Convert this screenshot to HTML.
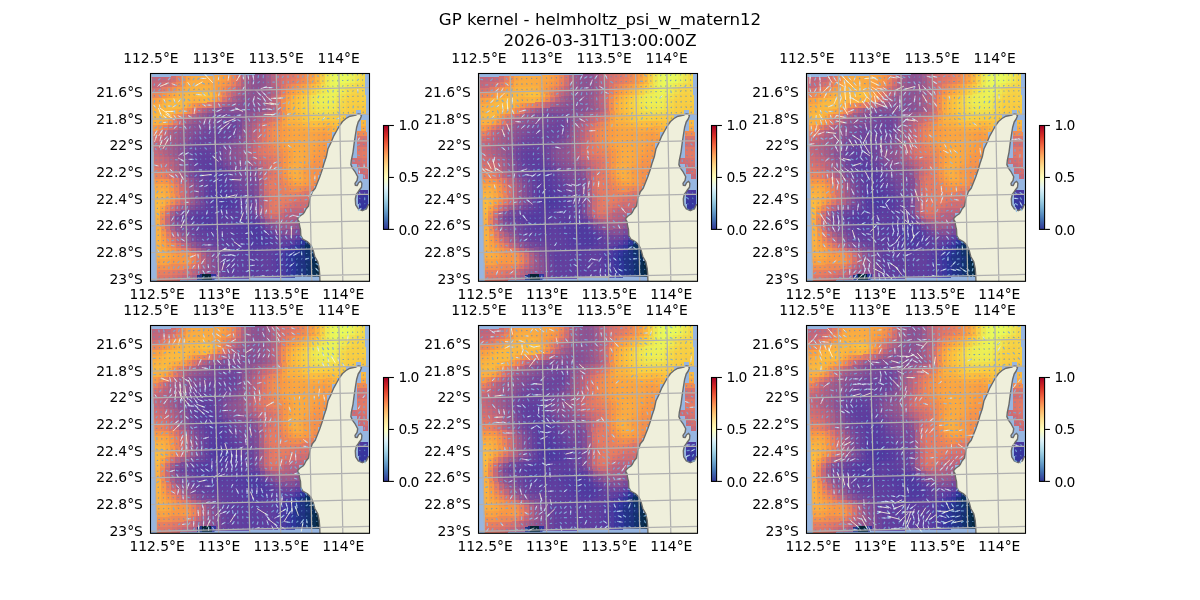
<!DOCTYPE html><html><head><meta charset="utf-8"><title>GP kernel</title>
<style>html,body{margin:0;padding:0;background:#fff}svg{display:block}text{font-family:"DejaVu Sans","Liberation Sans",sans-serif;fill:#000}</style></head><body>
<svg width="1200" height="600" viewBox="0 0 1200 600">
<rect width="1200" height="600" fill="#fff"/>
<defs>
<clipPath id="cp"><rect x="150.5" y="73.5" width="219" height="207.8"/></clipPath>
<linearGradient id="cb" x1="0" y1="1" x2="0" y2="0">
<stop offset="0" stop-color="#313695"/>
<stop offset="0.1" stop-color="#4575b4"/>
<stop offset="0.2" stop-color="#74add1"/>
<stop offset="0.3" stop-color="#abd9e9"/>
<stop offset="0.4" stop-color="#e0f3f8"/>
<stop offset="0.5" stop-color="#ffffbf"/>
<stop offset="0.6" stop-color="#fee090"/>
<stop offset="0.7" stop-color="#fdae61"/>
<stop offset="0.8" stop-color="#f46d43"/>
<stop offset="0.9" stop-color="#d73027"/>
<stop offset="1" stop-color="#a50026"/>
</linearGradient>
<g id="heat" transform="matrix(4.9629 -0.1189 0.1444 5.3660 151.495 76.990)" shape-rendering="crispEdges">
<rect x="0" y="0" width="1.03" height="1.03" fill="#be667d"/>
<rect x="1" y="0" width="1.03" height="1.03" fill="#bf667d"/>
<rect x="2" y="0" width="1.03" height="1.03" fill="#c3677b"/>
<rect x="3" y="0" width="1.03" height="1.03" fill="#c86a78"/>
<rect x="4" y="0" width="1.03" height="1.03" fill="#d17071"/>
<rect x="5" y="0" width="1.03" height="1.03" fill="#e57c64"/>
<rect x="6" y="0" width="1.03" height="1.03" fill="#f4924d"/>
<rect x="7" y="0" width="1.03" height="1.03" fill="#f9a343"/>
<rect x="8" y="0" width="1.03" height="1.03" fill="#faaa42"/>
<rect x="9" y="0" width="2.03" height="1.03" fill="#faab42"/>
<rect x="11" y="0" width="1.03" height="1.03" fill="#faaa42"/>
<rect x="12" y="0" width="1.03" height="1.03" fill="#faa842"/>
<rect x="13" y="0" width="1.03" height="1.03" fill="#faa542"/>
<rect x="14" y="0" width="1.03" height="1.03" fill="#f99f43"/>
<rect x="15" y="0" width="1.03" height="1.03" fill="#f69549"/>
<rect x="16" y="0" width="1.03" height="1.03" fill="#ec8758"/>
<rect x="17" y="0" width="1.03" height="1.03" fill="#d7746d"/>
<rect x="18" y="0" width="1.03" height="1.03" fill="#b76480"/>
<rect x="19" y="0" width="1.03" height="1.03" fill="#9d5a8b"/>
<rect x="20" y="0" width="1.03" height="1.03" fill="#915490"/>
<rect x="21" y="0" width="1.03" height="1.03" fill="#8d5391"/>
<rect x="22" y="0" width="1.03" height="1.03" fill="#925590"/>
<rect x="23" y="0" width="1.03" height="1.03" fill="#a15c8a"/>
<rect x="24" y="0" width="1.03" height="1.03" fill="#b9647f"/>
<rect x="25" y="0" width="1.03" height="1.03" fill="#cb6c76"/>
<rect x="26" y="0" width="1.03" height="1.03" fill="#d5726f"/>
<rect x="27" y="0" width="1.03" height="1.03" fill="#db766b"/>
<rect x="28" y="0" width="1.03" height="1.03" fill="#e17967"/>
<rect x="29" y="0" width="1.03" height="1.03" fill="#e77f61"/>
<rect x="30" y="0" width="1.03" height="1.03" fill="#ed8857"/>
<rect x="31" y="0" width="1.03" height="1.03" fill="#f4924d"/>
<rect x="32" y="0" width="1.03" height="1.03" fill="#f99e43"/>
<rect x="33" y="0" width="1.03" height="1.03" fill="#fab340"/>
<rect x="34" y="0" width="1.03" height="1.03" fill="#f8cd43"/>
<rect x="35" y="0" width="1.03" height="1.03" fill="#efe751"/>
<rect x="36" y="0" width="1.03" height="1.03" fill="#eaf558"/>
<rect x="37" y="0" width="2.03" height="1.03" fill="#e8fa5b"/>
<rect x="39" y="0" width="1.03" height="1.03" fill="#e9f85a"/>
<rect x="40" y="0" width="1.03" height="1.03" fill="#ebf156"/>
<rect x="41" y="0" width="1.03" height="1.03" fill="#efe650"/>
<rect x="42" y="0" width="1.00" height="1.03" fill="#f3da4a"/>
<rect x="0" y="1" width="1.03" height="1.03" fill="#c4687a"/>
<rect x="1" y="1" width="1.03" height="1.03" fill="#c76979"/>
<rect x="2" y="1" width="1.03" height="1.03" fill="#ce6e74"/>
<rect x="3" y="1" width="1.03" height="1.03" fill="#d7736e"/>
<rect x="4" y="1" width="1.03" height="1.03" fill="#e37b66"/>
<rect x="5" y="1" width="1.03" height="1.03" fill="#ee8a55"/>
<rect x="6" y="1" width="1.03" height="1.03" fill="#f99b44"/>
<rect x="7" y="1" width="1.03" height="1.03" fill="#faaa42"/>
<rect x="8" y="1" width="2.03" height="1.03" fill="#faad41"/>
<rect x="10" y="1" width="1.03" height="1.03" fill="#faac41"/>
<rect x="11" y="1" width="1.03" height="1.03" fill="#faaa42"/>
<rect x="12" y="1" width="1.03" height="1.03" fill="#faa642"/>
<rect x="13" y="1" width="1.03" height="1.03" fill="#f9a043"/>
<rect x="14" y="1" width="1.03" height="1.03" fill="#f89945"/>
<rect x="15" y="1" width="1.03" height="1.03" fill="#f2904f"/>
<rect x="16" y="1" width="1.03" height="1.03" fill="#e8805f"/>
<rect x="17" y="1" width="1.03" height="1.03" fill="#d27071"/>
<rect x="18" y="1" width="1.03" height="1.03" fill="#b46281"/>
<rect x="19" y="1" width="1.03" height="1.03" fill="#9c5a8c"/>
<rect x="20" y="1" width="1.03" height="1.03" fill="#905490"/>
<rect x="21" y="1" width="1.03" height="1.03" fill="#8d5391"/>
<rect x="22" y="1" width="1.03" height="1.03" fill="#925590"/>
<rect x="23" y="1" width="1.03" height="1.03" fill="#a05c8a"/>
<rect x="24" y="1" width="1.03" height="1.03" fill="#b66380"/>
<rect x="25" y="1" width="1.03" height="1.03" fill="#ca6b77"/>
<rect x="26" y="1" width="1.03" height="1.03" fill="#d6736e"/>
<rect x="27" y="1" width="1.03" height="1.03" fill="#de7869"/>
<rect x="28" y="1" width="1.03" height="1.03" fill="#e57d63"/>
<rect x="29" y="1" width="1.03" height="1.03" fill="#ea845c"/>
<rect x="30" y="1" width="1.03" height="1.03" fill="#f08d52"/>
<rect x="31" y="1" width="1.03" height="1.03" fill="#f69648"/>
<rect x="32" y="1" width="1.03" height="1.03" fill="#f9a443"/>
<rect x="33" y="1" width="1.03" height="1.03" fill="#fab740"/>
<rect x="34" y="1" width="1.03" height="1.03" fill="#f7d045"/>
<rect x="35" y="1" width="1.03" height="1.03" fill="#eee851"/>
<rect x="36" y="1" width="1.03" height="1.03" fill="#eaf559"/>
<rect x="37" y="1" width="2.03" height="1.03" fill="#e8fa5b"/>
<rect x="39" y="1" width="1.03" height="1.03" fill="#e9f759"/>
<rect x="40" y="1" width="1.03" height="1.03" fill="#ecef55"/>
<rect x="41" y="1" width="1.03" height="1.03" fill="#efe550"/>
<rect x="42" y="1" width="1.00" height="1.03" fill="#f3da4a"/>
<rect x="0" y="2" width="1.03" height="1.03" fill="#d5726f"/>
<rect x="1" y="2" width="1.03" height="1.03" fill="#d9746c"/>
<rect x="2" y="2" width="1.03" height="1.03" fill="#e37b65"/>
<rect x="3" y="2" width="1.03" height="1.03" fill="#eb855a"/>
<rect x="4" y="2" width="1.03" height="1.03" fill="#f3914e"/>
<rect x="5" y="2" width="1.03" height="1.03" fill="#f99d44"/>
<rect x="6" y="2" width="1.03" height="1.03" fill="#faab42"/>
<rect x="7" y="2" width="1.03" height="1.03" fill="#fab241"/>
<rect x="8" y="2" width="3.03" height="1.03" fill="#fab340"/>
<rect x="11" y="2" width="1.03" height="1.03" fill="#faaf41"/>
<rect x="12" y="2" width="1.03" height="1.03" fill="#faa742"/>
<rect x="13" y="2" width="1.03" height="1.03" fill="#f99b44"/>
<rect x="14" y="2" width="1.03" height="1.03" fill="#f2904f"/>
<rect x="15" y="2" width="1.03" height="1.03" fill="#e9825d"/>
<rect x="16" y="2" width="1.03" height="1.03" fill="#d9756c"/>
<rect x="17" y="2" width="1.03" height="1.03" fill="#c4687a"/>
<rect x="18" y="2" width="1.03" height="1.03" fill="#ac6085"/>
<rect x="19" y="2" width="1.03" height="1.03" fill="#99598d"/>
<rect x="20" y="2" width="1.03" height="1.03" fill="#905490"/>
<rect x="21" y="2" width="1.03" height="1.03" fill="#8e5391"/>
<rect x="22" y="2" width="1.03" height="1.03" fill="#93558f"/>
<rect x="23" y="2" width="1.03" height="1.03" fill="#9f5b8b"/>
<rect x="24" y="2" width="1.03" height="1.03" fill="#b16282"/>
<rect x="25" y="2" width="1.03" height="1.03" fill="#c86a78"/>
<rect x="26" y="2" width="1.03" height="1.03" fill="#dc766a"/>
<rect x="27" y="2" width="1.03" height="1.03" fill="#e9825d"/>
<rect x="28" y="2" width="1.03" height="1.03" fill="#f08c53"/>
<rect x="29" y="2" width="1.03" height="1.03" fill="#f69549"/>
<rect x="30" y="2" width="1.03" height="1.03" fill="#f99f43"/>
<rect x="31" y="2" width="1.03" height="1.03" fill="#faab42"/>
<rect x="32" y="2" width="1.03" height="1.03" fill="#fab940"/>
<rect x="33" y="2" width="1.03" height="1.03" fill="#fac840"/>
<rect x="34" y="2" width="1.03" height="1.03" fill="#f3dc4b"/>
<rect x="35" y="2" width="1.03" height="1.03" fill="#edec53"/>
<rect x="36" y="2" width="1.03" height="1.03" fill="#eaf558"/>
<rect x="37" y="2" width="1.03" height="1.03" fill="#e9f759"/>
<rect x="38" y="2" width="1.03" height="1.03" fill="#ebf257"/>
<rect x="39" y="2" width="1.03" height="1.03" fill="#eeea53"/>
<rect x="40" y="2" width="1.03" height="1.03" fill="#f1e24e"/>
<rect x="41" y="2" width="1.03" height="1.03" fill="#f3db4a"/>
<rect x="42" y="2" width="1.00" height="1.03" fill="#f5d648"/>
<rect x="0" y="3" width="1.03" height="1.03" fill="#ec8758"/>
<rect x="1" y="3" width="1.03" height="1.03" fill="#ef8b53"/>
<rect x="2" y="3" width="1.03" height="1.03" fill="#f69549"/>
<rect x="3" y="3" width="1.03" height="1.03" fill="#f99f43"/>
<rect x="4" y="3" width="1.03" height="1.03" fill="#faa842"/>
<rect x="5" y="3" width="1.03" height="1.03" fill="#fab041"/>
<rect x="6" y="3" width="1.03" height="1.03" fill="#fab540"/>
<rect x="7" y="3" width="2.03" height="1.03" fill="#fab740"/>
<rect x="9" y="3" width="1.03" height="1.03" fill="#fbbb3f"/>
<rect x="10" y="3" width="1.03" height="1.03" fill="#fbc03f"/>
<rect x="11" y="3" width="1.03" height="1.03" fill="#fbbd3f"/>
<rect x="12" y="3" width="1.03" height="1.03" fill="#faaf41"/>
<rect x="13" y="3" width="1.03" height="1.03" fill="#f89945"/>
<rect x="14" y="3" width="1.03" height="1.03" fill="#eb855a"/>
<rect x="15" y="3" width="1.03" height="1.03" fill="#d8746d"/>
<rect x="16" y="3" width="1.03" height="1.03" fill="#c3677b"/>
<rect x="17" y="3" width="1.03" height="1.03" fill="#af6184"/>
<rect x="18" y="3" width="1.03" height="1.03" fill="#9f5c8a"/>
<rect x="19" y="3" width="1.03" height="1.03" fill="#94568f"/>
<rect x="20" y="3" width="1.03" height="1.03" fill="#8f5491"/>
<rect x="21" y="3" width="1.03" height="1.03" fill="#905490"/>
<rect x="22" y="3" width="1.03" height="1.03" fill="#97578e"/>
<rect x="23" y="3" width="1.03" height="1.03" fill="#a35d89"/>
<rect x="24" y="3" width="1.03" height="1.03" fill="#b66381"/>
<rect x="25" y="3" width="1.03" height="1.03" fill="#cf6e73"/>
<rect x="26" y="3" width="1.03" height="1.03" fill="#e77f60"/>
<rect x="27" y="3" width="1.03" height="1.03" fill="#f4924c"/>
<rect x="28" y="3" width="1.03" height="1.03" fill="#f99f43"/>
<rect x="29" y="3" width="1.03" height="1.03" fill="#faab42"/>
<rect x="30" y="3" width="1.03" height="1.03" fill="#fab740"/>
<rect x="31" y="3" width="1.03" height="1.03" fill="#fbc33e"/>
<rect x="32" y="3" width="1.03" height="1.03" fill="#f7d145"/>
<rect x="33" y="3" width="1.03" height="1.03" fill="#f2dd4b"/>
<rect x="34" y="3" width="1.03" height="1.03" fill="#efe751"/>
<rect x="35" y="3" width="1.03" height="1.03" fill="#ecef55"/>
<rect x="36" y="3" width="1.03" height="1.03" fill="#eaf357"/>
<rect x="37" y="3" width="1.03" height="1.03" fill="#ebf156"/>
<rect x="38" y="3" width="1.03" height="1.03" fill="#eee851"/>
<rect x="39" y="3" width="1.03" height="1.03" fill="#f2dd4b"/>
<rect x="40" y="3" width="1.03" height="1.03" fill="#f5d547"/>
<rect x="41" y="3" width="1.03" height="1.03" fill="#f6d245"/>
<rect x="42" y="3" width="1.00" height="1.03" fill="#f6d346"/>
<rect x="0" y="4" width="1.03" height="1.03" fill="#f99f43"/>
<rect x="1" y="4" width="1.03" height="1.03" fill="#f9a443"/>
<rect x="2" y="4" width="1.03" height="1.03" fill="#faaf41"/>
<rect x="3" y="4" width="1.03" height="1.03" fill="#fab640"/>
<rect x="4" y="4" width="1.03" height="1.03" fill="#fab840"/>
<rect x="5" y="4" width="1.03" height="1.03" fill="#fab940"/>
<rect x="6" y="4" width="1.03" height="1.03" fill="#fab840"/>
<rect x="7" y="4" width="1.03" height="1.03" fill="#fab440"/>
<rect x="8" y="4" width="1.03" height="1.03" fill="#faaf41"/>
<rect x="9" y="4" width="1.03" height="1.03" fill="#fab141"/>
<rect x="10" y="4" width="1.03" height="1.03" fill="#fab540"/>
<rect x="11" y="4" width="1.03" height="1.03" fill="#fab041"/>
<rect x="12" y="4" width="1.03" height="1.03" fill="#f99e43"/>
<rect x="13" y="4" width="1.03" height="1.03" fill="#ee8956"/>
<rect x="14" y="4" width="1.03" height="1.03" fill="#d9746c"/>
<rect x="15" y="4" width="1.03" height="1.03" fill="#c0667c"/>
<rect x="16" y="4" width="1.03" height="1.03" fill="#aa5f86"/>
<rect x="17" y="4" width="1.03" height="1.03" fill="#9b5a8c"/>
<rect x="18" y="4" width="1.03" height="1.03" fill="#92558f"/>
<rect x="19" y="4" width="1.03" height="1.03" fill="#8e5391"/>
<rect x="20" y="4" width="1.03" height="1.03" fill="#8d5391"/>
<rect x="21" y="4" width="1.03" height="1.03" fill="#915590"/>
<rect x="22" y="4" width="1.03" height="1.03" fill="#9a598c"/>
<rect x="23" y="4" width="1.03" height="1.03" fill="#a95f86"/>
<rect x="24" y="4" width="1.03" height="1.03" fill="#be667d"/>
<rect x="25" y="4" width="1.03" height="1.03" fill="#d9756c"/>
<rect x="26" y="4" width="1.03" height="1.03" fill="#f08c53"/>
<rect x="27" y="4" width="1.03" height="1.03" fill="#f9a243"/>
<rect x="28" y="4" width="1.03" height="1.03" fill="#fab241"/>
<rect x="29" y="4" width="1.03" height="1.03" fill="#fbbd3f"/>
<rect x="30" y="4" width="1.03" height="1.03" fill="#f9c840"/>
<rect x="31" y="4" width="1.03" height="1.03" fill="#f5d648"/>
<rect x="32" y="4" width="1.03" height="1.03" fill="#f0e24e"/>
<rect x="33" y="4" width="1.03" height="1.03" fill="#eeea52"/>
<rect x="34" y="4" width="1.03" height="1.03" fill="#ecee54"/>
<rect x="35" y="4" width="1.03" height="1.03" fill="#ecf056"/>
<rect x="36" y="4" width="1.03" height="1.03" fill="#ecf055"/>
<rect x="37" y="4" width="1.03" height="1.03" fill="#eee952"/>
<rect x="38" y="4" width="1.03" height="1.03" fill="#f2de4c"/>
<rect x="39" y="4" width="1.03" height="1.03" fill="#f5d547"/>
<rect x="40" y="4" width="1.03" height="1.03" fill="#f7d044"/>
<rect x="41" y="4" width="1.03" height="1.03" fill="#f7cf44"/>
<rect x="42" y="4" width="1.00" height="1.03" fill="#f7d145"/>
<rect x="0" y="5" width="1.03" height="1.03" fill="#faab42"/>
<rect x="1" y="5" width="1.03" height="1.03" fill="#faaf41"/>
<rect x="2" y="5" width="1.03" height="1.03" fill="#fab640"/>
<rect x="3" y="5" width="3.03" height="1.03" fill="#fab940"/>
<rect x="6" y="5" width="1.03" height="1.03" fill="#fab440"/>
<rect x="7" y="5" width="1.03" height="1.03" fill="#faa542"/>
<rect x="8" y="5" width="1.03" height="1.03" fill="#f5944b"/>
<rect x="9" y="5" width="1.03" height="1.03" fill="#ed8956"/>
<rect x="10" y="5" width="1.03" height="1.03" fill="#e8815f"/>
<rect x="11" y="5" width="1.03" height="1.03" fill="#e07968"/>
<rect x="12" y="5" width="1.03" height="1.03" fill="#d27071"/>
<rect x="13" y="5" width="1.03" height="1.03" fill="#c2677b"/>
<rect x="14" y="5" width="1.03" height="1.03" fill="#b06183"/>
<rect x="15" y="5" width="1.03" height="1.03" fill="#a15c89"/>
<rect x="16" y="5" width="1.03" height="1.03" fill="#97578e"/>
<rect x="17" y="5" width="1.03" height="1.03" fill="#8f5391"/>
<rect x="18" y="5" width="1.03" height="1.03" fill="#8a5193"/>
<rect x="19" y="5" width="1.03" height="1.03" fill="#885093"/>
<rect x="20" y="5" width="1.03" height="1.03" fill="#8a5193"/>
<rect x="21" y="5" width="1.03" height="1.03" fill="#8f5391"/>
<rect x="22" y="5" width="1.03" height="1.03" fill="#98588d"/>
<rect x="23" y="5" width="1.03" height="1.03" fill="#a65e88"/>
<rect x="24" y="5" width="1.03" height="1.03" fill="#bb657e"/>
<rect x="25" y="5" width="1.03" height="1.03" fill="#d9756c"/>
<rect x="26" y="5" width="1.03" height="1.03" fill="#f28f50"/>
<rect x="27" y="5" width="1.03" height="1.03" fill="#faa942"/>
<rect x="28" y="5" width="1.03" height="1.03" fill="#fab940"/>
<rect x="29" y="5" width="1.03" height="1.03" fill="#fbc33e"/>
<rect x="30" y="5" width="1.03" height="1.03" fill="#f7cf44"/>
<rect x="31" y="5" width="1.03" height="1.03" fill="#f3db4a"/>
<rect x="32" y="5" width="1.03" height="1.03" fill="#efe650"/>
<rect x="33" y="5" width="1.03" height="1.03" fill="#edec53"/>
<rect x="34" y="5" width="2.03" height="1.03" fill="#ecee55"/>
<rect x="36" y="5" width="1.03" height="1.03" fill="#edec53"/>
<rect x="37" y="5" width="1.03" height="1.03" fill="#f0e44f"/>
<rect x="38" y="5" width="1.03" height="1.03" fill="#f4d849"/>
<rect x="39" y="5" width="1.03" height="1.03" fill="#f7d045"/>
<rect x="40" y="5" width="1.03" height="1.03" fill="#f7cf44"/>
<rect x="41" y="5" width="1.03" height="1.03" fill="#f7ce44"/>
<rect x="42" y="5" width="1.00" height="1.03" fill="#f8ce43"/>
<rect x="0" y="6" width="1.03" height="1.03" fill="#fab141"/>
<rect x="1" y="6" width="1.03" height="1.03" fill="#fab440"/>
<rect x="2" y="6" width="1.03" height="1.03" fill="#fab840"/>
<rect x="3" y="6" width="1.03" height="1.03" fill="#fab540"/>
<rect x="4" y="6" width="1.03" height="1.03" fill="#faae41"/>
<rect x="5" y="6" width="1.03" height="1.03" fill="#faa642"/>
<rect x="6" y="6" width="1.03" height="1.03" fill="#f99a44"/>
<rect x="7" y="6" width="1.03" height="1.03" fill="#ee8956"/>
<rect x="8" y="6" width="1.03" height="1.03" fill="#dc766a"/>
<rect x="9" y="6" width="1.03" height="1.03" fill="#c76979"/>
<rect x="10" y="6" width="1.03" height="1.03" fill="#b36282"/>
<rect x="11" y="6" width="1.03" height="1.03" fill="#a05c8a"/>
<rect x="12" y="6" width="1.03" height="1.03" fill="#925590"/>
<rect x="13" y="6" width="1.03" height="1.03" fill="#8a5193"/>
<rect x="14" y="6" width="3.03" height="1.03" fill="#885093"/>
<rect x="17" y="6" width="1.03" height="1.03" fill="#875094"/>
<rect x="18" y="6" width="1.03" height="1.03" fill="#874f94"/>
<rect x="19" y="6" width="1.03" height="1.03" fill="#875094"/>
<rect x="20" y="6" width="1.03" height="1.03" fill="#8b5192"/>
<rect x="21" y="6" width="1.03" height="1.03" fill="#915490"/>
<rect x="22" y="6" width="1.03" height="1.03" fill="#99598d"/>
<rect x="23" y="6" width="1.03" height="1.03" fill="#a55e88"/>
<rect x="24" y="6" width="1.03" height="1.03" fill="#b76480"/>
<rect x="25" y="6" width="1.03" height="1.03" fill="#d5726f"/>
<rect x="26" y="6" width="1.03" height="1.03" fill="#f18d51"/>
<rect x="27" y="6" width="1.03" height="1.03" fill="#faa942"/>
<rect x="28" y="6" width="1.03" height="1.03" fill="#fab840"/>
<rect x="29" y="6" width="1.03" height="1.03" fill="#fbc23e"/>
<rect x="30" y="6" width="1.03" height="1.03" fill="#f8cc42"/>
<rect x="31" y="6" width="1.03" height="1.03" fill="#f5d648"/>
<rect x="32" y="6" width="1.03" height="1.03" fill="#f1df4d"/>
<rect x="33" y="6" width="1.03" height="1.03" fill="#efe650"/>
<rect x="34" y="6" width="1.03" height="1.03" fill="#eee852"/>
<rect x="35" y="6" width="1.03" height="1.03" fill="#eee952"/>
<rect x="36" y="6" width="1.03" height="1.03" fill="#efe751"/>
<rect x="37" y="6" width="1.03" height="1.03" fill="#f1df4d"/>
<rect x="38" y="6" width="1.03" height="1.03" fill="#f5d547"/>
<rect x="39" y="6" width="1.03" height="1.03" fill="#f7ce43"/>
<rect x="40" y="6" width="1.03" height="1.03" fill="#f8cd43"/>
<rect x="41" y="6" width="1.03" height="1.03" fill="#f8cb42"/>
<rect x="42" y="6" width="1.00" height="1.03" fill="#f9c941"/>
<rect x="0" y="7" width="1.03" height="1.03" fill="#fab640"/>
<rect x="1" y="7" width="1.03" height="1.03" fill="#fab940"/>
<rect x="2" y="7" width="1.03" height="1.03" fill="#fbba3f"/>
<rect x="3" y="7" width="1.03" height="1.03" fill="#faac41"/>
<rect x="4" y="7" width="1.03" height="1.03" fill="#f69648"/>
<rect x="5" y="7" width="1.03" height="1.03" fill="#eb855b"/>
<rect x="6" y="7" width="1.03" height="1.03" fill="#dd776a"/>
<rect x="7" y="7" width="1.03" height="1.03" fill="#ca6b76"/>
<rect x="8" y="7" width="1.03" height="1.03" fill="#b66380"/>
<rect x="9" y="7" width="1.03" height="1.03" fill="#a45d88"/>
<rect x="10" y="7" width="1.03" height="1.03" fill="#96578e"/>
<rect x="11" y="7" width="1.03" height="1.03" fill="#885093"/>
<rect x="12" y="7" width="1.03" height="1.03" fill="#7d4b98"/>
<rect x="13" y="7" width="1.03" height="1.03" fill="#784899"/>
<rect x="14" y="7" width="1.03" height="1.03" fill="#784999"/>
<rect x="15" y="7" width="1.03" height="1.03" fill="#7a4999"/>
<rect x="16" y="7" width="1.03" height="1.03" fill="#7c4a98"/>
<rect x="17" y="7" width="1.03" height="1.03" fill="#814c96"/>
<rect x="18" y="7" width="1.03" height="1.03" fill="#885093"/>
<rect x="19" y="7" width="1.03" height="1.03" fill="#8f5491"/>
<rect x="20" y="7" width="1.03" height="1.03" fill="#97578e"/>
<rect x="21" y="7" width="1.03" height="1.03" fill="#a15c8a"/>
<rect x="22" y="7" width="1.03" height="1.03" fill="#ad6084"/>
<rect x="23" y="7" width="1.03" height="1.03" fill="#b9647f"/>
<rect x="24" y="7" width="1.03" height="1.03" fill="#c86a78"/>
<rect x="25" y="7" width="1.03" height="1.03" fill="#e17967"/>
<rect x="26" y="7" width="1.03" height="1.03" fill="#f5944a"/>
<rect x="27" y="7" width="1.03" height="1.03" fill="#faac41"/>
<rect x="28" y="7" width="1.03" height="1.03" fill="#fab640"/>
<rect x="29" y="7" width="1.03" height="1.03" fill="#fbbe3f"/>
<rect x="30" y="7" width="1.03" height="1.03" fill="#fac840"/>
<rect x="31" y="7" width="1.03" height="1.03" fill="#f6d246"/>
<rect x="32" y="7" width="1.03" height="1.03" fill="#f4d849"/>
<rect x="33" y="7" width="1.03" height="1.03" fill="#f2dc4b"/>
<rect x="34" y="7" width="2.03" height="1.03" fill="#f2de4c"/>
<rect x="36" y="7" width="1.03" height="1.03" fill="#f3db4b"/>
<rect x="37" y="7" width="1.03" height="1.03" fill="#f4d748"/>
<rect x="38" y="7" width="1.03" height="1.03" fill="#f7d045"/>
<rect x="39" y="7" width="1.03" height="1.03" fill="#f9cb42"/>
<rect x="40" y="7" width="1.03" height="1.03" fill="#f9c840"/>
<rect x="42" y="7" width="1.00" height="1.03" fill="#fbc43e"/>
<rect x="0" y="8" width="1.03" height="1.03" fill="#faaf41"/>
<rect x="1" y="8" width="1.03" height="1.03" fill="#faad41"/>
<rect x="2" y="8" width="1.03" height="1.03" fill="#f9a343"/>
<rect x="3" y="8" width="1.03" height="1.03" fill="#f2904e"/>
<rect x="4" y="8" width="1.03" height="1.03" fill="#e27a66"/>
<rect x="5" y="8" width="1.03" height="1.03" fill="#ca6b77"/>
<rect x="6" y="8" width="1.03" height="1.03" fill="#b46282"/>
<rect x="7" y="8" width="1.03" height="1.03" fill="#a35d89"/>
<rect x="8" y="8" width="1.03" height="1.03" fill="#98588d"/>
<rect x="9" y="8" width="1.03" height="1.03" fill="#915490"/>
<rect x="10" y="8" width="1.03" height="1.03" fill="#8b5292"/>
<rect x="11" y="8" width="1.03" height="1.03" fill="#844e95"/>
<rect x="12" y="8" width="1.03" height="1.03" fill="#7e4b97"/>
<rect x="13" y="8" width="1.03" height="1.03" fill="#794999"/>
<rect x="14" y="8" width="1.03" height="1.03" fill="#764799"/>
<rect x="15" y="8" width="2.03" height="1.03" fill="#73469a"/>
<rect x="17" y="8" width="1.03" height="1.03" fill="#7d4a98"/>
<rect x="18" y="8" width="1.03" height="1.03" fill="#8c5292"/>
<rect x="19" y="8" width="1.03" height="1.03" fill="#9a598c"/>
<rect x="20" y="8" width="1.03" height="1.03" fill="#a85e87"/>
<rect x="21" y="8" width="1.03" height="1.03" fill="#b86480"/>
<rect x="22" y="8" width="1.03" height="1.03" fill="#c96b77"/>
<rect x="23" y="8" width="1.03" height="1.03" fill="#d5726f"/>
<rect x="24" y="8" width="1.03" height="1.03" fill="#e17a67"/>
<rect x="25" y="8" width="1.03" height="1.03" fill="#ef8a55"/>
<rect x="26" y="8" width="1.03" height="1.03" fill="#f9a143"/>
<rect x="27" y="8" width="1.03" height="1.03" fill="#fab141"/>
<rect x="28" y="8" width="1.03" height="1.03" fill="#fab440"/>
<rect x="29" y="8" width="1.03" height="1.03" fill="#fab940"/>
<rect x="30" y="8" width="1.03" height="1.03" fill="#fbc33e"/>
<rect x="31" y="8" width="1.03" height="1.03" fill="#f8cd43"/>
<rect x="32" y="8" width="1.03" height="1.03" fill="#f7d044"/>
<rect x="33" y="8" width="1.03" height="1.03" fill="#f7cf44"/>
<rect x="34" y="8" width="1.03" height="1.03" fill="#f8ce43"/>
<rect x="35" y="8" width="1.03" height="1.03" fill="#f8cc42"/>
<rect x="36" y="8" width="1.03" height="1.03" fill="#f9cb42"/>
<rect x="37" y="8" width="1.03" height="1.03" fill="#f9ca41"/>
<rect x="38" y="8" width="1.03" height="1.03" fill="#f9c941"/>
<rect x="0" y="9" width="1.03" height="1.03" fill="#f89846"/>
<rect x="1" y="9" width="1.03" height="1.03" fill="#f18e50"/>
<rect x="2" y="9" width="1.03" height="1.03" fill="#e57d63"/>
<rect x="3" y="9" width="1.03" height="1.03" fill="#d27071"/>
<rect x="4" y="9" width="1.03" height="1.03" fill="#be667d"/>
<rect x="5" y="9" width="1.03" height="1.03" fill="#aa5f85"/>
<rect x="6" y="9" width="1.03" height="1.03" fill="#9b598c"/>
<rect x="7" y="9" width="1.03" height="1.03" fill="#915490"/>
<rect x="8" y="9" width="1.03" height="1.03" fill="#8a5193"/>
<rect x="9" y="9" width="1.03" height="1.03" fill="#844e95"/>
<rect x="10" y="9" width="1.03" height="1.03" fill="#7f4b97"/>
<rect x="11" y="9" width="1.03" height="1.03" fill="#7a4998"/>
<rect x="12" y="9" width="1.03" height="1.03" fill="#764799"/>
<rect x="13" y="9" width="1.03" height="1.03" fill="#73469a"/>
<rect x="14" y="9" width="1.03" height="1.03" fill="#71459a"/>
<rect x="15" y="9" width="1.03" height="1.03" fill="#6f449b"/>
<rect x="16" y="9" width="1.03" height="1.03" fill="#70459b"/>
<rect x="17" y="9" width="1.03" height="1.03" fill="#7c4a98"/>
<rect x="18" y="9" width="1.03" height="1.03" fill="#905490"/>
<rect x="19" y="9" width="1.03" height="1.03" fill="#a25d89"/>
<rect x="20" y="9" width="1.03" height="1.03" fill="#b36282"/>
<rect x="21" y="9" width="1.03" height="1.03" fill="#c76979"/>
<rect x="22" y="9" width="1.03" height="1.03" fill="#d9756c"/>
<rect x="23" y="9" width="1.03" height="1.03" fill="#e67e62"/>
<rect x="24" y="9" width="1.03" height="1.03" fill="#ed8857"/>
<rect x="25" y="9" width="1.03" height="1.03" fill="#f5944a"/>
<rect x="26" y="9" width="1.03" height="1.03" fill="#f9a343"/>
<rect x="27" y="9" width="1.03" height="1.03" fill="#faac41"/>
<rect x="28" y="9" width="1.03" height="1.03" fill="#faae41"/>
<rect x="29" y="9" width="1.03" height="1.03" fill="#fab141"/>
<rect x="30" y="9" width="1.03" height="1.03" fill="#fab740"/>
<rect x="31" y="9" width="1.03" height="1.03" fill="#fbbc3f"/>
<rect x="32" y="9" width="1.03" height="1.03" fill="#fbbe3f"/>
<rect x="33" y="9" width="1.03" height="1.03" fill="#fbbc3f"/>
<rect x="34" y="9" width="1.03" height="1.03" fill="#fab940"/>
<rect x="35" y="9" width="1.03" height="1.03" fill="#fbba3f"/>
<rect x="36" y="9" width="1.03" height="1.03" fill="#fbbe3f"/>
<rect x="37" y="9" width="1.03" height="1.03" fill="#fbc13e"/>
<rect x="42" y="9" width="1.00" height="1.03" fill="#fab840"/>
<rect x="0" y="10" width="1.03" height="1.03" fill="#e9825e"/>
<rect x="1" y="10" width="1.03" height="1.03" fill="#dd776a"/>
<rect x="2" y="10" width="1.03" height="1.03" fill="#c66979"/>
<rect x="3" y="10" width="1.03" height="1.03" fill="#b26282"/>
<rect x="4" y="10" width="1.03" height="1.03" fill="#a55e88"/>
<rect x="5" y="10" width="1.03" height="1.03" fill="#9a598c"/>
<rect x="6" y="10" width="1.03" height="1.03" fill="#925590"/>
<rect x="7" y="10" width="1.03" height="1.03" fill="#8a5192"/>
<rect x="8" y="10" width="1.03" height="1.03" fill="#834e95"/>
<rect x="9" y="10" width="1.03" height="1.03" fill="#7c4a98"/>
<rect x="10" y="10" width="1.03" height="1.03" fill="#75479a"/>
<rect x="11" y="10" width="1.03" height="1.03" fill="#70459b"/>
<rect x="12" y="10" width="3.03" height="1.03" fill="#6d449b"/>
<rect x="15" y="10" width="1.03" height="1.03" fill="#6e449b"/>
<rect x="16" y="10" width="1.03" height="1.03" fill="#72469a"/>
<rect x="17" y="10" width="1.03" height="1.03" fill="#804c96"/>
<rect x="18" y="10" width="1.03" height="1.03" fill="#93568f"/>
<rect x="19" y="10" width="1.03" height="1.03" fill="#a65e88"/>
<rect x="20" y="10" width="1.03" height="1.03" fill="#b86480"/>
<rect x="21" y="10" width="1.03" height="1.03" fill="#cc6c75"/>
<rect x="22" y="10" width="1.03" height="1.03" fill="#df7868"/>
<rect x="23" y="10" width="1.03" height="1.03" fill="#eb855b"/>
<rect x="24" y="10" width="1.03" height="1.03" fill="#f18e51"/>
<rect x="25" y="10" width="1.03" height="1.03" fill="#f69549"/>
<rect x="26" y="10" width="1.03" height="1.03" fill="#f99c44"/>
<rect x="27" y="10" width="1.03" height="1.03" fill="#f9a343"/>
<rect x="28" y="10" width="1.03" height="1.03" fill="#faa742"/>
<rect x="29" y="10" width="1.03" height="1.03" fill="#faa842"/>
<rect x="30" y="10" width="1.03" height="1.03" fill="#faa942"/>
<rect x="31" y="10" width="2.03" height="1.03" fill="#faab42"/>
<rect x="33" y="10" width="1.03" height="1.03" fill="#faa942"/>
<rect x="34" y="10" width="1.03" height="1.03" fill="#faa642"/>
<rect x="35" y="10" width="1.03" height="1.03" fill="#faab42"/>
<rect x="36" y="10" width="1.03" height="1.03" fill="#fab440"/>
<rect x="42" y="10" width="1.00" height="1.03" fill="#faa842"/>
<rect x="0" y="11" width="1.03" height="1.03" fill="#d5726f"/>
<rect x="1" y="11" width="1.03" height="1.03" fill="#cb6b76"/>
<rect x="2" y="11" width="1.03" height="1.03" fill="#ba647f"/>
<rect x="3" y="11" width="1.03" height="1.03" fill="#ac6085"/>
<rect x="4" y="11" width="1.03" height="1.03" fill="#a15c8a"/>
<rect x="5" y="11" width="1.03" height="1.03" fill="#98588d"/>
<rect x="6" y="11" width="1.03" height="1.03" fill="#8f5391"/>
<rect x="7" y="11" width="1.03" height="1.03" fill="#854f94"/>
<rect x="8" y="11" width="1.03" height="1.03" fill="#7c4a98"/>
<rect x="9" y="11" width="1.03" height="1.03" fill="#75479a"/>
<rect x="10" y="11" width="1.03" height="1.03" fill="#70459b"/>
<rect x="11" y="11" width="1.03" height="1.03" fill="#6d449b"/>
<rect x="12" y="11" width="1.03" height="1.03" fill="#6c439b"/>
<rect x="13" y="11" width="1.03" height="1.03" fill="#6d449b"/>
<rect x="14" y="11" width="1.03" height="1.03" fill="#6f459b"/>
<rect x="15" y="11" width="1.03" height="1.03" fill="#72469a"/>
<rect x="16" y="11" width="1.03" height="1.03" fill="#794999"/>
<rect x="17" y="11" width="1.03" height="1.03" fill="#864f94"/>
<rect x="18" y="11" width="1.03" height="1.03" fill="#97588d"/>
<rect x="19" y="11" width="1.03" height="1.03" fill="#a95f86"/>
<rect x="20" y="11" width="1.03" height="1.03" fill="#ba657f"/>
<rect x="21" y="11" width="1.03" height="1.03" fill="#ce6e74"/>
<rect x="22" y="11" width="1.03" height="1.03" fill="#e07967"/>
<rect x="23" y="11" width="1.03" height="1.03" fill="#eb865a"/>
<rect x="24" y="11" width="1.03" height="1.03" fill="#f2904f"/>
<rect x="25" y="11" width="1.03" height="1.03" fill="#f79747"/>
<rect x="26" y="11" width="1.03" height="1.03" fill="#f99d44"/>
<rect x="27" y="11" width="1.03" height="1.03" fill="#f9a243"/>
<rect x="28" y="11" width="2.03" height="1.03" fill="#faa542"/>
<rect x="30" y="11" width="2.03" height="1.03" fill="#f9a443"/>
<rect x="32" y="11" width="1.03" height="1.03" fill="#f9a343"/>
<rect x="33" y="11" width="1.03" height="1.03" fill="#f9a043"/>
<rect x="34" y="11" width="1.03" height="1.03" fill="#f99c44"/>
<rect x="35" y="11" width="1.03" height="1.03" fill="#f9a143"/>
<rect x="41" y="11" width="1.03" height="1.03" fill="#ef8b54"/>
<rect x="42" y="11" width="1.00" height="1.03" fill="#f08c53"/>
<rect x="0" y="12" width="1.03" height="1.03" fill="#c76979"/>
<rect x="1" y="12" width="1.03" height="1.03" fill="#c0667c"/>
<rect x="2" y="12" width="1.03" height="1.03" fill="#b56381"/>
<rect x="3" y="12" width="1.03" height="1.03" fill="#aa5f86"/>
<rect x="4" y="12" width="1.03" height="1.03" fill="#a05c8a"/>
<rect x="5" y="12" width="1.03" height="1.03" fill="#95568e"/>
<rect x="6" y="12" width="1.03" height="1.03" fill="#895193"/>
<rect x="7" y="12" width="1.03" height="1.03" fill="#7d4b98"/>
<rect x="8" y="12" width="1.03" height="1.03" fill="#73469a"/>
<rect x="9" y="12" width="1.03" height="1.03" fill="#6e449b"/>
<rect x="10" y="12" width="1.03" height="1.03" fill="#6d449b"/>
<rect x="11" y="12" width="1.03" height="1.03" fill="#6c439b"/>
<rect x="12" y="12" width="1.03" height="1.03" fill="#6d449b"/>
<rect x="13" y="12" width="1.03" height="1.03" fill="#70459b"/>
<rect x="14" y="12" width="1.03" height="1.03" fill="#75479a"/>
<rect x="15" y="12" width="1.03" height="1.03" fill="#7b4998"/>
<rect x="16" y="12" width="1.03" height="1.03" fill="#824d96"/>
<rect x="17" y="12" width="1.03" height="1.03" fill="#8e5391"/>
<rect x="18" y="12" width="1.03" height="1.03" fill="#9d5a8b"/>
<rect x="19" y="12" width="1.03" height="1.03" fill="#ae6184"/>
<rect x="20" y="12" width="1.03" height="1.03" fill="#c0677c"/>
<rect x="21" y="12" width="1.03" height="1.03" fill="#d17071"/>
<rect x="22" y="12" width="1.03" height="1.03" fill="#e17a67"/>
<rect x="23" y="12" width="1.03" height="1.03" fill="#eb855b"/>
<rect x="24" y="12" width="1.03" height="1.03" fill="#f18e50"/>
<rect x="25" y="12" width="1.03" height="1.03" fill="#f79747"/>
<rect x="26" y="12" width="1.03" height="1.03" fill="#f9a043"/>
<rect x="27" y="12" width="1.03" height="1.03" fill="#faa542"/>
<rect x="28" y="12" width="4.03" height="1.03" fill="#faa642"/>
<rect x="32" y="12" width="1.03" height="1.03" fill="#f9a443"/>
<rect x="33" y="12" width="1.03" height="1.03" fill="#f99f43"/>
<rect x="34" y="12" width="1.03" height="1.03" fill="#f99b44"/>
<rect x="35" y="12" width="1.03" height="1.03" fill="#f99c44"/>
<rect x="41" y="12" width="1.03" height="1.03" fill="#d7736d"/>
<rect x="42" y="12" width="1.00" height="1.03" fill="#d8746d"/>
<rect x="0" y="13" width="1.03" height="1.03" fill="#c4687b"/>
<rect x="1" y="13" width="1.03" height="1.03" fill="#bb657e"/>
<rect x="2" y="13" width="1.03" height="1.03" fill="#af6184"/>
<rect x="3" y="13" width="1.03" height="1.03" fill="#a55d88"/>
<rect x="4" y="13" width="1.03" height="1.03" fill="#9a598c"/>
<rect x="5" y="13" width="1.03" height="1.03" fill="#8e5391"/>
<rect x="6" y="13" width="1.03" height="1.03" fill="#804c96"/>
<rect x="7" y="13" width="1.03" height="1.03" fill="#74479a"/>
<rect x="8" y="13" width="1.03" height="1.03" fill="#6b439c"/>
<rect x="9" y="13" width="2.03" height="1.03" fill="#67419d"/>
<rect x="11" y="13" width="1.03" height="1.03" fill="#68429d"/>
<rect x="12" y="13" width="1.03" height="1.03" fill="#6b439c"/>
<rect x="13" y="13" width="1.03" height="1.03" fill="#73469a"/>
<rect x="14" y="13" width="1.03" height="1.03" fill="#7d4b98"/>
<rect x="15" y="13" width="1.03" height="1.03" fill="#854e95"/>
<rect x="16" y="13" width="1.03" height="1.03" fill="#8c5292"/>
<rect x="17" y="13" width="1.03" height="1.03" fill="#95568e"/>
<rect x="18" y="13" width="1.03" height="1.03" fill="#a25d89"/>
<rect x="19" y="13" width="1.03" height="1.03" fill="#b66381"/>
<rect x="20" y="13" width="1.03" height="1.03" fill="#ca6b76"/>
<rect x="21" y="13" width="1.03" height="1.03" fill="#d9756c"/>
<rect x="22" y="13" width="1.03" height="1.03" fill="#e47b65"/>
<rect x="23" y="13" width="1.03" height="1.03" fill="#ea845c"/>
<rect x="24" y="13" width="1.03" height="1.03" fill="#ef8c53"/>
<rect x="25" y="13" width="1.03" height="1.03" fill="#f5944a"/>
<rect x="26" y="13" width="1.03" height="1.03" fill="#f99d44"/>
<rect x="27" y="13" width="1.03" height="1.03" fill="#faa542"/>
<rect x="28" y="13" width="1.03" height="1.03" fill="#faa842"/>
<rect x="29" y="13" width="1.03" height="1.03" fill="#faa942"/>
<rect x="30" y="13" width="1.03" height="1.03" fill="#faa842"/>
<rect x="31" y="13" width="1.03" height="1.03" fill="#faa642"/>
<rect x="32" y="13" width="1.03" height="1.03" fill="#f9a443"/>
<rect x="33" y="13" width="1.03" height="1.03" fill="#f99e43"/>
<rect x="34" y="13" width="1.03" height="1.03" fill="#f99a44"/>
<rect x="41" y="13" width="1.03" height="1.03" fill="#d17072"/>
<rect x="42" y="13" width="1.00" height="1.03" fill="#d27071"/>
<rect x="0" y="14" width="1.03" height="1.03" fill="#c76a78"/>
<rect x="1" y="14" width="1.03" height="1.03" fill="#bf667d"/>
<rect x="2" y="14" width="1.03" height="1.03" fill="#b26282"/>
<rect x="3" y="14" width="1.03" height="1.03" fill="#a75e87"/>
<rect x="4" y="14" width="1.03" height="1.03" fill="#9b5a8c"/>
<rect x="5" y="14" width="1.03" height="1.03" fill="#8d5292"/>
<rect x="6" y="14" width="1.03" height="1.03" fill="#7d4a98"/>
<rect x="7" y="14" width="1.03" height="1.03" fill="#6f459b"/>
<rect x="8" y="14" width="1.03" height="1.03" fill="#66419d"/>
<rect x="9" y="14" width="2.03" height="1.03" fill="#623f9e"/>
<rect x="11" y="14" width="1.03" height="1.03" fill="#63409e"/>
<rect x="12" y="14" width="1.03" height="1.03" fill="#68429c"/>
<rect x="13" y="14" width="1.03" height="1.03" fill="#74479a"/>
<rect x="14" y="14" width="1.03" height="1.03" fill="#824d96"/>
<rect x="15" y="14" width="1.03" height="1.03" fill="#8b5292"/>
<rect x="16" y="14" width="1.03" height="1.03" fill="#915490"/>
<rect x="17" y="14" width="1.03" height="1.03" fill="#98588d"/>
<rect x="18" y="14" width="1.03" height="1.03" fill="#a45d88"/>
<rect x="19" y="14" width="1.03" height="1.03" fill="#b9647f"/>
<rect x="20" y="14" width="1.03" height="1.03" fill="#ce6e74"/>
<rect x="21" y="14" width="1.03" height="1.03" fill="#dc766a"/>
<rect x="22" y="14" width="1.03" height="1.03" fill="#e37b65"/>
<rect x="23" y="14" width="1.03" height="1.03" fill="#e88060"/>
<rect x="24" y="14" width="1.03" height="1.03" fill="#ec8659"/>
<rect x="25" y="14" width="1.03" height="1.03" fill="#f18e50"/>
<rect x="26" y="14" width="1.03" height="1.03" fill="#f89846"/>
<rect x="27" y="14" width="1.03" height="1.03" fill="#f9a243"/>
<rect x="28" y="14" width="1.03" height="1.03" fill="#faaa42"/>
<rect x="29" y="14" width="1.03" height="1.03" fill="#faab42"/>
<rect x="30" y="14" width="1.03" height="1.03" fill="#faa842"/>
<rect x="31" y="14" width="1.03" height="1.03" fill="#f9a443"/>
<rect x="32" y="14" width="1.03" height="1.03" fill="#f9a143"/>
<rect x="33" y="14" width="1.03" height="1.03" fill="#f99b44"/>
<rect x="34" y="14" width="1.03" height="1.03" fill="#f89846"/>
<rect x="41" y="14" width="1.03" height="1.03" fill="#de7769"/>
<rect x="42" y="14" width="1.00" height="1.03" fill="#e07967"/>
<rect x="0" y="15" width="1.03" height="1.03" fill="#ce6e74"/>
<rect x="1" y="15" width="1.03" height="1.03" fill="#c96a77"/>
<rect x="2" y="15" width="1.03" height="1.03" fill="#bf667d"/>
<rect x="3" y="15" width="1.03" height="1.03" fill="#b26282"/>
<rect x="4" y="15" width="1.03" height="1.03" fill="#a45d88"/>
<rect x="5" y="15" width="1.03" height="1.03" fill="#93558f"/>
<rect x="6" y="15" width="1.03" height="1.03" fill="#814d96"/>
<rect x="7" y="15" width="1.03" height="1.03" fill="#71469a"/>
<rect x="8" y="15" width="1.03" height="1.03" fill="#66419d"/>
<rect x="9" y="15" width="1.03" height="1.03" fill="#613f9e"/>
<rect x="10" y="15" width="2.03" height="1.03" fill="#603e9e"/>
<rect x="12" y="15" width="1.03" height="1.03" fill="#65409d"/>
<rect x="13" y="15" width="1.03" height="1.03" fill="#72469a"/>
<rect x="14" y="15" width="1.03" height="1.03" fill="#804c96"/>
<rect x="15" y="15" width="1.03" height="1.03" fill="#895193"/>
<rect x="16" y="15" width="1.03" height="1.03" fill="#8f5391"/>
<rect x="17" y="15" width="1.03" height="1.03" fill="#95568e"/>
<rect x="18" y="15" width="1.03" height="1.03" fill="#9f5c8a"/>
<rect x="19" y="15" width="1.03" height="1.03" fill="#b16183"/>
<rect x="20" y="15" width="1.03" height="1.03" fill="#c5687a"/>
<rect x="21" y="15" width="1.03" height="1.03" fill="#d27071"/>
<rect x="22" y="15" width="1.03" height="1.03" fill="#da756b"/>
<rect x="23" y="15" width="1.03" height="1.03" fill="#e17967"/>
<rect x="24" y="15" width="1.03" height="1.03" fill="#e77f61"/>
<rect x="25" y="15" width="1.03" height="1.03" fill="#ee8a55"/>
<rect x="26" y="15" width="1.03" height="1.03" fill="#f79648"/>
<rect x="27" y="15" width="1.03" height="1.03" fill="#f9a243"/>
<rect x="28" y="15" width="1.03" height="1.03" fill="#faaa42"/>
<rect x="29" y="15" width="1.03" height="1.03" fill="#faab42"/>
<rect x="30" y="15" width="1.03" height="1.03" fill="#faa742"/>
<rect x="31" y="15" width="1.03" height="1.03" fill="#f9a143"/>
<rect x="32" y="15" width="1.03" height="1.03" fill="#f99a44"/>
<rect x="33" y="15" width="1.03" height="1.03" fill="#f79847"/>
<rect x="34" y="15" width="1.03" height="1.03" fill="#f69648"/>
<rect x="41" y="15" width="1.03" height="1.03" fill="#de7869"/>
<rect x="42" y="15" width="1.00" height="1.03" fill="#e37b65"/>
<rect x="0" y="16" width="1.03" height="1.03" fill="#d6736e"/>
<rect x="1" y="16" width="1.03" height="1.03" fill="#d27071"/>
<rect x="2" y="16" width="1.03" height="1.03" fill="#c96a77"/>
<rect x="3" y="16" width="1.03" height="1.03" fill="#ba647f"/>
<rect x="4" y="16" width="1.03" height="1.03" fill="#a85f86"/>
<rect x="5" y="16" width="1.03" height="1.03" fill="#96578e"/>
<rect x="6" y="16" width="1.03" height="1.03" fill="#844e95"/>
<rect x="7" y="16" width="1.03" height="1.03" fill="#73469a"/>
<rect x="8" y="16" width="1.03" height="1.03" fill="#67419d"/>
<rect x="9" y="16" width="1.03" height="1.03" fill="#613f9e"/>
<rect x="10" y="16" width="1.03" height="1.03" fill="#5f3e9e"/>
<rect x="11" y="16" width="1.03" height="1.03" fill="#5e3d9f"/>
<rect x="12" y="16" width="1.03" height="1.03" fill="#603f9e"/>
<rect x="13" y="16" width="1.03" height="1.03" fill="#6b439c"/>
<rect x="14" y="16" width="1.03" height="1.03" fill="#784899"/>
<rect x="15" y="16" width="1.03" height="1.03" fill="#824d96"/>
<rect x="16" y="16" width="1.03" height="1.03" fill="#885093"/>
<rect x="17" y="16" width="1.03" height="1.03" fill="#8e5391"/>
<rect x="18" y="16" width="1.03" height="1.03" fill="#95578e"/>
<rect x="19" y="16" width="1.03" height="1.03" fill="#a15c8a"/>
<rect x="20" y="16" width="1.03" height="1.03" fill="#b06183"/>
<rect x="21" y="16" width="1.03" height="1.03" fill="#c1677c"/>
<rect x="22" y="16" width="1.03" height="1.03" fill="#cf6e73"/>
<rect x="23" y="16" width="1.03" height="1.03" fill="#d8746d"/>
<rect x="24" y="16" width="1.03" height="1.03" fill="#e27a66"/>
<rect x="25" y="16" width="1.03" height="1.03" fill="#ed8858"/>
<rect x="26" y="16" width="1.03" height="1.03" fill="#f79747"/>
<rect x="27" y="16" width="1.03" height="1.03" fill="#f9a443"/>
<rect x="28" y="16" width="2.03" height="1.03" fill="#faaa42"/>
<rect x="30" y="16" width="1.03" height="1.03" fill="#faa542"/>
<rect x="31" y="16" width="1.03" height="1.03" fill="#f99c44"/>
<rect x="32" y="16" width="1.03" height="1.03" fill="#f69549"/>
<rect x="33" y="16" width="1.03" height="1.03" fill="#f5944b"/>
<rect x="40" y="16" width="1.03" height="1.03" fill="#ce6d74"/>
<rect x="41" y="16" width="1.03" height="1.03" fill="#d27071"/>
<rect x="42" y="16" width="1.00" height="1.03" fill="#d9746c"/>
<rect x="0" y="17" width="1.03" height="1.03" fill="#e07967"/>
<rect x="1" y="17" width="1.03" height="1.03" fill="#db766b"/>
<rect x="2" y="17" width="1.03" height="1.03" fill="#d17072"/>
<rect x="3" y="17" width="1.03" height="1.03" fill="#c0677c"/>
<rect x="4" y="17" width="1.03" height="1.03" fill="#ab6085"/>
<rect x="5" y="17" width="1.03" height="1.03" fill="#97588d"/>
<rect x="6" y="17" width="1.03" height="1.03" fill="#854f94"/>
<rect x="7" y="17" width="1.03" height="1.03" fill="#764799"/>
<rect x="8" y="17" width="1.03" height="1.03" fill="#6a429c"/>
<rect x="9" y="17" width="1.03" height="1.03" fill="#63409e"/>
<rect x="10" y="17" width="1.03" height="1.03" fill="#5e3e9f"/>
<rect x="11" y="17" width="1.03" height="1.03" fill="#5b3c9f"/>
<rect x="12" y="17" width="1.03" height="1.03" fill="#5a3c9f"/>
<rect x="13" y="17" width="1.03" height="1.03" fill="#613f9e"/>
<rect x="14" y="17" width="1.03" height="1.03" fill="#6c439b"/>
<rect x="15" y="17" width="1.03" height="1.03" fill="#784899"/>
<rect x="16" y="17" width="1.03" height="1.03" fill="#814c96"/>
<rect x="17" y="17" width="1.03" height="1.03" fill="#864f94"/>
<rect x="18" y="17" width="1.03" height="1.03" fill="#8a5193"/>
<rect x="19" y="17" width="1.03" height="1.03" fill="#905490"/>
<rect x="20" y="17" width="1.03" height="1.03" fill="#9c5a8c"/>
<rect x="21" y="17" width="1.03" height="1.03" fill="#b16282"/>
<rect x="22" y="17" width="1.03" height="1.03" fill="#c86a78"/>
<rect x="23" y="17" width="1.03" height="1.03" fill="#d6736e"/>
<rect x="24" y="17" width="1.03" height="1.03" fill="#e27a66"/>
<rect x="25" y="17" width="1.03" height="1.03" fill="#ed8857"/>
<rect x="26" y="17" width="1.03" height="1.03" fill="#f89846"/>
<rect x="27" y="17" width="1.03" height="1.03" fill="#faa842"/>
<rect x="28" y="17" width="1.03" height="1.03" fill="#faad41"/>
<rect x="29" y="17" width="1.03" height="1.03" fill="#faa942"/>
<rect x="30" y="17" width="1.03" height="1.03" fill="#f99f43"/>
<rect x="31" y="17" width="1.03" height="1.03" fill="#f79747"/>
<rect x="32" y="17" width="1.03" height="1.03" fill="#f4924c"/>
<rect x="33" y="17" width="1.03" height="1.03" fill="#f3914e"/>
<rect x="41" y="17" width="1.03" height="1.03" fill="#cb6c76"/>
<rect x="42" y="17" width="1.00" height="1.03" fill="#d37170"/>
<rect x="0" y="18" width="1.03" height="1.03" fill="#eb855a"/>
<rect x="1" y="18" width="1.03" height="1.03" fill="#ea835d"/>
<rect x="2" y="18" width="1.03" height="1.03" fill="#e47b65"/>
<rect x="3" y="18" width="1.03" height="1.03" fill="#d47170"/>
<rect x="4" y="18" width="1.03" height="1.03" fill="#be667d"/>
<rect x="5" y="18" width="1.03" height="1.03" fill="#a75e87"/>
<rect x="6" y="18" width="1.03" height="1.03" fill="#92558f"/>
<rect x="7" y="18" width="1.03" height="1.03" fill="#804c96"/>
<rect x="8" y="18" width="1.03" height="1.03" fill="#72469a"/>
<rect x="9" y="18" width="1.03" height="1.03" fill="#68429c"/>
<rect x="10" y="18" width="1.03" height="1.03" fill="#613f9e"/>
<rect x="11" y="18" width="1.03" height="1.03" fill="#5a3ca0"/>
<rect x="12" y="18" width="1.03" height="1.03" fill="#573ba0"/>
<rect x="13" y="18" width="1.03" height="1.03" fill="#5b3c9f"/>
<rect x="14" y="18" width="1.03" height="1.03" fill="#64409d"/>
<rect x="15" y="18" width="1.03" height="1.03" fill="#6f459b"/>
<rect x="16" y="18" width="1.03" height="1.03" fill="#794999"/>
<rect x="17" y="18" width="1.03" height="1.03" fill="#7f4c97"/>
<rect x="18" y="18" width="1.03" height="1.03" fill="#824d96"/>
<rect x="19" y="18" width="1.03" height="1.03" fill="#834d95"/>
<rect x="20" y="18" width="1.03" height="1.03" fill="#8d5391"/>
<rect x="21" y="18" width="1.03" height="1.03" fill="#aa5f86"/>
<rect x="22" y="18" width="1.03" height="1.03" fill="#c96b77"/>
<rect x="23" y="18" width="1.03" height="1.03" fill="#da756c"/>
<rect x="24" y="18" width="1.03" height="1.03" fill="#e37b65"/>
<rect x="25" y="18" width="1.03" height="1.03" fill="#ed8858"/>
<rect x="26" y="18" width="1.03" height="1.03" fill="#f79747"/>
<rect x="27" y="18" width="1.03" height="1.03" fill="#faa842"/>
<rect x="28" y="18" width="1.03" height="1.03" fill="#faaf41"/>
<rect x="29" y="18" width="1.03" height="1.03" fill="#faa942"/>
<rect x="30" y="18" width="1.03" height="1.03" fill="#f99d44"/>
<rect x="31" y="18" width="1.03" height="1.03" fill="#f69549"/>
<rect x="32" y="18" width="1.03" height="1.03" fill="#f3914d"/>
<rect x="33" y="18" width="1.03" height="1.03" fill="#f2904f"/>
<rect x="41" y="18" width="1.03" height="1.03" fill="#ca6b77"/>
<rect x="42" y="18" width="1.00" height="1.03" fill="#d17071"/>
<rect x="0" y="19" width="1.03" height="1.03" fill="#f69648"/>
<rect x="1" y="19" width="1.03" height="1.03" fill="#f79747"/>
<rect x="2" y="19" width="1.03" height="1.03" fill="#f4934c"/>
<rect x="3" y="19" width="1.03" height="1.03" fill="#eb855a"/>
<rect x="4" y="19" width="1.03" height="1.03" fill="#da756c"/>
<rect x="5" y="19" width="1.03" height="1.03" fill="#c2677b"/>
<rect x="6" y="19" width="1.03" height="1.03" fill="#a85f87"/>
<rect x="7" y="19" width="1.03" height="1.03" fill="#915490"/>
<rect x="8" y="19" width="1.03" height="1.03" fill="#7d4b97"/>
<rect x="9" y="19" width="1.03" height="1.03" fill="#6f459b"/>
<rect x="10" y="19" width="1.03" height="1.03" fill="#64409d"/>
<rect x="11" y="19" width="1.03" height="1.03" fill="#5c3d9f"/>
<rect x="12" y="19" width="1.03" height="1.03" fill="#583ba0"/>
<rect x="13" y="19" width="1.03" height="1.03" fill="#5a3ca0"/>
<rect x="14" y="19" width="1.03" height="1.03" fill="#603e9e"/>
<rect x="15" y="19" width="1.03" height="1.03" fill="#69429c"/>
<rect x="16" y="19" width="1.03" height="1.03" fill="#72469a"/>
<rect x="17" y="19" width="1.03" height="1.03" fill="#7a4998"/>
<rect x="18" y="19" width="1.03" height="1.03" fill="#7e4b97"/>
<rect x="19" y="19" width="1.03" height="1.03" fill="#7d4a98"/>
<rect x="20" y="19" width="1.03" height="1.03" fill="#874f94"/>
<rect x="21" y="19" width="1.03" height="1.03" fill="#ab5f85"/>
<rect x="22" y="19" width="1.03" height="1.03" fill="#d17072"/>
<rect x="23" y="19" width="1.03" height="1.03" fill="#e07967"/>
<rect x="24" y="19" width="1.03" height="1.03" fill="#e57c64"/>
<rect x="25" y="19" width="1.03" height="1.03" fill="#eb845b"/>
<rect x="26" y="19" width="1.03" height="1.03" fill="#f4924c"/>
<rect x="27" y="19" width="1.03" height="1.03" fill="#f9a143"/>
<rect x="28" y="19" width="1.03" height="1.03" fill="#faac41"/>
<rect x="29" y="19" width="1.03" height="1.03" fill="#faaa42"/>
<rect x="30" y="19" width="1.03" height="1.03" fill="#f9a043"/>
<rect x="31" y="19" width="1.03" height="1.03" fill="#f79747"/>
<rect x="32" y="19" width="1.03" height="1.03" fill="#f4934c"/>
<rect x="42" y="19" width="1.00" height="1.03" fill="#c66979"/>
<rect x="0" y="20" width="1.03" height="1.03" fill="#faa642"/>
<rect x="1" y="20" width="1.03" height="1.03" fill="#faa842"/>
<rect x="2" y="20" width="1.03" height="1.03" fill="#f9a343"/>
<rect x="3" y="20" width="1.03" height="1.03" fill="#f5944a"/>
<rect x="4" y="20" width="1.03" height="1.03" fill="#e8815f"/>
<rect x="5" y="20" width="1.03" height="1.03" fill="#d27071"/>
<rect x="6" y="20" width="1.03" height="1.03" fill="#b66380"/>
<rect x="7" y="20" width="1.03" height="1.03" fill="#9b5a8c"/>
<rect x="8" y="20" width="1.03" height="1.03" fill="#854e95"/>
<rect x="9" y="20" width="1.03" height="1.03" fill="#74479a"/>
<rect x="10" y="20" width="1.03" height="1.03" fill="#66419d"/>
<rect x="11" y="20" width="1.03" height="1.03" fill="#5c3d9f"/>
<rect x="12" y="20" width="1.03" height="1.03" fill="#573ba0"/>
<rect x="13" y="20" width="1.03" height="1.03" fill="#593ba0"/>
<rect x="14" y="20" width="1.03" height="1.03" fill="#5e3e9f"/>
<rect x="15" y="20" width="1.03" height="1.03" fill="#64409d"/>
<rect x="16" y="20" width="1.03" height="1.03" fill="#6b439c"/>
<rect x="17" y="20" width="1.03" height="1.03" fill="#75479a"/>
<rect x="18" y="20" width="1.03" height="1.03" fill="#7b4998"/>
<rect x="19" y="20" width="1.03" height="1.03" fill="#7a4999"/>
<rect x="20" y="20" width="1.03" height="1.03" fill="#854e95"/>
<rect x="21" y="20" width="1.03" height="1.03" fill="#ad6084"/>
<rect x="22" y="20" width="1.03" height="1.03" fill="#d7736e"/>
<rect x="23" y="20" width="2.03" height="1.03" fill="#e57c64"/>
<rect x="25" y="20" width="1.03" height="1.03" fill="#e8815f"/>
<rect x="26" y="20" width="1.03" height="1.03" fill="#ef8b54"/>
<rect x="27" y="20" width="1.03" height="1.03" fill="#f79748"/>
<rect x="28" y="20" width="1.03" height="1.03" fill="#f9a043"/>
<rect x="29" y="20" width="1.03" height="1.03" fill="#f9a143"/>
<rect x="30" y="20" width="1.03" height="1.03" fill="#f99b44"/>
<rect x="31" y="20" width="1.03" height="1.03" fill="#f5944b"/>
<rect x="32" y="20" width="1.03" height="1.03" fill="#f18e51"/>
<rect x="0" y="21" width="1.03" height="1.03" fill="#fab141"/>
<rect x="1" y="21" width="1.03" height="1.03" fill="#fab041"/>
<rect x="2" y="21" width="1.03" height="1.03" fill="#faa842"/>
<rect x="3" y="21" width="1.03" height="1.03" fill="#f79747"/>
<rect x="4" y="21" width="1.03" height="1.03" fill="#ea845b"/>
<rect x="5" y="21" width="1.03" height="1.03" fill="#d5726f"/>
<rect x="6" y="21" width="1.03" height="1.03" fill="#b9647f"/>
<rect x="7" y="21" width="1.03" height="1.03" fill="#9e5b8b"/>
<rect x="8" y="21" width="1.03" height="1.03" fill="#875094"/>
<rect x="9" y="21" width="1.03" height="1.03" fill="#75479a"/>
<rect x="10" y="21" width="1.03" height="1.03" fill="#65409d"/>
<rect x="11" y="21" width="1.03" height="1.03" fill="#593ba0"/>
<rect x="12" y="21" width="1.03" height="1.03" fill="#523a9f"/>
<rect x="13" y="21" width="1.03" height="1.03" fill="#553aa0"/>
<rect x="14" y="21" width="1.03" height="1.03" fill="#5b3c9f"/>
<rect x="15" y="21" width="1.03" height="1.03" fill="#603e9e"/>
<rect x="16" y="21" width="1.03" height="1.03" fill="#66419d"/>
<rect x="17" y="21" width="1.03" height="1.03" fill="#6f459b"/>
<rect x="18" y="21" width="1.03" height="1.03" fill="#754799"/>
<rect x="19" y="21" width="1.03" height="1.03" fill="#774899"/>
<rect x="20" y="21" width="1.03" height="1.03" fill="#844e95"/>
<rect x="21" y="21" width="1.03" height="1.03" fill="#ac6085"/>
<rect x="22" y="21" width="1.03" height="1.03" fill="#d4726f"/>
<rect x="23" y="21" width="1.03" height="1.03" fill="#e37b65"/>
<rect x="24" y="21" width="1.03" height="1.03" fill="#e57c64"/>
<rect x="25" y="21" width="1.03" height="1.03" fill="#e77f61"/>
<rect x="26" y="21" width="1.03" height="1.03" fill="#eb855a"/>
<rect x="27" y="21" width="1.03" height="1.03" fill="#f08c53"/>
<rect x="28" y="21" width="1.03" height="1.03" fill="#f2904f"/>
<rect x="29" y="21" width="1.03" height="1.03" fill="#f08d52"/>
<rect x="30" y="21" width="1.03" height="1.03" fill="#ed8858"/>
<rect x="31" y="21" width="1.03" height="1.03" fill="#e9835d"/>
<rect x="0" y="22" width="1.03" height="1.03" fill="#fab840"/>
<rect x="1" y="22" width="1.03" height="1.03" fill="#fab440"/>
<rect x="2" y="22" width="1.03" height="1.03" fill="#faa942"/>
<rect x="3" y="22" width="1.03" height="1.03" fill="#f79747"/>
<rect x="4" y="22" width="1.03" height="1.03" fill="#ea835c"/>
<rect x="5" y="22" width="1.03" height="1.03" fill="#d47170"/>
<rect x="6" y="22" width="1.03" height="1.03" fill="#b9647f"/>
<rect x="7" y="22" width="1.03" height="1.03" fill="#9e5b8b"/>
<rect x="8" y="22" width="1.03" height="1.03" fill="#885093"/>
<rect x="9" y="22" width="1.03" height="1.03" fill="#754799"/>
<rect x="10" y="22" width="1.03" height="1.03" fill="#65409d"/>
<rect x="11" y="22" width="1.03" height="1.03" fill="#573ba0"/>
<rect x="12" y="22" width="1.03" height="1.03" fill="#4e399f"/>
<rect x="13" y="22" width="1.03" height="1.03" fill="#503a9f"/>
<rect x="14" y="22" width="1.03" height="1.03" fill="#553ba0"/>
<rect x="15" y="22" width="1.03" height="1.03" fill="#5a3ca0"/>
<rect x="16" y="22" width="1.03" height="1.03" fill="#603e9e"/>
<rect x="17" y="22" width="1.03" height="1.03" fill="#68429c"/>
<rect x="18" y="22" width="1.03" height="1.03" fill="#6e449b"/>
<rect x="19" y="22" width="1.03" height="1.03" fill="#72469a"/>
<rect x="20" y="22" width="1.03" height="1.03" fill="#824d96"/>
<rect x="21" y="22" width="1.03" height="1.03" fill="#a85f87"/>
<rect x="22" y="22" width="1.03" height="1.03" fill="#cf6e73"/>
<rect x="23" y="22" width="1.03" height="1.03" fill="#e07967"/>
<rect x="24" y="22" width="1.03" height="1.03" fill="#e57c64"/>
<rect x="25" y="22" width="1.03" height="1.03" fill="#e77f61"/>
<rect x="26" y="22" width="1.03" height="1.03" fill="#e8815f"/>
<rect x="27" y="22" width="1.03" height="1.03" fill="#e9825e"/>
<rect x="28" y="22" width="1.03" height="1.03" fill="#e88060"/>
<rect x="29" y="22" width="1.03" height="1.03" fill="#e47b65"/>
<rect x="30" y="22" width="1.03" height="1.03" fill="#dd7769"/>
<rect x="31" y="22" width="1.03" height="1.03" fill="#da756b"/>
<rect x="41" y="22" width="1.03" height="1.03" fill="#513a9f"/>
<rect x="42" y="22" width="1.00" height="1.03" fill="#49389f"/>
<rect x="0" y="23" width="1.03" height="1.03" fill="#fbba3f"/>
<rect x="1" y="23" width="1.03" height="1.03" fill="#fab241"/>
<rect x="2" y="23" width="1.03" height="1.03" fill="#f9a143"/>
<rect x="3" y="23" width="1.03" height="1.03" fill="#f08d52"/>
<rect x="4" y="23" width="1.03" height="1.03" fill="#e07967"/>
<rect x="5" y="23" width="1.03" height="1.03" fill="#ca6b77"/>
<rect x="6" y="23" width="1.03" height="1.03" fill="#b16183"/>
<rect x="7" y="23" width="1.03" height="1.03" fill="#98588d"/>
<rect x="8" y="23" width="1.03" height="1.03" fill="#844e95"/>
<rect x="9" y="23" width="1.03" height="1.03" fill="#74479a"/>
<rect x="10" y="23" width="1.03" height="1.03" fill="#65419d"/>
<rect x="11" y="23" width="1.03" height="1.03" fill="#583ba0"/>
<rect x="12" y="23" width="1.03" height="1.03" fill="#4e399f"/>
<rect x="13" y="23" width="1.03" height="1.03" fill="#4d399f"/>
<rect x="14" y="23" width="1.03" height="1.03" fill="#503a9f"/>
<rect x="15" y="23" width="1.03" height="1.03" fill="#543aa0"/>
<rect x="16" y="23" width="1.03" height="1.03" fill="#5a3ca0"/>
<rect x="17" y="23" width="1.03" height="1.03" fill="#623f9e"/>
<rect x="18" y="23" width="1.03" height="1.03" fill="#68429c"/>
<rect x="19" y="23" width="1.03" height="1.03" fill="#6d449b"/>
<rect x="20" y="23" width="1.03" height="1.03" fill="#7d4b97"/>
<rect x="21" y="23" width="1.03" height="1.03" fill="#a45d88"/>
<rect x="22" y="23" width="1.03" height="1.03" fill="#cc6c75"/>
<rect x="23" y="23" width="1.03" height="1.03" fill="#df7868"/>
<rect x="24" y="23" width="1.03" height="1.03" fill="#e57c64"/>
<rect x="25" y="23" width="1.03" height="1.03" fill="#e67e62"/>
<rect x="26" y="23" width="1.03" height="1.03" fill="#e57d63"/>
<rect x="27" y="23" width="1.03" height="1.03" fill="#e17967"/>
<rect x="28" y="23" width="1.03" height="1.03" fill="#dc766a"/>
<rect x="29" y="23" width="1.03" height="1.03" fill="#d8746d"/>
<rect x="30" y="23" width="1.03" height="1.03" fill="#d6736e"/>
<rect x="41" y="23" width="1.03" height="1.03" fill="#3b369d"/>
<rect x="42" y="23" width="1.00" height="1.03" fill="#37359d"/>
<rect x="0" y="24" width="1.03" height="1.03" fill="#fab940"/>
<rect x="1" y="24" width="1.03" height="1.03" fill="#f9a343"/>
<rect x="2" y="24" width="1.03" height="1.03" fill="#ed8956"/>
<rect x="3" y="24" width="1.03" height="1.03" fill="#d5726f"/>
<rect x="4" y="24" width="1.03" height="1.03" fill="#ba647f"/>
<rect x="5" y="24" width="1.03" height="1.03" fill="#a45d88"/>
<rect x="6" y="24" width="1.03" height="1.03" fill="#93558f"/>
<rect x="7" y="24" width="1.03" height="1.03" fill="#824d95"/>
<rect x="8" y="24" width="1.03" height="1.03" fill="#75479a"/>
<rect x="9" y="24" width="1.03" height="1.03" fill="#6a439c"/>
<rect x="10" y="24" width="1.03" height="1.03" fill="#613f9e"/>
<rect x="11" y="24" width="1.03" height="1.03" fill="#583ba0"/>
<rect x="12" y="24" width="1.03" height="1.03" fill="#523a9f"/>
<rect x="13" y="24" width="1.03" height="1.03" fill="#513a9f"/>
<rect x="14" y="24" width="1.03" height="1.03" fill="#533aa0"/>
<rect x="15" y="24" width="1.03" height="1.03" fill="#563ba0"/>
<rect x="16" y="24" width="1.03" height="1.03" fill="#5a3ca0"/>
<rect x="17" y="24" width="1.03" height="1.03" fill="#603e9e"/>
<rect x="18" y="24" width="1.03" height="1.03" fill="#67419d"/>
<rect x="19" y="24" width="1.03" height="1.03" fill="#6c439c"/>
<rect x="20" y="24" width="1.03" height="1.03" fill="#7e4b97"/>
<rect x="21" y="24" width="1.03" height="1.03" fill="#a55e88"/>
<rect x="22" y="24" width="1.03" height="1.03" fill="#cd6d75"/>
<rect x="23" y="24" width="1.03" height="1.03" fill="#e07968"/>
<rect x="24" y="24" width="1.03" height="1.03" fill="#e57c64"/>
<rect x="25" y="24" width="1.03" height="1.03" fill="#e27a66"/>
<rect x="26" y="24" width="1.03" height="1.03" fill="#db766b"/>
<rect x="27" y="24" width="1.03" height="1.03" fill="#d47170"/>
<rect x="28" y="24" width="2.03" height="1.03" fill="#cf6e73"/>
<rect x="30" y="24" width="1.03" height="1.03" fill="#d06f72"/>
<rect x="41" y="24" width="1.03" height="1.03" fill="#36359d"/>
<rect x="42" y="24" width="1.00" height="1.03" fill="#37359d"/>
<rect x="0" y="25" width="1.03" height="1.03" fill="#fab440"/>
<rect x="1" y="25" width="1.03" height="1.03" fill="#f3924d"/>
<rect x="2" y="25" width="1.03" height="1.03" fill="#d5726f"/>
<rect x="3" y="25" width="1.03" height="1.03" fill="#aa5f86"/>
<rect x="4" y="25" width="1.03" height="1.03" fill="#895193"/>
<rect x="5" y="25" width="1.03" height="1.03" fill="#7a4999"/>
<rect x="6" y="25" width="1.03" height="1.03" fill="#71459a"/>
<rect x="7" y="25" width="1.03" height="1.03" fill="#69429c"/>
<rect x="8" y="25" width="1.03" height="1.03" fill="#623f9e"/>
<rect x="9" y="25" width="1.03" height="1.03" fill="#5d3d9f"/>
<rect x="10" y="25" width="1.03" height="1.03" fill="#593ca0"/>
<rect x="11" y="25" width="2.03" height="1.03" fill="#573ba0"/>
<rect x="13" y="25" width="1.03" height="1.03" fill="#5a3ca0"/>
<rect x="14" y="25" width="2.03" height="1.03" fill="#5d3d9f"/>
<rect x="16" y="25" width="1.03" height="1.03" fill="#5e3e9f"/>
<rect x="17" y="25" width="1.03" height="1.03" fill="#633f9e"/>
<rect x="18" y="25" width="1.03" height="1.03" fill="#68429d"/>
<rect x="19" y="25" width="1.03" height="1.03" fill="#6e449b"/>
<rect x="20" y="25" width="1.03" height="1.03" fill="#814d96"/>
<rect x="21" y="25" width="1.03" height="1.03" fill="#a75e87"/>
<rect x="22" y="25" width="1.03" height="1.03" fill="#cd6d75"/>
<rect x="23" y="25" width="1.03" height="1.03" fill="#de7869"/>
<rect x="24" y="25" width="1.03" height="1.03" fill="#e07967"/>
<rect x="25" y="25" width="1.03" height="1.03" fill="#d6726f"/>
<rect x="26" y="25" width="1.03" height="1.03" fill="#c96b77"/>
<rect x="27" y="25" width="1.03" height="1.03" fill="#c2677b"/>
<rect x="28" y="25" width="2.03" height="1.03" fill="#c1677c"/>
<rect x="41" y="25" width="1.03" height="1.03" fill="#33359c"/>
<rect x="42" y="25" width="1.00" height="1.03" fill="#36359d"/>
<rect x="0" y="26" width="1.03" height="1.03" fill="#faaf41"/>
<rect x="1" y="26" width="1.03" height="1.03" fill="#ed8857"/>
<rect x="2" y="26" width="1.03" height="1.03" fill="#c76979"/>
<rect x="3" y="26" width="1.03" height="1.03" fill="#98588d"/>
<rect x="4" y="26" width="1.03" height="1.03" fill="#7a4998"/>
<rect x="5" y="26" width="1.03" height="1.03" fill="#6d449b"/>
<rect x="6" y="26" width="1.03" height="1.03" fill="#67419d"/>
<rect x="7" y="26" width="1.03" height="1.03" fill="#603f9e"/>
<rect x="8" y="26" width="1.03" height="1.03" fill="#5b3c9f"/>
<rect x="9" y="26" width="1.03" height="1.03" fill="#573ba0"/>
<rect x="10" y="26" width="1.03" height="1.03" fill="#553ba0"/>
<rect x="11" y="26" width="1.03" height="1.03" fill="#563ba0"/>
<rect x="12" y="26" width="1.03" height="1.03" fill="#593ca0"/>
<rect x="13" y="26" width="1.03" height="1.03" fill="#5e3e9f"/>
<rect x="14" y="26" width="1.03" height="1.03" fill="#613f9e"/>
<rect x="15" y="26" width="1.03" height="1.03" fill="#5f3e9e"/>
<rect x="16" y="26" width="1.03" height="1.03" fill="#5e3e9f"/>
<rect x="17" y="26" width="1.03" height="1.03" fill="#613f9e"/>
<rect x="18" y="26" width="1.03" height="1.03" fill="#64409d"/>
<rect x="19" y="26" width="1.03" height="1.03" fill="#68429d"/>
<rect x="20" y="26" width="1.03" height="1.03" fill="#774899"/>
<rect x="21" y="26" width="1.03" height="1.03" fill="#99588d"/>
<rect x="22" y="26" width="1.03" height="1.03" fill="#bc657e"/>
<rect x="23" y="26" width="1.03" height="1.03" fill="#ce6e74"/>
<rect x="24" y="26" width="1.03" height="1.03" fill="#d06f72"/>
<rect x="25" y="26" width="1.03" height="1.03" fill="#c66979"/>
<rect x="26" y="26" width="1.03" height="1.03" fill="#b9647f"/>
<rect x="27" y="26" width="1.03" height="1.03" fill="#b46282"/>
<rect x="28" y="26" width="1.03" height="1.03" fill="#b26282"/>
<rect x="0" y="27" width="1.03" height="1.03" fill="#faad41"/>
<rect x="1" y="27" width="1.03" height="1.03" fill="#ed8858"/>
<rect x="2" y="27" width="1.03" height="1.03" fill="#c96a77"/>
<rect x="3" y="27" width="1.03" height="1.03" fill="#a05c8a"/>
<rect x="4" y="27" width="1.03" height="1.03" fill="#854e95"/>
<rect x="5" y="27" width="1.03" height="1.03" fill="#784899"/>
<rect x="6" y="27" width="1.03" height="1.03" fill="#70459b"/>
<rect x="7" y="27" width="1.03" height="1.03" fill="#67419d"/>
<rect x="8" y="27" width="1.03" height="1.03" fill="#5f3e9e"/>
<rect x="9" y="27" width="1.03" height="1.03" fill="#5a3ca0"/>
<rect x="10" y="27" width="2.03" height="1.03" fill="#563ba0"/>
<rect x="12" y="27" width="1.03" height="1.03" fill="#593ba0"/>
<rect x="13" y="27" width="1.03" height="1.03" fill="#5e3d9f"/>
<rect x="14" y="27" width="1.03" height="1.03" fill="#603e9e"/>
<rect x="15" y="27" width="1.03" height="1.03" fill="#5c3d9f"/>
<rect x="16" y="27" width="1.03" height="1.03" fill="#593ba0"/>
<rect x="17" y="27" width="1.03" height="1.03" fill="#5a3c9f"/>
<rect x="18" y="27" width="1.03" height="1.03" fill="#5b3c9f"/>
<rect x="19" y="27" width="1.03" height="1.03" fill="#5a3ca0"/>
<rect x="20" y="27" width="1.03" height="1.03" fill="#623f9e"/>
<rect x="21" y="27" width="1.03" height="1.03" fill="#7c4a98"/>
<rect x="22" y="27" width="1.03" height="1.03" fill="#98588d"/>
<rect x="23" y="27" width="1.03" height="1.03" fill="#ab6085"/>
<rect x="24" y="27" width="2.03" height="1.03" fill="#b36282"/>
<rect x="26" y="27" width="1.03" height="1.03" fill="#af6184"/>
<rect x="27" y="27" width="1.03" height="1.03" fill="#aa5f86"/>
<rect x="28" y="27" width="1.03" height="1.03" fill="#a35d89"/>
<rect x="0" y="28" width="1.03" height="1.03" fill="#faae41"/>
<rect x="1" y="28" width="1.03" height="1.03" fill="#f18e50"/>
<rect x="2" y="28" width="1.03" height="1.03" fill="#d5726f"/>
<rect x="3" y="28" width="1.03" height="1.03" fill="#b06183"/>
<rect x="4" y="28" width="1.03" height="1.03" fill="#94568f"/>
<rect x="5" y="28" width="1.03" height="1.03" fill="#854f94"/>
<rect x="6" y="28" width="1.03" height="1.03" fill="#7b4998"/>
<rect x="7" y="28" width="1.03" height="1.03" fill="#6f459b"/>
<rect x="8" y="28" width="1.03" height="1.03" fill="#65419d"/>
<rect x="9" y="28" width="1.03" height="1.03" fill="#5f3e9e"/>
<rect x="10" y="28" width="1.03" height="1.03" fill="#5b3c9f"/>
<rect x="11" y="28" width="1.03" height="1.03" fill="#593ca0"/>
<rect x="12" y="28" width="1.03" height="1.03" fill="#5a3c9f"/>
<rect x="13" y="28" width="1.03" height="1.03" fill="#5d3d9f"/>
<rect x="14" y="28" width="1.03" height="1.03" fill="#5e3e9f"/>
<rect x="15" y="28" width="1.03" height="1.03" fill="#5b3c9f"/>
<rect x="16" y="28" width="1.03" height="1.03" fill="#573ba0"/>
<rect x="17" y="28" width="1.03" height="1.03" fill="#563ba0"/>
<rect x="18" y="28" width="1.03" height="1.03" fill="#543aa0"/>
<rect x="19" y="28" width="1.03" height="1.03" fill="#503a9f"/>
<rect x="20" y="28" width="1.03" height="1.03" fill="#533aa0"/>
<rect x="21" y="28" width="1.03" height="1.03" fill="#623f9e"/>
<rect x="22" y="28" width="1.03" height="1.03" fill="#764799"/>
<rect x="23" y="28" width="1.03" height="1.03" fill="#864f94"/>
<rect x="24" y="28" width="1.03" height="1.03" fill="#92558f"/>
<rect x="25" y="28" width="1.03" height="1.03" fill="#9c5a8c"/>
<rect x="26" y="28" width="1.03" height="1.03" fill="#a05c8a"/>
<rect x="27" y="28" width="1.03" height="1.03" fill="#9c5a8c"/>
<rect x="28" y="28" width="1.03" height="1.03" fill="#915590"/>
<rect x="0" y="29" width="1.03" height="1.03" fill="#fab041"/>
<rect x="1" y="29" width="1.03" height="1.03" fill="#f79747"/>
<rect x="2" y="29" width="1.03" height="1.03" fill="#e47c64"/>
<rect x="3" y="29" width="1.03" height="1.03" fill="#c4687a"/>
<rect x="4" y="29" width="1.03" height="1.03" fill="#a75e87"/>
<rect x="5" y="29" width="1.03" height="1.03" fill="#93568f"/>
<rect x="6" y="29" width="1.03" height="1.03" fill="#834e95"/>
<rect x="7" y="29" width="1.03" height="1.03" fill="#75479a"/>
<rect x="8" y="29" width="1.03" height="1.03" fill="#6a429c"/>
<rect x="9" y="29" width="1.03" height="1.03" fill="#64409d"/>
<rect x="10" y="29" width="1.03" height="1.03" fill="#613f9e"/>
<rect x="11" y="29" width="1.03" height="1.03" fill="#5f3e9f"/>
<rect x="12" y="29" width="1.03" height="1.03" fill="#5e3e9f"/>
<rect x="13" y="29" width="2.03" height="1.03" fill="#5f3e9f"/>
<rect x="15" y="29" width="1.03" height="1.03" fill="#5d3d9f"/>
<rect x="16" y="29" width="1.03" height="1.03" fill="#5a3ca0"/>
<rect x="17" y="29" width="1.03" height="1.03" fill="#573ba0"/>
<rect x="18" y="29" width="1.03" height="1.03" fill="#533aa0"/>
<rect x="19" y="29" width="2.03" height="1.03" fill="#503a9f"/>
<rect x="21" y="29" width="1.03" height="1.03" fill="#553ba0"/>
<rect x="22" y="29" width="1.03" height="1.03" fill="#5f3e9e"/>
<rect x="23" y="29" width="1.03" height="1.03" fill="#6b439c"/>
<rect x="24" y="29" width="1.03" height="1.03" fill="#784899"/>
<rect x="25" y="29" width="1.03" height="1.03" fill="#834e95"/>
<rect x="26" y="29" width="1.03" height="1.03" fill="#895093"/>
<rect x="27" y="29" width="1.03" height="1.03" fill="#854f94"/>
<rect x="28" y="29" width="1.03" height="1.03" fill="#7a4998"/>
<rect x="0" y="30" width="1.03" height="1.03" fill="#fab041"/>
<rect x="1" y="30" width="1.03" height="1.03" fill="#f99d44"/>
<rect x="2" y="30" width="1.03" height="1.03" fill="#ed8857"/>
<rect x="3" y="30" width="1.03" height="1.03" fill="#da756c"/>
<rect x="4" y="30" width="1.03" height="1.03" fill="#c1677c"/>
<rect x="5" y="30" width="1.03" height="1.03" fill="#a65e87"/>
<rect x="6" y="30" width="1.03" height="1.03" fill="#8f5490"/>
<rect x="7" y="30" width="1.03" height="1.03" fill="#7c4a98"/>
<rect x="8" y="30" width="1.03" height="1.03" fill="#6f459b"/>
<rect x="9" y="30" width="1.03" height="1.03" fill="#69429c"/>
<rect x="10" y="30" width="1.03" height="1.03" fill="#67419d"/>
<rect x="11" y="30" width="1.03" height="1.03" fill="#64409d"/>
<rect x="12" y="30" width="1.03" height="1.03" fill="#623f9e"/>
<rect x="13" y="30" width="1.03" height="1.03" fill="#613f9e"/>
<rect x="14" y="30" width="1.03" height="1.03" fill="#603f9e"/>
<rect x="15" y="30" width="1.03" height="1.03" fill="#5f3e9e"/>
<rect x="16" y="30" width="1.03" height="1.03" fill="#5c3d9f"/>
<rect x="17" y="30" width="1.03" height="1.03" fill="#583ba0"/>
<rect x="18" y="30" width="1.03" height="1.03" fill="#543aa0"/>
<rect x="19" y="30" width="1.03" height="1.03" fill="#523a9f"/>
<rect x="20" y="30" width="1.03" height="1.03" fill="#503a9f"/>
<rect x="21" y="30" width="1.03" height="1.03" fill="#513a9f"/>
<rect x="22" y="30" width="1.03" height="1.03" fill="#563ba0"/>
<rect x="23" y="30" width="1.03" height="1.03" fill="#5f3e9e"/>
<rect x="24" y="30" width="1.03" height="1.03" fill="#69429c"/>
<rect x="25" y="30" width="1.03" height="1.03" fill="#70459b"/>
<rect x="26" y="30" width="1.03" height="1.03" fill="#72469a"/>
<rect x="27" y="30" width="1.03" height="1.03" fill="#6e449b"/>
<rect x="28" y="30" width="1.03" height="1.03" fill="#623f9e"/>
<rect x="29" y="30" width="1.03" height="1.03" fill="#4c399f"/>
<rect x="0" y="31" width="1.03" height="1.03" fill="#faaf41"/>
<rect x="1" y="31" width="1.03" height="1.03" fill="#f9a343"/>
<rect x="2" y="31" width="1.03" height="1.03" fill="#f5944a"/>
<rect x="3" y="31" width="1.03" height="1.03" fill="#eb865a"/>
<rect x="4" y="31" width="1.03" height="1.03" fill="#db766b"/>
<rect x="5" y="31" width="1.03" height="1.03" fill="#c4687a"/>
<rect x="6" y="31" width="1.03" height="1.03" fill="#a95f86"/>
<rect x="7" y="31" width="1.03" height="1.03" fill="#92558f"/>
<rect x="8" y="31" width="1.03" height="1.03" fill="#824d96"/>
<rect x="9" y="31" width="1.03" height="1.03" fill="#774899"/>
<rect x="10" y="31" width="1.03" height="1.03" fill="#70459b"/>
<rect x="11" y="31" width="1.03" height="1.03" fill="#6b439c"/>
<rect x="12" y="31" width="1.03" height="1.03" fill="#67419d"/>
<rect x="13" y="31" width="1.03" height="1.03" fill="#64409d"/>
<rect x="14" y="31" width="1.03" height="1.03" fill="#623f9e"/>
<rect x="15" y="31" width="1.03" height="1.03" fill="#603f9e"/>
<rect x="16" y="31" width="1.03" height="1.03" fill="#5e3d9f"/>
<rect x="17" y="31" width="1.03" height="1.03" fill="#5a3ca0"/>
<rect x="18" y="31" width="1.03" height="1.03" fill="#563ba0"/>
<rect x="19" y="31" width="1.03" height="1.03" fill="#543aa0"/>
<rect x="20" y="31" width="1.03" height="1.03" fill="#523a9f"/>
<rect x="21" y="31" width="1.03" height="1.03" fill="#533a9f"/>
<rect x="22" y="31" width="1.03" height="1.03" fill="#573ba0"/>
<rect x="23" y="31" width="1.03" height="1.03" fill="#5f3e9e"/>
<rect x="24" y="31" width="1.03" height="1.03" fill="#64409d"/>
<rect x="25" y="31" width="1.03" height="1.03" fill="#63409e"/>
<rect x="26" y="31" width="1.03" height="1.03" fill="#5f3e9f"/>
<rect x="27" y="31" width="1.03" height="1.03" fill="#593ba0"/>
<rect x="28" y="31" width="1.03" height="1.03" fill="#49389e"/>
<rect x="29" y="31" width="1.03" height="1.03" fill="#2d3498"/>
<rect x="30" y="31" width="1.03" height="1.03" fill="#12316e"/>
<rect x="0" y="32" width="1.03" height="1.03" fill="#faaf41"/>
<rect x="1" y="32" width="1.03" height="1.03" fill="#faaa42"/>
<rect x="2" y="32" width="1.03" height="1.03" fill="#f9a143"/>
<rect x="3" y="32" width="1.03" height="1.03" fill="#f69649"/>
<rect x="4" y="32" width="1.03" height="1.03" fill="#ef8a55"/>
<rect x="5" y="32" width="1.03" height="1.03" fill="#e67e62"/>
<rect x="6" y="32" width="1.03" height="1.03" fill="#d7736e"/>
<rect x="7" y="32" width="1.03" height="1.03" fill="#c4687a"/>
<rect x="8" y="32" width="1.03" height="1.03" fill="#ac6085"/>
<rect x="9" y="32" width="1.03" height="1.03" fill="#95568e"/>
<rect x="10" y="32" width="1.03" height="1.03" fill="#834e95"/>
<rect x="11" y="32" width="1.03" height="1.03" fill="#784899"/>
<rect x="12" y="32" width="1.03" height="1.03" fill="#6f449b"/>
<rect x="13" y="32" width="1.03" height="1.03" fill="#66419d"/>
<rect x="14" y="32" width="1.03" height="1.03" fill="#623f9e"/>
<rect x="15" y="32" width="1.03" height="1.03" fill="#613f9e"/>
<rect x="16" y="32" width="1.03" height="1.03" fill="#603e9e"/>
<rect x="17" y="32" width="1.03" height="1.03" fill="#5d3d9f"/>
<rect x="18" y="32" width="1.03" height="1.03" fill="#5a3ca0"/>
<rect x="19" y="32" width="2.03" height="1.03" fill="#583ba0"/>
<rect x="21" y="32" width="1.03" height="1.03" fill="#5a3ca0"/>
<rect x="22" y="32" width="1.03" height="1.03" fill="#5d3d9f"/>
<rect x="23" y="32" width="1.03" height="1.03" fill="#603e9e"/>
<rect x="24" y="32" width="1.03" height="1.03" fill="#5f3e9e"/>
<rect x="25" y="32" width="1.03" height="1.03" fill="#583ba0"/>
<rect x="26" y="32" width="1.03" height="1.03" fill="#4e399f"/>
<rect x="27" y="32" width="1.03" height="1.03" fill="#43379e"/>
<rect x="28" y="32" width="1.03" height="1.03" fill="#34359c"/>
<rect x="29" y="32" width="1.03" height="1.03" fill="#1e3280"/>
<rect x="30" y="32" width="1.03" height="1.03" fill="#0a2f5e"/>
<rect x="31" y="32" width="1.03" height="1.03" fill="#072949"/>
<rect x="0" y="33" width="1.03" height="1.03" fill="#faab42"/>
<rect x="1" y="33" width="1.03" height="1.03" fill="#faac41"/>
<rect x="2" y="33" width="1.03" height="1.03" fill="#faa742"/>
<rect x="3" y="33" width="1.03" height="1.03" fill="#f99e43"/>
<rect x="4" y="33" width="1.03" height="1.03" fill="#f89945"/>
<rect x="5" y="33" width="1.03" height="1.03" fill="#f79747"/>
<rect x="6" y="33" width="1.03" height="1.03" fill="#f3904e"/>
<rect x="7" y="33" width="1.03" height="1.03" fill="#e9825e"/>
<rect x="8" y="33" width="1.03" height="1.03" fill="#d27071"/>
<rect x="9" y="33" width="1.03" height="1.03" fill="#b16183"/>
<rect x="10" y="33" width="1.03" height="1.03" fill="#95578e"/>
<rect x="11" y="33" width="1.03" height="1.03" fill="#844e95"/>
<rect x="12" y="33" width="1.03" height="1.03" fill="#764799"/>
<rect x="13" y="33" width="1.03" height="1.03" fill="#68429c"/>
<rect x="14" y="33" width="1.03" height="1.03" fill="#613f9e"/>
<rect x="15" y="33" width="1.03" height="1.03" fill="#623f9e"/>
<rect x="16" y="33" width="1.03" height="1.03" fill="#633f9e"/>
<rect x="17" y="33" width="1.03" height="1.03" fill="#603f9e"/>
<rect x="18" y="33" width="1.03" height="1.03" fill="#5e3e9f"/>
<rect x="19" y="33" width="1.03" height="1.03" fill="#5d3d9f"/>
<rect x="20" y="33" width="1.03" height="1.03" fill="#5f3e9f"/>
<rect x="21" y="33" width="2.03" height="1.03" fill="#613f9e"/>
<rect x="23" y="33" width="1.03" height="1.03" fill="#5e3e9f"/>
<rect x="24" y="33" width="1.03" height="1.03" fill="#583ba0"/>
<rect x="25" y="33" width="1.03" height="1.03" fill="#4e399f"/>
<rect x="26" y="33" width="1.03" height="1.03" fill="#40379e"/>
<rect x="27" y="33" width="1.03" height="1.03" fill="#32349c"/>
<rect x="28" y="33" width="1.03" height="1.03" fill="#27338e"/>
<rect x="29" y="33" width="1.03" height="1.03" fill="#1f3282"/>
<rect x="30" y="33" width="1.03" height="1.03" fill="#12316e"/>
<rect x="31" y="33" width="1.03" height="1.03" fill="#082c52"/>
<rect x="0" y="34" width="1.03" height="1.03" fill="#f9a143"/>
<rect x="1" y="34" width="1.03" height="1.03" fill="#f9a343"/>
<rect x="2" y="34" width="1.03" height="1.03" fill="#f99f43"/>
<rect x="3" y="34" width="1.03" height="1.03" fill="#f89846"/>
<rect x="4" y="34" width="1.03" height="1.03" fill="#f79747"/>
<rect x="5" y="34" width="1.03" height="1.03" fill="#f89945"/>
<rect x="6" y="34" width="1.03" height="1.03" fill="#f5954a"/>
<rect x="7" y="34" width="1.03" height="1.03" fill="#ec8659"/>
<rect x="8" y="34" width="1.03" height="1.03" fill="#d6736e"/>
<rect x="9" y="34" width="1.03" height="1.03" fill="#b76380"/>
<rect x="10" y="34" width="1.03" height="1.03" fill="#9b5a8c"/>
<rect x="11" y="34" width="1.03" height="1.03" fill="#8a5193"/>
<rect x="12" y="34" width="1.03" height="1.03" fill="#7a4998"/>
<rect x="13" y="34" width="1.03" height="1.03" fill="#6b439c"/>
<rect x="14" y="34" width="2.03" height="1.03" fill="#623f9e"/>
<rect x="16" y="34" width="1.03" height="1.03" fill="#63409e"/>
<rect x="17" y="34" width="1.03" height="1.03" fill="#613f9e"/>
<rect x="18" y="34" width="2.03" height="1.03" fill="#5f3e9e"/>
<rect x="20" y="34" width="1.03" height="1.03" fill="#613f9e"/>
<rect x="21" y="34" width="1.03" height="1.03" fill="#64409d"/>
<rect x="22" y="34" width="1.03" height="1.03" fill="#63409d"/>
<rect x="23" y="34" width="1.03" height="1.03" fill="#5d3d9f"/>
<rect x="24" y="34" width="1.03" height="1.03" fill="#543aa0"/>
<rect x="25" y="34" width="1.03" height="1.03" fill="#49389f"/>
<rect x="26" y="34" width="1.03" height="1.03" fill="#3b369d"/>
<rect x="27" y="34" width="1.03" height="1.03" fill="#2b3395"/>
<rect x="28" y="34" width="1.03" height="1.03" fill="#223387"/>
<rect x="29" y="34" width="1.03" height="1.03" fill="#213285"/>
<rect x="30" y="34" width="1.03" height="1.03" fill="#193279"/>
<rect x="31" y="34" width="1.03" height="1.03" fill="#092d59"/>
<rect x="0" y="35" width="1.03" height="1.03" fill="#f3914d"/>
<rect x="1" y="35" width="1.03" height="1.03" fill="#f4924d"/>
<rect x="2" y="35" width="1.03" height="1.03" fill="#f28f50"/>
<rect x="3" y="35" width="1.03" height="1.03" fill="#ee8a55"/>
<rect x="4" y="35" width="2.03" height="1.03" fill="#ed8857"/>
<rect x="6" y="35" width="1.03" height="1.03" fill="#e9815e"/>
<rect x="7" y="35" width="1.03" height="1.03" fill="#db766b"/>
<rect x="8" y="35" width="1.03" height="1.03" fill="#c6687a"/>
<rect x="9" y="35" width="1.03" height="1.03" fill="#ac6085"/>
<rect x="10" y="35" width="1.03" height="1.03" fill="#98588d"/>
<rect x="11" y="35" width="1.03" height="1.03" fill="#8b5192"/>
<rect x="12" y="35" width="1.03" height="1.03" fill="#7c4a98"/>
<rect x="13" y="35" width="1.03" height="1.03" fill="#6d449b"/>
<rect x="14" y="35" width="1.03" height="1.03" fill="#64409d"/>
<rect x="15" y="35" width="2.03" height="1.03" fill="#633f9e"/>
<rect x="17" y="35" width="1.03" height="1.03" fill="#613f9e"/>
<rect x="18" y="35" width="1.03" height="1.03" fill="#5f3e9e"/>
<rect x="19" y="35" width="1.03" height="1.03" fill="#5e3e9f"/>
<rect x="20" y="35" width="1.03" height="1.03" fill="#603e9e"/>
<rect x="21" y="35" width="1.03" height="1.03" fill="#63409e"/>
<rect x="22" y="35" width="1.03" height="1.03" fill="#633f9e"/>
<rect x="23" y="35" width="1.03" height="1.03" fill="#5e3d9f"/>
<rect x="24" y="35" width="1.03" height="1.03" fill="#553ba0"/>
<rect x="25" y="35" width="1.03" height="1.03" fill="#4a399f"/>
<rect x="26" y="35" width="1.03" height="1.03" fill="#3c369d"/>
<rect x="27" y="35" width="1.03" height="1.03" fill="#2d3497"/>
<rect x="28" y="35" width="1.03" height="1.03" fill="#233388"/>
<rect x="29" y="35" width="1.03" height="1.03" fill="#1f3281"/>
<rect x="30" y="35" width="1.03" height="1.03" fill="#153172"/>
<rect x="31" y="35" width="1.03" height="1.03" fill="#082c55"/>
<rect x="32" y="35" width="1.03" height="1.03" fill="#062740"/>
<rect x="0" y="36" width="1.03" height="1.03" fill="#e88060"/>
<rect x="1" y="36" width="1.03" height="1.03" fill="#e8805f"/>
<rect x="2" y="36" width="1.03" height="1.03" fill="#e67d63"/>
<rect x="3" y="36" width="1.03" height="1.03" fill="#e17967"/>
<rect x="4" y="36" width="1.03" height="1.03" fill="#db766b"/>
<rect x="5" y="36" width="1.03" height="1.03" fill="#d6726f"/>
<rect x="6" y="36" width="1.03" height="1.03" fill="#cc6c75"/>
<rect x="7" y="36" width="1.03" height="1.03" fill="#bc657e"/>
<rect x="8" y="36" width="1.03" height="1.03" fill="#ab6085"/>
<rect x="9" y="36" width="1.03" height="1.03" fill="#9d5b8b"/>
<rect x="10" y="36" width="1.03" height="1.03" fill="#93558f"/>
<rect x="11" y="36" width="1.03" height="1.03" fill="#8a5193"/>
<rect x="12" y="36" width="1.03" height="1.03" fill="#7d4a98"/>
<rect x="13" y="36" width="1.03" height="1.03" fill="#6d449b"/>
<rect x="14" y="36" width="1.03" height="1.03" fill="#64409d"/>
<rect x="15" y="36" width="1.03" height="1.03" fill="#633f9e"/>
<rect x="16" y="36" width="1.03" height="1.03" fill="#623f9e"/>
<rect x="17" y="36" width="1.03" height="1.03" fill="#603e9e"/>
<rect x="18" y="36" width="1.03" height="1.03" fill="#5f3e9f"/>
<rect x="19" y="36" width="1.03" height="1.03" fill="#5e3e9f"/>
<rect x="20" y="36" width="1.03" height="1.03" fill="#5f3e9e"/>
<rect x="21" y="36" width="2.03" height="1.03" fill="#613f9e"/>
<rect x="23" y="36" width="1.03" height="1.03" fill="#5d3d9f"/>
<rect x="24" y="36" width="1.03" height="1.03" fill="#563ba0"/>
<rect x="25" y="36" width="1.03" height="1.03" fill="#4b399f"/>
<rect x="26" y="36" width="1.03" height="1.03" fill="#3d369d"/>
<rect x="27" y="36" width="1.03" height="1.03" fill="#2e3499"/>
<rect x="28" y="36" width="1.03" height="1.03" fill="#233389"/>
<rect x="29" y="36" width="1.03" height="1.03" fill="#1d327f"/>
<rect x="30" y="36" width="1.03" height="1.03" fill="#11316d"/>
<rect x="31" y="36" width="1.03" height="1.03" fill="#082c52"/>
<rect x="32" y="36" width="1.03" height="1.03" fill="#06263f"/>
<rect x="0" y="37" width="2.03" height="1.03" fill="#df7868"/>
<rect x="2" y="37" width="1.03" height="1.03" fill="#dc766a"/>
<rect x="3" y="37" width="1.03" height="1.03" fill="#d5726f"/>
<rect x="4" y="37" width="1.03" height="1.03" fill="#cd6d75"/>
<rect x="5" y="37" width="1.03" height="1.03" fill="#c3677b"/>
<rect x="6" y="37" width="1.03" height="1.03" fill="#b56381"/>
<rect x="7" y="37" width="1.03" height="1.03" fill="#a65e88"/>
<rect x="8" y="37" width="1.03" height="1.03" fill="#213285"/>
<rect x="9" y="37" width="2.03" height="1.03" fill="#042333"/>
<rect x="11" y="37" width="1.03" height="1.03" fill="#30349c"/>
<rect x="12" y="37" width="1.03" height="1.03" fill="#7c4a98"/>
<rect x="13" y="37" width="1.03" height="1.03" fill="#6d449b"/>
<rect x="14" y="37" width="1.03" height="1.03" fill="#64409d"/>
<rect x="15" y="37" width="1.03" height="1.03" fill="#633f9e"/>
<rect x="16" y="37" width="1.03" height="1.03" fill="#623f9e"/>
<rect x="17" y="37" width="1.03" height="1.03" fill="#603e9e"/>
<rect x="18" y="37" width="3.03" height="1.03" fill="#5f3e9e"/>
<rect x="21" y="37" width="1.03" height="1.03" fill="#603e9e"/>
<rect x="22" y="37" width="1.03" height="1.03" fill="#5f3e9e"/>
<rect x="23" y="37" width="1.03" height="1.03" fill="#5c3d9f"/>
<rect x="24" y="37" width="1.03" height="1.03" fill="#553ba0"/>
<rect x="25" y="37" width="1.03" height="1.03" fill="#4a399f"/>
<rect x="26" y="37" width="1.03" height="1.03" fill="#3c369d"/>
<rect x="27" y="37" width="1.03" height="1.03" fill="#2d3498"/>
<rect x="28" y="37" width="1.03" height="1.03" fill="#233388"/>
<rect x="29" y="37" width="1.03" height="1.03" fill="#1d327f"/>
<rect x="30" y="37" width="1.03" height="1.03" fill="#12316e"/>
<rect x="31" y="37" width="1.03" height="1.03" fill="#082c52"/>
<rect x="32" y="37" width="1.03" height="1.03" fill="#06263f"/>
</g>
<path id="land" d="M356.0 115.0 L350.0 116.2 L346.0 118.5 L342.5 121.5 L340.0 125.0 L337.1 130.0 L333.8 135.8 L330.9 142.8 L328.0 148.7 L326.3 156.8 L323.9 163.8 L322.2 169.7 L319.8 176.7 L317.5 182.5 L315.2 188.3 L312.3 191.8 L311.1 195.3 L310.2 197.5 L309.5 201.0 L308.5 206.0 L306.0 209.0 L304.5 212.0 L303.0 214.0 L300.0 216.0 L298.0 218.0 L297.8 220.0 L299.0 221.5 L299.6 226.0 L300.5 229.5 L300.8 235.5 L302.8 239.2 L307.2 241.5 L311.0 245.2 L313.2 250.5 L314.8 256.5 L317.8 261.8 L319.2 268.5 L319.7 274.5 L320.0 284.0 L374.0 284.0 L374.0 203.0 L368.2 204.8 L366.4 208.9 L362.3 210.7 L358.3 208.9 L355.7 204.8 L355.3 199.0 L356.3 194.3 L358.8 190.8 L361.5 187.3 L361.9 183.3 L360.6 181.3 L358.6 182.7 L357.1 185.6 L355.3 185.2 L355.0 183.3 L357.1 180.3 L357.7 176.8 L355.3 172.2 L352.4 168.1 L350.9 164.6 L351.3 160.5 L353.0 152.3 L354.2 143.0 L355.4 135.0 L356.6 127.5 L358.2 122.0 L360.2 119.0 L361.5 115.8 L360.3 114.3 L358.2 113.8Z" fill="#efefdb" stroke="#6a6a6a" stroke-width="1.4" stroke-linejoin="round"/>
<path id="grid" d="M150.46 52.47L157.28 305.78M181.78 51.71L188.26 305.12M213.09 50.95L219.25 304.45M244.42 50.19L250.24 303.78M275.74 49.43L281.23 303.12M307.06 48.67L312.22 302.45M338.39 47.92L343.21 301.78M369.72 47.16L374.21 301.12M126.53 93.06L389.19 86.81M127.27 119.71L389.65 113.54M128.02 146.37L390.10 140.28M128.76 173.03L390.55 167.02M129.51 199.68L391.00 193.76M130.25 226.34L391.45 220.50M131.00 253.00L391.90 247.24M131.75 279.66L392.36 273.98" fill="none" stroke="#b0b0b0" stroke-width="1.25"/>
</defs>
<text x="600" y="24.9" font-size="16.67" text-anchor="middle">GP kernel - helmholtz_psi_w_matern12</text>
<text x="600" y="46.2" font-size="16.67" text-anchor="middle">2026-03-31T13:00:00Z</text>
<g transform="translate(0 0)">
<g clip-path="url(#cp)">
<rect x="150" y="73" width="220" height="209" fill="#97b6e1"/>
<use href="#heat"/>
<path d="M181 279.8H214.5V278.75H249V277.7H295V276.8H325V283H181z" fill="#97b6e1"/>
<use href="#land"/>
<path d="M153.9 80.0l0.2 -0.8M163.7 79.4l0.5 -0.1M173.8 79.0l0.2 0.3M188.7 78.5l0.2 0.5M268.0 76.9l0.4 -0.1M273.0 76.6l0.4 0.4M293.1 75.8l-0.1 0.9M322.9 75.4l-0.1 0.4M327.6 75.3l0.3 0.3M332.9 75.0l-0.3 0.6M337.6 75.0l0.2 0.4M342.9 75.4l-0.5 -0.6M347.9 75.2l-0.6 -0.4M352.9 75.0l-0.7 -0.2M357.6 74.9l-0.2 -0.4M362.3 75.0l0.5 -0.8M168.9 84.9l0.3 -0.5M179.2 84.1l-0.3 0.5M208.9 84.0l-0.2 -0.7M213.8 83.9l-0.1 -0.6M223.2 83.3l0.9 0.0M228.2 83.4l0.8 -0.4M233.4 83.3l0.3 -0.5M238.3 83.1l0.4 -0.3M243.4 83.1l0.3 -0.6M263.5 82.8l-0.2 -0.8M268.0 82.1l0.5 0.3M278.2 81.7l0.1 0.5M293.4 81.4l-0.5 0.5M303.1 81.2l-0.0 0.5M307.9 81.2l0.3 0.3M317.7 81.1l0.4 -0.0M322.9 81.2l0.0 -0.4M328.0 80.6l-0.3 0.4M332.9 80.9l-0.1 -0.4M337.8 80.3l0.0 0.6M343.0 80.5l-0.5 -0.1M348.1 80.1l-0.8 0.4M352.8 80.3l-0.3 -0.2M362.5 80.2l0.1 -0.4M164.5 90.3l-0.5 -0.4M179.0 89.6l0.3 0.3M184.0 89.4l0.2 0.4M194.3 89.1l-0.5 0.6M198.8 89.2l0.3 0.3M204.3 89.2l-0.8 -0.2M209.1 89.1l-0.4 -0.1M214.0 89.1l-0.3 -0.3M223.6 89.1l0.3 -0.9M238.5 88.6l0.4 -0.4M248.7 88.0l-0.3 0.3M253.4 88.0l0.4 -0.1M258.5 87.7l-0.0 0.4M273.2 87.5l0.4 0.1M277.9 87.2l0.8 0.3M283.4 87.5l-0.1 -0.4M288.3 86.8l0.0 0.8M303.4 86.8l-0.4 0.0M308.3 86.8l-0.3 -0.3M313.0 86.7l0.2 -0.3M318.2 86.9l-0.2 -0.9M322.7 86.6l0.6 -0.6M328.1 86.3l-0.3 -0.2M332.9 86.3l-0.0 -0.4M337.8 85.8l0.2 0.3M343.0 85.7l-0.3 0.4M348.0 85.6l-0.4 0.2M352.9 85.8l-0.2 -0.3M357.5 85.2l0.5 0.6M362.8 85.2l-0.3 0.4M154.3 95.4l0.3 0.7M169.3 95.2l0.1 0.4M174.0 95.4l0.7 -0.3M179.4 95.5l-0.2 -0.7M184.3 95.2l-0.2 -0.4M189.4 95.0l-0.4 -0.3M194.3 95.0l-0.4 -0.4M223.8 94.3l0.2 -0.5M228.4 94.0l0.9 -0.2M233.6 93.8l0.5 0.0M248.8 93.0l-0.1 0.9M253.5 93.5l0.3 -0.2M273.1 92.8l0.9 0.2M278.3 92.9l0.4 -0.2M288.5 92.4l-0.3 0.3M293.5 92.4l-0.4 0.1M298.4 92.5l-0.3 -0.3M308.5 92.3l-0.5 -0.5M313.1 92.1l0.3 -0.3M318.2 92.0l-0.1 -0.4M323.1 92.0l-0.0 -0.6M338.1 91.5l-0.3 -0.3M343.3 91.4l-0.8 -0.2M348.2 91.2l-0.7 -0.3M353.1 90.9l-0.3 0.2M362.4 90.8l0.7 -0.1M159.7 100.7l-0.2 0.5M194.2 100.3l0.1 -0.4M199.5 100.3l-0.4 -0.5M204.6 100.2l-0.7 -0.5M224.0 99.7l0.2 -0.5M233.7 99.1l0.5 0.2M239.3 98.9l-0.8 0.3M244.1 98.5l-0.4 0.8M288.1 98.1l0.8 -0.4M298.4 97.9l-0.0 -0.5M303.3 97.9l0.2 -0.8M308.5 97.6l-0.3 -0.3M313.2 97.5l0.3 -0.4M323.1 97.5l0.3 -0.8M328.2 97.2l0.0 -0.5M333.3 97.0l-0.4 -0.4M338.3 96.8l-0.3 -0.2M343.2 96.5l-0.3 0.2M348.4 96.7l-0.8 -0.4M353.2 96.3l-0.4 0.2M357.9 96.0l0.1 0.4M362.7 96.1l0.4 0.0M179.2 106.0l0.6 -0.3M184.3 106.1l0.4 -0.8M194.4 105.7l0.0 -0.4M199.4 105.2l-0.1 0.4M214.5 105.1l-0.5 -0.0M239.4 104.2l-0.8 0.5M293.3 103.3l0.6 -0.3M298.3 103.3l0.6 -0.4M303.3 103.1l0.5 -0.4M308.6 103.0l-0.3 -0.5M313.3 103.1l0.2 -0.9M323.4 102.7l-0.1 -0.6M338.4 102.3l-0.4 -0.5M343.3 102.2l-0.3 -0.4M348.2 102.0l-0.2 -0.3M353.2 101.6l-0.3 0.2M357.9 101.8l0.3 -0.4M362.8 101.5l0.4 -0.0M189.4 111.1l0.4 -0.1M204.7 110.7l-0.5 -0.1M209.6 110.4l-0.4 0.3M224.7 110.1l-0.9 0.2M229.7 110.1l-0.8 -0.1M288.4 108.8l0.6 -0.3M298.5 108.5l0.3 -0.2M308.7 108.3l-0.3 -0.3M313.7 108.1l-0.4 0.0M318.3 107.9l0.4 0.0M323.3 107.7l0.4 0.2M333.4 107.9l-0.2 -0.6M338.4 107.7l-0.3 -0.5M343.3 107.6l-0.1 -0.4M348.3 107.5l-0.1 -0.4M357.9 106.9l0.4 0.1M363.3 106.7l-0.4 0.4M154.7 117.0l0.8 0.3M184.5 116.4l0.5 0.1M194.4 116.5l0.6 -0.4M199.4 115.8l0.5 0.6M204.6 115.8l0.1 0.4M209.9 115.8l-0.7 0.2M234.6 115.3l-0.5 0.1M244.2 115.3l0.1 -0.5M249.4 114.9l-0.4 0.0M259.1 114.5l0.0 0.5M298.6 113.8l0.4 -0.1M303.4 113.4l0.7 0.5M308.5 113.2l0.4 0.6M313.6 113.2l0.1 0.4M318.7 113.2l-0.2 0.3M328.5 113.3l0.0 -0.4M333.4 113.2l0.1 -0.5M343.4 113.0l-0.0 -0.5M348.5 113.0l-0.3 -0.8M353.2 112.7l0.1 -0.5M363.2 112.5l-0.0 -0.4M154.9 122.5l0.5 0.1M190.0 121.9l-0.2 -0.4M194.5 121.5l0.7 0.2M244.5 120.4l-0.4 0.2M259.5 120.5l-0.6 -0.7M269.1 120.1l0.2 -0.4M274.1 120.0l-0.0 -0.4M279.3 119.6l-0.6 0.0M283.7 119.8l0.6 -0.6M288.9 119.6l0.0 -0.4M293.7 119.2l0.4 0.2M298.7 119.3l0.3 -0.2M303.6 119.0l0.4 0.2M308.6 118.9l0.4 0.1M313.9 118.6l-0.4 0.4M318.8 118.6l-0.3 0.3M333.9 118.3l-0.6 0.1M343.6 118.5l-0.3 -0.8M194.6 126.7l0.6 0.6M204.8 126.3l0.1 0.8M239.5 125.5l-0.0 0.8M244.7 125.7l-0.4 0.2M249.2 125.8l0.4 -0.2M254.2 125.5l0.4 0.2M268.9 125.4l0.7 -0.2M274.1 125.5l0.2 -0.8M279.1 124.8l0.1 0.4M284.1 125.1l-0.1 -0.4M293.8 124.6l0.4 0.2M299.1 124.4l-0.1 0.4M303.7 124.4l0.4 0.0M308.7 124.7l0.3 -0.8M313.7 124.1l0.3 0.3M319.1 123.8l-0.6 0.5M324.0 123.7l-0.5 0.5M333.7 123.4l-0.1 0.7M339.0 123.7l-0.8 -0.1M363.6 122.9l-0.4 0.2M170.0 133.1l0.6 -0.3M180.2 132.9l0.1 -0.4M185.4 132.5l-0.4 0.2M190.1 132.7l0.1 -0.4M205.0 131.8l-0.0 0.7M230.1 131.4l-0.7 0.3M239.8 131.2l-0.4 0.1M249.9 131.0l-0.6 0.2M269.5 130.8l-0.2 -0.3M274.2 130.6l0.4 -0.2M279.1 130.3l0.3 0.2M284.0 130.2l0.4 0.1M289.0 129.9l0.4 0.4M294.1 129.8l0.0 0.4M298.9 130.0l0.4 -0.1M303.9 130.0l0.3 -0.3M308.9 129.9l0.2 -0.4M313.7 129.5l0.4 0.2M318.9 129.3l0.0 0.4M324.1 129.1l-0.5 0.5M334.0 128.9l-0.5 0.5M363.3 128.5l0.4 -0.1M175.3 138.5l0.3 -0.6M180.4 138.3l-0.1 -0.4M185.6 137.7l-0.5 0.5M195.3 137.5l-0.0 0.4M210.3 137.4l-0.4 -0.0M215.3 137.2l-0.5 0.1M219.5 137.1l0.9 0.1M235.0 136.5l-0.4 0.6M244.6 136.2l0.3 0.8M249.5 136.1l0.4 0.7M254.5 136.5l0.3 -0.3M269.4 136.4l0.2 -0.8M274.4 136.1l0.0 -0.4M279.4 135.6l0.1 0.4M284.4 135.4l-0.1 0.4M289.3 135.3l-0.0 0.4M294.1 135.5l0.3 -0.3M299.1 135.1l0.2 0.3M304.0 135.2l0.4 -0.1M309.1 135.3l0.0 -0.4M313.8 135.0l0.5 -0.1M319.1 134.7l-0.2 0.4M324.1 134.4l-0.3 0.6M329.0 134.5l-0.3 0.3M358.9 133.7l-0.6 0.4M363.5 133.6l0.1 0.4M175.6 143.8l-0.0 -0.5M180.3 143.4l0.4 -0.0M185.1 143.1l0.7 0.3M190.2 143.2l0.5 -0.0M195.3 142.7l0.2 0.7M200.2 142.8l0.3 0.3M205.2 142.5l0.2 0.8M219.9 142.4l0.4 0.1M225.3 142.5l-0.5 -0.3M230.3 142.2l-0.5 0.2M235.2 142.2l-0.5 -0.0M250.3 141.9l-0.9 -0.2M259.6 141.4l0.2 0.4M264.7 141.7l-0.0 -0.5M269.7 141.6l-0.1 -0.4M274.8 141.1l-0.5 0.4M279.7 141.0l-0.3 0.2M284.3 140.9l0.3 0.3M289.0 140.9l0.9 0.0M294.1 140.7l0.4 0.3M304.1 140.6l0.4 -0.0M309.0 140.1l0.4 0.8M314.3 140.2l-0.3 0.2M319.4 140.2l-0.6 -0.0M324.4 140.0l-0.6 0.3M364.0 139.0l-0.7 0.4M171.0 149.0l-0.4 0.1M175.9 148.9l-0.4 0.1M180.4 149.0l0.5 -0.4M185.3 148.7l0.6 -0.1M200.2 148.5l0.4 -0.2M210.5 148.0l-0.4 0.2M215.4 148.1l-0.3 -0.3M220.1 148.3l0.2 -0.8M235.3 147.6l-0.4 -0.1M240.2 147.3l-0.2 0.3M245.1 147.1l-0.2 0.3M255.3 147.1l-0.8 0.0M265.0 146.9l-0.4 -0.2M269.7 146.9l0.1 -0.4M274.7 146.8l-0.0 -0.4M279.5 146.7l0.3 -0.3M284.5 146.1l0.2 0.6M294.4 145.9l0.1 0.4M299.2 146.0l0.4 0.1M304.2 145.7l0.3 0.4M309.2 145.6l0.2 0.4M314.1 145.6l0.4 0.2M319.2 145.4l0.1 0.4M324.0 145.5l0.4 -0.1M364.0 144.6l-0.5 -0.2M156.2 154.8l-0.4 -0.2M161.4 154.8l-0.8 -0.4M165.8 154.6l0.4 -0.2M170.5 154.5l0.8 -0.2M175.9 154.5l-0.0 -0.4M205.7 153.9l-0.2 -0.6M210.7 153.7l-0.4 -0.4M225.4 153.5l-0.1 -0.7M235.1 153.1l0.3 -0.4M240.2 153.2l-0.2 -0.9M260.2 152.3l-0.6 0.0M265.2 152.5l-0.6 -0.6M269.9 151.9l-0.1 0.4M274.7 152.3l0.2 -0.5M279.6 151.7l0.3 0.4M284.5 151.7l0.4 0.1M289.4 151.6l0.4 0.2M294.1 151.4l0.9 0.2M299.4 151.3l0.3 0.3M304.2 151.0l0.6 0.6M309.6 151.2l-0.4 0.0M313.9 151.0l0.9 0.1M319.2 150.8l0.3 0.3M324.2 150.6l0.2 0.6M359.3 149.9l-0.8 0.4M364.2 149.9l-0.7 0.1M156.4 159.9l-0.4 0.3M161.3 159.8l-0.3 0.3M166.2 160.0l-0.2 -0.3M170.8 159.8l0.6 -0.2M185.4 159.3l0.9 0.2M200.7 158.9l-0.0 0.4M205.5 158.9l0.4 0.1M210.7 159.3l-0.1 -0.9M225.2 158.8l0.4 -0.7M240.4 158.4l-0.3 -0.5M245.2 158.3l0.0 -0.5M250.5 157.7l-0.7 0.5M260.3 158.0l-0.4 -0.6M269.9 157.9l0.2 -0.8M274.8 157.5l0.3 -0.3M279.8 157.1l0.1 0.4M284.6 157.4l0.4 -0.5M289.6 157.2l0.3 -0.3M294.6 157.1l0.3 -0.4M299.5 156.8l0.4 0.1M304.3 156.4l0.6 0.7M309.5 156.1l0.0 0.9M314.5 156.0l-0.1 0.9M319.3 156.2l0.3 0.4M324.2 156.1l0.3 0.2M364.2 155.4l-0.4 -0.2M170.9 165.1l0.7 0.1M175.8 165.0l0.7 0.1M190.9 164.3l0.0 0.7M200.9 164.6l-0.2 -0.3M206.0 164.2l-0.4 0.3M215.9 164.1l-0.4 -0.0M220.6 164.2l-0.0 -0.4M225.3 164.0l0.5 -0.2M265.3 163.2l-0.3 -0.5M270.0 163.1l0.1 -0.4M279.6 162.9l0.8 -0.5M284.6 162.6l0.6 -0.1M289.5 162.6l0.7 -0.4M294.7 162.1l0.2 0.4M314.8 161.5l-0.4 0.6M319.7 161.5l-0.3 0.5M359.4 160.7l-0.6 0.1M364.1 160.9l-0.1 -0.4M161.3 170.5l0.3 0.5M175.9 170.4l0.7 0.1M185.9 170.1l0.5 0.1M190.7 170.1l0.7 -0.1M196.2 169.8l-0.3 0.3M206.3 169.7l-0.7 0.0M210.9 169.3l0.0 0.7M216.1 169.5l-0.5 0.0M225.9 169.6l-0.4 -0.7M230.7 169.3l-0.1 -0.4M265.2 168.6l0.1 -0.4M284.8 167.9l0.5 0.0M289.7 168.0l0.6 -0.4M295.0 167.9l-0.1 -0.4M300.1 167.6l-0.4 -0.1M304.7 167.3l0.2 0.4M310.0 167.0l-0.4 0.6M319.8 166.7l-0.3 0.8M156.8 176.1l-0.3 0.2M161.5 175.8l0.1 0.6M166.4 175.7l0.2 0.5M191.4 175.6l-0.3 -0.4M269.9 173.7l0.8 -0.2M274.9 173.7l0.7 -0.4M284.8 173.5l0.7 -0.4M289.8 173.2l0.6 -0.2M294.9 172.9l0.2 0.3M300.0 173.1l-0.0 -0.4M305.0 172.6l-0.2 0.4M364.1 171.7l0.2 -0.5M156.5 181.7l0.6 -0.2M161.4 181.3l0.7 0.2M166.3 181.3l0.8 0.1M176.4 181.0l0.4 0.2M191.6 180.5l-0.5 0.6M196.4 180.8l-0.2 -0.4M206.4 180.4l-0.4 0.1M270.2 179.1l0.5 -0.2M275.0 178.7l0.8 0.4M280.3 179.0l0.1 -0.4M289.9 178.7l0.6 -0.4M295.0 178.4l0.4 0.1M300.4 177.9l-0.5 0.8M304.9 178.0l0.2 0.3M309.8 177.9l0.3 0.3M156.7 187.0l0.4 -0.1M161.7 186.9l0.4 -0.2M166.7 187.0l0.2 -0.6M176.4 186.2l0.6 0.6M181.5 186.5l0.3 -0.3M186.8 186.2l-0.5 0.1M196.7 185.7l-0.6 0.7M211.6 185.4l-0.7 0.5M216.4 185.2l-0.4 0.8M236.0 185.4l-0.0 -0.5M241.2 185.4l-0.6 -0.7M270.4 184.5l0.3 -0.3M280.6 184.2l-0.4 -0.1M285.6 184.1l-0.4 -0.1M290.4 184.1l-0.3 -0.3M294.9 184.0l0.8 -0.4M300.1 183.8l0.2 -0.3M305.1 183.4l0.2 0.4M309.9 183.3l0.3 0.3M314.7 183.3l0.7 0.1M161.6 192.3l0.8 -0.2M166.6 192.1l0.6 -0.0M171.7 192.1l0.3 -0.3M177.0 191.7l-0.3 0.3M201.8 191.3l-0.6 -0.0M206.8 191.4l-0.6 -0.4M211.2 191.1l0.5 -0.0M236.5 190.6l-0.7 -0.1M241.4 190.5l-0.8 -0.1M246.2 190.3l-0.4 -0.1M251.1 190.5l-0.3 -0.6M255.6 190.0l0.5 0.1M265.9 190.2l-0.3 -0.7M271.0 189.5l-0.7 0.5M275.5 189.8l0.2 -0.3M290.4 189.1l0.0 0.4M300.5 189.2l-0.3 -0.3M305.0 189.0l0.5 -0.2M309.8 189.0l0.8 -0.3M157.1 198.1l0.3 -0.8M162.0 197.6l0.4 -0.1M171.9 197.5l0.3 -0.3M176.6 197.1l0.8 0.2M181.7 197.2l0.3 -0.3M187.1 196.7l-0.4 0.6M192.0 196.9l-0.4 -0.0M202.0 196.5l-0.6 0.4M256.1 195.2l-0.3 0.4M265.7 195.2l0.4 0.1M271.0 195.0l-0.4 0.1M275.9 195.0l-0.4 -0.0M286.1 194.7l-0.9 0.1M290.8 194.5l-0.6 0.3M295.7 194.5l-0.4 0.1M300.6 194.4l-0.4 -0.0M305.0 194.3l0.7 0.0M364.6 193.2l0.1 -0.5M157.2 203.2l0.2 -0.3M162.5 202.9l-0.4 0.2M166.9 202.9l0.6 -0.1M172.0 202.9l0.4 -0.4M177.1 202.8l0.1 -0.5M182.2 202.9l-0.3 -0.8M192.1 202.0l-0.3 0.5M197.0 201.9l-0.2 0.5M201.6 201.9l0.4 0.3M216.3 201.9l0.5 -0.5M226.3 201.4l0.4 0.1M260.8 200.4l0.5 0.6M276.0 200.3l-0.4 0.0M280.9 200.1l-0.3 0.3M285.9 200.2l-0.4 -0.1M300.5 199.6l0.1 0.4M359.5 198.2l0.6 0.4M157.4 208.2l0.1 0.4M162.3 208.5l0.2 -0.3M167.5 208.3l-0.2 -0.3M192.0 207.8l0.0 -0.4M196.8 207.6l0.3 -0.3M201.7 207.6l0.4 -0.4M206.6 207.5l0.4 -0.3M231.6 206.3l-0.2 0.8M266.1 205.7l-0.1 0.5M270.8 205.8l0.4 0.2M276.0 205.5l-0.1 0.4M281.2 205.6l-0.5 0.1M286.0 205.6l-0.3 -0.3M290.8 205.7l-0.1 -0.5M295.9 205.4l-0.4 -0.3M300.8 204.9l-0.3 0.6M305.2 205.3l0.7 -0.4M364.6 203.8l0.4 -0.1M162.8 213.8l-0.4 -0.2M172.4 213.6l0.1 -0.4M192.4 213.1l-0.4 -0.2M202.0 213.0l0.2 -0.4M211.6 212.7l0.6 -0.3M231.4 212.1l0.5 0.0M275.8 211.1l0.5 0.1M281.3 210.9l-0.5 0.1M295.7 210.8l0.2 -0.4M300.9 210.3l-0.2 0.6M365.1 208.7l-0.2 0.9M157.8 218.9l0.1 0.4M162.7 218.8l-0.0 0.6M167.5 219.0l0.3 -0.2M187.2 218.9l0.3 -0.8M197.1 218.7l0.3 -0.9M212.5 218.0l-0.8 -0.1M217.0 218.3l0.0 -0.9M266.3 216.5l0.0 0.4M276.0 216.6l0.4 -0.1M281.2 216.6l-0.2 -0.5M157.7 224.4l0.5 0.2M162.7 224.6l0.4 -0.4M167.6 224.6l0.3 -0.6M187.2 224.1l0.7 -0.6M197.0 223.7l0.7 -0.2M207.4 223.3l-0.4 0.1M212.2 223.5l0.0 -0.4M217.3 223.0l-0.4 0.4M222.5 223.1l-0.9 -0.0M246.7 222.1l0.0 0.8M257.0 222.2l-0.8 0.1M261.8 222.2l-0.5 0.1M266.6 222.4l-0.3 -0.6M271.6 221.9l-0.4 0.2M158.0 230.1l0.1 -0.6M163.3 229.9l-0.5 -0.3M167.9 229.9l-0.0 -0.5M173.1 229.8l-0.5 -0.6M177.7 229.7l0.2 -0.6M187.6 229.5l0.2 -0.6M202.1 229.0l0.6 -0.3M207.5 229.0l-0.2 -0.4M212.2 228.5l0.2 0.4M222.5 228.3l-0.6 0.3M227.4 228.3l-0.7 -0.0M231.8 228.2l0.6 0.1M236.9 227.9l0.1 0.4M242.1 228.0l-0.4 0.0M246.7 228.1l0.2 -0.5M251.9 228.0l-0.2 -0.3M266.8 227.5l-0.4 -0.1M296.3 227.1l-0.2 -0.6M158.1 235.4l0.3 -0.3M163.4 235.3l-0.4 -0.4M168.2 235.2l-0.2 -0.4M197.9 234.4l-0.4 -0.1M202.4 234.5l0.4 -0.6M227.2 233.4l0.1 0.5M236.7 233.5l0.8 -0.1M241.9 233.2l0.3 0.3M256.7 233.4l0.2 -0.7M158.6 240.7l-0.4 -0.1M163.5 240.6l-0.3 -0.2M188.2 240.3l-0.6 -0.7M197.7 239.6l0.3 0.3M212.2 239.5l0.7 -0.2M227.5 238.8l-0.3 0.5M236.8 238.7l0.8 0.4M241.9 238.7l0.4 0.1M252.1 238.9l-0.2 -0.8M281.8 238.2l-0.4 -0.7M168.8 245.9l-0.9 -0.3M178.7 245.6l-0.9 -0.1M188.5 245.2l-0.8 0.3M193.2 245.1l-0.5 0.2M197.9 245.3l0.1 -0.5M212.8 244.5l-0.2 0.5M256.9 243.7l0.4 0.1M286.8 243.4l-0.4 -0.6M296.7 242.9l-0.4 -0.1M306.6 243.0l-0.6 -0.6M168.9 251.0l-0.9 0.3M178.6 250.9l-0.6 0.1M193.1 251.0l0.1 -0.8M197.9 250.5l0.4 -0.1M203.1 250.2l-0.1 0.4M212.6 250.2l0.5 -0.1M217.4 249.9l0.8 0.2M242.0 249.4l0.9 0.1M246.9 249.3l0.8 0.2M252.1 249.6l0.3 -0.7M257.2 249.6l0.1 -0.9M262.2 248.9l-0.2 0.4M267.2 248.7l-0.3 0.5M272.2 248.8l-0.4 -0.0M277.2 248.4l-0.6 0.7M291.8 248.2l-0.2 0.4M301.8 248.0l-0.5 0.4M306.6 248.0l-0.3 0.2M168.8 256.3l-0.3 0.5M173.8 256.3l-0.4 0.2M178.7 256.1l-0.5 0.3M188.8 255.9l-0.9 0.2M203.5 255.6l-0.6 0.2M207.9 256.0l0.4 -0.7M242.4 255.2l0.3 -0.7M252.3 255.0l0.3 -0.7M257.7 254.3l-0.7 0.5M262.4 254.2l-0.3 0.4M267.4 254.0l-0.4 0.7M272.2 253.9l-0.2 0.5M306.3 253.5l0.6 -0.1M159.1 262.0l-0.3 0.2M164.0 261.6l-0.3 0.8M173.8 261.3l-0.1 0.9M183.8 261.2l-0.6 0.7M207.9 260.9l0.6 0.1M237.6 260.7l0.3 -0.8M247.8 260.2l-0.3 -0.2M267.6 259.5l-0.7 0.4M272.3 259.4l-0.1 0.4M297.2 258.7l-0.6 0.6M302.0 258.7l-0.5 0.4M159.2 267.3l-0.2 0.4M164.1 266.9l-0.1 0.8M218.1 266.3l0.1 -0.4M247.8 265.7l-0.1 -0.4M257.9 265.2l-0.6 0.2M267.3 264.9l0.2 0.4M272.4 264.5l-0.2 0.9M277.3 264.6l0.0 0.4M301.7 264.2l0.3 0.3M306.7 263.9l0.2 0.5M311.5 264.2l0.4 -0.2M159.4 272.7l-0.3 0.3M164.3 272.5l-0.2 0.4M169.1 272.3l-0.1 0.6M173.9 272.2l0.1 0.6M178.8 272.0l0.3 0.7M184.0 272.2l-0.3 0.2M194.1 271.9l-0.8 0.2M213.2 271.5l0.3 0.3M238.1 271.3l-0.2 -0.5M243.0 271.1l-0.3 -0.3M262.9 270.5l-0.5 0.0M272.6 270.3l-0.4 0.1M282.6 270.1l-0.7 -0.0M292.5 269.6l-0.7 0.5M297.1 269.5l-0.1 0.6M306.8 269.1l0.3 0.9M311.7 269.3l0.3 0.2M159.3 277.8l0.1 0.7M164.2 277.9l0.3 0.3M169.2 277.6l0.1 0.7M173.9 277.5l0.4 0.7M178.7 277.8l0.7 -0.1M184.2 277.7l-0.4 -0.2M194.2 277.1l-0.7 0.6M198.9 277.2l-0.3 0.2M208.4 277.2l0.3 -0.2M222.9 276.7l0.9 0.1M228.3 277.0l-0.1 -0.6M238.3 276.4l-0.4 0.1M248.0 276.0l-0.1 0.4M258.0 275.7l-0.4 0.6M267.8 275.9l-0.4 -0.1M277.7 275.5l-0.3 0.3M282.8 275.5l-0.9 -0.1M287.7 275.6l-0.7 -0.3" fill="none" stroke="#5f8fc6" stroke-width="1.05" stroke-linecap="round" stroke-opacity=".85"/>
<path d="M158.6 79.8l1.4 -1.1M178.5 78.5l1.2 1.7M183.7 78.3l0.6 2.0M194.0 78.3l-0.8 1.4M199.0 78.2l-1.2 1.2M223.6 78.4l-0.1 -1.6M233.6 78.2l-0.4 -1.8M258.1 77.7l0.4 -2.0M263.2 77.6l0.2 -2.1M278.2 76.2l-0.2 1.5M283.3 76.2l-0.9 1.2M288.0 75.9l0.0 1.7M298.0 75.6l-0.0 2.0M303.1 75.7l-0.5 1.3M313.1 75.5l-0.7 1.2M317.7 75.3l0.5 1.2M154.1 85.3l0.5 -1.3M184.1 83.9l-0.5 1.3M204.4 84.0l-2.0 -0.8M218.7 83.8l0.1 -1.4M248.4 83.1l0.1 -1.4M258.0 82.9l1.3 -1.3M272.8 82.1l1.6 -0.0M283.2 81.3l-0.1 2.1M288.2 81.4l-0.0 1.4M298.5 81.1l-1.3 1.5M313.2 80.8l-0.8 1.3M357.4 80.4l1.0 -1.0M154.6 89.8l-1.0 1.9M158.9 90.7l1.4 -1.6M169.3 90.6l-0.3 -2.0M173.8 90.3l1.4 -1.4M189.3 89.0l-1.0 1.7M218.7 89.2l0.3 -1.5M228.2 88.9l1.9 -1.1M233.2 88.8l1.7 -1.1M293.5 86.8l-1.0 0.9M298.6 87.0l-1.3 -0.4M159.1 95.1l1.3 1.7M164.8 95.5l-1.4 -0.1M209.2 95.0l-0.7 -2.1M214.2 94.7l-0.6 -1.5M238.4 93.9l1.4 -0.6M244.1 93.4l-1.3 0.7M267.9 93.0l2.1 -0.1M283.1 92.9l1.2 -0.7M303.6 92.5l-1.1 -1.1M328.3 92.0l-0.7 -1.5M333.0 91.9l0.2 -1.4M154.7 100.7l-0.3 1.5M169.0 100.6l1.6 0.4M184.3 100.9l0.3 -1.8M189.7 100.6l-1.4 -1.1M209.5 100.2l-1.3 -1.6M214.7 99.7l-1.9 -0.2M228.9 99.7l0.5 -1.3M249.1 98.5l-0.8 1.1M283.0 98.4l1.9 -1.2M293.4 98.2l0.3 -1.6M318.1 97.7l0.6 -1.6M164.3 105.8l1.3 1.3M189.2 106.0l0.8 -1.2M224.7 104.8l-2.0 -0.1M229.6 104.6l-1.6 0.3M243.8 104.9l0.8 -2.0M278.4 103.9l1.1 -1.2M318.7 102.9l-1.1 -1.2M328.2 102.9l0.2 -1.9M333.3 102.6l-0.2 -1.4M154.6 111.5l1.1 1.2M179.2 111.4l1.8 -0.5M199.9 110.9l-1.3 -0.4M249.6 109.6l-1.8 -0.1M273.8 109.4l0.2 -1.4M283.5 109.2l1.1 -1.6M293.4 109.1l1.0 -2.0M303.2 108.4l1.5 -0.2M328.4 108.1l0.0 -1.3M353.1 107.6l0.2 -1.6M159.6 116.7l1.3 1.2M229.9 115.4l-2.0 -0.1M254.2 115.2l-0.2 -1.4M263.6 114.8l1.7 -0.5M278.6 114.8l1.2 -1.8M283.9 114.6l-0.1 -1.4M293.3 114.3l1.7 -1.2M323.8 112.9l-1.0 1.1M338.6 113.2l-0.8 -1.2M159.6 122.7l1.9 -0.9M169.7 122.3l1.4 -0.4M174.6 122.1l1.5 -0.2M184.6 121.5l1.0 1.2M199.5 121.2l1.0 0.9M225.0 120.7l-1.6 0.9M253.9 120.4l1.3 -0.7M263.9 120.4l1.1 -1.5M329.0 118.3l-1.5 0.4M154.9 128.2l1.5 -1.2M159.9 128.2l1.4 -1.5M164.6 127.7l2.2 -0.2M169.6 127.6l2.1 -0.2M179.6 127.3l1.6 0.2M190.1 126.7l-0.4 1.4M215.2 126.2l-1.6 1.3M235.0 125.7l-1.5 1.3M259.2 125.9l0.4 -1.5M288.7 124.7l1.5 0.1M329.1 123.6l-1.3 0.8M174.8 133.0l1.6 -0.7M195.0 132.0l0.5 1.4M200.0 131.8l0.3 1.6M215.1 131.5l-0.7 1.3M225.1 131.1l-1.0 1.9M264.2 131.2l0.8 -1.8M329.0 128.9l-0.8 1.1M190.4 137.4l-0.6 1.4M199.9 137.1l0.9 1.8M204.8 137.2l1.0 1.0M225.3 136.8l-1.2 0.9M264.3 136.7l0.9 -1.9M155.4 144.2l1.4 -0.6M170.5 144.2l0.5 -1.8M210.7 142.8l-1.6 -0.2M239.6 141.6l1.0 1.5M245.2 141.7l-1.2 0.8M255.0 142.1l-0.7 -1.5M298.9 140.5l1.4 0.8M329.0 139.6l0.2 1.5M156.1 149.7l-0.7 -1.2M160.8 149.6l0.2 -1.3M165.7 149.5l0.5 -1.3M190.1 148.7l1.5 -0.5M195.4 148.0l0.4 1.5M204.9 147.8l1.6 1.4M250.3 147.2l-1.4 -0.1M260.3 147.1l-1.6 -0.4M359.4 144.5l-1.9 0.7M195.3 153.5l1.1 1.3M200.2 153.5l1.4 0.7M214.9 153.6l1.9 -1.0M255.6 152.4l-2.0 0.1M175.5 159.6l1.7 0.2M195.4 159.0l1.3 0.6M235.5 158.8l-0.5 -1.9M265.5 157.9l-1.8 -0.9M359.5 155.5l-1.7 -0.3M211.1 164.4l-1.3 -0.8M230.5 164.3l0.0 -2.0M235.8 164.2l-1.0 -1.9M255.6 163.5l-1.2 -1.1M260.1 163.7l0.2 -2.1M299.3 162.0l1.8 0.5M304.8 161.7l-0.2 1.4M310.0 161.5l-1.3 1.5M354.6 161.0l-1.6 -0.2M156.9 170.7l-1.4 0.6M166.2 170.0l0.6 2.2M180.9 170.0l1.0 0.9M221.3 169.2l-1.8 0.7M240.4 169.3l0.6 -1.5M250.5 169.3l-0.1 -2.1M255.1 168.8l1.1 -0.9M279.6 168.2l1.8 -0.7M314.8 166.8l-0.2 1.4M359.4 166.6l-0.7 -1.3M185.8 175.3l1.6 0.9M196.6 175.0l-1.6 1.2M201.6 175.1l-1.5 0.2M211.4 175.0l-1.5 -0.1M235.9 174.8l-0.5 -1.3M279.7 173.7l1.7 -1.0M309.9 172.2l-0.1 1.6M315.1 172.2l-0.9 1.4M319.7 172.1l0.3 1.4M171.3 180.8l0.9 1.5M186.7 180.6l-1.1 1.0M211.6 180.1l-1.6 0.8M231.5 180.1l-2.0 -0.7M240.7 180.1l0.4 -1.7M245.5 180.1l0.8 -1.9M284.9 178.5l1.4 0.5M171.4 186.4l1.3 0.7M221.5 185.1l-1.3 1.5M226.5 185.0l-1.6 1.4M231.3 184.9l-1.0 1.2M245.6 185.3l1.0 -1.3M250.4 185.0l1.5 -0.7M255.3 184.7l1.4 0.1M260.4 184.8l1.0 -0.9M265.2 184.5l1.3 0.0M275.7 184.6l-0.8 -1.3M156.8 192.8l1.1 -1.6M182.2 191.7l-1.4 0.3M186.8 191.2l-0.2 1.6M192.1 191.2l-1.5 1.0M226.6 190.3l-1.5 1.4M231.2 190.2l-0.0 1.5M260.4 189.9l1.5 0.1M281.0 189.1l-1.6 1.3M285.7 189.8l-0.6 -1.5M295.7 188.9l-1.3 0.9M166.7 197.6l1.4 -0.4M197.2 196.6l-1.7 0.7M206.2 196.7l1.3 -0.5M241.3 195.3l-0.6 1.6M251.4 195.4l-1.2 0.6M261.2 194.8l-1.1 1.8M281.1 194.5l-1.4 1.3M359.6 192.7l0.4 1.5M206.6 201.5l0.5 1.4M231.1 200.9l1.0 1.6M251.2 200.5l-0.0 1.6M271.3 200.2l-1.3 0.8M291.2 200.1l-1.9 -0.2M296.1 199.7l-1.7 0.6M305.0 199.8l1.8 -0.5M364.7 197.8l-0.0 1.9M172.0 208.4l0.9 -1.0M177.2 208.4l0.2 -1.6M182.0 208.4l0.7 -1.9M186.9 208.2l0.6 -1.5M211.4 207.3l1.5 -0.4M216.4 207.4l1.0 -1.1M221.5 207.4l0.6 -1.5M226.3 207.2l0.9 -1.1M236.6 206.3l-0.5 1.3M260.9 205.7l0.9 1.4M359.8 203.4l0.4 1.6M157.3 213.5l1.1 1.0M167.0 213.7l1.9 -0.5M177.8 213.7l-1.3 -1.3M197.1 213.3l0.0 -1.5M236.1 211.9l1.8 0.2M271.1 210.7l0.1 1.7M286.2 211.4l-0.7 -1.7M291.0 211.4l-0.3 -2.2M177.3 219.0l0.8 -1.2M201.9 218.5l1.1 -1.4M206.6 218.2l1.7 -0.6M221.7 218.0l0.8 -1.2M237.2 217.3l-1.6 0.1M251.6 216.4l-0.4 2.2M261.2 216.3l0.8 1.8M271.3 216.0l-0.2 2.1M285.6 216.6l1.7 -1.4M172.3 224.6l1.5 -1.6M177.6 224.5l0.2 -1.6M201.9 223.9l1.4 -1.2M227.1 222.5l-0.5 1.5M231.9 223.3l-0.1 -1.5M236.3 222.4l1.9 1.1M252.1 222.2l-1.6 0.6M276.0 222.1l1.0 -1.0M285.9 222.0l0.9 -1.3M290.6 221.9l1.6 -1.4M295.7 221.7l1.1 -0.9M182.4 229.6l1.0 -1.1M192.3 229.4l0.9 -1.0M217.5 228.1l-0.9 1.4M257.1 227.4l-1.5 0.8M261.9 227.9l-0.9 -1.2M271.3 227.7l0.7 -1.4M276.5 227.8l-0.2 -1.9M281.2 227.5l0.7 -1.3M286.3 227.6l-0.1 -1.9M290.9 227.1l1.1 -0.8M182.7 235.1l0.4 -1.4M192.3 234.4l1.6 0.3M207.4 233.5l0.3 2.2M217.3 233.3l0.4 2.1M261.9 233.4l-0.4 -1.5M271.9 233.3l-1.1 -1.9M281.5 233.0l0.0 -1.7M296.0 232.8l0.9 -2.1M168.5 240.8l-0.9 -1.3M173.6 240.1l-1.5 0.5M178.4 240.4l-1.1 -0.9M192.9 240.2l0.0 -1.4M202.4 239.3l1.2 0.9M207.3 239.8l1.2 -1.1M217.3 238.9l0.9 1.4M222.0 238.8l1.5 1.5M246.7 238.5l1.3 0.4M257.1 238.8l-0.6 -1.5M267.3 238.4l-1.6 -0.6M272.2 238.3l-1.8 -0.7M291.6 238.3l-0.5 -2.2M296.2 237.9l0.5 -1.4M301.7 237.8l-1.5 -1.3M159.0 246.3l-1.7 -1.0M163.8 246.2l-1.4 -1.2M183.7 245.4l-1.9 0.0M202.3 245.2l1.9 -0.9M217.3 244.3l1.1 1.2M222.1 244.4l1.6 0.7M246.7 244.0l1.9 0.1M262.2 244.2l-0.6 -1.9M267.5 243.5l-2.0 0.3M277.1 243.7l-1.2 -1.3M282.3 242.9l-1.9 1.2M291.9 243.4l-1.2 -1.4M301.4 243.3l0.1 -1.6M164.0 251.4l-1.4 -0.5M173.9 250.8l-1.8 0.6M183.8 250.9l-1.9 -0.3M188.5 250.5l-1.1 0.8M207.4 250.5l1.7 -0.9M231.9 249.8l2.2 -0.3M282.4 248.5l-1.9 0.5M297.0 248.7l-1.4 -1.5M159.2 256.9l-1.3 -0.7M164.2 256.6l-1.7 0.2M183.8 255.8l-1.4 1.1M222.2 255.5l2.0 -0.9M237.3 255.2l1.1 -1.0M248.0 254.8l-2.1 -0.3M277.6 254.0l-2.0 0.3M282.3 253.5l-1.3 1.7M286.8 253.5l0.1 1.5M311.1 253.7l1.3 -1.4M169.2 261.5l-1.5 1.2M179.0 261.3l-1.2 1.3M193.7 260.9l-1.1 1.5M198.8 260.9l-1.7 0.9M212.8 261.4l0.9 -1.9M243.1 260.3l-1.7 -0.1M262.8 259.6l-1.5 0.8M277.4 259.1l-0.8 1.2M282.2 258.9l-0.4 1.6M287.1 258.9l-0.6 1.2M291.9 258.6l0.1 2.0M169.0 266.8l-0.2 1.5M174.0 266.7l-0.4 1.3M179.1 266.5l-1.1 1.7M183.8 266.5l-0.4 1.3M188.7 266.3l-0.3 1.7M238.1 266.2l-0.7 -1.6M242.8 266.2l-0.1 -2.0M262.9 264.8l-1.5 1.3M282.7 264.7l-1.9 0.1M287.5 264.3l-1.5 1.3M297.1 264.0l-0.6 1.5M316.1 263.6l1.9 1.2M188.7 271.7l0.2 1.5M198.7 271.6l-0.2 1.4M253.4 270.9l-2.1 -0.6M258.1 270.5l-1.5 0.6M268.1 270.2l-1.9 0.7M287.4 269.5l-0.6 1.9M302.0 269.2l-0.1 1.7M188.6 277.8l1.0 -1.0M204.0 276.8l-1.4 1.4M232.9 276.8l1.1 -1.0M243.2 276.0l-0.4 1.3M253.1 275.8l-0.9 1.0M272.8 275.4l-0.8 1.2M292.9 275.3l-2.1 -0.1M307.4 274.6l-1.4 1.4M311.9 274.4l0.1 1.4M316.8 274.2l0.1 1.7" fill="none" stroke="#74a8d8" stroke-width="1.25" stroke-linecap="round" stroke-opacity=".88"/>
<path d="M168.5 79.7l1.5 -1.7M213.6 78.9l-0.2 -2.6M218.5 78.6l0.3 -2.6M243.4 78.2l-0.2 -2.6M248.4 77.7l-0.3 -2.6M308.1 75.3l-0.8 2.1M159.0 85.0l1.8 -1.8M173.9 84.5l2.5 0.9M188.8 84.0l1.4 2.2M194.2 83.4l-1.2 2.1M253.3 83.3l0.4 -2.4M243.9 87.6l-1.1 2.3M204.4 94.9l-1.7 -1.9M218.9 94.7l0.4 -2.6M357.8 90.1l0.1 2.6M164.3 100.3l1.0 2.4M174.3 100.2l0.8 2.5M179.2 100.8l1.5 -2.1M219.2 100.2l-0.6 -2.4M258.1 98.3l2.3 1.2M154.4 105.9l1.5 2.1M159.6 105.8l0.5 2.6M168.9 106.1l2.5 0.1M174.4 106.1l2.2 -1.4M204.9 105.6l-2.2 -1.4M209.6 105.2l-2.6 -0.2M218.9 104.3l1.0 2.3M234.6 104.4l-2.4 0.9M249.2 103.6l-0.9 2.2M253.9 104.0l0.9 2.4M258.4 103.4l1.6 2.0M263.4 103.4l1.6 1.8M283.0 103.5l2.4 -0.5M288.4 103.9l0.8 -2.2M174.7 110.7l0.1 2.3M184.2 111.1l2.6 0.3M215.0 110.6l-2.3 -0.5M244.8 109.8l-2.6 -0.2M253.7 108.9l1.1 2.1M258.8 108.6l0.6 2.5M263.2 109.3l2.6 -0.1M278.6 109.0l2.1 -1.6M174.7 116.5l1.5 2.1M179.6 116.5l2.3 1.1M189.1 116.1l2.3 1.1M215.0 115.4l-2.1 1.6M220.0 115.4l-2.4 1.0M239.8 115.1l-2.6 0.4M273.8 114.4l2.4 -1.0M288.1 114.2l2.5 -0.7M164.6 122.3l2.6 -0.2M180.1 121.3l-0.5 2.3M209.7 121.1l-0.6 2.5M215.0 120.5l-1.2 2.3M235.0 120.5l-2.4 0.9M240.0 120.9l-2.2 -1.1M249.6 120.9l-1.0 -2.1M324.1 118.0l-1.6 2.0M339.0 118.1l-2.5 0.9M174.6 127.9l2.0 -1.7M184.7 126.6l1.4 2.2M199.8 126.6l0.9 2.4M219.9 126.3l-2.0 1.7M263.9 125.4l2.5 -0.5M165.3 133.4l0.8 -2.5M210.3 131.4l-1.1 2.1M220.1 131.4l-1.6 2.0M244.3 130.6l1.3 2.2M254.1 131.4l1.9 -1.8M259.5 131.5l-0.0 -2.4M165.4 138.6l1.8 -1.9M230.5 136.5l-2.0 1.5M239.8 136.0l0.0 2.4M259.4 136.4l1.8 -1.9M215.2 142.7l-0.0 -2.6M359.0 138.6l-1.0 2.3M225.4 148.1l-1.5 -2.2M230.4 148.2l-1.2 -2.3M289.0 145.9l2.0 1.6M190.1 153.7l2.1 1.0M220.6 153.9l-0.7 -2.5M230.2 153.4l0.5 -2.5M245.3 153.0l-1.2 -2.3M250.5 152.8l-2.4 -1.0M190.6 159.3l2.6 -0.0M220.8 159.3l-1.0 -2.4M230.4 159.1l-0.2 -2.3M255.6 158.0l-2.4 -0.9M156.7 165.6l-2.5 -0.6M161.1 164.7l0.5 2.3M166.6 164.7l-1.3 1.9M180.3 164.8l2.6 0.4M185.4 164.9l2.3 -0.3M195.5 164.9l2.1 -1.5M245.3 164.1l0.3 -2.4M274.4 163.0l2.4 -1.0M171.0 170.1l1.8 1.9M201.6 169.9l-2.3 -0.1M245.4 169.5l0.4 -2.5M260.0 168.5l2.5 -0.5M274.6 168.4l2.3 -1.2M364.2 166.8l-0.1 -2.6M176.0 175.2l1.5 2.0M216.3 174.5l-1.9 1.8M221.5 174.6l-2.5 0.8M226.4 174.3l-2.0 1.2M231.0 174.6l-2.5 -0.5M241.0 174.9l-1.3 -2.3M245.7 174.9l-0.3 -2.4M250.5 174.7l0.2 -2.6M255.4 174.3l0.7 -2.5M260.1 174.4l1.1 -2.0M265.0 174.3l1.5 -2.1M359.4 172.3l-0.2 -2.5M181.5 180.7l-0.3 2.6M201.9 180.2l-2.2 1.2M221.7 179.9l-2.3 0.6M226.0 179.9l-0.8 2.5M250.6 180.1l0.2 -2.4M255.7 180.1l-0.2 -2.6M259.9 179.6l2.1 -1.4M264.9 179.5l2.0 -1.5M314.9 177.7l-0.1 2.6M364.5 177.5l-0.5 -2.3M191.8 186.0l-2.3 1.2M202.1 185.7l-2.4 0.9M207.0 185.5l-2.3 1.0M196.9 191.5l-2.5 -0.5M216.2 190.5l0.7 2.5M221.5 190.2l-0.9 2.2M211.1 195.9l1.6 1.8M216.1 195.9l1.7 2.0M221.1 195.8l1.5 2.1M226.5 195.6l-0.6 2.5M236.3 195.8l-1.2 2.3M246.3 195.6l-2.5 0.5M187.7 202.3l-2.5 0.1M211.2 202.2l2.0 -1.7M221.2 201.6l2.6 -0.1M236.8 200.7l-1.5 1.8M246.3 200.7l-0.4 2.6M256.0 200.1l0.3 2.6M266.6 200.7l-2.6 -0.4M206.8 213.3l0.6 -2.5M216.4 212.6l2.4 -1.0M226.8 212.9l-0.4 -2.6M241.7 211.3l-0.5 2.5M246.5 211.5l0.2 2.6M251.6 211.0l-0.8 2.2M266.4 210.6l-0.6 2.5M360.6 208.9l-2.1 1.2M172.5 219.0l1.3 -2.3M192.0 219.0l1.3 -2.3M227.3 218.1l-1.7 -1.9M231.4 216.9l1.5 2.0M246.7 216.5l-0.3 2.2M256.8 216.4l-1.4 2.2M290.6 216.3l2.4 -1.1M192.3 223.9l1.7 -1.9M241.2 222.3l2.3 1.1M281.0 222.3l1.2 -2.3M197.1 229.6l1.4 -2.2M173.2 235.3l-1.1 -2.3M178.1 235.5l-0.5 -2.5M187.5 235.0l1.3 -2.2M212.3 233.8l1.3 2.2M231.6 233.3l2.3 1.2M246.3 233.4l2.5 -0.5M252.2 233.8l-1.0 -2.4M286.2 233.1l0.8 -2.5M183.4 240.3l-2.2 -1.3M231.8 238.5l1.8 1.6M262.0 239.0l-0.3 -2.5M277.1 238.6l-1.4 -2.1M286.9 238.3l-1.4 -1.8M174.0 245.8l-2.4 -0.4M227.0 244.0l1.9 1.8M232.1 243.8l1.0 2.0M241.5 244.0l2.6 0.2M251.8 244.5l1.2 -2.3M272.5 243.8l-2.1 -1.1M158.9 251.8l-1.4 -2.2M236.9 249.9l2.3 -1.2M287.4 248.5l-2.3 -0.1M311.3 248.4l0.4 -2.6M198.1 255.2l0.3 2.6M212.5 256.1l1.6 -1.9M301.7 254.3l-0.2 -2.5M188.9 260.9l-1.6 1.7M217.8 261.4l0.8 -2.2M227.3 260.8l2.4 -1.0M232.6 260.7l1.7 -1.9M252.9 260.1l-2.5 -0.6M258.0 260.2l-2.1 -1.1M306.0 259.0l2.4 -0.6M311.3 259.3l1.2 -2.0M193.9 266.1l-1.5 2.1M198.5 266.3l0.1 2.6M203.1 265.9l1.1 2.1M208.4 267.1l-0.3 -2.4M212.7 266.0l2.0 1.0M252.9 265.3l-2.6 0.4M203.2 271.2l1.2 2.3M207.8 271.9l2.5 -0.6M217.7 271.4l2.3 0.5M222.5 271.3l2.4 0.2M228.4 271.9l-1.0 -2.4M232.9 271.4l1.1 -2.4M248.5 270.6l-2.3 1.0M277.8 269.6l-1.4 2.0M316.4 269.0l1.7 1.9M218.3 276.7l1.2 2.3M263.3 275.9l-2.6 0.1M297.9 275.1l-2.4 0.3M302.0 274.5l0.4 2.6" fill="none" stroke="#8dbde5" stroke-width="1.25" stroke-linecap="round" stroke-opacity=".88"/>
<path d="M203.6 78.4l-2.6 0.0M206.2 75.7l-1.8 -1.9M228.5 77.7l0.4 -2.6M239.0 76.6l1.3 -2.3M253.3 77.1l-0.4 -2.6M165.8 84.0l2.4 -1.0M197.4 84.7l-2.3 1.3M263.9 87.6l2.5 -0.8M269.4 87.6l2.6 0.0M199.0 94.6l-2.6 -0.3M258.8 93.4l1.9 1.8M263.9 93.4l1.9 1.8M253.8 98.8l-0.7 2.5M264.0 98.9l1.4 2.2M269.3 98.9l2.0 1.6M273.8 98.3l2.6 -0.1M279.8 98.1l2.6 -0.2M271.2 104.1l2.6 0.4M275.5 104.0l2.5 0.5M160.3 112.9l1.0 2.4M167.8 113.7l2.1 1.5M171.6 111.4l2.6 -0.0M194.6 110.5l0.4 -2.6M219.4 110.3l-2.4 1.1M233.5 110.1l-2.5 0.5M237.8 109.2l-2.4 -1.0M269.1 109.1l2.6 0.5M165.0 116.9l2.1 1.6M172.1 118.2l2.2 1.4M224.2 115.7l-2.3 1.2M271.1 114.5l2.6 0.0M204.6 121.7l-0.7 2.5M219.6 121.1l-2.2 1.3M226.1 122.1l-2.4 1.0M209.8 126.8l-0.1 2.6M222.0 128.3l-2.1 1.6M229.5 126.4l-1.6 2.1M155.6 133.0l1.3 -2.2M160.9 132.4l1.4 -2.2M234.5 132.0l-0.9 2.4M155.9 137.7l0.8 -2.5M160.6 138.2l0.6 -2.5M170.5 138.3l0.1 -2.6M161.1 142.8l0.9 -2.4M167.1 141.0l1.2 -2.3M180.8 154.2l2.2 -1.4M186.0 153.9l2.3 -1.2M181.6 159.9l2.3 1.3M214.7 157.9l-1.8 -1.8M240.4 163.5l-0.2 -2.6M249.8 162.9l-2.0 -1.7M235.6 169.0l0.5 -2.6M270.2 168.2l1.4 -2.2M171.6 175.9l2.2 1.4M182.0 176.9l1.3 2.3M203.1 175.4l-2.6 0.3M215.9 180.3l-2.2 1.4M233.3 179.6l-2.6 -0.1M229.5 196.5l-2.5 0.6M310.6 193.8l1.5 -2.1M241.3 201.7l0.3 2.6M241.4 206.6l0.4 2.6M246.4 206.3l-0.3 2.6M251.1 206.9l-0.6 2.5M256.1 207.1l-0.4 2.6M182.3 213.2l1.8 -1.9M187.5 212.7l1.2 -2.3M221.8 212.4l-0.6 -2.5M256.3 211.8l0.1 2.6M261.2 211.9l-0.5 2.5M182.6 218.1l0.7 -2.5M240.8 219.6l-0.9 2.4M296.9 216.3l2.5 0.6M183.3 222.3l1.0 -2.4M222.3 233.8l0.1 2.6M266.2 232.4l-2.0 -1.7M276.6 232.6l-0.9 -2.4M291.4 229.1l0.0 -2.6M208.5 244.9l2.6 -0.1M238.8 245.3l2.1 1.5M224.0 249.2l2.3 -1.2M228.9 249.9l2.6 0.3M192.8 256.2l-2.4 1.0M218.0 255.3l1.5 -2.1M228.5 255.1l2.6 -0.3M232.7 255.1l2.5 0.7M291.3 254.1l-2.2 1.4M296.0 254.0l-2.3 1.2M203.1 261.3l-1.4 2.2M223.3 260.4l2.2 -1.4M223.6 264.2l0.7 -2.5M227.9 266.0l1.8 -1.9M232.9 265.9l1.7 -2.0M291.9 264.6l-2.0 1.6M213.6 277.0l2.6 -0.0" fill="none" stroke="#b4d8f1" stroke-width="1.25" stroke-linecap="round" stroke-opacity=".88"/>
<path d="M206.4 78.4l-4.1 0.1M213.7 80.1l-0.2 -2.5M218.3 80.1l0.3 -2.8M228.0 80.5l0.7 -4.1M243.5 79.4l-0.2 -2.5M248.6 79.6l-0.3 -3.2M253.7 79.9l-0.6 -4.1M157.5 86.6l2.5 -2.5M171.7 83.7l3.4 1.2M187.6 82.1l2.0 3.0M253.1 84.4l0.4 -2.3M244.4 86.6l-1.1 2.1M260.6 88.7l4.6 -1.4M264.9 87.6l5.8 0.1M201.8 95.0l-4.0 -0.5M205.5 96.1l-1.9 -2.2M218.6 96.2l0.5 -2.8M256.6 91.2l3.2 3.1M261.4 91.0l3.4 3.3M357.8 89.0l0.1 2.4M163.8 99.0l1.0 2.5M173.8 98.5l0.9 3.0M178.1 102.3l1.9 -2.6M254.5 96.2l-1.0 3.8M257.1 97.7l2.2 1.2M262.0 95.9l2.7 4.0M266.0 96.2l4.3 3.5M270.9 98.4l4.2 -0.2M153.6 104.9l1.5 2.0M159.3 104.4l0.5 2.7M167.8 106.0l2.3 0.1M172.6 107.2l2.9 -1.8M205.9 106.3l-2.1 -1.4M211.6 105.3l-3.3 -0.3M218.5 103.3l0.9 2.2M236.0 103.8l-2.7 1.0M253.1 101.8l1.2 3.4M257.7 102.6l1.5 1.9M182.5 110.9l3.1 0.3M194.1 113.9l0.7 -4.7M221.7 109.3l-3.5 1.5M237.4 109.3l-5.2 1.0M246.0 109.9l-2.5 -0.2M258.5 107.6l0.6 2.3M262.1 109.3l2.5 -0.1M266.2 108.6l4.1 0.8M276.9 110.3l2.7 -2.1M162.9 115.4l3.1 2.3M173.6 114.8l1.9 2.7M177.7 115.5l3.1 1.5M188.0 115.5l2.3 1.1M216.1 114.6l-2.1 1.6M221.3 114.9l-2.5 1.0M227.0 114.3l-3.9 2.0M241.3 114.9l-2.7 0.4M271.7 115.3l3.3 -1.3M287.1 114.5l2.3 -0.6M163.1 122.5l2.8 -0.2M205.6 118.5l-1.3 4.4M210.2 118.9l-0.8 3.4M215.5 119.5l-1.1 2.1M221.9 119.7l-3.4 2.1M236.4 120.0l-2.6 0.9M324.8 117.2l-1.5 1.8M340.5 117.5l-2.7 1.0M173.7 128.7l1.9 -1.6M184.1 125.6l1.3 2.2M199.1 124.7l1.1 3.1M209.9 123.9l-0.2 4.3M221.6 124.8l-2.7 2.3M231.4 123.9l-2.7 3.5M262.2 125.8l3.0 -0.6M154.0 135.8l2.2 -3.9M158.6 136.1l2.9 -4.8M164.7 135.2l1.0 -3.1M221.2 130.1l-1.9 2.3M235.8 128.4l-1.8 4.9M243.6 129.5l1.3 2.2M253.1 132.3l1.9 -1.8M154.5 142.0l1.8 -5.5M159.9 141.3l1.0 -4.4M163.9 140.1l2.3 -2.5M170.4 140.9l0.2 -4.0M231.3 135.8l-1.9 1.4M258.0 137.9l2.3 -2.4M215.2 145.1l-0.1 -3.7M359.5 137.6l-0.9 2.1M226.4 149.6l-1.7 -2.6M231.1 149.4l-1.3 -2.4M288.0 145.1l2.1 1.6M178.6 155.6l3.3 -2.2M183.2 155.3l4.0 -2.0M220.9 155.1l-0.7 -2.4M229.8 155.2l0.6 -3.0M246.2 154.7l-1.5 -2.8M252.0 153.4l-2.6 -1.1M178.0 157.9l4.8 2.6M188.5 159.3l3.4 -0.0M221.2 160.4l-1.0 -2.3M257.1 158.6l-2.7 -1.1M158.5 166.0l-3.0 -0.7M179.2 164.6l2.4 0.4M194.2 165.8l2.3 -1.7M240.6 166.2l-0.4 -4.0M252.8 165.4l-3.9 -3.3M273.3 163.5l2.2 -1.0M169.9 169.0l2.0 2.1M235.1 171.6l0.7 -3.9M245.2 170.6l0.4 -2.3M258.1 168.9l3.2 -0.7M268.8 170.5l2.1 -3.4M273.5 169.0l2.2 -1.2M364.2 168.0l-0.1 -2.5M169.1 174.4l3.5 2.2M175.3 174.3l1.4 1.8M217.5 173.4l-2.1 2.0M222.8 174.1l-2.6 0.8M233.1 175.0l-3.3 -0.7M241.6 175.9l-1.3 -2.2M250.4 176.0l0.2 -2.6M254.9 176.1l0.8 -3.1M264.3 175.3l1.4 -2.0M359.5 173.3l-0.2 -2.3M181.8 178.8l-0.4 3.2M202.9 179.7l-2.1 1.1M218.5 178.7l-3.7 2.3M226.7 177.6l-1.1 3.5M250.6 181.2l0.2 -2.3M255.7 181.2l-0.2 -2.4M259.0 180.2l2.0 -1.3M315.0 175.6l-0.2 3.4M193.5 185.1l-2.8 1.4M203.1 185.3l-2.2 0.8M207.9 185.1l-2.1 0.9M198.8 191.8l-3.1 -0.6M215.8 188.9l0.8 2.8M215.2 194.8l1.8 2.1M220.2 194.6l1.7 2.3M226.8 194.0l-0.7 2.9M237.3 193.7l-1.6 3.3M248.5 195.2l-3.5 0.7M308.5 196.7l2.8 -3.9M188.7 202.3l-2.3 0.1M210.2 203.1l2.0 -1.7M219.2 201.7l3.3 -0.1M240.9 198.0l0.6 4.9M246.5 198.8l-0.4 3.2M255.9 198.9l0.3 2.5M267.9 200.9l-2.6 -0.4M241.0 203.8l0.6 4.1M246.6 203.9l-0.4 3.7M252.0 203.1l-1.2 5.1M256.7 202.7l-0.8 5.7M180.5 215.1l2.7 -2.8M185.9 215.8l2.2 -4.3M206.5 214.6l0.6 -2.5M214.9 213.2l2.8 -1.1M222.4 214.8l-0.9 -3.7M227.0 214.1l-0.4 -2.5M241.9 210.0l-0.6 2.6M246.3 209.5l0.2 3.3M256.3 208.7l0.1 4.3M261.9 208.4l-1.0 4.8M266.6 209.5l-0.6 2.4M361.5 208.3l-2.0 1.2M171.4 220.8l1.7 -2.9M181.6 221.6l1.3 -4.8M191.4 220.0l1.2 -2.2M228.1 218.9l-1.6 -1.8M230.7 216.1l1.4 1.9M257.6 215.3l-1.5 2.3M289.0 217.1l2.8 -1.3M292.5 215.2l5.6 1.4M190.9 225.5l2.2 -2.5M240.1 221.8l2.3 1.1M280.3 223.5l1.3 -2.3M196.6 230.6l1.3 -2.0M174.0 236.9l-1.4 -2.8M178.3 236.5l-0.4 -2.3M186.7 236.4l1.5 -2.5M211.2 232.0l1.8 2.9M222.2 231.3l0.2 3.8M230.5 232.7l2.3 1.2M245.2 233.6l2.3 -0.5M252.6 234.9l-0.9 -2.3M269.2 234.9l-4.0 -3.4M277.4 235.0l-1.3 -3.6M285.8 234.2l0.8 -2.3M184.9 241.2l-2.7 -1.6M262.1 240.1l-0.2 -2.3M277.6 239.5l-1.3 -2.0M204.4 245.0l5.4 -0.1M226.1 243.2l1.8 1.7M240.4 243.9l2.4 0.2M251.2 245.6l1.3 -2.3M159.7 253.1l-1.5 -2.4M235.7 250.5l2.3 -1.2M311.1 250.1l0.4 -3.0M196.2 254.8l-4.6 1.9M197.9 253.9l0.3 2.7M211.9 256.9l1.4 -1.8M216.3 257.7l2.4 -3.5M224.4 255.5l5.3 -0.6M230.2 254.4l3.7 1.0M294.5 252.0l-4.2 2.8M299.8 252.1l-5.0 2.6M301.8 255.4l-0.2 -2.4M204.8 258.7l-2.4 3.6M220.4 262.3l4.1 -2.6M226.0 261.3l2.5 -1.0M231.3 262.2l2.2 -2.5M254.6 260.5l-2.9 -0.7M305.0 259.2l2.2 -0.5M194.6 265.1l-1.4 2.1M198.4 264.3l0.1 3.3M208.6 268.1l-0.3 -2.3M226.3 267.8l2.5 -2.7M231.3 267.8l2.4 -2.9M254.9 265.1l-3.3 0.5M294.2 262.8l-3.2 2.6M202.7 270.2l1.1 2.1M206.5 272.2l2.6 -0.6M228.9 273.1l-1.0 -2.4M232.1 273.3l1.4 -3.0M249.5 270.1l-2.2 1.0M315.3 267.8l1.9 2.2M210.8 277.0l4.2 -0.0M217.3 274.7l1.6 3.1M264.8 275.8l-2.8 0.1M301.8 273.0l0.4 2.8" fill="none" stroke="#f2f8fb" stroke-width=".75" stroke-opacity=".85"/>
<path d="M212.8 82.8l-7.5 -8.0M236.5 80.9l3.1 -5.4M160.0 86.4l7.1 -2.9M202.5 81.8l-6.2 3.5M274.8 98.4l6.3 -0.4M263.8 103.0l8.6 1.3M269.5 102.8l7.3 1.5M158.4 108.1l2.4 6.0M159.8 107.9l9.0 6.5M165.4 111.5l7.5 -0.1M243.0 111.4l-6.4 -2.7M165.6 114.1l7.6 4.8M264.4 114.4l8.0 0.1M235.3 118.5l-10.4 4.1M229.4 122.6l-8.3 6.5M159.4 147.5l2.2 -5.9M163.0 148.8l4.8 -9.0M218.3 161.5l-4.5 -4.5M179.4 172.2l3.2 5.8M211.6 174.5l-9.9 1.1M241.0 180.0l-9.0 -0.5M235.6 194.9l-7.4 1.9M243.4 212.4l-3.1 8.4M180.9 228.0l2.9 -6.8M291.3 238.0l0.1 -10.2M233.8 241.7l6.1 4.3M219.1 251.8l6.1 -3.2M223.8 249.4l6.4 0.6M221.9 270.4l2.0 -7.5" fill="none" stroke="#fffce0" stroke-width=".85" stroke-opacity=".95"/>
<use href="#grid"/>
</g>
<rect x="150.5" y="73.5" width="219" height="207.8" fill="none" stroke="#000" stroke-width="1.1"/>
<text x="150.9" y="62.6" font-size="13.89" text-anchor="middle">112.5°E</text>
<text x="157.1" y="298.7" font-size="13.89" text-anchor="middle">112.5°E</text>
<text x="213.5" y="62.6" font-size="13.89" text-anchor="middle">113°E</text>
<text x="219.2" y="298.7" font-size="13.89" text-anchor="middle">113°E</text>
<text x="276.1" y="62.6" font-size="13.89" text-anchor="middle">113.5°E</text>
<text x="281.2" y="298.7" font-size="13.89" text-anchor="middle">113.5°E</text>
<text x="338.7" y="62.6" font-size="13.89" text-anchor="middle">114°E</text>
<text x="343.3" y="298.7" font-size="13.89" text-anchor="middle">114°E</text>
<text x="142.9" y="97.1" font-size="13.89" text-anchor="end">21.6°S</text>
<text x="142.9" y="123.8" font-size="13.89" text-anchor="end">21.8°S</text>
<text x="142.9" y="150.4" font-size="13.89" text-anchor="end">22°S</text>
<text x="142.9" y="177.1" font-size="13.89" text-anchor="end">22.2°S</text>
<text x="142.9" y="203.7" font-size="13.89" text-anchor="end">22.4°S</text>
<text x="142.9" y="230.4" font-size="13.89" text-anchor="end">22.6°S</text>
<text x="142.9" y="257.1" font-size="13.89" text-anchor="end">22.8°S</text>
<text x="142.9" y="283.7" font-size="13.89" text-anchor="end">23°S</text>
<rect x="383.5" y="125.5" width="5.1" height="103.9" fill="url(#cb)" stroke="#000" stroke-width="1.1"/>
<path d="M389.1 125.50h4.8" stroke="#000" stroke-width="1.1"/>
<text x="398.4" y="130.0" font-size="13.89" letter-spacing="-.55">1.0</text>
<path d="M389.1 177.45h4.8" stroke="#000" stroke-width="1.1"/>
<text x="398.4" y="182.4" font-size="13.89" letter-spacing="-.55">0.5</text>
<path d="M389.1 229.40h4.8" stroke="#000" stroke-width="1.1"/>
<text x="398.4" y="234.9" font-size="13.89" letter-spacing="-.55">0.0</text>
</g>
<g transform="translate(328 0)">
<g clip-path="url(#cp)">
<rect x="150" y="73" width="220" height="209" fill="#97b6e1"/>
<use href="#heat"/>
<path d="M181 279.8H214.5V278.75H249V277.7H295V276.8H325V283H181z" fill="#97b6e1"/>
<use href="#land"/>
<path d="M158.9 79.1l0.2 0.8M169.2 79.6l-0.5 -0.7M174.0 79.0l-0.2 0.4M184.1 78.5l-0.6 0.8M188.9 79.0l-0.2 -0.4M193.9 78.7l-0.4 -0.0M198.5 78.4l0.3 0.2M203.8 78.3l-0.3 0.2M208.5 78.5l0.3 -0.3M213.7 78.0l-0.3 0.3M218.7 78.3l-0.2 -0.4M223.4 78.1l0.3 -0.3M228.6 78.0l-0.3 -0.4M233.6 77.8l-0.4 -0.1M238.6 77.6l-0.4 0.1M243.2 77.5l0.4 0.0M248.4 77.1l-0.1 0.6M273.4 76.6l-0.4 0.3M283.2 76.7l-0.2 -0.3M288.1 76.0l-0.1 0.7M292.6 76.5l0.7 -0.4M302.8 76.2l0.3 -0.3M307.8 76.3l0.1 -0.7M313.0 75.9l-0.3 -0.2M322.9 75.7l-0.3 -0.3M328.0 75.6l-0.4 -0.3M332.9 75.0l-0.3 0.7M337.5 75.3l0.4 -0.2M342.9 74.8l-0.4 0.7M347.8 74.8l-0.3 0.3M352.8 74.8l-0.4 0.2M357.4 74.7l0.4 0.2M362.8 75.0l-0.5 -0.7M154.4 85.1l-0.3 -0.2M164.2 84.5l-0.2 0.4M174.2 84.6l-0.4 -0.2M184.3 84.0l-0.7 0.5M189.0 84.0l-0.2 0.4M194.3 84.1l-0.9 -0.1M199.0 84.3l-0.2 -0.7M203.6 83.7l0.3 0.2M208.6 83.7l0.4 -0.0M213.7 83.7l0.1 -0.4M218.6 83.7l0.1 -0.6M223.6 83.5l0.1 -0.4M228.7 83.4l-0.2 -0.4M233.6 83.4l0.0 -0.6M238.7 83.1l-0.4 -0.2M248.4 82.3l0.1 0.8M258.7 82.3l-0.5 0.5M268.7 82.5l-0.8 -0.5M278.0 82.0l0.5 0.1M288.0 81.7l0.4 0.1M293.0 81.8l0.3 -0.3M297.9 81.8l0.5 -0.5M303.0 81.6l0.0 -0.4M307.8 81.7l0.4 -0.7M318.1 80.9l-0.3 0.3M323.0 81.1l-0.3 -0.3M328.0 80.7l-0.2 0.4M333.0 80.7l-0.4 0.0M337.8 80.4l-0.1 0.4M342.4 80.7l0.6 -0.5M348.0 80.1l-0.5 0.5M352.6 80.0l0.1 0.5M357.6 79.8l0.0 0.6M362.5 79.8l0.2 0.4M154.4 90.2l-0.2 0.4M159.3 90.0l-0.1 0.4M189.1 89.3l-0.2 0.4M193.9 89.3l0.3 0.3M198.8 89.3l0.4 0.0M203.8 89.3l0.2 -0.4M208.7 89.2l0.3 -0.2M214.0 89.2l-0.4 -0.6M218.8 89.0l-0.0 -0.4M223.7 89.0l0.2 -0.7M228.6 88.7l0.2 -0.3M234.0 88.8l-0.5 -0.6M238.8 88.4l-0.3 -0.2M263.5 87.5l-0.2 0.4M277.9 87.4l0.8 0.0M283.0 87.2l0.6 0.1M287.9 87.2l0.8 -0.0M292.9 87.0l0.7 0.1M298.0 87.0l0.3 -0.2M303.0 86.9l0.3 -0.2M308.0 86.9l0.2 -0.4M313.3 86.6l-0.4 -0.0M317.8 86.6l0.5 -0.4M323.0 86.1l0.0 0.4M328.2 86.2l-0.4 0.0M333.1 86.2l-0.4 -0.2M338.0 85.8l-0.3 0.4M342.9 85.7l-0.2 0.4M347.9 85.6l-0.2 0.3M352.8 85.4l-0.1 0.4M362.4 85.0l0.5 0.7M154.6 96.1l-0.2 -0.8M159.6 95.3l-0.4 0.6M179.3 94.8l-0.0 0.6M194.3 95.0l-0.3 -0.4M199.0 94.4l0.2 0.4M204.0 94.3l0.1 0.4M208.8 94.4l0.4 -0.0M214.1 94.6l-0.2 -0.6M218.9 94.4l0.1 -0.5M223.8 94.2l0.2 -0.3M233.9 93.6l-0.1 0.5M238.8 93.5l0.0 0.4M268.3 92.7l0.5 0.7M288.2 92.6l0.4 -0.1M293.4 92.2l-0.0 0.4M298.3 92.5l0.1 -0.4M303.1 92.1l0.3 0.2M308.0 92.1l0.4 -0.1M313.3 92.3l-0.2 -0.7M318.2 92.1l-0.0 -0.6M323.0 91.9l0.1 -0.4M328.3 91.6l-0.5 -0.0M333.2 91.5l-0.4 -0.0M338.0 91.2l0.0 0.4M348.0 90.9l-0.1 0.4M353.0 90.6l-0.3 0.8M357.7 90.8l0.3 0.2M362.6 90.7l0.4 0.2M154.8 101.0l-0.4 0.2M194.1 99.8l0.4 0.6M199.2 99.8l0.2 0.4M204.0 99.9l0.4 -0.1M209.0 100.0l0.4 -0.5M213.9 100.0l0.4 -0.6M218.8 99.6l0.5 -0.1M223.9 99.9l0.2 -0.9M229.0 99.6l-0.1 -0.6M234.0 99.4l-0.1 -0.4M239.0 98.8l-0.2 0.6M243.8 98.5l0.1 0.9M248.7 98.5l0.3 0.7M258.9 98.8l-0.2 -0.3M263.5 98.6l0.3 -0.2M273.2 98.2l0.9 0.0M288.2 98.2l0.6 -0.5M293.3 97.7l0.4 0.2M298.2 97.8l0.4 -0.2M303.1 97.5l0.6 0.0M308.3 97.6l0.1 -0.4M313.4 97.6l-0.1 -0.5M318.4 97.4l-0.3 -0.3M323.3 97.3l-0.3 -0.4M328.4 97.1l-0.4 -0.3M338.2 96.6l-0.3 0.3M343.2 96.6l-0.4 0.1M348.0 96.3l0.1 0.4M352.9 96.1l0.1 0.6M358.0 96.1l-0.0 0.4M362.8 95.8l0.2 0.7M155.1 106.5l-0.6 -0.1M194.3 105.8l0.3 -0.7M209.1 105.5l0.4 -0.8M219.1 105.1l0.2 -0.4M223.8 105.1l0.7 -0.6M234.3 104.3l-0.4 0.5M244.2 104.6l-0.4 -0.5M263.6 103.9l0.4 0.0M268.6 103.6l0.3 0.3M273.9 103.3l-0.3 0.6M278.7 103.7l-0.0 -0.4M283.3 103.3l0.8 0.3M293.3 103.2l0.5 -0.2M298.3 103.3l0.5 -0.6M303.3 103.1l0.4 -0.3M308.4 103.0l0.2 -0.4M313.3 102.8l0.3 -0.3M318.2 102.4l0.3 0.3M323.4 102.7l-0.1 -0.4M328.6 102.6l-0.5 -0.5M333.4 102.3l-0.3 -0.2M338.2 102.3l0.1 -0.4M343.2 101.8l0.0 0.4M348.1 101.6l0.1 0.6M353.0 101.4l0.1 0.8M358.2 101.5l-0.3 0.3M362.9 101.3l0.1 0.4M155.1 111.9l-0.4 -0.2M165.0 111.4l-0.3 0.3M199.1 111.0l0.8 -0.5M204.2 111.0l0.5 -0.7M209.3 110.8l0.3 -0.6M224.1 110.6l0.3 -0.8M228.8 110.2l0.9 -0.2M234.1 109.8l0.3 0.3M239.2 110.0l-0.1 -0.4M243.8 109.9l0.7 -0.4M248.8 109.4l0.5 0.4M274.0 109.2l-0.3 -0.4M278.6 109.1l0.4 -0.4M283.7 108.9l0.2 -0.3M288.6 108.8l0.2 -0.4M293.5 108.7l0.4 -0.2M298.4 108.7l0.5 -0.5M303.2 108.5l0.8 -0.3M308.5 108.4l0.1 -0.4M313.6 108.5l-0.3 -0.9M323.5 108.0l-0.2 -0.4M328.5 107.8l-0.3 -0.3M333.5 107.7l-0.4 -0.2M338.4 107.7l-0.1 -0.4M343.4 107.2l-0.3 0.4M348.2 107.1l0.1 0.4M353.0 107.1l0.4 -0.0M358.0 106.7l0.4 0.7M363.2 106.6l-0.3 0.6M155.2 117.3l-0.3 -0.3M169.9 116.4l0.1 0.9M179.8 116.4l0.1 0.5M189.3 116.4l0.9 -0.0M209.3 116.1l0.6 -0.4M224.2 115.9l0.4 -0.6M229.2 115.3l0.4 0.2M244.1 115.3l0.3 -0.4M259.2 114.9l-0.2 -0.4M274.2 114.2l-0.4 0.5M279.0 113.9l-0.1 0.8M283.7 114.0l0.3 0.3M288.7 114.0l0.4 0.1M293.7 114.1l0.3 -0.3M298.7 114.0l0.2 -0.5M308.6 113.8l0.1 -0.4M313.8 113.7l-0.4 -0.5M318.9 113.5l-0.6 -0.4M328.7 113.3l-0.4 -0.3M333.6 113.2l-0.4 -0.4M338.4 112.7l-0.0 0.4M343.3 112.4l0.1 0.8M348.2 112.5l0.2 0.3M353.1 112.6l0.3 -0.3M363.2 112.0l-0.0 0.7M155.4 122.5l-0.4 0.0M160.3 122.4l-0.4 0.1M169.9 121.8l0.3 0.7M180.2 121.6l-0.4 0.8M184.7 121.6l0.4 0.4M194.4 121.6l0.8 0.0M204.5 121.4l0.4 -0.0M214.5 121.5l0.4 -0.7M224.4 121.3l0.3 -0.7M229.3 121.2l0.4 -0.8M234.3 120.8l0.4 -0.2M244.3 120.7l0.2 -0.4M249.7 120.1l-0.7 0.4M264.6 120.1l-0.7 -0.2M274.2 119.5l-0.2 0.5M279.2 119.2l-0.3 0.8M283.9 119.4l0.2 0.3M288.7 119.3l0.5 0.1M293.8 119.6l0.3 -0.6M299.0 119.3l-0.2 -0.3M318.9 118.7l-0.4 -0.0M323.8 118.8l-0.2 -0.3M328.7 118.8l-0.3 -0.6M333.7 118.3l-0.4 0.1M338.4 118.1l0.2 0.4M343.3 118.2l0.4 -0.2M155.4 127.7l-0.2 0.4M160.3 127.4l0.0 0.8M165.5 127.4l-0.5 0.5M170.4 127.2l-0.5 0.7M185.2 127.1l-0.4 0.2M214.7 126.7l0.2 -0.5M224.9 126.3l-0.4 -0.1M229.5 126.4l0.2 -0.5M239.4 126.3l0.2 -0.7M244.7 126.2l-0.4 -0.7M269.3 124.9l-0.1 0.7M274.3 125.0l-0.2 0.3M279.3 124.8l-0.2 0.5M288.9 124.4l0.4 0.8M294.1 124.5l-0.2 0.3M298.9 124.7l0.1 -0.4M304.0 124.7l-0.1 -0.6M308.8 124.5l0.2 -0.3M313.8 124.5l0.1 -0.6M318.9 124.2l-0.3 -0.3M323.9 124.1l-0.3 -0.3M328.8 123.7l-0.2 0.4M333.8 123.9l-0.3 -0.2M338.6 123.4l0.0 0.4M363.4 123.2l-0.0 -0.4M155.8 133.5l-0.7 -0.4M185.3 132.4l-0.1 0.4M190.0 132.6l0.2 -0.3M195.1 132.5l-0.0 -0.4M204.8 132.3l0.5 -0.4M214.9 132.1l-0.0 -0.4M220.1 132.1l-0.4 -0.6M239.5 131.4l0.4 -0.2M244.8 131.3l-0.4 -0.2M249.8 131.3l-0.5 -0.5M259.8 131.0l-0.7 -0.4M269.4 130.4l0.0 0.4M274.5 130.2l-0.4 0.5M279.2 130.2l0.2 0.4M284.2 130.0l0.1 0.6M289.1 129.8l0.1 0.7M294.1 129.8l0.0 0.4M299.0 130.1l0.2 -0.4M304.2 130.0l-0.2 -0.3M309.0 129.9l-0.0 -0.4M314.1 129.7l-0.3 -0.2M323.9 129.2l-0.2 0.4M328.8 129.4l0.1 -0.4M334.0 129.2l-0.4 -0.1M363.7 128.6l-0.4 -0.3M155.8 138.5l-0.3 0.2M170.5 138.0l0.0 0.7M175.6 138.3l-0.4 -0.2M185.2 137.8l0.4 0.3M190.4 138.0l-0.2 -0.4M195.2 137.9l-0.0 -0.4M200.1 137.8l0.2 -0.3M205.0 137.6l0.3 -0.3M210.4 137.6l-0.6 -0.4M225.1 137.0l-0.4 0.1M234.8 137.1l0.1 -0.6M244.9 136.9l-0.3 -0.6M249.7 136.6l0.0 -0.4M254.8 136.5l-0.4 -0.3M259.8 136.3l-0.4 -0.2M264.7 135.9l-0.3 0.3M269.5 135.6l0.1 0.7M274.5 135.4l-0.1 0.9M279.3 135.5l0.3 0.4M284.4 135.5l-0.2 0.4M289.4 135.2l-0.2 0.6M294.2 135.2l0.0 0.4M299.4 135.4l-0.3 -0.2M304.6 135.2l-0.9 -0.0M309.2 135.5l-0.2 -0.8M313.9 135.1l0.2 -0.4M318.8 134.7l0.3 0.2M324.0 134.5l-0.1 0.4M329.1 134.5l-0.3 0.2M358.6 133.7l0.0 0.4M363.7 134.0l-0.2 -0.4M165.7 143.6l0.0 0.4M170.9 143.3l-0.6 0.7M175.9 143.3l-0.7 0.5M180.5 143.2l0.1 0.4M185.6 143.1l-0.3 0.5M190.4 143.6l0.1 -0.7M199.9 142.8l0.8 0.3M205.4 142.8l-0.4 0.2M210.0 142.7l0.4 0.2M215.5 142.6l-0.7 0.0M220.4 142.2l-0.6 0.6M229.8 142.3l0.4 -0.0M235.1 142.3l-0.3 -0.4M240.0 142.2l-0.2 -0.3M244.7 142.4l0.2 -0.9M249.8 142.0l-0.0 -0.4M254.7 141.5l0.2 0.3M264.8 141.0l-0.3 0.9M269.6 141.2l-0.0 0.4M279.5 140.9l0.1 0.4M289.4 140.7l-0.0 0.4M294.3 140.6l0.2 0.4M299.5 140.8l-0.4 -0.2M304.4 140.8l-0.2 -0.5M309.5 140.3l-0.5 0.3M314.0 140.2l0.4 0.2M323.9 140.4l0.3 -0.6M329.0 139.6l-0.0 0.7M358.6 139.1l0.3 0.3M364.1 139.1l-0.8 0.1M156.1 149.7l-0.4 -0.7M160.7 149.3l0.4 -0.0M166.0 149.2l-0.4 -0.1M170.8 149.4l-0.1 -0.7M185.4 148.4l0.4 0.6M190.6 148.2l-0.0 0.7M195.3 148.4l0.4 0.1M200.1 148.5l0.7 -0.3M205.4 147.9l-0.0 0.6M215.5 148.1l-0.4 -0.2M220.6 148.0l-0.8 -0.2M225.4 147.7l-0.4 0.1M235.2 147.8l-0.3 -0.5M240.1 147.2l-0.2 0.3M245.0 147.5l0.0 -0.4M249.8 146.9l0.4 0.6M255.1 147.2l-0.5 -0.2M279.6 146.0l-0.0 0.9M284.6 146.2l-0.0 0.4M289.4 146.1l0.2 0.3M294.5 146.4l-0.1 -0.4M299.3 146.2l0.2 -0.4M309.5 145.8l-0.4 0.1M314.5 145.5l-0.4 0.5M319.1 145.7l0.2 -0.3M324.1 145.7l0.1 -0.4M359.1 144.9l-0.6 -0.4M161.2 154.7l-0.3 -0.2M166.4 154.5l-0.9 -0.0M171.0 154.7l-0.3 -0.6M175.7 154.2l0.4 0.1M180.9 154.5l-0.1 -0.6M185.9 154.1l-0.4 -0.0M190.8 154.3l-0.3 -0.8M195.8 153.7l-0.3 0.3M200.4 153.7l0.4 0.1M210.9 153.5l-0.9 0.1M220.7 153.4l-0.8 -0.2M225.4 153.4l-0.1 -0.5M230.3 153.3l0.0 -0.5M235.5 152.9l-0.5 -0.0M244.9 152.7l0.4 -0.1M250.3 152.6l-0.4 -0.1M255.2 152.3l-0.4 0.3M270.1 151.7l-0.5 0.8M275.0 151.8l-0.4 0.3M279.7 151.6l0.1 0.6M284.8 151.6l-0.3 0.3M289.7 151.4l-0.2 0.6M294.9 151.4l-0.6 0.3M299.5 151.2l0.2 0.4M304.8 151.0l-0.6 0.5M309.3 151.4l0.2 -0.4M314.5 151.2l-0.3 -0.3M319.3 151.2l0.1 -0.4M323.9 150.6l0.7 0.5M359.1 150.3l-0.4 -0.4M364.2 150.2l-0.7 -0.5M181.3 159.7l-0.8 -0.3M185.8 159.6l0.2 -0.3M191.1 159.0l-0.6 0.7M195.7 159.0l0.1 0.5M200.6 159.2l0.3 -0.2M205.7 158.6l-0.2 0.7M215.9 158.6l-0.8 0.2M225.5 158.9l-0.0 -0.9M230.2 158.4l0.4 -0.1M235.7 158.4l-0.8 -0.2M240.4 158.4l-0.3 -0.4M245.4 157.8l-0.3 0.5M255.5 157.7l-0.7 0.3M265.1 157.4l-0.1 0.4M270.0 157.2l-0.2 0.6M274.7 157.4l0.4 -0.0M279.9 157.0l-0.1 0.6M284.7 157.0l0.2 0.4M290.0 156.8l-0.4 0.4M294.9 156.8l-0.4 0.2M300.1 157.0l-0.8 -0.3M304.8 156.7l-0.4 -0.0M309.3 156.6l0.4 -0.0M314.6 156.3l-0.3 0.3M319.4 156.7l0.2 -0.6M324.3 156.4l0.1 -0.4M359.2 155.6l-0.3 -0.3M364.2 155.3l-0.4 0.1M156.7 165.7l-0.6 -0.5M191.1 164.6l-0.4 0.3M201.2 164.4l-0.7 0.1M210.9 163.9l-0.3 0.6M215.9 164.2l-0.4 -0.1M220.8 163.8l-0.4 0.4M230.3 163.4l0.4 0.8M235.4 163.8l0.1 -0.4M240.4 163.8l0.0 -0.5M245.0 163.3l0.8 0.2M250.2 163.1l0.2 0.3M255.5 163.3l-0.5 -0.2M260.1 162.7l0.2 0.7M264.9 162.9l0.4 0.2M269.9 162.8l0.4 0.0M274.9 162.9l0.3 -0.3M285.1 162.3l-0.3 0.5M290.0 162.3l-0.4 0.2M294.8 162.1l-0.0 0.4M300.1 162.3l-0.6 -0.2M304.7 162.3l-0.0 -0.4M309.8 161.9l-0.4 0.1M314.5 162.1l0.3 -0.5M319.4 161.6l0.4 0.1M359.2 161.0l-0.3 -0.3M364.4 160.6l-0.7 0.2M176.1 170.5l0.3 -0.3M186.4 170.2l-0.5 -0.1M191.3 169.8l-0.4 0.5M201.1 169.6l-0.2 0.5M220.9 169.2l-0.2 0.4M225.7 169.1l-0.0 0.4M235.9 168.8l-0.5 0.4M245.3 168.4l0.4 0.8M250.2 168.4l0.5 0.6M255.0 168.3l0.7 0.5M265.1 168.0l0.4 0.6M269.9 167.9l0.6 0.6M275.4 168.2l-0.5 -0.3M280.0 168.2l0.3 -0.3M285.2 167.9l-0.4 -0.0M290.2 167.6l-0.4 0.4M295.1 167.4l-0.4 0.5M300.1 167.6l-0.4 -0.0M305.0 167.5l-0.4 -0.1M309.8 167.1l-0.1 0.4M314.9 167.3l-0.4 -0.2M319.8 167.2l-0.3 -0.3M364.4 166.1l-0.4 -0.1M157.0 176.5l-0.7 -0.6M176.3 175.6l0.2 0.3M216.3 175.1l-0.7 -0.5M230.8 174.3l0.0 0.4M235.4 174.5l0.6 -0.1M240.5 174.4l0.3 -0.2M245.3 174.2l0.6 -0.1M250.1 173.9l0.9 0.3M255.2 174.1l0.5 -0.2M260.4 174.2l0.0 -0.7M265.6 174.1l-0.4 -0.7M275.0 173.7l0.6 -0.5M280.0 173.5l0.4 -0.2M285.4 173.3l-0.4 -0.0M290.5 173.2l-0.9 -0.0M294.9 172.9l0.2 0.3M300.3 172.7l-0.6 0.4M304.9 172.6l0.0 0.4M310.1 172.8l-0.5 -0.2M314.7 172.8l0.2 -0.4M319.6 172.5l0.4 -0.0M359.6 171.4l-0.5 0.2M364.5 171.4l-0.6 0.2M162.1 181.7l-0.7 -0.4M172.0 181.5l-0.7 -0.6M181.6 180.8l-0.1 0.4M186.4 180.5l0.0 0.7M191.4 180.5l0.0 0.6M196.1 180.6l0.4 0.1M211.3 180.2l-0.3 0.2M216.4 180.3l-0.6 -0.1M221.2 179.9l-0.3 0.5M225.8 179.8l0.3 0.5M230.5 179.7l0.9 0.3M236.1 179.4l-0.6 0.7M240.8 179.5l0.1 0.4M245.4 179.4l0.7 0.3M260.6 179.4l-0.1 -0.4M270.2 178.9l0.5 0.1M275.6 178.5l-0.5 0.7M280.6 178.6l-0.5 0.3M285.4 178.4l-0.2 0.4M290.4 178.4l-0.5 0.3M295.3 178.4l-0.4 0.0M300.1 178.0l-0.1 0.5M304.9 178.1l0.4 0.2M309.8 177.9l0.3 0.3M314.8 177.8l0.2 0.4M364.4 176.6l-0.0 0.4M157.1 186.9l-0.4 0.0M172.0 186.5l-0.4 0.2M176.6 186.1l0.2 0.8M186.5 186.1l0.1 0.4M191.5 185.7l0.0 0.9M201.6 185.8l-0.4 0.2M206.7 185.8l-0.7 -0.0M216.5 185.3l-0.6 0.6M221.0 185.3l0.4 0.4M226.0 185.2l0.2 0.3M280.1 184.0l0.6 0.2M285.2 183.9l0.3 0.2M290.4 184.1l-0.1 -0.4M295.3 184.0l-0.1 -0.4M300.6 183.7l-0.9 -0.1M305.3 183.3l-0.3 0.6M310.3 183.4l-0.4 0.0M314.9 183.2l0.3 0.3M157.3 192.3l-0.4 -0.0M161.9 192.0l0.1 0.4M166.8 192.0l0.4 0.1M171.6 191.7l0.6 0.5M186.5 191.5l0.3 0.3M196.7 191.5l-0.3 -0.3M201.7 191.4l-0.3 -0.3M221.4 190.7l-0.3 0.2M236.0 190.2l0.3 0.6M245.6 190.5l0.7 -0.4M250.6 190.5l0.7 -0.6M265.7 190.1l-0.0 -0.6M270.6 189.9l0.2 -0.4M275.9 189.3l-0.5 0.6M280.8 189.3l-0.5 0.4M285.6 189.2l-0.1 0.4M290.4 189.1l0.1 0.4M300.4 188.9l-0.2 0.4M305.4 188.8l-0.3 0.3M310.0 188.7l0.3 0.2M162.2 197.2l-0.0 0.8M166.9 197.3l0.3 0.3M171.6 197.3l0.8 0.2M176.7 197.1l0.4 0.2M181.5 197.1l0.7 0.1M186.6 196.9l0.4 0.1M196.9 196.7l-0.4 0.1M201.9 196.7l-0.4 -0.0M206.9 196.5l-0.6 0.1M216.8 196.2l-0.7 0.2M221.4 195.8l0.0 0.9M226.2 196.0l0.4 0.2M231.0 195.8l0.5 0.4M271.1 195.4l-0.6 -0.6M276.0 195.0l-0.5 0.0M280.9 194.9l-0.4 -0.1M290.7 194.6l-0.4 0.0M295.3 194.4l0.3 0.2M300.7 194.7l-0.5 -0.5M305.4 194.5l-0.1 -0.4M310.6 194.2l-0.6 -0.0M360.0 193.2l-0.7 -0.3M364.8 193.1l-0.4 -0.2M157.1 202.9l0.6 0.3M221.5 201.3l0.2 0.5M226.2 201.2l0.5 0.6M265.9 200.8l0.1 -0.4M270.8 200.8l0.3 -0.6M276.1 200.5l-0.5 -0.2M285.8 199.7l-0.2 0.8M290.6 200.2l0.1 -0.4M295.8 199.9l-0.4 0.1M300.8 199.5l-0.6 0.6M305.8 199.9l-0.7 -0.4M365.0 198.8l-0.5 -0.8M157.3 208.3l0.3 0.3M162.2 208.2l0.4 0.1M181.8 208.0l0.8 -0.4M187.0 208.0l0.3 -0.5M197.1 207.3l-0.1 0.4M202.3 207.4l-0.7 0.1M207.1 207.2l-0.6 0.2M212.0 207.3l-0.5 -0.2M216.7 206.9l0.1 0.4M221.9 206.6l-0.6 0.7M226.5 206.6l0.3 0.5M231.2 206.9l0.6 -0.2M265.9 205.9l0.4 0.1M271.0 205.6l0.0 0.4M276.1 205.9l-0.3 -0.3M280.9 205.3l-0.0 0.7M285.9 205.3l-0.1 0.4M295.8 205.5l-0.2 -0.4M305.9 204.8l-0.6 0.4M360.0 204.1l-0.1 -0.6M365.0 203.9l-0.4 -0.3M157.6 214.0l0.1 -0.4M162.3 213.7l0.5 -0.0M182.1 213.4l0.4 -0.5M187.2 213.5l0.1 -0.8M197.3 213.0l-0.4 -0.2M202.1 213.0l-0.0 -0.5M206.8 212.6l0.3 0.2M212.1 212.4l-0.4 0.3M216.8 212.3l0.2 0.4M221.6 212.4l0.4 -0.2M241.4 212.2l0.3 -0.7M261.2 211.7l0.2 -0.5M271.2 211.0l-0.1 0.4M276.3 211.1l-0.5 -0.1M280.8 211.1l0.4 -0.1M290.8 211.0l0.1 -0.6M300.9 210.7l-0.2 -0.4M360.2 209.4l-0.5 -0.4M365.3 209.3l-0.7 -0.4M157.6 219.2l0.4 -0.2M162.3 219.1l0.9 -0.1M177.2 218.9l0.6 -0.4M182.3 218.7l0.3 -0.3M187.3 218.3l0.1 0.4M192.3 218.0l0.1 0.8M202.5 218.2l-0.5 -0.2M207.4 218.2l-0.6 -0.2M212.2 217.8l-0.4 0.3M217.2 217.9l-0.4 -0.1M231.4 217.5l0.7 -0.1M236.8 217.7l-0.2 -0.7M256.8 216.7l-0.7 0.4M261.5 216.6l-0.2 0.3M271.5 216.4l-0.4 0.4M276.0 216.6l0.4 -0.3M281.0 216.2l0.3 0.4M286.4 216.4l-0.6 -0.2M291.0 216.6l-0.1 -0.9M157.7 224.6l0.5 -0.3M162.5 224.4l0.7 0.1M192.5 224.0l-0.1 -0.5M197.4 223.3l0.1 0.6M212.4 223.2l-0.3 0.2M222.3 223.2l-0.5 -0.2M226.7 222.9l0.5 0.2M236.4 222.8l0.8 -0.1M246.7 222.7l0.0 -0.4M256.5 222.5l0.2 -0.3M266.3 221.8l0.3 0.5M271.2 221.9l0.4 0.1M276.5 221.9l-0.4 -0.2M281.5 221.6l-0.5 0.3M291.4 221.8l-0.6 -0.6M296.3 221.4l-0.6 -0.1M157.9 229.9l0.4 -0.1M162.8 229.6l0.5 0.3M177.3 229.4l0.9 -0.0M182.7 229.5l0.1 -0.4M192.5 229.3l0.2 -0.3M197.9 228.7l-0.8 0.5M202.3 228.8l0.3 0.2M207.4 229.0l-0.1 -0.4M212.5 228.4l-0.4 0.6M217.4 228.4l-0.3 0.3M222.3 228.3l-0.2 0.3M226.7 228.4l0.9 -0.1M231.9 228.4l0.2 -0.3M242.0 228.2l-0.3 -0.3M246.9 228.1l-0.1 -0.4M251.7 228.0l0.1 -0.5M256.7 227.9l-0.0 -0.4M266.7 227.1l-0.3 0.7M271.5 226.9l-0.0 0.8M281.6 227.0l-0.4 0.2M296.3 227.1l-0.4 -0.6M158.1 234.9l0.2 0.6M167.8 235.0l0.6 0.0M172.6 235.1l0.8 -0.3M178.0 234.6l-0.2 0.4M182.8 234.5l0.2 0.3M187.6 235.0l0.4 -0.8M222.6 233.6l-0.7 0.5M227.4 233.8l-0.3 -0.3M231.9 233.9l0.5 -0.5M242.2 233.4l-0.4 -0.1M247.0 233.5l-0.1 -0.4M252.1 233.3l-0.3 -0.2M257.0 232.9l-0.3 0.3M262.1 232.8l-0.8 0.2M271.8 232.6l-0.5 0.2M276.5 232.8l0.1 -0.4M281.7 232.7l-0.4 -0.3M286.2 232.5l0.3 -0.2M291.2 232.7l0.4 -0.8M296.4 232.6l-0.2 -0.8M158.1 240.7l0.6 -0.1M163.1 240.6l0.4 -0.2M167.9 240.3l0.6 0.2M177.9 240.1l0.3 0.2M188.1 239.6l-0.3 0.7M202.8 239.4l-0.2 0.3M207.8 239.4l-0.4 0.2M217.7 239.2l-0.3 0.2M222.3 239.3l0.2 -0.3M227.5 238.9l-0.3 0.3M232.3 239.2l-0.1 -0.4M237.2 239.3l0.1 -0.9M242.4 238.8l-0.4 -0.1M252.1 238.3l-0.1 0.4M257.1 238.3l-0.3 0.2M262.2 238.0l-0.6 0.6M266.8 237.9l0.1 0.7M276.9 237.9l-0.4 0.1M281.7 237.7l-0.2 0.4M286.4 238.1l0.3 -0.6M291.6 237.8l-0.3 -0.3M296.5 237.8l-0.2 -0.5M301.5 237.6l-0.3 -0.3M158.3 246.0l0.4 -0.1M163.2 245.9l0.4 -0.1M173.2 245.5l0.2 0.4M183.2 245.6l-0.0 -0.4M188.0 245.1l0.1 0.4M198.1 244.7l-0.3 0.9M203.0 245.1l-0.3 -0.2M207.9 244.5l-0.3 0.7M212.7 244.6l-0.0 0.4M217.8 244.6l-0.3 0.2M222.4 244.6l0.4 -0.2M232.2 244.2l0.5 0.3M237.4 244.5l-0.1 -0.6M242.4 244.0l-0.3 0.3M247.4 243.9l-0.4 0.1M257.4 243.6l-0.7 0.3M262.3 243.6l-0.6 0.1M267.1 243.3l-0.3 0.5M271.8 243.3l0.2 0.4M277.0 243.1l-0.5 0.4M286.7 243.5l-0.1 -0.7M291.9 243.3l-0.6 -0.6M296.4 243.1l0.2 -0.4M301.5 242.6l-0.2 0.3M158.6 251.5l0.2 -0.4M163.7 251.1l-0.2 0.3M168.4 251.0l0.3 0.3M173.4 250.8l0.0 0.4M188.4 250.7l-0.4 -0.0M193.3 250.4l-0.3 0.3M203.1 250.5l-0.3 -0.3M208.1 250.3l-0.4 -0.0M213.0 250.0l-0.3 0.3M217.8 250.3l-0.1 -0.6M223.0 249.9l-0.7 -0.0M227.5 250.3l0.2 -0.9M232.7 249.4l-0.4 0.7M242.7 249.3l-0.5 0.3M247.4 249.2l-0.2 0.4M252.5 249.3l-0.6 -0.1M257.4 249.0l-0.4 0.4M267.2 249.1l-0.3 -0.3M271.7 248.8l0.6 0.1M276.9 248.4l0.1 0.6M281.6 248.5l0.5 0.2M291.8 248.2l-0.2 0.3M296.4 248.4l0.4 -0.2M311.3 247.8l0.3 0.3M158.7 256.5l0.2 0.4M163.6 256.4l0.3 0.5M168.6 256.3l0.0 0.4M173.5 256.2l0.2 0.4M178.5 256.1l-0.0 0.4M183.4 256.0l0.1 0.4M188.6 255.8l-0.4 0.5M193.5 255.6l-0.5 0.7M198.1 255.7l0.2 0.3M203.0 255.6l0.3 0.2M208.4 255.7l-0.7 -0.2M213.1 255.4l-0.3 0.2M218.0 255.2l-0.2 0.4M222.8 255.5l0.0 -0.4M227.6 255.2l0.4 0.0M232.5 255.0l0.4 0.1M237.4 255.0l0.4 -0.1M242.3 254.8l0.4 0.0M247.3 254.6l0.3 0.3M257.5 254.8l-0.3 -0.5M262.5 254.4l-0.4 0.0M267.3 254.4l-0.3 -0.2M272.2 254.4l-0.3 -0.4M287.0 253.6l-0.2 0.5M291.7 253.6l0.1 0.4M296.5 253.7l0.4 -0.1M301.5 253.7l0.3 -0.3M311.3 253.3l0.4 0.2M159.0 261.9l-0.2 0.3M163.7 262.0l0.4 0.0M173.7 261.5l-0.1 0.5M178.8 261.7l-0.4 -0.1M183.6 261.3l-0.1 0.4M188.6 261.3l-0.2 0.3M193.5 261.1l-0.2 0.3M198.5 260.8l-0.3 0.9M203.3 261.3l-0.0 -0.4M213.2 261.1l-0.2 -0.5M217.7 261.0l0.7 -0.5M223.1 260.9l-0.2 -0.5M228.0 260.7l-0.2 -0.3M232.6 260.6l0.3 -0.4M237.6 260.2l0.3 0.3M257.8 260.0l-0.7 -0.2M277.0 259.6l0.4 -0.2M296.5 259.1l0.6 -0.2M159.2 267.3l-0.2 0.4M164.0 267.5l-0.1 -0.4M168.9 266.9l0.0 0.6M178.8 266.8l-0.1 0.4M188.8 266.6l-0.4 0.4M193.7 266.6l-0.4 0.1M198.9 266.7l-0.9 -0.3M203.8 266.6l-0.9 -0.2M208.2 266.6l0.2 -0.5M213.1 266.5l0.3 -0.5M218.1 266.4l0.1 -0.6M227.8 266.1l0.4 -0.4M233.2 266.1l-0.5 -0.5M237.8 265.9l0.1 -0.4M252.4 265.2l0.6 0.4M257.6 265.5l-0.2 -0.4M267.8 264.9l-0.8 0.4M272.4 264.7l-0.2 0.6M286.9 264.5l0.4 0.3M296.6 264.5l0.6 -0.1M301.6 264.6l0.5 -0.5M306.6 264.5l0.4 -0.6M316.5 264.1l0.3 -0.2M159.1 272.6l0.3 0.5M164.0 272.5l0.3 0.3M179.2 272.0l-0.5 0.8M188.9 271.9l-0.4 0.5M193.9 272.0l-0.4 0.1M199.0 271.8l-0.8 0.3M203.7 272.1l-0.4 -0.4M213.4 271.8l-0.1 -0.4M227.9 271.6l0.5 -0.7M233.0 271.4l0.1 -0.4M237.9 271.5l0.2 -0.8M248.0 270.8l-0.4 0.1M253.0 270.9l-0.6 -0.2M262.8 270.5l-0.5 0.2M301.7 269.7l0.5 -0.0M306.6 269.9l0.5 -0.7M311.7 269.3l0.2 0.3M316.7 269.6l0.1 -0.4M164.2 277.9l0.2 0.4M169.2 277.6l0.0 0.6M174.3 278.0l-0.3 -0.2M178.8 277.4l0.5 0.6M188.9 277.3l-0.1 0.4M194.0 277.3l-0.3 0.3M203.8 277.0l-0.3 0.4M208.4 277.3l0.4 -0.5M218.2 276.9l0.4 -0.0M227.8 276.8l0.9 -0.2M243.4 276.3l-0.6 0.0M253.1 276.1l-0.5 0.0M258.1 276.0l-0.5 0.1M267.3 275.7l0.6 0.2M296.9 275.2l0.6 0.0M302.0 275.2l0.2 -0.4M306.8 274.9l0.4 0.0M316.8 275.0l0.2 -0.5" fill="none" stroke="#5f8fc6" stroke-width="1.05" stroke-linecap="round" stroke-opacity=".85"/>
<path d="M154.5 79.7l-1.6 -0.3M164.4 78.9l-1.6 1.6M179.1 79.3l-0.9 -1.1M263.7 76.8l-1.7 0.5M298.0 76.6l0.0 -1.7M318.4 76.0l-1.8 -1.0M159.7 84.8l-2.0 0.2M253.7 82.2l-0.9 1.4M273.1 81.6l0.5 1.7M282.7 81.6l1.9 1.2M312.4 81.2l2.1 0.1M164.7 89.9l-1.5 0.7M179.4 89.3l-1.0 1.7M184.3 89.1l-0.8 1.7M244.0 88.0l-1.3 0.9M254.0 87.5l-1.4 1.5M268.2 87.1l1.0 1.7M358.0 85.2l-0.9 1.2M164.7 95.2l-1.2 1.0M184.2 94.5l0.3 1.6M189.1 94.5l0.4 1.4M228.5 94.1l1.3 -0.7M243.5 93.2l0.8 1.5M253.8 92.7l-0.5 2.2M258.6 92.8l0.3 1.7M263.7 92.8l-0.5 1.3M273.2 93.3l0.9 -1.4M282.9 92.4l1.7 0.9M342.8 90.8l0.4 1.7M160.0 100.8l-1.4 0.5M170.0 100.6l-1.7 0.5M174.1 100.2l1.1 1.4M189.1 99.9l0.9 1.1M268.6 97.8l0.3 2.0M278.3 98.4l1.2 -0.8M283.2 98.2l1.2 -0.7M160.0 105.9l-1.1 1.4M184.5 105.2l0.1 2.0M189.0 105.3l1.5 1.1M199.2 105.8l0.5 -1.4M204.2 105.6l0.6 -1.2M214.0 105.4l0.8 -1.2M228.7 104.7l1.4 0.0M238.7 104.3l1.2 0.7M254.5 104.2l-1.9 -0.5M259.3 103.9l-1.4 0.5M288.2 103.1l1.3 0.6M169.6 110.9l0.6 2.1M180.0 110.7l-1.2 1.8M189.5 110.6l0.2 1.5M214.3 111.0l0.4 -2.0M219.2 110.8l0.4 -1.7M254.3 109.1l-0.9 1.2M264.3 109.3l-1.3 -0.3M268.5 109.2l1.3 -0.4M318.8 108.4l-1.0 -1.4M160.2 116.7l-0.8 1.2M174.9 116.2l-0.2 1.8M184.5 116.0l0.9 1.5M199.5 116.5l0.4 -1.3M214.2 116.2l1.2 -1.5M234.0 115.6l1.0 -0.9M254.7 114.9l-1.8 -0.1M269.1 114.1l-0.4 1.3M303.6 114.0l0.5 -1.3M323.8 113.5l-1.0 -1.1M165.4 121.9l-0.9 1.3M175.2 121.5l-0.7 2.1M199.6 122.0l0.7 -1.7M219.6 121.6l0.1 -1.9M259.6 120.4l-1.3 -1.1M269.3 120.4l-0.5 -1.9M303.7 119.5l0.5 -1.5M308.9 119.4l-0.5 -1.7M313.5 119.2l0.8 -1.3M175.1 126.9l0.3 2.0M189.8 127.5l0.8 -1.3M209.6 127.2l0.7 -2.1M219.7 126.9l0.1 -1.8M254.6 126.2l-0.7 -2.0M259.8 125.8l-1.6 -1.3M264.7 125.8l-1.5 -1.4M160.8 132.7l-1.1 1.8M165.4 132.6l-0.0 1.7M170.7 132.7l-1.2 0.9M180.2 132.3l0.3 1.5M199.6 132.1l1.6 0.3M225.3 132.1l-1.6 -1.6M229.5 131.8l1.1 -0.9M254.8 131.2l-1.1 -0.8M318.7 129.9l0.7 -1.5M161.0 138.6l-1.6 -0.1M165.5 137.9l0.1 2.0M180.3 137.7l0.2 1.4M215.4 137.0l-1.4 1.0M220.4 137.4l-1.3 -1.1M229.8 137.4l0.4 -1.8M239.7 137.2l0.4 -1.6M156.2 144.1l-1.4 -0.3M160.8 143.4l-0.1 1.9M195.1 142.6l0.9 1.7M225.6 142.7l-1.7 -1.0M274.6 140.7l-0.2 2.0M284.7 140.6l-0.8 1.5M318.9 139.8l0.9 1.3M180.7 149.3l-0.3 -1.6M210.7 147.8l-1.2 1.2M264.9 146.3l-0.5 2.1M269.5 146.3l0.8 1.5M274.6 146.1l0.2 1.7M304.7 146.2l-1.2 -0.9M364.2 144.9l-1.4 -1.1M205.6 153.2l-0.3 1.4M215.6 153.0l-0.6 1.3M239.8 153.1l1.3 -1.2M264.8 151.8l0.4 1.6M160.8 160.5l1.1 -1.7M171.4 159.9l-1.4 -0.3M176.5 159.8l-1.7 -0.5M211.0 158.7l-1.5 0.6M220.9 158.5l-1.4 0.3M176.2 165.6l-0.2 -2.0M181.5 165.4l-1.3 -1.7M196.2 164.2l-1.2 1.2M206.2 164.3l-1.4 0.2M225.8 163.5l-0.7 1.2M280.4 162.7l-1.5 -0.3M354.2 161.4l0.0 -1.5M166.2 171.1l0.5 -1.6M181.6 170.4l-1.5 -0.4M206.0 169.3l-0.1 1.4M211.3 169.4l-1.6 0.5M216.2 169.2l-1.3 0.9M259.8 168.6l1.9 -0.5M359.4 166.8l-0.6 -2.0M171.5 176.4l-0.1 -1.7M182.0 175.6l-2.2 0.3M191.0 175.0l0.7 1.4M196.7 175.1l-1.9 0.8M225.8 174.2l0.0 1.4M157.1 182.0l-1.2 -1.6M167.2 181.5l-2.0 -0.4M176.7 180.6l-0.4 1.9M201.5 180.1l-0.8 1.7M206.7 180.4l-1.7 0.1M250.3 179.7l1.2 -0.8M255.1 179.6l1.6 -0.9M265.5 179.7l-0.0 -2.0M162.3 187.0l-1.4 -0.5M196.7 185.5l-0.7 1.8M230.8 184.9l0.9 1.1M235.6 185.4l1.5 -1.0M275.6 184.7l-0.4 -1.5M176.4 191.7l1.3 0.4M181.6 191.3l0.4 1.6M206.5 190.7l-0.2 1.7M211.4 190.6l-0.0 1.6M226.0 190.3l0.8 1.4M260.3 190.3l1.7 -1.3M295.9 189.1l-1.7 0.2M157.5 197.4l-1.0 1.0M191.4 196.6l1.4 0.9M211.5 196.0l-0.1 1.5M235.6 195.8l2.0 0.1M240.7 195.9l1.5 -0.4M250.7 195.7l1.3 -0.7M255.7 195.9l1.0 -1.6M266.2 195.6l-1.0 -1.4M285.9 194.3l-1.0 1.7M162.0 202.6l1.0 1.2M166.9 202.7l1.3 0.5M171.8 202.6l1.3 0.5M176.8 202.8l1.2 -0.6M181.7 203.0l1.2 -1.7M191.7 202.6l0.8 -1.3M197.2 202.4l-1.1 -1.1M207.3 201.8l-2.1 0.3M216.7 201.2l-0.3 1.6M231.0 201.2l1.3 0.5M235.8 201.4l1.8 -0.6M281.1 200.0l-1.0 1.0M360.3 198.8l-1.7 -1.3M166.8 208.0l1.9 0.6M171.8 208.3l1.7 -0.7M176.8 207.9l1.7 0.1M192.0 208.1l0.3 -1.7M236.1 206.5l1.3 0.5M240.8 206.6l2.0 -0.3M246.3 206.9l0.3 -1.6M251.0 206.7l1.1 -1.3M256.2 206.7l-0.1 -2.0M261.2 206.5l-0.2 -1.4M290.4 205.2l1.3 0.9M166.9 213.5l2.2 0.0M177.0 213.8l1.3 -1.8M226.3 212.3l1.7 -0.3M246.1 212.0l1.4 -0.8M256.3 212.0l0.2 -1.5M266.7 211.7l-1.6 -1.5M285.8 210.5l0.6 1.2M167.1 218.8l2.0 0.4M172.2 219.0l1.4 -0.5M226.4 217.2l1.4 1.2M246.7 217.6l-0.3 -1.5M266.3 217.1l0.2 -1.4M296.2 216.4l-0.9 -1.1M167.4 224.1l1.4 0.7M172.1 224.1l2.1 0.1M177.5 224.6l0.5 -1.9M182.5 224.4l0.5 -1.5M187.8 224.3l-0.8 -1.5M207.7 223.1l-1.6 0.9M217.5 223.2l-1.5 0.0M231.6 223.2l1.0 -1.3M241.6 223.0l0.7 -1.3M261.9 222.3l-1.3 -0.4M286.6 222.0l-1.3 -1.4M167.6 229.9l1.1 -0.9M187.7 229.7l-0.1 -1.6M237.0 228.5l-0.1 -1.5M262.0 227.3l-1.3 0.8M286.7 227.2l-1.4 -0.6M193.2 234.6l-1.7 -0.4M207.7 233.5l-0.5 2.1M213.0 233.7l-2.0 1.0M217.1 233.5l1.0 1.3M236.5 233.4l2.2 0.3M267.1 232.6l-1.5 0.8M172.8 240.6l1.1 -1.0M183.2 239.7l-0.7 1.4M193.2 239.3l-1.1 1.8M212.6 238.9l0.0 1.7M168.5 245.3l-0.6 1.8M177.9 245.4l1.3 0.4M193.2 244.8l-0.5 1.3M252.6 243.9l-1.6 0.1M282.1 243.2l-1.4 0.3M306.1 243.0l0.9 -1.0M178.3 250.5l0.1 1.5M198.3 250.0l-0.8 1.5M237.8 249.2l-1.0 1.4M262.3 248.6l-0.6 1.5M252.9 254.6l-1.8 0.2M276.6 253.6l1.3 1.8M282.2 254.3l-1.0 -1.2M306.1 253.4l1.6 0.2M168.5 261.3l1.1 1.9M208.4 261.3l-0.8 -1.1M242.1 260.5l2.0 -0.8M248.0 260.5l-1.4 -1.5M253.1 260.2l-2.0 -0.8M281.9 259.0l0.6 1.3M291.8 258.7l0.5 1.5M301.4 258.8l1.2 0.6M311.3 258.3l1.0 1.4M174.0 266.8l-0.6 1.2M183.4 266.6l1.1 0.9M222.9 266.6l0.7 -1.8M242.9 266.1l-0.6 -1.7M291.7 264.8l1.3 -1.0M174.1 272.1l-0.3 1.4M208.9 271.8l-1.6 -0.2M217.9 271.5l1.5 0.2M222.8 271.6l1.3 -0.6M243.4 271.4l-1.6 -1.4M258.2 270.9l-1.9 -0.8M277.4 269.7l-0.0 1.8M296.7 269.7l1.4 0.5M159.8 277.8l-1.4 1.3M184.3 277.4l-1.2 0.8M213.4 277.4l0.5 -1.4M223.0 277.1l1.2 -1.1M232.8 276.9l1.4 -1.1M237.9 276.8l0.6 -1.2M248.4 276.3l-1.4 -0.1M311.9 275.3l0.3 -1.5" fill="none" stroke="#74a8d8" stroke-width="1.25" stroke-linecap="round" stroke-opacity=".88"/>
<path d="M253.5 76.8l-1.2 2.3M258.8 76.8l-2.0 1.3M268.5 76.4l-1.4 2.2M278.0 76.3l1.0 2.4M169.4 84.2l-1.6 2.1M179.6 84.8l-2.1 -1.5M243.6 82.6l-1.2 2.3M169.5 89.8l-2.0 1.6M174.3 89.7l-1.2 2.3M248.9 87.5l-1.2 2.2M259.0 87.8l-2.6 0.2M273.3 87.4l2.2 1.4M249.1 93.1l-1.8 1.9M277.9 92.5l2.4 1.0M179.5 100.2l-0.5 2.6M333.6 96.3l-1.7 1.8M165.3 106.0l-2.1 0.9M170.3 105.7l-2.2 1.3M248.7 104.9l0.8 -2.5M160.3 111.4l-2.2 1.3M174.8 110.9l-0.6 2.5M258.7 110.0l1.0 -2.1M165.4 116.5l-1.8 1.9M194.5 116.5l1.8 -1.9M204.1 116.3l2.2 -1.4M219.3 116.2l1.0 -2.4M238.7 115.5l2.3 -1.3M249.3 115.6l-0.5 -2.4M264.7 114.5l-2.3 0.3M239.4 120.9l-0.1 -2.6M194.9 127.1l1.9 -1.8M199.5 127.4l1.5 -1.9M204.5 127.3l1.3 -1.9M235.2 126.5l-2.1 -1.4M284.2 124.3l-0.4 2.2M260.0 140.9l-0.9 2.2M176.0 149.1l-2.1 -1.5M260.1 146.4l-1.0 2.1M156.6 155.1l-2.1 -1.5M259.8 151.6l0.4 2.6M156.7 160.6l-1.6 -1.6M250.3 157.8l-1.3 2.3M259.8 157.0l0.8 2.5M171.5 165.8l-1.1 -2.2M186.7 164.7l-2.4 0.3M230.0 169.3l2.5 -0.6M240.0 169.0l2.6 -0.3M161.7 176.3l-1.4 -2.2M167.2 176.2l-2.2 -0.7M186.4 175.1l-0.5 2.5M211.7 174.6l-2.3 1.2M269.9 174.0l1.8 -1.9M166.7 186.4l0.6 2.5M181.1 185.9l1.8 1.8M250.1 185.1l2.4 -1.0M255.4 185.0l2.0 -1.7M265.5 185.1l0.5 -2.3M191.1 191.8l2.1 -1.1M230.9 190.5l2.4 1.0M186.3 202.5l2.6 -0.5M211.9 201.8l-2.6 0.4M240.9 201.2l2.6 -0.4M261.2 201.0l-1.4 -2.2M300.4 205.8l0.8 -2.2M172.0 213.5l2.6 -0.5M192.3 213.7l-0.4 -2.5M236.1 212.6l1.6 -2.0M251.3 212.4l0.4 -2.5M221.6 217.9l2.2 -1.4M241.5 218.0l0.6 -2.5M251.5 217.8l-0.1 -2.5M202.9 223.8l-2.2 -0.9M251.7 222.7l-0.3 -2.6M172.5 230.2l1.2 -2.2M277.1 227.3l-2.4 -0.1M291.5 227.6l-1.1 -2.4M162.5 235.2l2.3 -0.3M198.2 234.2l-2.5 0.9M202.9 233.8l-1.6 2.0M198.4 239.4l-2.3 1.3M247.8 238.8l-2.4 -0.5M271.9 238.0l-2.3 1.2M227.1 245.0l1.4 -2.1M183.0 250.2l1.0 2.4M287.1 248.0l-1.3 1.9M301.3 248.3l2.2 -1.4M306.1 247.8l2.1 1.5M262.5 259.6l-1.6 2.0M272.4 259.3l-1.4 2.2M287.6 259.7l-2.0 -1.6M306.0 258.9l2.6 -0.2M248.3 265.8l-2.2 -1.3M277.1 264.2l0.7 2.3M282.2 264.4l-0.2 2.6M311.6 264.8l0.3 -2.6M169.2 272.3l-0.9 2.4M184.2 272.0l-2.0 1.6M268.2 270.3l-2.2 0.6M272.5 269.9l-0.4 2.6M282.1 269.6l0.9 2.5M291.7 269.6l2.3 1.3M199.4 277.5l-2.2 -0.8M263.0 275.3l-0.9 2.3M272.5 275.4l0.7 2.5M277.3 274.9l0.5 2.5M281.9 275.0l2.0 1.6M287.3 275.2l-0.1 2.6M291.8 274.9l2.1 1.5" fill="none" stroke="#8dbde5" stroke-width="1.25" stroke-linecap="round" stroke-opacity=".88"/>
<path d="M263.3 82.6l-0.9 2.4M169.3 96.2l-0.0 2.6M174.0 95.6l-1.8 1.8M164.6 100.8l-1.9 1.8M184.4 100.5l-0.2 2.6M253.6 98.9l-1.9 1.8M174.6 106.1l0.2 2.6M179.7 107.7l0.2 2.6M184.6 111.1l1.1 2.3M195.1 110.7l2.5 -0.6M189.8 121.7l2.6 0.2M210.3 120.5l1.6 -2.0M253.9 120.0l-2.3 -1.2M180.5 128.4l1.0 2.4M249.3 125.6l-1.7 -2.0M175.7 134.0l0.9 2.4M210.0 132.0l1.9 -1.7M234.8 131.0l0.5 -2.5M264.0 130.7l-2.6 0.1M230.2 147.7l-2.5 -0.6M166.1 159.9l0.5 -2.5M160.7 164.2l-1.2 -2.3M165.4 161.8l-0.6 -2.5M155.7 170.0l-1.8 -1.9M159.7 170.0l-2.4 -1.0M169.8 169.6l-2.2 -1.3M195.3 170.2l-2.4 0.9M200.3 175.0l-2.6 -0.4M206.1 175.0l-2.1 1.5M220.4 174.9l-2.5 0.8M211.2 185.8l-1.9 1.8M241.1 185.1l2.5 0.8M246.1 185.0l2.5 0.7M260.8 184.0l0.4 -2.6M270.6 184.3l0.2 -2.6M216.4 190.9l-1.6 2.1M241.3 190.5l2.5 0.6M256.0 188.6l0.2 -2.6M246.3 195.6l2.5 -0.8M260.9 195.3l0.0 -2.6M201.1 201.5l-2.0 -1.6M246.3 200.8l0.8 -2.5M251.2 200.7l0.6 -2.5M256.5 200.3l1.6 -2.1M232.0 212.1l2.6 -0.3M295.3 210.1l-1.6 -2.0M196.7 217.6l-1.6 -2.1M266.8 259.6l-2.6 -0.4M261.8 265.9l-1.8 1.9M287.5 270.5l1.3 2.3" fill="none" stroke="#b4d8f1" stroke-width="1.25" stroke-linecap="round" stroke-opacity=".88"/>
<path d="M254.3 75.4l-1.4 2.6M269.3 75.1l-1.5 2.4M277.3 74.6l1.2 2.9M170.3 83.0l-1.7 2.1M180.5 85.5l-1.9 -1.4M244.6 80.8l-1.6 2.9M264.4 79.7l-1.6 4.2M171.0 88.6l-2.6 2.0M175.3 87.8l-1.7 3.1M249.5 86.6l-1.2 2.0M260.6 87.7l-2.8 0.2M271.3 86.2l3.1 1.9M169.4 91.9l-0.1 5.6M176.5 93.1l-3.5 3.5M250.1 92.0l-1.9 2.0M276.7 92.0l2.4 1.0M166.4 99.1l-2.8 2.7M179.8 98.3l-0.6 3.2M184.6 97.6l-0.4 4.2M255.9 96.7l-3.2 3.2M334.4 95.6l-1.6 1.7M171.2 105.2l-2.0 1.2M174.3 103.3l0.4 4.1M248.4 106.0l0.8 -2.3M161.7 110.6l-2.5 1.5M175.3 109.3l-0.8 2.9M183.5 108.8l1.6 3.4M191.4 111.6l5.0 -1.2M166.3 115.5l-1.8 1.9M193.1 117.9l2.2 -2.4M202.9 117.1l2.3 -1.5M218.7 117.5l1.0 -2.6M237.6 116.1l2.3 -1.3M187.4 121.5l3.7 0.3M207.5 124.0l3.6 -4.5M239.5 122.8l-0.1 -3.2M256.9 121.6l-4.2 -2.2M193.1 128.6l2.7 -2.4M236.1 127.1l-2.0 -1.3M251.2 127.8l-2.7 -3.2M208.0 133.8l3.0 -2.7M234.1 134.4l1.0 -4.8M267.4 130.6l-4.7 0.2M177.5 150.3l-2.6 -1.9M232.6 148.3l-3.7 -0.9M157.7 155.9l-2.1 -1.5M259.7 150.5l0.4 2.5M165.6 162.4l0.8 -3.8M251.3 155.8l-1.7 3.1M259.5 155.9l0.8 2.3M172.0 166.7l-1.0 -2.1M199.2 168.8l-5.1 1.9M228.8 169.6l2.5 -0.6M238.5 169.1l2.7 -0.3M162.8 178.1l-1.8 -2.8M186.7 173.4l-0.6 3.0M204.5 175.8l-5.6 -1.0M208.1 173.6l-3.1 2.2M212.7 174.1l-2.1 1.1M223.8 173.8l-4.7 1.5M268.9 175.1l1.9 -2.0M166.2 184.5l0.8 3.2M180.3 185.0l1.8 1.8M213.3 183.9l-3.0 2.8M238.2 184.1l4.2 1.4M243.2 184.1l4.1 1.2M249.1 185.5l2.3 -0.9M254.1 186.1l2.2 -1.9M260.2 187.7l0.7 -5.0M270.3 187.0l0.4 -4.1M217.9 188.9l-2.3 3.0M229.0 189.7l3.1 1.3M238.2 189.7l4.4 1.0M243.4 196.5l4.2 -1.3M260.9 197.9l0.1 -3.9M185.1 202.7l2.5 -0.5M204.5 204.2l-4.5 -3.6M214.0 201.4l-3.3 0.5M239.1 201.5l3.0 -0.5M245.3 203.7l1.4 -4.1M250.5 203.7l1.0 -4.2M254.2 203.3l3.1 -4.0M262.3 202.6l-1.7 -2.7M170.4 213.8l2.9 -0.6M192.5 214.8l-0.4 -2.3M228.7 212.4l4.6 -0.5M235.4 213.5l1.5 -1.9M251.1 213.5l0.4 -2.3M297.9 213.3l-3.4 -4.3M199.3 221.0l-3.4 -4.5M220.1 218.9l2.6 -1.7M241.2 219.0l0.6 -2.3M251.6 218.8l-0.1 -2.3M251.9 224.7l-0.3 -3.3M172.0 231.1l1.1 -2.0M292.0 228.6l-1.0 -2.2M199.5 233.7l-2.5 0.9M203.9 232.7l-1.8 2.2M199.4 238.8l-2.1 1.2M273.8 237.0l-3.0 1.6M226.5 245.9l1.3 -1.9M182.5 249.0l1.0 2.4M299.6 249.4l2.8 -1.8M304.8 246.8l2.4 1.7M263.8 258.0l-2.1 2.6M270.4 260.2l-4.9 -0.7M273.4 257.6l-1.7 2.8M288.4 260.4l-1.9 -1.4M304.9 258.9l2.4 -0.1M249.4 266.5l-2.2 -1.3M264.9 262.5l-4.0 4.3M282.4 262.5l-0.3 3.2M311.5 266.0l0.3 -2.5M169.9 270.5l-1.2 3.0M185.5 270.9l-2.4 1.9M272.8 268.2l-0.5 3.1M281.6 268.1l1.0 2.7M285.7 267.3l2.4 4.4M290.3 268.9l2.5 1.4M263.4 274.3l-0.8 2.1M272.0 273.6l0.9 3.1M277.1 273.8l0.5 2.3M280.9 274.3l1.9 1.5M287.4 273.0l-0.1 3.5M290.6 274.1l2.2 1.6" fill="none" stroke="#f2f8fb" stroke-width=".75" stroke-opacity=".85"/>
<path d="M179.2 101.4l0.5 7.6M178.7 123.8l2.3 5.8M173.9 129.2l2.3 5.9M163.1 168.8l-2.9 -5.7M167.7 171.2l-2.7 -10.7M159.1 173.6l-4.3 -4.5M165.6 172.5l-7.1 -3.1M175.0 172.7l-6.3 -3.7M255.6 194.1l0.5 -6.7" fill="none" stroke="#fffce0" stroke-width=".85" stroke-opacity=".95"/>
<use href="#grid"/>
</g>
<rect x="150.5" y="73.5" width="219" height="207.8" fill="none" stroke="#000" stroke-width="1.1"/>
<text x="150.9" y="62.6" font-size="13.89" text-anchor="middle">112.5°E</text>
<text x="157.1" y="298.7" font-size="13.89" text-anchor="middle">112.5°E</text>
<text x="213.5" y="62.6" font-size="13.89" text-anchor="middle">113°E</text>
<text x="219.2" y="298.7" font-size="13.89" text-anchor="middle">113°E</text>
<text x="276.1" y="62.6" font-size="13.89" text-anchor="middle">113.5°E</text>
<text x="281.2" y="298.7" font-size="13.89" text-anchor="middle">113.5°E</text>
<text x="338.7" y="62.6" font-size="13.89" text-anchor="middle">114°E</text>
<text x="343.3" y="298.7" font-size="13.89" text-anchor="middle">114°E</text>
<text x="142.9" y="97.1" font-size="13.89" text-anchor="end">21.6°S</text>
<text x="142.9" y="123.8" font-size="13.89" text-anchor="end">21.8°S</text>
<text x="142.9" y="150.4" font-size="13.89" text-anchor="end">22°S</text>
<text x="142.9" y="177.1" font-size="13.89" text-anchor="end">22.2°S</text>
<text x="142.9" y="203.7" font-size="13.89" text-anchor="end">22.4°S</text>
<text x="142.9" y="230.4" font-size="13.89" text-anchor="end">22.6°S</text>
<text x="142.9" y="257.1" font-size="13.89" text-anchor="end">22.8°S</text>
<text x="142.9" y="283.7" font-size="13.89" text-anchor="end">23°S</text>
<rect x="383.5" y="125.5" width="5.1" height="103.9" fill="url(#cb)" stroke="#000" stroke-width="1.1"/>
<path d="M389.1 125.50h4.8" stroke="#000" stroke-width="1.1"/>
<text x="398.4" y="130.0" font-size="13.89" letter-spacing="-.55">1.0</text>
<path d="M389.1 177.45h4.8" stroke="#000" stroke-width="1.1"/>
<text x="398.4" y="182.4" font-size="13.89" letter-spacing="-.55">0.5</text>
<path d="M389.1 229.40h4.8" stroke="#000" stroke-width="1.1"/>
<text x="398.4" y="234.9" font-size="13.89" letter-spacing="-.55">0.0</text>
</g>
<g transform="translate(656 0)">
<g clip-path="url(#cp)">
<rect x="150" y="73" width="220" height="209" fill="#97b6e1"/>
<use href="#heat"/>
<path d="M181 279.8H214.5V278.75H249V277.7H295V276.8H325V283H181z" fill="#97b6e1"/>
<use href="#land"/>
<path d="M168.5 79.3l0.9 -0.0M203.4 78.1l0.5 0.6M208.4 78.6l0.4 -0.7M228.7 77.7l-0.3 0.2M258.4 76.9l-0.2 0.4M263.2 77.3l0.1 -0.5M268.0 76.6l0.4 0.5M282.8 76.5l0.5 0.0M293.2 76.2l-0.4 0.1M303.1 75.9l-0.2 0.3M307.7 76.1l0.4 -0.3M313.0 76.0l-0.2 -0.3M317.6 75.5l0.5 0.4M322.5 75.6l0.6 -0.1M327.4 75.6l0.8 -0.3M337.4 75.5l0.5 -0.6M342.7 75.3l-0.1 -0.4M347.5 74.8l0.3 0.4M352.6 74.7l-0.1 0.4M362.5 74.3l0.1 0.7M169.0 85.0l0.2 -0.9M208.5 83.5l0.6 0.3M213.5 83.3l0.4 0.5M233.8 82.9l-0.5 0.5M238.7 82.5l-0.3 0.8M248.9 82.6l-0.9 0.2M268.3 81.8l0.0 0.9M273.0 81.8l0.5 0.7M288.3 81.7l-0.3 0.2M293.2 81.5l-0.1 0.4M298.5 81.4l-0.9 0.2M303.2 81.3l-0.3 0.3M307.9 81.5l0.3 -0.3M313.0 81.0l0.1 0.4M317.7 81.1l0.5 -0.0M322.7 81.0l0.4 -0.2M327.7 81.1l0.3 -0.4M332.5 80.9l0.7 -0.3M337.6 80.5l0.4 0.1M342.6 80.6l0.3 -0.3M347.8 80.2l-0.1 0.4M352.9 80.1l-0.3 0.2M357.6 79.8l0.0 0.6M362.6 79.7l-0.0 0.7M233.3 88.4l0.7 0.2M238.7 88.5l-0.0 -0.4M248.8 88.0l-0.5 0.2M288.2 87.0l0.2 0.3M293.2 86.7l0.0 0.7M298.4 87.0l-0.4 -0.1M303.2 86.6l-0.0 0.4M308.0 86.4l0.3 0.5M313.0 86.4l0.1 0.4M317.9 86.3l0.3 0.3M322.8 86.4l0.4 -0.1M327.7 86.1l0.5 0.2M332.7 86.1l0.5 -0.0M343.1 85.9l-0.4 -0.0M347.5 86.0l0.6 -0.5M352.9 85.8l-0.3 -0.3M357.9 85.2l-0.3 0.5M362.7 85.2l0.1 0.4M164.3 95.7l0.2 -0.5M174.2 95.1l0.2 0.4M179.0 95.4l0.6 -0.6M203.8 94.6l0.5 -0.2M243.8 93.8l-0.1 -0.4M258.6 92.9l-0.0 0.7M263.8 92.8l-0.3 0.6M288.1 92.3l0.5 0.6M293.6 92.2l-0.5 0.3M298.6 92.2l-0.7 0.2M303.1 92.1l0.4 0.1M308.3 91.8l-0.2 0.5M313.0 92.0l0.3 -0.2M318.0 91.8l0.4 0.1M328.0 92.0l0.1 -0.9M333.1 91.8l-0.1 -0.7M342.9 91.4l0.1 -0.4M348.0 91.3l-0.1 -0.4M353.0 91.1l-0.3 -0.3M358.0 90.9l-0.4 -0.1M363.0 90.7l-0.4 0.2M154.7 101.3l-0.1 -0.5M174.2 100.7l0.5 -0.2M189.5 100.6l-0.4 -0.7M254.2 98.6l-0.8 0.3M273.7 97.9l-0.2 0.6M283.5 97.8l0.1 0.4M298.4 97.2l0.0 0.9M308.4 97.2l-0.0 0.4M313.0 97.5l0.6 -0.5M318.1 97.4l0.3 -0.4M323.1 97.3l0.2 -0.3M327.9 97.2l0.6 -0.4M333.1 97.1l-0.0 -0.5M338.0 96.9l0.3 -0.3M348.0 96.8l-0.0 -0.5M352.9 96.6l0.2 -0.4M357.9 96.5l0.0 -0.4M363.1 96.1l-0.4 0.1M155.0 106.4l-0.4 0.0M164.6 106.0l0.2 0.4M179.4 106.1l0.3 -0.5M204.7 105.1l-0.7 0.4M259.0 103.7l-0.3 0.5M268.4 103.4l0.7 0.6M283.9 103.4l-0.4 0.1M288.7 102.9l-0.1 0.8M293.5 102.9l0.2 0.6M298.8 102.8l-0.5 0.4M303.7 102.6l-0.5 0.6M308.8 102.5l-0.7 0.6M313.8 102.9l-0.7 -0.4M318.2 102.6l0.4 0.0M323.1 102.7l0.5 -0.5M358.3 101.5l-0.4 0.2M363.0 101.7l-0.1 -0.4M154.8 111.6l0.1 0.5M159.6 111.3l0.5 0.8M179.4 111.5l0.6 -0.6M199.6 111.1l-0.2 -0.8M204.2 110.7l0.6 -0.1M228.9 109.9l0.6 0.4M234.7 110.0l-0.9 -0.1M263.8 109.0l0.3 0.4M274.0 108.7l-0.2 0.6M278.7 108.7l0.2 0.3M283.6 108.8l0.4 -0.1M288.8 108.4l-0.1 0.5M293.9 108.3l-0.4 0.4M298.9 108.2l-0.6 0.4M303.9 108.4l-0.6 -0.2M308.7 108.1l-0.4 0.1M313.8 108.2l-0.6 -0.3M318.8 108.2l-0.7 -0.6M328.4 107.9l0.0 -0.4M333.2 107.9l0.3 -0.7M343.2 107.6l0.1 -0.5M353.3 107.3l-0.2 -0.4M358.2 107.4l-0.2 -0.8M363.4 107.2l-0.7 -0.6M170.0 116.6l-0.2 0.4M194.5 116.5l0.5 -0.4M204.3 115.8l0.7 0.4M219.2 115.7l0.5 -0.1M244.6 115.3l-0.6 -0.4M259.2 114.6l-0.2 0.3M269.1 114.3l-0.1 0.4M274.1 114.2l-0.3 0.4M278.5 114.2l0.9 0.1M284.0 114.0l-0.2 0.3M288.7 113.8l0.3 0.4M293.9 113.6l-0.2 0.6M299.1 113.9l-0.7 -0.1M313.9 113.7l-0.6 -0.5M323.6 113.5l-0.2 -0.5M328.3 113.3l0.4 -0.4M333.4 113.4l0.1 -0.9M338.3 113.1l0.2 -0.5M343.3 113.0l0.1 -0.5M348.1 112.9l0.4 -0.6M353.3 112.7l0.0 -0.4M155.3 122.2l-0.2 0.7M189.8 122.0l0.2 -0.5M224.4 121.3l0.3 -0.7M229.8 120.8l-0.6 0.1M234.7 120.6l-0.5 0.2M239.7 120.8l-0.5 -0.5M244.7 120.1l-0.7 0.6M264.1 120.2l0.1 -0.4M278.9 119.8l0.2 -0.3M283.8 119.5l0.4 -0.1M289.0 119.2l-0.2 0.4M293.8 119.4l0.3 -0.3M299.1 119.5l-0.5 -0.7M314.0 118.8l-0.6 -0.0M318.8 118.8l-0.3 -0.3M323.7 118.9l-0.2 -0.7M343.3 118.3l0.2 -0.3M165.3 127.3l-0.2 0.7M170.0 127.6l0.4 -0.2M195.0 127.3l-0.0 -0.6M214.5 126.4l0.6 0.2M234.8 126.2l-0.4 -0.3M259.6 125.7l-0.5 -0.5M264.6 125.5l-0.6 -0.3M269.5 125.1l-0.5 0.3M274.1 125.3l0.2 -0.4M288.8 124.6l0.5 0.3M293.9 124.3l0.2 0.7M299.1 124.3l-0.3 0.5M309.2 124.2l-0.7 0.2M314.2 124.3l-0.7 -0.3M324.2 124.1l-0.9 -0.3M328.8 124.1l-0.1 -0.5M333.4 123.8l0.6 -0.1M363.7 123.2l-0.6 -0.3M170.1 132.9l0.4 -0.0M180.1 133.0l0.3 -0.6M210.0 131.8l-0.0 0.4M269.4 130.9l-0.1 -0.5M274.0 130.7l0.6 -0.4M278.9 130.2l0.8 0.4M284.1 130.1l0.2 0.3M288.9 129.8l0.6 0.7M293.9 129.8l0.4 0.5M299.0 129.8l0.3 0.3M304.3 129.8l-0.5 0.1M309.1 129.9l-0.2 -0.3M314.1 129.7l-0.4 -0.2M319.1 129.5l-0.4 -0.1M328.7 129.1l0.3 0.3M333.8 129.3l0.0 -0.4M363.7 128.5l-0.3 -0.2M190.5 138.2l-0.5 -0.7M195.4 138.0l-0.4 -0.6M284.1 135.5l0.5 0.4M289.0 135.3l0.6 0.4M294.0 135.2l0.5 0.4M299.1 135.1l0.2 0.4M304.4 135.2l-0.4 -0.1M309.2 134.9l-0.2 0.3M314.2 134.8l-0.3 0.2M319.3 134.6l-0.7 0.4M323.8 134.8l0.3 -0.2M328.8 134.3l0.3 0.5M358.5 133.8l0.3 0.3M161.0 143.7l-0.6 0.3M165.5 144.2l0.4 -0.8M175.8 143.8l-0.5 -0.6M264.7 141.9l-0.1 -0.9M269.7 141.5l-0.3 -0.3M274.4 141.4l0.3 -0.2M284.1 140.8l0.6 0.5M294.0 140.7l0.6 0.2M299.2 140.2l0.2 0.9M304.1 140.4l0.3 0.3M314.0 140.0l0.3 0.6M319.1 140.0l-0.0 0.4M156.0 149.1l-0.1 0.5M165.9 149.4l-0.1 -0.6M170.7 149.5l0.2 -0.8M195.5 148.7l-0.0 -0.6M200.4 148.7l0.2 -0.8M239.9 147.7l0.3 -0.6M264.6 147.2l0.3 -0.8M269.5 146.7l0.4 0.1M274.4 146.3l0.6 0.5M279.5 146.3l0.2 0.3M284.3 146.1l0.5 0.6M299.1 145.8l0.7 0.6M304.2 145.6l0.4 0.6M309.3 145.6l-0.0 0.5M358.6 144.4l0.4 0.5M364.1 144.2l-0.7 0.7M160.9 154.8l0.3 -0.3M170.9 154.2l-0.1 0.4M180.5 154.2l0.5 0.0M185.4 154.1l0.7 -0.0M220.4 153.6l-0.0 -0.7M260.0 152.7l-0.1 -0.8M274.7 152.2l0.2 -0.3M279.5 151.8l0.4 0.2M284.4 151.4l0.6 0.7M304.6 150.9l-0.2 0.7M309.6 150.9l-0.3 0.6M314.5 150.9l-0.2 0.4M364.0 149.8l-0.2 0.3M156.2 160.3l0.0 -0.4M161.2 160.3l-0.1 -0.7M180.7 159.6l0.4 -0.1M235.2 158.4l0.3 -0.2M240.1 158.1l0.4 0.2M250.0 158.1l0.3 -0.4M270.1 157.3l-0.3 0.3M274.7 157.2l0.4 0.3M279.5 157.1l0.7 0.2M289.4 156.7l0.6 0.6M299.8 156.6l-0.4 0.5M309.5 156.4l0.2 0.4M319.7 156.2l-0.5 0.2M324.4 155.9l0.0 0.6M359.3 155.3l-0.6 0.3M160.9 165.6l0.8 -0.4M166.3 165.1l-0.1 0.4M171.6 165.2l-0.8 -0.1M190.6 164.6l0.8 0.1M220.6 163.7l-0.0 0.6M250.3 163.7l-0.0 -0.8M255.5 163.6l-0.4 -0.8M259.9 163.4l0.5 -0.5M265.0 163.4l0.3 -0.8M270.0 162.6l0.1 0.6M274.8 162.5l0.5 0.5M279.7 162.6l0.6 -0.0M284.8 162.3l0.2 0.4M289.5 162.4l0.7 0.0M299.6 162.2l0.4 -0.0M304.9 161.7l-0.3 0.7M309.7 161.8l-0.2 0.4M314.8 161.7l-0.3 0.2M319.8 161.5l-0.5 0.5M359.0 160.5l0.2 0.7M364.1 160.5l-0.2 0.4M156.7 171.0l-0.3 -0.4M161.6 170.6l-0.3 0.3M166.5 170.3l-0.3 0.7M240.4 168.6l0.2 0.6M245.1 168.8l0.7 -0.1M250.5 168.9l-0.1 -0.4M255.6 168.5l-0.4 0.1M260.2 168.6l0.3 -0.3M270.1 167.8l0.2 0.9M284.8 167.8l0.5 0.3M289.9 167.6l0.2 0.4M294.7 167.8l0.5 -0.3M299.7 167.7l0.3 -0.3M304.9 167.6l-0.2 -0.4M310.1 167.5l-0.7 -0.3M320.0 166.9l-0.8 0.4M359.5 166.4l-0.6 -0.5M364.0 166.5l0.3 -0.8M156.5 176.3l0.4 -0.2M161.8 176.2l-0.3 -0.2M181.3 175.4l0.0 0.4M220.7 174.6l0.3 0.2M240.8 174.0l-0.3 0.7M250.4 174.2l0.4 -0.3M260.9 173.8l-0.9 0.0M265.2 173.6l0.4 0.3M270.1 173.7l0.4 -0.1M279.9 173.2l0.6 0.3M285.0 173.2l0.4 0.1M289.9 173.2l0.4 -0.1M294.8 173.2l0.4 -0.4M300.0 173.1l-0.0 -0.4M305.0 173.0l-0.2 -0.3M310.2 172.6l-0.6 0.1M315.0 172.5l-0.4 0.2M320.0 172.4l-0.6 0.1M359.1 171.5l0.4 0.1M364.5 171.5l-0.4 -0.1M156.9 181.8l-0.1 -0.4M162.0 181.2l-0.6 0.6M166.8 181.2l-0.2 0.3M171.8 180.9l-0.5 0.7M191.2 180.4l0.2 0.8M231.2 179.7l-0.6 0.4M235.9 179.5l-0.1 0.6M240.7 179.5l0.1 0.4M245.9 179.5l-0.4 0.0M255.7 179.5l-0.3 -0.3M260.5 179.4l0.1 -0.4M265.3 179.0l0.4 0.1M270.4 179.2l0.1 -0.4M275.2 179.0l0.4 -0.3M280.1 178.8l0.4 -0.0M285.3 178.8l-0.0 -0.4M290.1 178.7l0.2 -0.3M294.9 178.7l0.4 -0.5M300.5 178.3l-0.9 -0.1M305.1 178.4l-0.1 -0.4M364.3 177.1l0.1 -0.6M162.1 186.8l-0.5 0.1M167.2 186.7l-0.8 -0.1M172.0 186.4l-0.5 0.5M196.2 186.0l0.4 0.1M206.2 185.7l0.3 0.2M241.1 185.1l-0.3 -0.2M255.7 185.0l0.1 -0.6M265.8 184.9l-0.3 -0.8M270.8 184.6l-0.5 -0.5M275.3 184.2l0.4 0.0M290.4 184.1l-0.1 -0.4M295.0 184.0l0.6 -0.5M300.3 184.0l-0.3 -0.6M310.2 183.8l-0.3 -0.7M315.3 183.7l-0.5 -0.7M157.4 192.1l-0.6 0.4M162.2 192.0l-0.4 0.3M167.2 192.0l-0.4 0.3M181.6 191.9l0.2 -0.3M191.6 191.1l0.0 0.8M231.4 190.7l-0.5 -0.1M235.8 190.5l0.6 -0.0M241.2 190.7l-0.4 -0.6M260.9 190.1l-0.2 -0.4M275.7 189.9l-0.2 -0.6M280.5 189.9l0.1 -0.7M305.3 189.1l-0.1 -0.4M310.6 189.1l-0.7 -0.5M157.3 197.5l-0.1 0.4M162.3 197.5l-0.4 0.1M167.5 197.3l-0.9 0.3M172.4 197.2l-0.7 0.2M176.9 197.0l0.1 0.4M182.2 197.0l-0.5 0.2M186.9 196.8l-0.2 0.4M191.5 196.9l0.6 0.1M197.1 196.8l-0.7 0.0M201.4 196.5l0.5 0.3M221.1 196.2l0.7 0.1M226.2 196.2l0.3 -0.3M235.8 195.7l0.8 0.4M241.4 196.0l-0.5 -0.4M280.7 195.1l-0.0 -0.5M290.7 195.1l-0.4 -0.9M157.5 203.2l-0.3 -0.4M162.6 202.9l-0.6 0.2M167.5 202.9l-0.5 -0.2M172.4 202.5l-0.5 0.4M177.3 202.5l-0.3 0.3M182.1 202.8l-0.1 -0.7M186.8 202.5l0.3 -0.2M192.2 202.3l-0.5 -0.2M201.6 201.9l0.3 0.2M211.6 202.0l0.0 -0.4M250.9 201.0l0.4 -0.1M261.2 200.9l-0.3 -0.5M290.7 200.5l-0.0 -0.9M305.7 199.9l-0.4 -0.5M162.7 208.4l-0.6 -0.3M167.7 208.2l-0.6 -0.1M197.2 207.3l-0.5 0.5M211.6 206.9l0.4 0.5M216.5 206.8l0.4 0.6M236.3 207.0l0.4 -0.8M241.1 206.3l0.7 0.5M251.0 206.4l0.6 -0.2M261.4 206.0l-0.4 0.2M281.0 205.9l-0.2 -0.6M285.8 205.8l0.1 -0.6M290.9 205.1l-0.3 0.7M300.8 205.3l-0.3 -0.3M306.0 205.2l-0.7 -0.3M167.9 213.8l-0.8 -0.4M191.7 213.0l0.9 -0.0M221.6 212.2l0.4 0.3M226.5 212.4l0.5 -0.4M231.4 212.3l0.5 -0.3M275.9 211.2l0.4 -0.2M285.8 210.7l0.3 0.3M300.4 210.6l0.6 -0.2M162.9 219.4l-0.3 -0.7M207.3 218.0l-0.4 0.2M227.0 217.7l-0.4 -0.2M231.3 217.5l0.9 0.0M271.1 216.8l0.3 -0.5M276.4 216.4l-0.4 0.2M280.9 216.3l0.4 0.2M290.9 215.9l0.1 0.6M295.8 215.6l0.3 0.8M163.1 224.5l-0.4 -0.3M197.2 223.5l0.4 0.3M201.9 223.3l0.8 0.4M212.2 223.5l-0.0 -0.4M227.2 222.5l-0.3 0.9M231.8 222.5l0.2 0.7M271.6 222.0l-0.4 -0.0M275.9 221.6l0.8 0.4M188.0 229.3l-0.7 -0.2M197.7 229.2l-0.4 -0.4M266.3 227.3l0.5 0.2M276.3 227.3l0.4 -0.2M281.2 227.0l0.4 0.3M286.2 226.6l0.3 0.9M177.8 235.0l0.2 -0.4M183.0 234.8l-0.3 -0.3M187.8 234.4l0.0 0.4M192.4 234.1l0.6 0.8M202.3 234.2l0.6 0.2M217.6 234.1l-0.4 -0.3M271.4 232.4l0.5 0.7M276.9 232.6l-0.6 -0.0M286.4 232.0l-0.1 0.8M296.4 231.8l-0.2 0.8M158.5 240.7l-0.3 -0.3M163.7 240.6l-0.8 -0.2M168.3 240.6l-0.1 -0.5M173.2 240.5l-0.1 -0.4M183.0 239.9l-0.0 0.4M192.7 239.6l0.3 0.4M207.4 239.2l0.6 0.5M237.3 238.5l-0.1 0.7M262.1 237.9l-0.5 0.8M286.7 237.6l-0.3 0.3M301.4 237.3l-0.2 0.3M158.3 246.0l0.4 -0.1M163.6 245.8l-0.4 0.1M173.7 245.8l-0.8 -0.3M178.2 245.7l-0.0 -0.4M212.8 244.5l-0.1 0.6M222.4 244.6l0.4 -0.1M267.1 243.4l-0.3 0.3M281.5 243.1l0.4 0.2M159.0 251.0l-0.7 0.6M163.7 251.4l-0.2 -0.3M168.7 251.2l-0.3 -0.2M178.7 251.0l-0.6 -0.1M207.6 250.4l0.7 -0.3M218.1 249.8l-0.7 0.5M223.0 250.3l-0.5 -0.7M272.2 248.7l-0.5 0.4M282.2 248.7l-0.7 -0.1M296.5 248.7l0.2 -0.8M311.4 248.4l0.1 -0.8M159.1 256.8l-0.5 -0.1M163.9 256.6l-0.4 -0.1M168.9 256.4l-0.5 0.1M173.8 256.5l-0.4 -0.2M178.5 256.1l0.0 0.4M183.6 255.9l-0.4 0.5M227.9 255.1l-0.3 0.3M257.5 254.4l-0.3 0.3M262.4 254.5l-0.4 -0.1M266.9 254.4l0.5 -0.1M271.8 254.1l0.6 0.2M277.2 254.2l-0.3 -0.3M282.0 254.2l-0.1 -0.4M306.4 253.8l0.4 -0.8M311.7 253.6l-0.4 -0.6M159.3 262.0l-0.7 0.1M169.0 261.9l-0.4 -0.2M173.9 261.7l-0.4 0.1M198.1 261.2l0.4 0.0M243.0 260.0l-0.7 0.4M267.3 260.0l-0.1 -0.6M272.4 259.6l-0.4 -0.1M277.4 259.4l-0.5 0.2M282.2 259.5l-0.2 -0.4M296.8 258.8l0.0 0.4M306.5 259.0l0.3 -0.3M311.5 258.6l0.2 0.3M159.3 267.3l-0.5 0.2M164.2 267.4l-0.4 -0.2M169.1 267.2l-0.4 0.1M174.0 267.2l-0.4 -0.1M179.0 266.9l-0.5 0.2M183.5 266.7l0.4 0.4M188.3 267.0l0.6 -0.5M242.9 266.0l-0.1 -0.8M248.0 265.7l-0.5 -0.3M252.8 265.2l-0.3 0.4M262.2 265.4l0.6 -0.4M267.3 265.2l0.2 -0.4M287.1 265.0l0.1 -0.7M292.1 264.7l-0.0 -0.4M311.6 263.7l0.2 0.7M164.5 272.7l-0.8 -0.1M169.3 272.5l-0.4 0.1M183.7 272.1l0.3 0.4M233.3 271.5l-0.4 -0.5M252.9 270.9l-0.3 -0.3M257.5 270.5l0.3 0.4M262.2 270.6l0.8 -0.0M267.3 270.6l0.4 -0.3M272.7 270.1l-0.6 0.4M159.2 278.3l0.3 -0.2M169.6 278.1l-0.8 -0.2M174.5 278.1l-0.6 -0.6M178.8 277.9l0.4 -0.4M188.7 277.8l0.4 -0.5M252.8 276.4l0.1 -0.5M257.7 276.2l0.2 -0.4M262.7 276.2l0.1 -0.5M272.6 275.5l-0.0 0.5M282.2 275.8l0.4 -0.6M287.5 275.8l-0.3 -0.9M307.0 274.6l0.1 0.7" fill="none" stroke="#5f8fc6" stroke-width="1.05" stroke-linecap="round" stroke-opacity=".85"/>
<path d="M223.0 77.7l1.9 0.8M248.9 77.6l-2.1 -0.8M253.6 77.6l-0.9 -1.2M287.6 76.6l1.6 -0.8M298.3 76.4l-1.1 -0.9M332.2 75.5l1.8 -0.4M357.6 74.3l-0.1 1.7M154.2 85.4l0.1 -1.5M159.4 85.4l-0.9 -2.0M178.8 84.8l0.8 -1.4M223.4 82.8l1.0 1.9M254.0 82.7l-2.0 -0.4M263.0 82.1l1.2 0.8M282.6 81.9l2.0 -0.0M179.2 90.2l-0.3 -1.7M278.0 87.1l1.2 0.9M337.6 86.4l1.1 -1.5M253.9 92.8l-0.9 2.0M283.2 92.1l0.8 2.0M322.7 91.8l1.5 -0.4M337.4 91.5l2.1 -0.6M159.8 101.5l-0.6 -2.0M164.1 100.9l1.5 -0.1M169.2 101.0l1.0 -0.9M204.0 100.3l0.6 -1.6M239.0 98.5l-0.2 2.1M249.1 98.4l-0.8 1.7M263.8 98.0l-0.4 1.8M278.3 97.9l0.9 1.0M288.2 97.6l0.9 1.1M303.7 97.1l-1.0 1.5M159.5 106.0l0.9 1.1M169.1 106.0l1.8 0.2M194.5 106.0l-0.2 -1.6M249.3 103.8l-1.3 1.4M273.3 103.4l1.5 0.8M328.2 102.8l0.4 -1.5M333.0 102.6l0.8 -1.5M337.9 102.6l1.0 -1.6M342.8 102.2l1.2 -0.8M348.1 102.3l0.1 -1.6M353.1 102.2l-0.1 -1.4M209.3 111.1l0.5 -1.9M224.0 109.9l1.1 0.9M244.5 109.4l-1.3 1.2M254.3 109.0l-0.9 1.6M258.8 109.7l0.8 -1.3M323.3 108.3l0.5 -1.7M347.9 107.7l1.0 -1.4M155.4 116.7l-1.2 1.5M190.1 116.8l-1.3 -1.6M200.2 116.2l-1.9 -0.4M229.0 115.6l1.3 -0.6M233.9 115.1l1.4 0.7M239.8 115.3l-1.6 -0.3M264.0 114.1l0.1 1.8M304.2 113.9l-1.7 -0.8M309.1 113.8l-1.3 -0.9M318.6 113.8l0.0 -1.5M363.4 112.8l-0.8 -1.8M179.4 122.2l2.1 -0.7M194.7 121.2l0.4 1.4M204.2 121.3l1.9 0.2M209.8 121.7l-0.4 -1.4M214.9 120.8l-1.0 1.1M220.1 121.2l-1.9 -0.7M268.8 119.7l1.2 0.7M273.7 119.7l1.4 0.2M304.3 119.3l-1.8 -0.7M328.7 118.9l-0.2 -1.4M333.1 118.8l1.5 -1.6M338.3 118.5l0.8 -1.1M184.8 127.7l0.9 -1.7M190.4 127.4l-1.2 -1.0M205.3 127.1l-1.5 -1.2M229.7 126.7l-0.3 -1.8M254.8 125.6l-1.6 -0.1M278.7 125.2l1.5 -0.6M283.7 124.9l1.5 -0.1M304.3 124.7l-1.1 -1.0M195.6 132.4l-1.7 -0.3M200.5 132.0l-1.7 0.7M205.3 132.4l-1.0 -1.0M250.0 131.5l-1.6 -1.3M264.5 131.1l-0.2 -1.3M324.1 129.8l-0.7 -1.5M160.8 138.2l-0.7 1.1M171.0 138.0l-1.7 0.9M185.5 138.5l-0.7 -2.0M224.6 137.5l1.3 -1.7M244.8 137.1l-0.4 -1.8M264.6 136.5l-0.3 -1.4M269.1 135.7l1.3 1.1M279.0 135.8l1.5 -0.0M363.9 133.6l-1.1 0.7M190.2 143.6l0.6 -1.3M230.3 142.7l-1.1 -1.5M240.2 142.5l-1.1 -1.5M250.1 142.1l-1.0 -1.1M279.2 140.9l1.2 0.8M289.1 140.6l1.0 1.0M309.1 139.9l0.4 1.9M324.2 139.6l-0.5 1.9M328.9 139.6l0.5 1.3M161.3 149.2l-1.6 0.3M175.4 149.2l1.0 -1.1M230.1 148.1l0.3 -1.5M294.2 145.7l1.1 1.7M314.4 145.3l-0.5 1.5M319.4 145.1l-0.8 1.6M324.1 145.0l0.1 1.5M155.7 155.1l1.1 -1.3M166.1 154.9l-0.5 -1.4M175.3 154.4l1.8 -0.3M200.6 154.3l0.0 -2.0M215.9 153.6l-1.7 -0.9M245.1 153.3l0.1 -2.1M265.2 152.6l-1.2 -1.3M270.1 152.4l-1.0 -0.9M319.4 150.6l-0.2 1.4M358.9 149.5l0.1 1.8M165.6 159.8l1.6 0.2M175.5 159.8l1.6 -0.4M195.2 159.0l1.8 0.8M200.4 159.4l1.0 -1.2M211.0 159.3l-1.3 -1.6M226.0 158.8l-1.9 -1.1M245.3 158.4l-0.2 -1.3M255.5 158.2l-1.4 -1.5M259.9 158.1l0.8 -1.4M284.5 156.8l1.1 1.3M294.3 156.6l1.4 1.2M304.7 156.3l-0.5 1.3M314.3 156.0l0.5 1.5M156.3 166.0l0.2 -2.0M185.7 164.3l1.1 1.8M195.4 164.4l1.6 0.7M206.3 164.2l-1.7 0.6M216.1 163.9l-1.4 0.7M225.2 163.5l1.4 1.2M245.5 164.0l-0.7 -1.9M354.1 160.5l0.1 1.6M170.8 170.3l1.9 0.8M176.0 170.1l1.0 1.2M205.9 169.1l0.1 2.2M210.6 169.3l1.0 1.0M230.5 168.7l0.6 1.6M264.9 168.8l1.4 -1.5M279.7 168.1l1.5 -0.4M315.2 167.0l-1.8 0.8M166.4 175.5l0.3 1.6M191.0 174.8l0.8 2.1M201.0 174.7l0.4 1.8M205.9 174.5l0.4 1.8M246.2 174.3l-2.1 -0.4M256.0 174.0l-1.9 -0.2M274.9 173.2l1.2 1.2M201.6 180.1l-1.2 1.5M211.4 180.0l-0.7 1.2M221.2 179.6l-0.6 1.9M310.5 178.1l-1.9 -0.2M315.3 178.2l-1.2 -0.9M157.3 186.9l-1.4 0.2M176.9 186.0l-0.7 1.8M201.7 185.7l-1.2 0.9M221.5 185.0l-1.2 1.8M236.4 185.2l-1.4 -0.2M246.0 185.5l-0.5 -2.0M250.7 185.2l0.4 -1.6M261.0 185.1l-1.1 -1.8M280.2 184.7l0.9 -2.0M284.8 184.3l1.9 -1.1M305.5 183.7l-1.4 -0.4M177.2 191.6l-1.2 0.8M186.7 191.2l0.1 1.6M201.3 190.9l0.8 1.3M206.4 190.8l0.2 1.4M226.6 190.6l-1.5 0.5M245.7 190.7l0.8 -1.3M251.2 190.7l-1.1 -1.7M256.3 190.4l-1.5 -1.1M265.7 190.5l0.2 -2.2M290.5 189.8l-0.3 -1.9M295.4 189.6l-0.1 -1.5M206.4 196.1l0.8 1.6M211.8 196.1l-0.9 1.3M216.1 196.0l1.2 1.1M231.1 196.4l0.5 -1.3M250.7 195.8l1.3 -0.7M275.7 195.6l0.2 -2.1M300.2 194.9l0.9 -1.8M305.7 194.5l-1.2 -0.6M359.3 192.7l1.4 1.2M196.4 202.1l1.5 0.2M206.6 201.5l0.6 1.4M216.2 201.3l1.5 1.3M221.1 201.4l1.4 0.6M226.4 200.9l0.3 2.0M236.3 201.8l0.1 -1.8M241.5 201.5l-0.6 -1.4M245.9 201.3l1.2 -0.9M280.8 200.7l-0.0 -1.5M296.0 200.3l-1.4 -1.3M364.4 197.9l1.0 1.6M158.1 208.6l-2.0 -0.7M177.7 208.2l-1.7 -0.9M206.7 206.8l0.5 1.6M221.5 206.6l0.4 1.3M271.0 206.3l0.1 -1.5M275.7 206.3l0.8 -2.1M295.8 205.7l-0.3 -1.5M158.1 214.2l-1.6 -1.5M163.1 213.9l-1.9 -0.9M182.6 213.6l-1.1 -1.3M187.2 213.5l0.3 -1.5M201.9 212.3l0.7 1.6M216.5 212.1l1.2 1.3M256.3 211.0l0.2 2.0M260.9 211.4l1.4 0.3M271.3 211.7l-0.5 -1.6M290.4 211.0l1.7 -0.7M296.1 210.3l-0.9 1.2M158.2 219.4l-1.3 -0.7M191.7 218.6l2.1 -0.8M197.3 218.6l-0.2 -1.3M202.6 218.5l-1.3 -1.3M211.9 218.4l0.6 -1.6M236.6 216.9l0.4 1.6M246.6 216.6l-0.0 2.0M266.0 216.4l1.1 0.9M285.5 216.6l2.0 -1.1M158.1 224.9l-0.7 -1.5M173.1 224.6l-1.2 -1.6M217.7 223.3l-2.2 -0.3M246.8 222.0l-0.1 1.7M266.1 221.7l1.2 1.2M280.8 221.5l1.5 0.8M285.9 221.3l1.0 1.1M296.1 220.9l-0.2 1.9M158.3 230.2l-0.9 -1.2M163.1 230.1l-0.3 -1.3M168.2 230.0l-0.9 -1.3M173.1 230.1l-0.7 -1.8M192.1 229.1l1.7 -0.0M207.2 228.3l0.8 1.6M212.9 228.6l-2.1 0.3M261.5 227.0l0.5 1.9M271.3 226.9l0.6 1.5M291.2 226.4l0.1 1.8M296.0 226.3l0.6 1.7M158.3 235.6l-0.3 -1.4M163.3 235.6l-0.4 -1.8M173.5 235.1l-1.9 -0.8M227.6 233.5l-1.2 0.7M232.6 233.1l-1.5 1.6M247.3 232.8l-1.0 1.5M266.7 232.3l-0.2 1.8M281.1 232.1l1.3 1.4M197.2 239.7l2.0 0.2M222.0 239.3l1.4 -0.3M252.1 238.0l-0.4 1.7M276.7 237.6l-0.1 1.5M295.9 237.3l1.6 0.9M192.8 244.8l0.6 1.3M207.4 244.4l1.3 1.8M227.8 244.3l-1.2 0.6M252.4 243.4l-0.8 1.6M257.4 243.3l-1.3 1.8M276.4 243.1l1.4 0.8M286.5 242.7l0.4 1.5M291.4 243.4l0.7 -1.2M296.2 242.5l1.1 1.5M301.9 243.2l-1.8 -1.2M306.8 242.9l-1.5 -0.9M173.8 251.4l-1.2 -1.4M183.5 250.2l-0.6 1.9M188.4 250.2l-0.7 1.6M193.4 250.2l-0.9 1.3M197.8 250.1l1.0 1.4M213.3 250.1l-1.5 0.1M227.7 250.2l-0.3 -1.4M242.7 249.7l-1.1 -0.8M257.2 248.6l0.0 1.9M267.0 248.4l0.2 1.8M292.0 248.8l-1.1 -1.4M301.5 248.6l0.1 -1.4M188.3 255.7l0.3 1.4M193.1 255.6l0.6 1.3M197.6 255.8l2.2 0.3M208.4 255.4l-1.2 0.7M213.1 256.1l-0.4 -2.1M247.3 254.4l0.4 1.3M296.3 253.7l1.5 -0.3M301.4 254.0l0.8 -1.7M184.0 261.3l-1.7 0.7M188.1 261.3l1.5 0.5M193.3 260.9l0.2 1.3M218.1 261.4l-0.4 -2.1M233.3 260.7l-1.8 -0.8M237.9 260.8l-0.7 -1.6M252.9 260.0l-1.4 0.1M286.5 259.6l1.6 -1.2M301.3 259.0l1.8 -0.1M193.1 266.9l1.7 -0.9M198.3 267.0l0.7 -1.5M203.5 266.9l-0.3 -1.6M257.7 265.8l-0.5 -1.8M272.9 265.0l-1.9 -0.0M301.5 264.5l1.4 -0.7M306.8 263.6l0.1 2.2M316.8 263.5l-0.5 1.7M159.7 272.4l-1.7 1.3M179.3 272.7l-1.3 -1.1M188.3 272.6l1.4 -1.5M238.5 271.4l-1.8 -1.0M277.1 270.5l1.0 -0.9M282.5 269.7l-0.8 1.3M291.8 270.1l1.2 -0.6M164.7 278.1l-1.5 -0.3M183.5 277.5l1.7 0.3M242.9 276.8l0.4 -1.7M248.4 276.7l-1.6 -1.4M267.8 275.3l-0.7 1.8M291.8 275.6l1.5 -1.0M296.8 275.3l1.5 -0.4M302.0 274.6l0.5 1.6" fill="none" stroke="#74a8d8" stroke-width="1.25" stroke-linecap="round" stroke-opacity=".88"/>
<path d="M158.8 80.1l0.9 -2.1M178.9 79.1l-1.4 -2.2M184.0 79.4l-0.7 -2.5M194.0 78.9l-1.8 -1.9M198.5 79.0l0.9 -2.4M233.8 77.3l-1.7 1.9M273.0 76.7l2.5 0.6M164.2 85.3l-0.3 -2.6M174.0 84.6l0.1 -2.6M199.1 84.2l-1.6 -2.0M228.5 82.9l1.1 2.3M244.2 83.1l-2.5 -0.8M258.1 81.9l1.0 2.2M154.5 90.8l-0.7 -2.5M159.2 90.5l1.1 -2.3M174.1 90.1l0.9 -2.4M184.1 89.8l0.4 -2.6M194.3 89.7l-1.6 -2.0M199.2 89.4l-2.3 -1.3M203.9 89.6l0.0 -2.6M208.5 89.2l2.4 -0.9M213.3 88.5l2.2 1.5M228.6 88.5l2.2 1.4M258.8 87.3l-1.1 2.0M273.0 87.0l1.4 1.9M282.9 86.8l1.6 1.8M155.0 96.2l-1.9 -1.8M159.1 96.2l1.2 -2.1M184.3 95.7l-0.2 -2.6M199.2 95.0l-0.6 -2.5M234.1 93.2l-1.0 2.3M238.8 93.5l-0.3 2.6M249.1 92.9l-1.5 2.1M268.4 92.8l1.7 1.9M278.2 92.2l1.0 2.4M293.3 97.1l0.6 2.5M343.1 96.9l-0.1 -2.6M184.1 106.3l1.4 -2.0M199.7 106.0l-1.1 -2.2M219.1 104.7l1.1 2.4M239.2 104.3l-1.7 2.0M254.5 103.8l-2.3 1.3M263.9 103.2l-0.1 2.5M164.5 110.9l1.0 2.3M169.2 111.1l2.1 1.2M174.2 111.3l2.6 0.1M184.0 111.2l2.4 -0.3M219.3 110.2l1.1 2.4M338.2 108.2l0.2 -2.4M160.1 116.5l-0.3 2.6M174.7 116.1l0.6 2.5M179.4 117.1l1.6 -1.9M214.4 115.7l1.6 2.1M223.7 115.7l2.4 -0.5M159.9 121.8l0.7 2.3M165.1 122.2l0.6 2.5M170.0 122.0l0.9 2.5M174.7 121.8l1.9 1.8M309.4 119.2l-2.1 -0.8M155.3 127.5l0.1 2.6M179.8 127.7l1.5 -2.1M200.6 127.2l-2.3 -1.2M219.4 127.0l1.2 -2.2M239.7 126.6l-0.7 -2.5M249.6 125.7l-2.5 -0.6M319.1 124.3l-2.1 -1.5M338.1 124.0l1.9 -1.3M155.9 132.7l-1.5 2.1M215.3 132.5l-1.5 -2.0M220.0 132.0l-1.5 -2.1M224.9 131.8l-1.0 -2.4M229.9 132.1l-0.6 -2.5M235.2 131.9l-1.8 -1.6M254.9 131.5l-1.4 -2.2M259.8 131.4l-1.2 -2.0M155.8 138.0l-0.6 2.3M165.0 138.1l2.0 1.2M176.1 138.0l-2.4 0.8M205.3 138.1l-0.9 -2.4M239.8 137.0l0.1 -2.6M250.0 137.0l-1.4 -2.2M260.2 136.6l-2.3 -1.2M273.9 135.5l2.1 1.6M170.3 144.0l1.9 -1.8M210.3 143.0l-0.4 -2.6M215.1 143.3l0.3 -2.6M220.2 143.1l-0.4 -2.6M235.0 142.6l-0.2 -2.6M259.8 141.8l-1.0 -2.4M363.0 138.9l2.3 1.0M185.6 148.9l0.1 -2.6M220.3 148.5l-0.1 -2.6M235.2 148.2l-0.5 -2.3M245.5 147.8l-1.7 -1.9M260.2 147.3l-1.9 -1.8M289.3 145.9l1.2 2.3M190.2 154.5l1.6 -2.0M234.8 153.4l1.6 -1.9M240.1 153.0l0.8 -2.5M250.1 153.0l-0.3 -2.6M255.2 153.1l-0.6 -2.2M294.4 151.0l0.9 2.4M299.4 151.3l2.1 1.6M170.9 159.9l2.0 -1.7M205.8 159.2l-1.6 -2.1M220.4 158.9l0.8 -2.5M264.3 157.7l2.4 -0.5M364.0 154.6l-0.2 2.4M176.2 164.4l-0.4 2.6M181.0 164.4l0.4 2.6M210.8 164.1l-0.7 2.5M294.3 161.9l1.9 1.5M195.9 169.7l1.4 2.2M200.9 169.8l2.1 1.5M216.1 168.9l-1.2 2.3M220.7 169.2l0.3 2.6M235.4 168.8l1.5 2.1M274.8 167.5l1.1 2.3M171.3 175.2l0.5 2.6M216.1 174.1l-0.5 2.5M231.0 173.9l-0.8 2.2M186.3 180.3l0.3 2.2M196.2 180.5l1.3 2.3M205.9 180.1l1.6 2.0M226.2 179.8l-1.9 1.8M250.7 179.9l-0.3 -2.6M186.6 185.6l-0.2 2.3M211.4 185.1l-0.3 2.6M231.1 185.1l-0.7 2.5M172.4 191.6l-2.0 1.4M216.5 190.8l-1.6 2.0M221.1 190.2l0.5 2.4M271.0 190.3l-1.2 -2.1M300.3 189.4l-0.2 -2.6M256.2 196.0l-0.9 -2.5M265.9 195.3l0.0 -2.6M270.8 195.8l-0.0 -2.5M295.4 195.1l0.5 -2.5M364.1 192.6l2.0 1.4M266.4 201.2l-1.5 -2.1M270.6 201.1l1.1 -2.2M275.9 200.5l-0.9 -2.4M301.0 199.9l-2.6 -0.5M359.2 198.4l2.6 0.3M172.8 208.5l-1.9 -1.4M182.2 208.1l-0.2 -2.6M187.1 208.2l0.2 -2.6M192.1 208.2l-0.1 -2.6M255.6 206.2l2.6 0.1M359.3 203.5l2.0 1.3M364.7 203.5l1.2 2.3M172.6 213.8l-0.9 -2.5M177.8 213.9l-1.5 -1.9M197.1 213.3l0.0 -2.6M206.9 212.8l1.7 -2.0M212.0 212.6l-2.4 -0.9M236.1 211.6l2.0 1.7M241.3 211.8l2.4 1.0M265.5 211.5l2.5 -0.6M280.8 211.6l0.9 -2.2M359.9 209.0l0.7 2.5M364.6 208.5l1.2 2.0M172.7 218.9l-2.0 -1.7M187.6 219.1l-0.9 -2.4M217.2 217.4l-1.3 2.3M241.4 216.9l1.6 2.1M256.3 216.8l1.8 1.9M261.1 216.4l1.6 2.1M177.7 224.7l-0.4 -2.6M187.4 224.5l0.5 -2.4M192.4 224.4l0.2 -2.3M206.7 223.7l2.3 -1.1M221.4 222.9l2.5 0.7M237.0 222.1l-0.4 2.3M256.3 221.7l1.1 2.3M291.0 221.2l1.1 2.4M182.6 229.7l0.9 -2.5M201.8 228.7l2.3 0.8M222.2 228.9l-0.2 -2.6M227.7 227.9l-2.0 1.4M232.4 227.7l-1.2 1.9M251.8 227.5l0.1 2.6M256.7 227.4l0.0 2.6M207.2 233.9l2.2 1.4M212.1 234.0l2.6 0.5M222.3 234.0l0.4 -2.6M237.3 233.0l-0.8 2.5M290.8 231.8l1.9 1.5M178.6 240.7l-1.8 -1.9M187.7 239.5l1.2 2.3M202.5 239.1l0.9 2.4M212.0 239.1l2.1 1.1M232.2 238.4l0.5 2.5M247.4 238.0l-1.2 2.1M281.9 237.5l-1.9 1.8M291.0 237.1l1.5 2.1M168.7 246.4l-1.4 -2.2M183.4 244.8l-0.9 2.2M188.3 244.6l-0.8 2.5M202.9 244.8l-0.1 2.6M217.6 244.0l0.2 2.3M232.3 244.1l1.1 2.3M271.9 243.4l-1.8 1.9M202.8 249.7l0.8 2.2M232.4 249.4l1.2 2.3M247.8 248.8l-1.7 1.9M252.7 249.0l-2.2 1.5M277.4 248.2l-1.6 1.8M286.6 249.2l0.7 -2.5M306.5 248.4l-0.3 -2.6M203.0 255.4l1.2 2.3M218.0 255.4l-2.6 0.5M233.3 255.3l-2.3 -0.8M237.7 254.8l-0.9 2.5M291.5 254.1l1.9 -1.8M164.5 262.1l-2.4 -0.5M179.0 261.3l-2.0 1.7M203.2 261.1l2.4 -1.0M223.6 260.9l-2.4 -1.0M228.1 261.2l-1.0 -2.4M247.8 260.8l-0.9 -2.3M257.2 260.5l0.9 -2.1M262.9 259.4l-2.0 1.2M291.9 259.8l0.1 -2.6M218.2 266.4l-0.2 -2.6M228.5 266.4l-1.5 -1.7M277.4 265.4l-0.6 -2.5M281.5 264.7l2.3 -0.0M174.6 272.9l-2.0 -1.5M198.2 272.4l1.7 -2.0M203.2 272.1l1.7 -1.9M218.3 272.2l0.0 -2.3M228.3 271.7l-0.7 -2.5M248.1 271.5l-0.9 -2.4M301.6 269.6l2.5 0.7M311.4 268.9l1.7 1.9M316.9 268.7l-0.6 2.2M193.4 277.9l1.6 -1.7M208.5 277.6l0.7 -2.5M213.2 277.5l1.2 -2.3M218.5 277.0l-0.6 -2.5M238.3 276.8l-1.2 -2.3M276.8 275.5l2.5 0.5M311.6 274.4l1.7 1.9M316.9 274.1l-0.2 2.3" fill="none" stroke="#8dbde5" stroke-width="1.25" stroke-linecap="round" stroke-opacity=".88"/>
<path d="M154.1 78.1l0.1 -2.6M164.0 79.4l-0.3 -2.6M173.2 77.9l-1.3 -2.2M187.7 77.6l-1.8 -1.9M216.4 77.9l2.6 -0.3M219.3 78.5l2.2 1.4M237.9 77.5l-2.6 -0.3M242.5 77.1l-2.4 -1.0M278.1 76.6l2.6 0.5M182.5 83.5l-2.3 -1.2M188.7 83.2l-0.5 -2.6M192.2 82.4l-1.9 -1.8M203.8 83.8l-0.1 -2.6M220.5 84.3l2.3 1.1M278.4 82.1l2.2 1.4M164.3 89.9l0.1 -2.6M170.7 88.4l1.8 -1.9M189.0 89.0l-0.2 -2.6M219.7 89.4l2.2 1.4M224.5 88.8l2.5 0.5M241.7 89.2l-2.3 1.1M250.3 88.9l-2.5 0.7M263.7 88.9l0.5 2.5M268.7 87.9l1.7 2.0M169.5 95.1l1.2 -2.3M188.9 92.3l-0.2 -2.6M193.9 93.3l-0.5 -2.5M209.3 94.8l1.3 2.2M214.2 94.6l1.1 2.4M221.1 97.1l1.5 2.1M226.1 96.6l1.7 1.9M229.9 95.2l1.6 2.0M274.2 93.5l1.9 1.8M179.8 99.5l1.0 -2.4M184.7 99.5l0.8 -2.5M194.2 98.3l-0.2 -2.6M197.6 99.1l-2.2 -1.3M209.0 100.1l-1.2 2.3M215.7 101.1l1.9 1.7M219.3 100.9l0.5 2.6M225.3 100.9l1.7 1.9M229.0 99.3l2.5 0.6M234.0 99.2l2.1 1.5M243.8 99.8l-0.1 2.6M258.7 99.0l-0.4 2.6M269.6 100.0l1.3 2.3M174.8 105.9l2.4 -1.0M189.3 104.2l-0.3 -2.6M210.9 107.2l1.6 2.1M215.1 106.1l1.6 2.0M227.5 106.2l2.4 1.0M229.9 106.1l1.3 2.2M234.3 105.0l1.2 2.3M243.9 105.5l-0.2 2.6M279.0 103.9l1.6 2.1M188.5 109.2l-1.3 -2.2M195.2 110.6l2.4 -1.0M214.5 110.6l1.1 2.4M237.8 111.7l-1.5 2.1M248.6 109.9l-2.1 1.6M268.9 109.1l1.5 2.2M165.2 117.3l1.3 2.3M187.3 117.1l2.5 0.6M209.6 115.9l1.0 2.4M248.9 115.0l-2.6 0.0M254.0 115.0l-2.1 1.6M187.5 122.4l2.5 0.5M199.9 121.4l2.0 -1.6M249.0 120.6l-2.0 1.7M252.1 119.9l-2.6 -0.4M258.8 119.9l-2.3 -1.2M160.1 128.7l-0.7 2.5M175.4 127.6l2.0 1.7M210.1 127.7l0.7 2.5M224.7 126.1l1.0 -2.4M244.3 125.9l-2.1 1.5M158.9 135.0l-1.7 2.0M164.6 133.3l-2.4 0.9M173.1 132.5l-2.6 -0.3M185.0 132.1l-0.9 -2.4M190.2 131.4l0.1 -2.6M239.4 131.0l-1.9 -1.8M243.5 130.4l-2.2 -1.4M179.4 136.9l-1.7 -2.0M198.8 136.7l-2.2 -1.5M211.7 134.1l1.2 -2.3M215.2 135.6l0.3 -2.6M220.2 136.0l0.4 -2.6M230.1 136.2l0.8 -2.5M234.7 136.5l-0.8 -2.5M254.4 136.0l-1.5 -2.2M155.7 144.0l-2.6 0.4M180.8 143.0l1.5 -2.1M185.5 143.4l-0.6 -2.5M194.5 141.6l-1.4 -2.2M200.1 142.6l-1.2 -2.3M205.0 142.2l-1.1 -2.4M225.1 139.5l0.1 -2.6M242.6 139.9l-1.9 -1.7M253.4 138.9l-1.2 -2.3M359.2 139.3l2.6 -0.1M180.4 148.3l-1.1 -2.4M190.6 148.6l0.8 -2.5M205.3 147.9l-0.7 -2.5M208.5 145.0l-1.3 -2.2M215.3 147.7l0.0 -2.6M224.8 146.0l-0.6 -2.5M248.9 143.7l-0.8 -2.5M254.8 146.9l-0.9 -2.4M195.8 153.7l2.0 -1.7M205.8 152.8l0.7 -2.5M209.3 152.7l-2.1 -1.5M225.2 152.3l-0.4 -2.6M230.5 151.9l0.5 -2.6M289.8 151.7l2.3 1.2M324.3 151.2l0.4 2.6M186.6 159.8l2.3 1.2M192.1 159.6l2.5 0.6M215.6 158.7l0.6 -2.5M231.1 159.0l2.0 1.6M199.0 165.0l-2.5 0.8M230.6 163.7l-1.9 1.8M235.2 164.3l-0.8 2.5M240.4 163.5l2.5 -0.7M182.7 171.6l1.9 1.7M186.2 170.2l1.7 1.9M191.6 170.4l2.1 1.5M225.7 169.4l-0.1 2.6M176.5 176.9l0.1 2.6M188.2 178.6l1.4 2.2M196.5 175.9l1.1 2.3M212.1 177.2l1.2 2.3M225.8 174.7l-1.1 2.4M235.7 174.5l0.2 2.6M176.7 182.6l0.3 2.6M181.5 181.1l1.2 2.3M216.3 180.6l1.1 2.4M181.6 186.5l-0.5 2.6M191.5 187.0l0.0 2.6M216.1 186.6l-0.4 2.6M226.0 185.6l-1.4 2.2M196.8 191.9l1.1 2.4M211.4 191.2l0.4 2.6M285.5 189.1l-0.2 -2.6M246.1 195.7l-1.3 -2.2M259.7 191.9l-0.8 -2.5M285.6 194.8l0.9 -2.4M310.4 193.8l0.4 -2.6M231.4 201.3l1.9 -1.8M256.1 200.6l0.1 -2.6M286.0 199.4l0.8 -2.5M202.0 206.7l0.5 -2.6M226.7 206.9l2.6 0.4M231.1 206.0l-1.3 -2.2M246.4 206.4l2.4 0.9M266.1 205.1l-0.0 -2.6M246.6 211.9l2.0 1.6M251.9 212.3l1.6 2.0M165.9 216.2l-1.4 -2.2M177.4 217.4l-0.3 -2.6M182.3 217.9l-0.5 -2.6M222.0 217.9l0.9 2.4M252.1 220.6l0.4 2.6M167.8 224.0l-0.1 -2.6M182.6 223.4l0.3 -2.6M241.8 223.1l-0.2 2.6M252.8 223.5l1.9 1.8M261.4 222.1l1.9 1.8M177.7 229.3l-1.2 -2.3M218.4 227.4l1.8 -1.9M237.2 228.9l0.7 2.5M241.9 228.1l0.3 2.6M246.9 228.2l0.3 2.6M168.1 235.0l-1.7 -2.0M198.2 236.2l0.8 2.5M242.1 233.3l-0.7 2.5M252.0 233.7l0.4 2.6M257.2 234.9l0.5 2.6M261.8 232.9l-1.8 1.9M218.2 240.2l1.6 2.0M227.4 239.0l-2.0 1.6M241.5 239.8l-1.4 2.2M256.2 239.7l-1.3 2.3M266.7 238.6l-0.9 2.4M271.3 238.5l-1.7 1.9M197.9 245.1l1.9 1.8M236.8 244.6l-2.1 1.5M242.2 244.5l-0.6 2.5M246.9 244.7l-1.1 2.4M262.0 243.7l-1.3 2.2M237.4 249.9l-0.5 2.6M261.1 249.5l-2.4 1.0M222.8 255.3l-1.4 -2.2M242.6 254.8l-1.6 2.0M251.7 254.9l-2.4 0.9M286.9 253.9l2.1 -1.6M208.7 259.6l0.8 -2.5M213.0 260.7l-1.9 -1.8M208.2 266.0l-0.7 -2.5M213.2 266.3l0.3 -2.6M221.9 264.7l-1.7 -2.0M232.7 265.0l-0.8 -2.5M235.8 264.3l-2.2 -1.5M297.5 263.8l1.7 -1.9M193.7 272.1l0.1 -2.6M208.7 271.0l0.8 -2.5M213.1 270.9l-1.0 -2.4M220.0 269.7l-2.3 -1.2M241.7 269.4l-1.6 -2.1M287.5 269.9l2.4 -0.9M297.0 269.8l2.5 0.6M307.9 270.2l2.2 1.4M198.9 277.1l1.5 -2.1M205.3 275.6l1.9 -1.8M223.2 276.0l-0.4 -2.6M227.9 276.0l-1.2 -2.3M232.2 275.6l-1.9 -1.7" fill="none" stroke="#b4d8f1" stroke-width="1.25" stroke-linecap="round" stroke-opacity=".88"/>
<path d="M164.3 82.0l-0.5 -3.9M180.2 81.1l-2.0 -3.1M184.4 80.9l-0.7 -2.8M195.3 80.3l-2.2 -2.4M198.0 80.5l1.0 -2.7M215.6 76.3l4.7 3.0M234.8 76.2l-1.8 2.0M241.5 78.0l-4.9 -0.6M246.7 78.8l-5.4 -2.2M270.7 76.2l3.6 0.9M275.6 76.1l3.7 0.7M164.3 86.8l-0.3 -2.8M174.0 87.0l0.1 -3.6M189.6 87.6l-1.1 -5.7M200.2 85.7l-2.0 -2.5M203.9 86.4l-0.1 -3.9M227.6 81.2l1.4 2.9M245.3 83.4l-2.3 -0.7M275.9 80.5l3.6 2.4M154.9 92.4l-0.8 -2.9M158.3 92.3l1.4 -3.0M164.1 92.9l0.2 -4.3M173.4 92.1l1.2 -3.2M183.8 92.0l0.5 -3.5M189.3 92.6l-0.4 -4.9M195.4 91.1l-1.9 -2.4M201.0 90.4l-3.0 -1.7M203.9 91.3l0.1 -3.1M206.9 89.8l2.8 -1.1M212.3 87.9l2.1 1.4M215.7 86.9l5.1 3.2M220.6 88.0l5.2 1.1M226.7 87.3l3.0 1.9M266.5 85.4l3.1 3.5M155.9 97.0l-1.8 -1.7M168.0 98.0l2.2 -4.1M184.4 96.9l-0.2 -2.4M199.7 96.9l-0.8 -3.2M207.5 91.8l2.4 4.2M212.7 91.6l2.0 4.2M234.6 92.2l-1.0 2.1M239.1 91.3l-0.4 3.5M249.8 91.9l-1.4 2.0M266.9 91.2l2.3 2.6M271.0 90.5l4.2 3.9M277.7 90.9l1.1 2.5M178.0 103.9l2.4 -5.6M183.3 103.7l1.8 -5.4M210.5 97.1l-2.1 4.2M226.5 98.7l3.7 0.9M231.8 97.7l3.2 2.2M244.0 95.6l-0.2 5.5M259.2 95.7l-0.7 4.6M293.0 95.9l0.6 2.5M343.2 98.9l-0.2 -3.3M172.0 107.0l4.1 -1.6M183.5 107.2l1.3 -1.9M200.2 107.0l-1.0 -2.1M218.2 102.7l1.4 3.2M232.6 101.8l2.3 4.3M240.6 102.6l-2.3 2.7M244.3 100.6l-0.5 6.1M255.6 103.2l-2.2 1.2M263.9 102.1l-0.1 2.3M276.8 101.0l3.0 3.9M164.1 109.9l0.9 2.1M172.6 111.3l2.9 0.1M182.9 111.3l2.3 -0.3M191.6 112.2l4.8 -2.1M213.3 107.9l1.7 3.9M218.3 108.1l1.5 3.3M251.6 107.7l-4.0 3.0M267.5 107.0l2.1 3.2M160.3 115.0l-0.3 2.8M163.4 114.3l2.4 4.1M174.4 114.8l0.6 2.6M178.7 117.9l1.5 -1.8M208.6 113.5l1.4 3.6M213.0 113.8l2.2 2.9M222.7 115.9l2.3 -0.5M252.1 114.9l-4.6 0.1M256.4 113.1l-3.5 2.6M164.5 120.0l0.9 3.5M169.3 119.9l1.2 3.4M173.4 120.6l2.3 2.1M197.7 123.2l3.2 -2.6M251.6 118.4l-3.5 2.9M262.0 121.5l-4.4 -2.2M155.2 125.7l0.2 3.2M161.2 124.4l-1.5 5.6M172.9 125.6l3.5 2.9M178.9 129.0l1.7 -2.4M201.6 127.7l-2.2 -1.1M208.9 123.0l1.6 5.9M218.8 128.0l1.2 -2.1M223.7 128.8l1.6 -3.9M240.1 127.7l-0.7 -2.3M246.8 124.2l-3.5 2.5M251.8 126.3l-3.5 -0.8M320.6 125.4l-2.6 -1.8M156.6 131.7l-1.5 2.1M168.6 131.9l-5.3 1.9M186.3 135.5l-1.7 -4.5M190.0 136.1l0.2 -6.0M216.0 133.3l-1.4 -1.8M221.2 133.7l-1.9 -2.8M225.7 133.9l-1.3 -3.4M230.2 133.5l-0.7 -2.7M241.8 133.4l-3.3 -3.2M255.5 132.6l-1.4 -2.2M177.2 137.6l-2.2 0.7M205.8 139.3l-0.9 -2.5M228.9 140.1l1.6 -5.2M235.8 139.5l-1.4 -4.2M239.7 138.9l0.1 -3.2M250.7 138.1l-1.4 -2.2M256.3 138.8l-2.6 -3.8M261.2 137.1l-2.2 -1.2M272.9 134.7l2.0 1.6M158.4 143.6l-4.1 0.6M169.1 145.1l2.1 -2.0M178.8 146.0l2.8 -4.0M186.1 145.8l-0.9 -3.6M201.7 145.7l-2.1 -4.2M206.6 145.9l-2.2 -4.8M210.6 145.0l-0.6 -3.3M214.9 144.5l0.3 -2.5M220.4 144.5l-0.4 -2.8M235.1 144.3l-0.2 -3.0M260.7 143.8l-1.4 -3.2M355.6 139.4l4.9 -0.2M362.0 138.5l2.1 0.9M181.9 151.6l-2.0 -4.5M185.5 151.1l0.1 -3.5M189.8 151.0l1.2 -3.7M206.1 151.1l-1.2 -4.4M215.3 150.9l0.0 -4.6M220.3 149.8l-0.1 -2.6M246.2 148.6l-1.6 -1.7M255.9 149.6l-1.5 -3.9M261.4 148.4l-2.2 -2.0M288.5 144.4l1.4 2.7M189.5 155.4l1.6 -1.9M193.5 155.7l3.3 -2.9M204.6 156.9l1.6 -5.3M225.8 156.5l-0.8 -5.5M234.1 154.2l1.5 -1.7M239.4 155.1l1.1 -3.4M250.3 154.8l-0.4 -3.1M287.2 150.4l3.7 1.8M293.8 149.6l1.0 2.6M297.6 150.0l2.7 2.1M323.9 148.0l0.6 4.5M169.2 161.3l2.6 -2.3M182.8 157.8l5.0 2.6M207.1 160.8l-2.0 -2.7M215.0 161.4l0.9 -4.0M219.8 160.8l1.0 -3.1M227.7 156.2l4.4 3.6M263.3 157.9l2.3 -0.4M176.4 163.1l-0.4 2.6M180.7 162.8l0.5 2.9M211.4 161.9l-1.0 3.5M232.3 162.0l-2.7 2.6M236.5 160.5l-1.6 5.1M237.9 164.2l3.8 -1.0M184.4 168.2l2.6 2.9M188.5 168.1l4.2 3.1M194.8 168.0l1.8 2.8M199.0 168.4l3.0 2.2M216.7 167.8l-1.1 2.3M220.5 167.0l0.4 3.5M225.9 166.5l-0.2 4.3M234.3 167.1l1.9 2.7M274.3 166.5l1.1 2.1M171.1 174.0l0.4 2.5M176.3 172.0l0.3 6.1M194.8 172.3l2.3 4.7M216.3 173.0l-0.5 2.4M227.0 172.2l-1.7 3.7M235.5 171.7l0.3 4.2M180.3 178.6l1.8 3.6M195.1 178.5l1.8 3.1M204.8 178.7l1.9 2.4M214.8 177.4l2.0 4.4M227.7 178.4l-2.4 2.3M250.9 181.5l-0.3 -2.8M182.1 183.7l-0.8 4.0M191.5 182.7l0.1 5.7M211.5 183.8l-0.3 2.6M216.8 182.0l-0.9 5.8M227.6 182.9l-2.3 3.8M231.7 182.9l-1.1 3.5M195.3 188.6l2.0 4.5M211.0 188.4l0.6 4.0M217.8 189.1l-2.2 2.8M285.7 192.2l-0.3 -4.4M300.5 191.3l-0.2 -3.1M247.4 197.9l-1.9 -3.3M256.6 197.3l-0.9 -2.5M265.8 197.7l0.1 -3.7M270.8 196.9l-0.0 -2.3M284.7 197.2l1.4 -3.7M295.1 196.5l0.5 -2.6M309.8 197.2l0.7 -4.7M229.5 203.2l2.9 -2.7M256.0 203.7l0.1 -4.4M267.1 202.1l-1.4 -2.0M270.1 202.0l1.0 -2.0M276.7 202.6l-1.2 -3.3M284.7 203.4l1.6 -5.3M302.7 200.2l-3.0 -0.6M357.8 198.2l2.7 0.3M182.4 210.2l-0.3 -3.4M186.9 209.9l0.2 -2.9M192.1 209.6l-0.1 -2.7M201.3 210.7l0.9 -5.2M223.9 206.4l4.1 0.6M233.3 209.7l-2.9 -4.8M243.9 205.5l3.8 1.4M254.2 206.1l2.7 0.1M266.2 209.4l-0.1 -5.6M363.8 201.6l1.5 3.1M173.2 215.5l-1.0 -2.9M197.1 215.0l0.1 -3.0M205.4 214.5l2.3 -2.7M214.3 213.4l-3.5 -1.3M235.1 210.7l2.0 1.7M239.3 210.9l3.2 1.4M244.3 210.0l3.3 2.7M249.3 209.0l3.4 4.3M264.4 211.8l2.4 -0.6M359.3 206.9l1.0 3.4M174.4 220.4l-2.7 -2.4M183.1 221.8l-1.0 -5.2M188.0 220.3l-0.9 -2.4M218.0 216.0l-1.4 2.6M220.9 215.0l1.5 4.1M240.3 215.6l1.8 2.4M254.8 215.2l2.5 2.6M260.2 215.2l1.7 2.2M167.9 227.2l-0.2 -4.5M177.9 226.0l-0.4 -2.6M182.3 227.1l0.5 -5.0M205.5 224.2l2.4 -1.1M220.2 222.5l2.5 0.7M242.0 219.6l-0.4 4.8M255.7 220.5l1.1 2.4M259.7 220.5l2.7 2.5M290.2 219.5l1.3 2.9M179.1 231.8l-2.0 -3.7M182.0 231.4l1.0 -2.8M200.8 228.3l2.2 0.7M222.3 230.6l-0.2 -3.0M236.1 224.8l1.4 5.4M241.6 225.3l0.5 4.1M246.6 225.0l0.5 4.6M251.7 225.4l0.1 3.4M256.7 225.3l0.0 3.4M169.7 237.0l-2.5 -3.0M205.6 232.9l2.7 1.8M210.3 233.6l3.1 0.6M222.0 236.2l0.5 -3.6M237.8 231.5l-0.9 2.8M242.7 230.9l-1.0 3.6M251.4 230.0l0.8 5.0M263.6 231.1l-2.7 2.8M179.4 241.5l-1.7 -1.8M187.0 238.1l1.3 2.5M202.0 237.7l1.0 2.6M215.2 236.4l3.9 4.8M229.4 237.5l-3.0 2.4M231.9 236.9l0.6 2.8M267.8 235.4l-1.6 4.4M273.8 235.7l-3.4 3.8M283.1 236.4l-2.1 2.1M290.4 236.1l1.4 2.0M169.3 247.3l-1.3 -2.0M188.7 243.5l-0.8 2.3M196.1 243.3l2.8 2.7M203.0 242.6l-0.2 3.6M231.4 242.3l1.4 3.0M240.0 242.3l-4.3 3.1M243.0 241.2l-1.1 4.5M248.6 241.0l-2.3 4.8M263.3 241.4l-2.0 3.4M273.5 241.6l-2.5 2.7M231.5 247.7l1.5 2.9M238.0 246.8l-0.8 4.4M248.5 248.0l-1.6 1.8M254.0 248.1l-2.5 1.7M265.6 247.6l-5.7 2.3M286.3 250.4l0.7 -2.5M306.7 250.4l-0.4 -3.3M202.1 253.7l1.5 2.8M220.3 254.9l-3.6 0.7M224.3 257.5l-2.2 -3.4M238.4 252.6l-1.2 3.4M244.1 252.8l-2.4 3.0M255.5 253.4l-4.9 1.9M284.8 255.5l3.2 -2.4M290.3 255.3l2.2 -2.1M180.3 260.3l-2.3 1.9M201.0 262.1l3.4 -1.4M215.2 262.8l-3.2 -2.9M224.8 261.4l-2.4 -1.0M228.6 262.3l-0.9 -2.3M291.9 261.0l0.1 -2.5M209.1 269.2l-1.1 -4.4M212.9 268.8l0.5 -3.9M218.3 268.5l-0.3 -3.4M234.0 269.2l-1.8 -5.4M277.7 266.9l-0.7 -2.7M294.7 266.9l3.6 -4.1M175.4 273.5l-1.9 -1.4M193.6 274.6l0.2 -3.7M197.3 273.4l1.7 -2.0M202.1 273.4l2.1 -2.3M207.4 275.0l1.7 -5.3M214.7 274.8l-2.1 -5.1M228.7 273.4l-0.8 -2.9M248.5 272.7l-0.9 -2.4M284.5 271.0l4.3 -1.6M294.6 269.2l3.7 0.8M299.8 269.1l3.1 0.9M303.8 267.5l5.2 3.4M310.7 268.1l1.5 1.8M197.0 279.7l2.6 -3.7M208.0 279.1l0.8 -2.8M212.6 278.8l1.3 -2.4M219.0 279.3l-0.9 -3.6M223.9 280.1l-0.9 -5.4M229.8 279.7l-2.5 -4.8M239.1 278.4l-1.5 -2.8M275.6 275.2l2.5 0.5M310.6 273.3l1.9 2.1" fill="none" stroke="#f2f8fb" stroke-width=".75" stroke-opacity=".85"/>
<path d="M153.8 83.7l0.4 -6.8M176.0 82.6l-3.5 -5.8M191.7 81.9l-4.9 -5.3M208.2 78.7l9.4 -0.9M187.7 86.3l-6.4 -3.4M197.5 87.5l-6.2 -6.0M214.6 81.4l7.1 3.5M165.9 93.4l5.8 -6.0M247.9 86.1l-7.3 3.6M259.3 86.4l-10.2 2.8M262.7 84.0l1.3 6.2M189.7 100.1l-0.9 -9.1M195.0 98.7l-1.4 -6.7M215.3 89.1l6.6 9.1M220.0 89.6l7.0 7.9M226.2 90.7l4.4 5.5M194.6 104.5l-0.5 -7.5M203.1 102.3l-6.6 -3.9M210.6 96.5l6.0 5.5M218.4 95.7l1.2 6.5M221.0 96.1l5.2 5.8M266.5 94.5l3.8 6.6M190.0 109.6l-0.9 -6.6M206.1 101.0l5.6 7.2M211.8 102.0l4.1 5.1M218.4 102.4l10.4 4.2M227.0 101.1l3.6 6.1M192.0 115.0l-4.1 -6.8M242.0 105.8l-4.9 6.9M179.8 115.3l8.8 2.1M179.8 120.8l9.0 1.8M259.1 120.9l-8.3 -1.2M163.6 129.4l-5.5 6.6M180.1 133.4l-8.2 -1.0M247.9 133.4l-5.5 -3.7M183.0 141.2l-4.4 -5.2M203.7 140.0l-6.0 -4.0M207.3 143.0l5.0 -10.0M214.5 141.5l0.9 -7.1M219.4 140.9l1.0 -6.2M197.6 146.8l-3.9 -6.3M225.0 147.9l0.2 -9.7M249.0 145.7l-7.4 -6.6M257.3 146.9l-4.5 -9.2M213.6 153.5l-5.8 -9.6M226.2 152.1l-1.6 -7.4M251.8 153.2l-3.3 -10.7M213.8 155.8l-5.5 -3.8M229.6 156.7l1.1 -6.1M187.0 158.5l6.5 1.4M205.2 163.1l-7.5 2.4M177.8 167.2l5.8 5.3M183.0 170.2l5.9 9.5M208.7 170.4l4.0 7.9M176.0 177.0l0.9 6.9M262.9 201.2l-3.6 -10.6M170.8 223.8l-5.7 -8.6M177.9 222.6l-0.7 -6.5M250.6 210.9l1.7 11.1M248.7 219.5l5.0 4.9M214.3 231.6l5.1 -5.2M196.3 230.0l2.3 7.4M256.0 228.6l1.5 7.5M244.2 235.5l-3.4 5.3M259.0 234.9l-3.4 6.0M206.9 264.8l2.2 -6.4M226.0 269.3l-4.9 -5.6M242.1 268.6l-7.3 -5.0M228.7 274.3l-9.9 -5.3M245.7 274.7l-4.8 -6.4M200.2 280.6l6.0 -5.9M236.1 279.2l-4.9 -4.4" fill="none" stroke="#fffce0" stroke-width=".85" stroke-opacity=".95"/>
<use href="#grid"/>
</g>
<rect x="150.5" y="73.5" width="219" height="207.8" fill="none" stroke="#000" stroke-width="1.1"/>
<text x="150.9" y="62.6" font-size="13.89" text-anchor="middle">112.5°E</text>
<text x="157.1" y="298.7" font-size="13.89" text-anchor="middle">112.5°E</text>
<text x="213.5" y="62.6" font-size="13.89" text-anchor="middle">113°E</text>
<text x="219.2" y="298.7" font-size="13.89" text-anchor="middle">113°E</text>
<text x="276.1" y="62.6" font-size="13.89" text-anchor="middle">113.5°E</text>
<text x="281.2" y="298.7" font-size="13.89" text-anchor="middle">113.5°E</text>
<text x="338.7" y="62.6" font-size="13.89" text-anchor="middle">114°E</text>
<text x="343.3" y="298.7" font-size="13.89" text-anchor="middle">114°E</text>
<text x="142.9" y="97.1" font-size="13.89" text-anchor="end">21.6°S</text>
<text x="142.9" y="123.8" font-size="13.89" text-anchor="end">21.8°S</text>
<text x="142.9" y="150.4" font-size="13.89" text-anchor="end">22°S</text>
<text x="142.9" y="177.1" font-size="13.89" text-anchor="end">22.2°S</text>
<text x="142.9" y="203.7" font-size="13.89" text-anchor="end">22.4°S</text>
<text x="142.9" y="230.4" font-size="13.89" text-anchor="end">22.6°S</text>
<text x="142.9" y="257.1" font-size="13.89" text-anchor="end">22.8°S</text>
<text x="142.9" y="283.7" font-size="13.89" text-anchor="end">23°S</text>
<rect x="383.5" y="125.5" width="5.1" height="103.9" fill="url(#cb)" stroke="#000" stroke-width="1.1"/>
<path d="M389.1 125.50h4.8" stroke="#000" stroke-width="1.1"/>
<text x="398.4" y="130.0" font-size="13.89" letter-spacing="-.55">1.0</text>
<path d="M389.1 177.45h4.8" stroke="#000" stroke-width="1.1"/>
<text x="398.4" y="182.4" font-size="13.89" letter-spacing="-.55">0.5</text>
<path d="M389.1 229.40h4.8" stroke="#000" stroke-width="1.1"/>
<text x="398.4" y="234.9" font-size="13.89" letter-spacing="-.55">0.0</text>
</g>
<g transform="translate(0 252)">
<g clip-path="url(#cp)">
<rect x="150" y="73" width="220" height="209" fill="#97b6e1"/>
<use href="#heat"/>
<path d="M181 279.8H214.5V278.75H249V277.7H295V276.8H325V283H181z" fill="#97b6e1"/>
<use href="#land"/>
<path d="M153.9 79.9l0.2 -0.5M168.9 79.6l0.1 -0.6M183.7 79.1l0.2 -0.3M193.4 78.8l0.6 -0.2M208.7 78.5l-0.1 -0.4M213.7 78.4l-0.2 -0.4M223.5 78.1l0.1 -0.4M238.6 77.4l-0.3 0.4M243.6 77.1l-0.5 0.7M248.1 77.2l0.5 0.4M253.3 77.0l-0.1 0.5M287.8 76.3l0.5 0.2M297.7 75.9l0.6 0.6M302.5 75.9l0.8 0.3M308.0 75.6l-0.1 0.6M313.0 75.5l-0.3 0.6M318.1 75.3l-0.6 0.7M322.6 75.6l0.4 -0.1M328.0 75.6l-0.4 -0.2M332.9 75.5l-0.3 -0.3M337.6 75.5l0.1 -0.6M342.6 75.4l0.2 -0.7M352.6 75.1l0.0 -0.4M357.4 74.6l0.3 0.2M362.5 74.4l0.1 0.5M154.5 85.3l-0.7 -0.7M159.0 85.2l0.4 -0.6M184.1 84.6l-0.2 -0.8M198.6 83.7l0.5 0.4M208.7 83.9l0.1 -0.4M238.5 82.7l-0.0 0.5M243.1 82.8l0.7 0.2M253.7 82.5l-0.6 0.3M258.6 82.2l-0.5 0.5M268.3 81.9l0.0 0.6M287.8 81.6l0.8 0.4M303.0 81.1l0.0 0.6M308.2 81.4l-0.4 -0.3M312.8 81.3l0.4 -0.2M318.1 80.9l-0.3 0.3M323.1 81.1l-0.4 -0.3M328.1 81.0l-0.4 -0.3M333.2 80.8l-0.8 -0.2M337.7 80.8l0.2 -0.4M342.8 80.7l-0.0 -0.4M347.5 80.8l0.3 -0.8M352.8 80.5l-0.2 -0.5M357.6 80.3l-0.0 -0.4M362.6 80.2l-0.1 -0.4M154.7 90.1l-0.7 0.4M188.8 89.8l0.6 -0.5M193.6 89.2l0.8 0.4M198.7 89.1l0.5 0.4M209.1 89.2l-0.5 -0.3M223.6 88.6l0.3 0.2M238.5 88.6l0.2 -0.5M243.6 88.4l0.1 -0.4M248.5 88.6l0.1 -0.9M258.4 88.0l0.2 -0.3M263.7 87.8l-0.5 -0.0M273.3 87.1l0.2 0.7M288.0 87.1l0.6 0.1M297.9 87.0l0.6 -0.2M313.1 86.9l-0.1 -0.6M323.1 86.6l-0.2 -0.6M328.1 86.4l-0.2 -0.4M333.1 86.2l-0.4 -0.2M337.8 86.3l0.3 -0.7M342.9 86.1l-0.1 -0.5M352.8 85.9l0.0 -0.5M362.5 85.3l0.5 0.1M154.8 95.9l-0.6 -0.5M159.5 95.8l-0.0 -0.4M164.4 95.9l-0.1 -0.8M174.4 95.6l-0.2 -0.8M179.3 95.6l-0.0 -0.9M184.2 95.2l-0.0 -0.5M189.4 94.9l-0.4 -0.1M194.3 95.0l-0.3 -0.4M198.9 94.3l0.3 0.8M204.2 94.3l-0.3 0.5M224.3 94.0l-0.7 0.2M239.1 93.6l-0.7 0.3M268.2 92.7l0.6 0.6M273.3 92.8l0.4 0.1M278.7 92.8l-0.4 0.0M288.1 92.2l0.5 0.6M293.0 92.5l0.8 -0.1M298.2 92.5l0.2 -0.3M303.3 92.5l-0.0 -0.6M308.3 92.3l-0.2 -0.5M323.2 91.9l-0.1 -0.5M333.2 91.8l-0.3 -0.6M338.1 91.8l-0.3 -0.8M342.7 91.5l0.5 -0.5M353.1 91.4l-0.4 -0.8M363.0 90.9l-0.4 -0.3M159.5 100.8l0.2 0.3M169.9 100.8l-0.8 -0.2M174.5 101.1l-0.0 -0.9M183.9 100.3l0.9 0.1M189.3 100.4l0.1 -0.4M194.2 100.5l0.2 -0.7M209.3 100.2l-0.2 -0.8M214.2 99.4l-0.2 0.5M219.4 99.6l-0.7 -0.0M278.8 98.2l-0.4 -0.1M283.4 97.9l0.2 0.3M288.3 97.8l0.4 0.3M293.5 97.6l-0.0 0.4M298.1 97.6l0.7 0.1M303.4 97.8l-0.0 -0.5M338.1 96.9l-0.0 -0.4M343.1 96.9l-0.2 -0.5M347.9 96.7l0.2 -0.3M352.9 96.2l0.2 0.4M357.9 96.5l0.1 -0.4M363.1 96.2l-0.4 -0.1M159.8 106.5l-0.2 -0.4M164.4 106.2l0.6 -0.1M169.8 105.9l-0.2 0.4M174.4 106.1l0.3 -0.2M179.4 105.7l0.3 0.2M184.2 106.0l0.5 -0.5M194.5 105.9l-0.1 -0.8M199.2 105.5l0.4 -0.1M204.0 105.1l0.7 0.4M213.9 105.3l0.6 -0.6M278.9 103.6l-0.4 -0.2M283.6 103.6l0.2 -0.4M288.5 103.1l0.3 0.4M293.5 102.8l0.2 0.7M298.4 102.9l0.3 0.2M303.3 103.0l0.3 -0.2M308.4 103.1l0.2 -0.5M313.5 102.9l-0.1 -0.4M318.3 102.9l0.1 -0.7M338.4 102.3l-0.4 -0.4M343.2 102.2l-0.2 -0.4M348.1 102.1l0.1 -0.4M353.0 102.0l0.2 -0.5M358.2 101.8l-0.3 -0.4M362.8 101.5l0.4 -0.0M155.0 111.6l-0.2 0.4M159.9 111.5l-0.1 0.4M165.0 111.5l-0.4 0.2M170.0 111.1l-0.5 0.7M174.7 110.9l0.1 0.8M179.6 111.6l0.3 -0.7M184.5 111.0l0.3 0.3M189.3 111.2l0.5 -0.5M194.7 111.0l-0.2 -0.3M204.6 110.7l-0.4 -0.2M258.8 109.7l0.5 -0.6M263.9 109.4l0.0 -0.4M268.9 109.5l-0.0 -0.7M273.6 109.0l0.5 0.0M279.2 109.2l-0.7 -0.6M284.1 108.7l-0.6 0.1M288.8 108.5l-0.1 0.4M293.9 108.5l-0.4 -0.0M298.5 108.3l0.2 0.3M303.5 108.0l0.3 0.6M308.4 108.1l0.3 0.3M313.5 107.9l-0.0 0.4M318.6 108.1l-0.2 -0.3M323.7 108.1l-0.5 -0.5M343.5 107.4l-0.5 -0.0M348.3 107.5l-0.1 -0.4M353.2 107.3l0.0 -0.4M358.1 107.2l0.1 -0.4M363.2 107.1l-0.2 -0.4M155.2 117.5l-0.3 -0.7M160.1 117.3l-0.1 -0.6M170.1 116.6l-0.4 0.4M179.6 116.5l0.4 0.2M184.4 116.4l0.7 0.1M199.9 116.2l-0.4 -0.2M214.4 116.2l0.2 -0.8M224.6 115.6l-0.3 -0.2M244.1 115.1l0.4 -0.1M248.8 114.9l0.8 0.1M253.8 115.2l0.6 -0.6M264.4 114.4l-0.6 0.4M269.3 114.3l-0.6 0.3M283.9 113.9l-0.0 0.4M289.1 114.1l-0.4 -0.1M294.0 113.7l-0.4 0.3M298.9 113.5l-0.2 0.5M304.1 113.4l-0.8 0.5M313.8 113.2l-0.3 0.5M318.8 113.6l-0.4 -0.5M333.6 113.4l-0.3 -0.8M338.5 113.1l-0.1 -0.5M348.2 112.9l0.3 -0.5M353.0 112.6l0.5 -0.2M363.0 112.4l0.3 -0.2M160.4 122.5l-0.5 -0.2M170.0 121.9l0.0 0.5M174.6 122.0l0.9 0.1M179.9 121.8l0.2 0.4M184.7 121.9l0.5 -0.1M189.6 121.9l0.6 -0.4M194.7 121.8l0.2 -0.4M200.0 121.6l-0.4 -0.2M204.8 121.1l-0.1 0.7M209.5 121.4l0.3 -0.2M234.6 121.0l-0.2 -0.5M244.6 120.4l-0.4 0.1M249.2 120.0l0.2 0.7M254.3 120.0l0.0 0.4M264.2 119.5l-0.1 0.9M269.3 119.6l-0.3 0.6M274.3 119.6l-0.4 0.4M279.2 119.5l-0.3 0.3M284.2 119.6l-0.3 -0.2M289.1 119.3l-0.4 0.2M294.2 119.3l-0.5 -0.0M299.1 119.0l-0.4 0.3M304.0 118.8l-0.4 0.4M313.8 118.6l-0.2 0.4M318.5 118.6l0.4 0.3M323.8 118.8l-0.3 -0.5M328.9 118.7l-0.6 -0.4M338.8 118.6l-0.5 -0.7M343.8 118.4l-0.6 -0.5M155.5 128.0l-0.4 -0.2M160.5 127.8l-0.4 -0.1M209.8 126.3l-0.0 0.7M224.4 126.2l0.6 0.1M244.4 126.0l0.3 -0.3M249.4 125.5l0.1 0.4M269.2 124.9l0.2 0.7M273.9 124.9l0.7 0.4M279.4 125.1l-0.4 -0.1M284.2 124.7l-0.2 0.3M294.4 124.7l-0.8 -0.2M299.3 124.5l-0.7 0.1M303.8 124.0l0.2 0.8M309.0 124.2l-0.3 0.3M313.8 124.0l0.1 0.4M319.0 124.0l-0.3 0.2M323.9 123.9l-0.4 0.1M329.0 124.2l-0.6 -0.6M338.8 123.8l-0.3 -0.4M363.3 123.2l0.2 -0.3M160.6 133.4l-0.2 -0.6M254.8 131.0l-0.5 -0.1M269.2 130.4l0.4 0.4M274.2 130.3l0.3 0.3M279.5 130.1l-0.4 0.7M284.2 130.5l0.1 -0.4M289.5 130.3l-0.7 -0.2M294.0 130.1l0.4 -0.2M299.3 129.9l-0.5 0.1M304.2 129.7l-0.4 0.1M314.0 129.4l-0.1 0.4M323.8 129.1l0.0 0.5M329.0 129.4l-0.3 -0.3M333.7 129.3l0.2 -0.4M363.2 128.5l0.5 -0.2M155.7 138.8l-0.2 -0.4M165.7 138.3l-0.4 0.2M215.1 137.0l-0.0 0.6M239.7 137.1l0.1 -0.9M259.5 136.7l0.1 -0.9M264.3 136.1l0.4 -0.0M269.3 136.0l0.4 0.0M274.4 135.7l0.1 0.4M284.3 135.8l0.0 -0.4M289.2 135.7l0.1 -0.4M294.5 135.4l-0.5 0.1M299.1 135.1l0.2 0.4M304.4 135.0l-0.5 0.4M309.1 134.9l0.0 0.4M329.1 134.2l-0.3 0.8M358.4 133.9l0.4 -0.0M363.4 133.6l0.3 0.3M160.8 144.1l-0.1 -0.4M235.0 141.9l-0.1 0.4M240.0 142.4l-0.2 -0.8M279.5 140.9l0.1 0.4M284.5 140.8l0.0 0.4M289.5 140.7l-0.2 0.3M294.2 140.5l0.4 0.6M299.1 140.4l0.5 0.6M309.4 140.2l-0.3 0.4M314.1 139.9l0.2 0.9M324.1 139.7l-0.1 0.9M329.1 139.6l-0.1 0.7M358.6 139.6l0.3 -0.6M363.4 139.2l0.5 0.1M215.3 147.5l-0.0 0.9M225.1 147.4l0.1 0.8M230.1 147.3l0.1 0.7M234.9 147.7l0.4 -0.3M239.9 147.8l0.3 -0.7M250.1 147.6l-0.3 -0.8M265.0 147.2l-0.4 -0.8M269.8 146.9l-0.1 -0.4M274.5 146.3l0.3 0.7M279.5 146.2l0.2 0.6M284.5 146.2l0.3 0.5M358.6 144.9l0.5 -0.5M155.7 154.5l0.8 0.4M160.8 154.5l0.4 0.2M166.1 154.2l-0.2 0.6M170.8 154.3l0.3 0.3M181.1 154.4l-0.6 -0.4M205.6 153.4l-0.1 0.4M210.1 153.4l0.8 0.3M220.7 153.4l-0.6 -0.3M230.7 153.0l-0.9 0.1M235.0 152.6l0.4 0.6M240.1 153.1l0.0 -0.6M264.9 152.5l0.0 -0.6M274.6 152.0l0.4 -0.1M284.4 151.6l0.5 0.4M289.4 151.3l0.4 0.7M294.3 151.3l0.6 0.5M314.5 150.6l-0.3 0.9M358.9 150.4l-0.0 -0.7M363.7 150.1l0.4 -0.3M160.9 160.1l0.5 -0.2M176.0 159.8l-0.1 -0.4M185.8 159.2l0.1 0.4M215.2 158.5l0.7 0.5M240.6 157.9l-0.7 0.4M250.2 158.1l-0.0 -0.4M260.2 157.9l-0.3 -0.5M269.9 157.7l0.1 -0.4M275.0 157.6l-0.1 -0.4M279.7 157.4l0.3 -0.2M284.7 157.0l0.2 0.4M294.7 156.5l0.0 0.8M304.7 156.5l-0.2 0.4M309.5 156.1l0.1 0.9M314.4 156.3l0.1 0.4M319.4 155.9l0.1 0.8M324.3 155.8l0.2 0.8M215.8 163.7l-0.2 0.9M225.9 163.9l-0.6 -0.1M231.0 163.8l-0.9 -0.1M269.9 163.2l0.4 -0.7M274.8 163.1l0.5 -0.7M279.6 162.7l0.7 -0.1M284.8 162.6l0.3 -0.2M289.6 162.2l0.6 0.5M294.7 161.9l0.2 0.8M299.6 161.8l0.3 0.8M309.9 161.6l-0.5 0.7M319.3 161.8l0.4 -0.1M354.0 161.3l0.4 -0.8M186.3 170.0l-0.3 0.2M190.9 170.1l0.4 -0.2M195.8 169.7l0.5 0.4M216.0 169.7l-0.5 -0.5M221.0 169.3l-0.5 0.1M225.5 169.4l0.5 -0.3M245.6 169.0l-0.2 -0.5M255.7 168.7l-0.6 -0.3M279.9 168.2l0.4 -0.4M284.8 167.9l0.4 0.0M294.6 167.8l0.6 -0.2M299.7 167.4l0.3 0.2M304.7 167.3l0.3 0.3M309.9 167.2l-0.3 0.3M314.9 167.1l-0.4 0.3M319.8 166.9l-0.3 0.3M156.4 176.2l0.6 -0.0M161.3 176.4l0.5 -0.7M181.2 175.8l0.3 -0.3M186.4 175.4l-0.3 0.3M201.1 174.9l0.1 0.6M205.8 174.8l0.5 0.6M241.0 174.4l-0.7 -0.3M255.7 174.3l-0.4 -0.6M270.2 174.0l0.3 -0.8M280.3 173.7l-0.1 -0.6M285.0 173.5l0.2 -0.6M294.8 173.2l0.5 -0.3M299.8 173.0l0.5 -0.1M304.8 173.0l0.2 -0.4M309.7 172.6l0.3 0.2M314.6 172.5l0.4 0.1M319.9 172.4l-0.3 0.2M156.6 181.8l0.3 -0.5M171.3 181.3l0.5 -0.1M176.4 181.3l0.3 -0.4M196.6 180.7l-0.5 -0.0M201.3 180.1l-0.1 0.8M206.5 180.1l-0.6 0.7M215.9 180.1l0.3 0.3M275.2 179.2l0.4 -0.6M280.4 179.2l-0.1 -0.9M285.2 178.9l0.1 -0.5M290.1 178.8l0.1 -0.5M295.0 178.7l0.3 -0.7M299.9 178.3l0.4 -0.1M309.8 178.0l0.4 0.1M315.0 178.1l-0.2 -0.4M161.8 187.2l0.1 -0.8M166.7 186.9l0.2 -0.5M201.4 186.2l0.0 -0.6M211.1 185.6l0.4 0.2M226.3 185.3l-0.3 0.2M230.9 185.6l0.3 -0.8M241.1 185.3l-0.4 -0.6M255.8 185.0l-0.1 -0.7M280.4 184.5l0.1 -0.8M285.5 184.3l-0.1 -0.6M290.1 183.9l0.4 -0.1M295.2 184.1l0.2 -0.7M300.0 183.7l0.4 -0.1M304.9 183.5l0.4 0.2M309.7 183.6l0.7 -0.2M314.8 183.1l0.4 0.5M157.2 192.6l-0.3 -0.6M162.2 192.4l-0.4 -0.3M166.7 192.1l0.4 -0.1M176.9 192.3l-0.3 -0.8M206.8 191.3l-0.8 -0.3M211.6 191.1l-0.4 -0.1M221.3 190.7l-0.1 0.4M231.3 190.4l-0.2 0.4M251.1 190.1l-0.3 0.2M256.0 190.1l-0.4 -0.1M261.0 189.8l-0.4 0.3M265.4 190.1l0.7 -0.5M270.5 189.8l0.4 -0.2M290.3 189.4l0.3 -0.2M295.0 189.2l0.7 -0.1M300.0 188.8l0.6 0.5M309.7 188.8l0.9 0.1M167.0 197.6l0.3 -0.3M171.9 197.5l0.3 -0.3M177.0 197.4l-0.0 -0.4M236.4 195.7l-0.4 0.4M246.2 195.3l-0.1 0.6M256.4 195.6l-0.8 -0.4M260.6 195.2l0.5 0.3M266.0 195.0l-0.2 0.3M271.0 195.5l-0.4 -0.8M275.8 195.2l-0.1 -0.4M280.5 195.0l0.4 -0.2M285.2 194.9l0.7 -0.2M290.5 195.0l0.2 -0.8M295.3 194.6l0.4 -0.1M300.2 194.6l0.5 -0.3M310.0 194.3l0.6 -0.1M359.5 192.9l0.3 0.4M157.5 203.1l-0.4 -0.1M172.3 202.9l-0.3 -0.3M186.7 202.7l0.6 -0.7M207.0 202.1l-0.5 -0.5M211.3 201.6l0.7 0.4M216.5 201.4l0.3 0.7M251.1 200.7l0.1 0.5M256.2 200.5l-0.1 0.6M261.1 200.5l-0.1 0.4M266.2 200.8l-0.5 -0.4M271.1 200.6l-0.5 -0.3M275.5 200.3l0.7 0.2M280.7 200.4l0.2 -0.3M285.5 200.3l0.4 -0.3M290.5 200.1l0.4 -0.1M300.7 200.2l-0.4 -0.7M305.3 199.8l0.4 -0.3M360.1 198.6l-0.6 -0.3M364.6 198.6l0.3 -0.5M157.7 208.5l-0.4 -0.2M162.7 208.4l-0.5 -0.3M177.4 208.2l-0.2 -0.5M182.4 208.0l-0.5 -0.3M202.2 207.5l-0.6 -0.3M207.0 207.2l-0.4 0.1M266.5 206.1l-0.9 -0.3M270.7 205.9l0.6 -0.2M275.9 206.0l0.2 -0.6M280.5 205.8l0.9 -0.3M300.5 205.3l0.2 -0.3M305.5 205.2l0.2 -0.4M360.1 203.9l-0.5 -0.0M364.6 203.7l0.4 0.1M157.8 213.7l-0.4 0.1M167.8 213.9l-0.6 -0.6M172.7 213.5l-0.4 -0.1M182.1 213.0l0.4 0.3M261.7 211.2l-0.8 0.4M266.5 211.6l-0.5 -0.5M300.4 210.7l0.7 -0.4M360.2 208.9l-0.4 0.6M157.9 219.0l-0.3 0.3M182.6 218.4l-0.4 0.4M187.1 218.1l0.5 0.7M251.2 216.7l0.7 0.6M256.7 216.8l-0.5 0.2M261.6 217.0l-0.4 -0.3M276.1 216.6l0.3 -0.3M286.0 216.5l0.2 -0.5M158.1 224.2l-0.4 0.5M163.0 224.5l-0.4 -0.2M167.9 224.5l-0.3 -0.5M182.8 224.0l-0.4 -0.2M192.1 223.7l0.7 0.0M197.0 223.3l0.7 0.5M207.0 223.2l0.4 0.3M212.1 223.0l0.1 0.7M246.8 222.3l-0.1 0.4M261.7 222.1l-0.4 0.1M266.5 221.9l-0.1 0.4M271.8 222.1l-0.8 -0.2M276.0 222.0l0.6 -0.3M281.4 222.0l-0.4 -0.6M285.8 221.8l0.7 -0.4M290.9 221.5l0.5 0.1M163.0 229.6l-0.0 0.4M173.2 229.9l-0.6 -0.7M177.8 229.8l-0.0 -0.7M207.1 228.6l0.6 0.3M222.2 228.6l-0.0 -0.4M227.1 228.0l0.0 0.6M232.2 228.1l-0.3 0.2M241.8 227.6l0.1 0.8M261.7 227.1l-0.1 0.9M276.6 227.1l-0.3 0.3M281.2 227.0l0.3 0.3M286.1 227.1l0.4 -0.1M291.1 226.7l0.2 0.4M158.3 235.0l-0.2 0.5M163.1 234.9l0.2 0.4M168.2 235.2l-0.3 -0.3M202.4 234.1l0.3 0.2M217.2 233.8l0.4 0.2M222.1 234.1l0.5 -0.7M227.3 233.5l-0.1 0.4M237.2 233.2l-0.2 0.5M242.1 232.9l-0.1 0.9M246.9 233.0l0.2 0.5M261.7 232.6l0.2 0.6M276.2 232.3l0.7 0.5M281.5 232.1l0.0 0.9M291.4 232.0l-0.2 0.5M158.4 240.4l-0.1 0.5M163.4 240.3l-0.2 0.4M168.0 240.3l0.4 0.1M187.9 240.3l0.0 -0.6M197.6 239.8l0.4 -0.1M207.4 239.8l0.6 -0.6M217.2 239.4l0.7 -0.1M222.3 239.6l0.3 -0.9M227.5 238.9l-0.3 0.4M267.0 238.2l-0.4 0.0M277.1 237.9l-0.9 0.1M286.4 238.0l0.2 -0.6M296.6 237.4l-0.4 0.4M158.7 245.8l-0.3 0.3M163.5 245.7l-0.1 0.4M168.2 245.6l0.3 0.3M173.1 245.5l0.4 0.3M178.0 245.5l0.4 0.0M192.8 245.5l0.4 -0.6M197.6 245.3l0.6 -0.4M207.6 244.6l0.4 0.5M217.3 244.6l0.8 0.2M222.6 244.3l-0.0 0.5M227.8 244.2l-0.6 0.6M232.2 244.4l0.4 -0.2M237.3 244.0l0.1 0.4M257.1 243.3l-0.0 0.9M296.4 243.2l0.2 -0.6M158.6 251.1l0.1 0.4M163.5 251.0l0.1 0.4M168.4 251.0l0.3 0.3M173.2 251.0l0.4 0.0M178.6 251.2l-0.5 -0.6M183.4 251.0l-0.3 -0.4M188.0 250.8l0.3 -0.2M193.0 250.8l0.2 -0.4M198.0 250.7l0.2 -0.4M202.7 250.5l0.6 -0.2M217.6 250.2l0.3 -0.3M222.4 250.1l0.5 -0.3M227.4 249.9l0.4 -0.1M232.5 249.5l0.2 0.4M237.6 250.0l-0.3 -0.8M242.5 249.1l-0.2 0.8M247.5 249.1l-0.2 0.7M252.4 249.1l-0.2 0.3M261.8 249.0l0.6 0.1M311.4 248.4l0.1 -0.9M158.9 256.4l-0.1 0.5M163.7 256.8l0.1 -0.4M168.7 256.3l-0.1 0.4M178.3 256.0l0.4 0.5M183.6 256.1l-0.4 0.1M188.4 256.2l-0.1 -0.4M193.5 256.4l-0.4 -0.8M198.2 256.2l0.0 -0.7M207.8 255.9l0.5 -0.5M247.6 254.3l-0.3 0.9M261.9 254.5l0.7 -0.1M266.8 254.0l0.7 0.5M301.7 253.7l-0.1 -0.4M158.7 261.9l0.4 0.4M163.8 261.6l0.1 0.7M168.6 261.5l0.4 0.7M173.5 261.5l0.4 0.5M178.5 261.5l0.3 0.3M183.4 261.4l0.4 0.2M188.4 261.6l0.1 -0.4M193.4 261.8l0.1 -0.9M252.7 259.9l-0.3 0.2M267.1 259.9l0.4 -0.4M301.5 259.0l0.4 -0.2M306.5 258.7l0.4 0.2M311.9 258.6l-0.6 0.3M158.7 267.5l0.7 -0.1M164.0 267.1l0.0 0.4M168.9 267.0l0.1 0.4M173.7 267.3l0.3 -0.3M178.6 267.0l0.4 0.1M183.4 266.7l0.6 0.4M198.5 267.0l-0.1 -0.9M222.8 266.4l0.6 -0.7M228.0 266.2l-0.1 -0.5M252.9 265.7l-0.5 -0.7M262.7 265.1l-0.4 0.1M272.3 264.8l0.0 0.4M297.0 264.8l-0.1 -0.7M301.7 264.3l0.4 -0.0M306.8 264.4l0.1 -0.4M316.7 263.8l-0.0 0.4M159.0 272.4l0.4 0.8M163.9 272.8l0.6 -0.2M169.1 272.8l-0.1 -0.5M173.9 272.3l0.1 0.4M227.9 271.3l0.5 -0.1M243.1 271.1l-0.4 -0.2M248.1 271.0l-0.5 -0.2M282.0 270.4l0.6 -0.6M311.6 269.6l0.4 -0.3M316.6 269.4l0.4 -0.2M164.2 278.3l0.2 -0.4M174.0 278.0l0.3 -0.4M178.9 278.0l0.3 -0.5M183.7 277.7l0.6 -0.2M188.7 277.9l0.3 -0.7M203.6 277.5l0.1 -0.7M223.3 276.4l0.1 0.8M228.1 276.7l0.4 0.0M233.4 276.5l-0.4 0.0M237.9 276.4l0.4 0.2M242.9 276.4l0.4 -0.2M248.2 276.2l-0.4 0.0M267.3 275.5l0.6 0.6M287.1 275.7l0.4 -0.6M297.2 275.6l0.0 -0.9M316.8 275.1l0.1 -0.7" fill="none" stroke="#5f8fc6" stroke-width="1.05" stroke-linecap="round" stroke-opacity=".85"/>
<path d="M159.1 80.0l-0.3 -1.9M164.1 80.0l-0.5 -2.2M173.5 79.3l1.4 -0.7M178.6 79.6l0.8 -1.9M188.4 78.9l1.5 -0.3M198.2 78.6l1.6 -0.3M203.6 78.9l0.4 -1.5M228.8 78.1l-1.1 -0.8M233.6 77.3l-0.7 1.5M258.3 76.5l-0.1 2.1M263.3 76.6l-0.2 1.4M347.5 75.4l0.4 -1.3M179.1 84.8l-0.3 -1.5M188.8 84.6l0.3 -1.7M193.4 84.1l1.6 -0.2M224.1 83.6l-1.7 -1.1M273.0 81.7l1.1 1.5M297.5 81.5l1.9 0.3M159.4 90.8l-0.4 -2.2M229.1 88.3l-1.2 1.1M282.9 87.0l1.5 1.0M302.9 87.3l0.9 -1.7M308.1 87.2l0.1 -2.0M318.4 86.9l-1.3 -1.6M357.7 85.9l0.2 -1.5M169.4 95.8l-0.3 -1.5M209.5 94.2l-1.6 0.6M214.3 93.8l-0.9 1.6M234.2 94.0l-1.4 -0.7M244.1 94.0l-1.3 -1.5M249.1 93.3l-1.3 0.7M253.2 93.7l1.6 -1.3M258.5 93.8l0.5 -2.0M283.0 92.4l1.4 0.9M313.4 92.5l-0.6 -1.8M318.3 92.2l-0.6 -1.3M328.3 92.1l-0.8 -1.6M347.6 91.6l1.3 -1.6M357.6 91.2l0.7 -1.2M155.1 101.1l-1.5 -0.0M164.2 101.1l1.2 -0.7M179.9 100.7l-1.6 -0.6M199.0 99.6l0.7 1.3M203.8 99.7l1.5 0.7M239.3 99.4l-1.4 -1.0M253.6 99.2l0.6 -1.6M263.4 99.0l1.1 -1.6M308.3 97.9l0.3 -1.7M313.4 97.8l-0.4 -1.6M323.5 97.6l-1.0 -1.7M328.5 97.4l-1.0 -1.5M333.2 97.3l-0.4 -1.7M155.2 106.4l-1.7 0.1M189.4 106.0l0.3 -1.5M219.1 105.4l0.3 -1.8M248.6 104.6l1.4 -1.3M328.5 102.8l-0.6 -1.7M333.5 102.6l-1.0 -1.2M209.3 111.0l0.4 -1.7M224.3 110.8l-0.2 -2.2M244.5 109.9l-1.4 -0.6M165.1 116.6l-0.6 1.2M219.4 116.1l0.2 -1.6M258.7 114.4l1.4 1.2M274.4 114.2l-1.4 0.7M308.5 113.2l0.6 1.3M155.7 122.5l-1.8 -0.0M165.1 121.9l0.2 1.4M214.7 120.7l-0.0 1.6M219.0 120.8l2.0 0.9M229.8 121.1l-1.0 -0.9M259.4 119.6l-0.7 1.7M309.1 118.7l-1.1 0.8M333.7 118.7l-0.5 -1.3M179.7 127.0l1.2 1.0M194.6 126.5l1.3 1.7M199.8 126.5l0.3 1.3M204.5 126.5l1.2 1.0M214.8 126.1l-0.1 1.5M219.2 126.2l2.0 0.7M229.3 125.7l1.1 1.5M234.9 126.3l-1.0 -1.0M239.5 126.3l0.2 -1.4M254.5 125.2l-0.5 1.5M259.3 125.0l0.3 1.6M264.5 125.0l-0.7 1.3M289.5 124.8l-1.5 0.0M334.1 124.1l-1.6 -1.3M155.7 133.7l-0.7 -1.4M165.6 133.6l-0.6 -2.1M170.3 132.4l0.1 1.8M184.8 132.3l1.5 0.8M229.3 131.2l1.6 1.1M234.7 131.0l-0.1 1.6M264.2 130.4l0.8 1.2M309.1 129.1l-0.3 1.9M160.9 138.1l-1.2 1.6M210.1 137.0l0.0 1.4M220.2 136.8l-0.6 1.3M224.8 136.7l0.6 1.2M234.5 136.4l1.3 1.5M249.8 136.9l-0.3 -1.6M279.2 135.3l0.8 1.5M314.1 134.4l-0.3 1.9M319.1 134.4l-0.2 1.4M323.8 134.2l0.4 1.8M209.8 142.4l1.4 1.0M220.4 142.1l-1.1 1.3M250.0 142.2l-0.7 -1.5M265.0 141.7l-1.2 -0.7M269.4 141.9l0.9 -2.0M274.2 141.2l1.3 0.2M304.5 140.1l-0.7 1.5M155.9 148.8l0.1 2.0M161.1 148.8l-0.7 1.4M170.9 148.7l-0.6 1.3M176.3 148.6l-1.9 1.0M220.7 147.6l-1.8 1.1M289.4 145.9l0.5 1.3M304.7 145.6l-1.0 1.3M309.4 145.4l-0.2 1.4M319.4 145.2l-0.6 1.2M175.9 154.9l-0.2 -2.2M215.9 153.5l-1.6 -0.4M245.0 153.1l0.4 -1.3M250.0 153.1l0.2 -1.8M254.8 152.9l0.9 -1.5M260.2 152.7l-0.7 -1.3M299.4 150.9l0.3 1.7M304.5 150.9l-0.1 1.4M309.5 150.8l-0.3 1.4M319.4 150.4l-0.3 1.9M324.3 150.3l-0.1 2.0M156.0 160.5l0.6 -1.3M171.0 160.3l0.1 -2.0M220.7 158.0l-0.7 2.0M230.8 158.4l-1.4 -0.1M245.3 158.6l-0.1 -1.8M255.1 158.3l0.2 -1.7M265.1 158.2l-0.1 -2.0M299.8 156.4l-0.4 1.4M364.0 155.8l-0.0 -1.8M156.1 165.8l0.9 -1.2M161.6 165.8l-0.9 -1.4M171.0 165.5l0.7 -1.4M175.7 165.5l1.4 -1.5M181.1 165.5l-0.0 -2.0M190.6 164.3l1.4 1.4M200.5 164.2l1.3 0.9M205.4 164.1l1.4 1.0M221.1 163.8l-1.6 0.6M245.1 163.0l0.8 1.3M250.0 163.8l1.1 -1.7M255.0 163.5l0.8 -1.1M304.9 161.7l-0.5 1.3M314.3 161.5l1.0 1.0M358.7 161.3l1.5 -1.6M364.2 161.1l-0.4 -1.5M156.3 171.2l0.7 -1.3M161.2 171.3l1.0 -1.9M166.3 171.2l0.2 -1.9M170.9 171.0l1.3 -1.6M231.0 169.4l-1.3 -1.0M235.9 169.5l-1.0 -1.8M250.1 169.0l1.1 -1.0M260.2 168.9l0.5 -1.5M275.2 168.6l-0.2 -1.8M364.2 166.6l-0.3 -1.9M166.3 176.5l0.8 -1.7M171.2 176.3l0.8 -1.6M216.2 174.4l-0.7 1.6M220.3 174.8l1.9 -0.3M226.3 174.7l-1.5 -0.3M231.1 175.0l-1.3 -1.7M236.1 174.7l-1.2 -0.9M245.7 174.5l-0.5 -1.3M250.7 174.7l-0.4 -2.2M260.1 174.1l1.0 -1.0M275.0 174.1l0.8 -2.0M289.8 173.6l1.0 -1.7M359.1 172.0l0.7 -1.6M364.4 172.0l-0.5 -1.7M161.4 181.9l1.3 -1.6M166.2 181.4l1.5 -0.2M181.2 181.4l0.9 -1.5M186.5 181.4l-0.4 -1.8M191.3 181.3l0.3 -1.9M211.1 180.0l0.2 1.3M226.3 180.3l-1.2 -1.1M241.2 180.1l-1.6 -1.4M245.8 180.1l-0.3 -2.0M255.9 179.8l-1.1 -1.7M265.4 179.5l0.4 -1.3M270.5 179.5l-0.4 -1.7M304.5 178.0l2.0 0.5M364.3 177.3l0.1 -1.8M156.9 187.5l-0.1 -1.9M171.3 186.8l1.4 -0.6M176.9 187.1l-0.7 -2.0M191.6 186.7l-0.3 -1.9M215.9 185.4l1.1 0.8M221.3 185.9l-0.7 -1.6M236.2 185.5l-0.8 -1.3M251.0 185.2l-0.6 -1.3M260.7 185.2l-0.0 -2.1M265.5 184.9l0.5 -1.6M270.4 184.8l0.7 -1.5M275.4 184.8l0.4 -2.0M171.3 192.2l2.0 -1.0M186.9 192.2l-0.5 -2.1M216.3 190.6l0.0 1.3M225.9 190.5l1.2 0.7M236.5 190.6l-1.4 -0.2M241.6 190.5l-2.0 -0.3M275.5 190.0l0.4 -1.4M157.6 197.9l-1.2 -0.8M162.6 197.6l-1.4 -0.2M207.1 196.5l-1.9 0.2M212.0 196.2l-1.8 0.8M231.4 195.5l-0.6 1.6M364.1 193.2l1.9 -0.7M162.8 203.3l-1.7 -1.2M167.8 203.0l-2.1 -0.6M201.8 202.6l-0.2 -2.1M246.5 200.7l-0.8 1.3M295.5 200.3l0.5 -1.5M167.9 208.3l-1.8 -0.6M172.7 208.1l-1.4 -0.2M186.5 207.7l2.2 0.3M196.5 207.5l1.6 -0.1M211.9 206.8l-0.4 1.3M251.6 206.0l-1.3 0.9M285.8 206.0l0.0 -1.8M163.0 214.0l-1.3 -1.3M178.0 213.3l-2.2 0.1M196.8 212.4l1.1 1.6M201.8 212.5l1.0 1.0M207.5 212.3l-1.8 1.1M217.1 211.8l-0.8 2.1M221.9 211.8l-0.4 1.8M251.8 211.4l-1.4 1.0M271.5 211.5l-1.1 -0.9M275.9 211.6l0.5 -1.7M285.8 211.3l0.4 -1.4M295.6 211.0l0.9 -1.0M163.0 218.8l-1.1 0.9M168.1 219.2l-1.5 -0.8M178.0 218.8l-1.6 -0.5M192.1 218.0l0.9 1.1M197.1 217.8l0.5 1.5M212.2 217.6l-0.5 1.3M217.2 217.3l-0.7 1.7M237.1 217.0l-1.1 1.4M266.7 216.8l-1.3 -0.5M271.2 217.1l0.4 -1.8M281.3 216.9l-0.7 -2.0M290.8 216.6l0.7 -1.6M296.3 216.4l-1.3 -1.4M173.1 224.4l-1.2 -0.9M188.1 223.7l-1.9 0.4M227.1 222.6l-0.4 1.4M232.0 222.3l-0.4 1.9M241.9 222.2l-0.4 1.5M251.6 222.0l0.1 1.4M256.8 221.7l-0.6 2.1M158.5 229.6l-1.4 1.0M168.4 229.7l-1.8 -0.3M187.6 229.6l0.1 -1.4M192.1 229.1l1.8 0.1M197.3 228.7l0.9 0.9M217.0 228.9l0.7 -1.4M237.3 227.8l-1.0 1.1M246.6 227.4l1.0 1.9M251.8 227.3l-0.2 1.5M271.3 226.9l0.7 1.7M173.2 235.4l-0.5 -1.8M251.9 232.5l0.1 2.2M256.6 232.5l0.8 1.9M267.1 232.6l-1.3 0.8M272.2 232.7l-2.0 0.0M286.8 232.0l-1.2 1.3M296.5 231.8l-0.9 1.1M212.3 239.8l1.1 -1.3M232.5 238.6l-0.5 1.4M242.2 238.2l-0.0 1.8M282.1 238.0l-1.8 -0.5M291.9 237.3l-1.5 1.1M301.4 238.0l-0.2 -1.9M187.7 245.2l1.5 0.4M202.6 245.4l0.8 -1.4M212.3 244.9l1.4 -0.5M242.2 243.6l0.4 1.6M247.3 243.6l-0.3 1.4M261.6 243.2l1.5 1.6M281.5 243.9l0.6 -2.2M287.2 243.5l-1.9 -1.1M292.1 243.1l-1.9 -0.4M301.6 243.2l-0.7 -1.5M306.6 243.2l-0.8 -1.7M266.8 249.3l0.9 -1.3M271.6 249.1l1.2 -1.1M286.7 249.0l0.3 -1.7M297.0 248.8l-1.5 -1.6M301.2 248.6l1.1 -1.6M173.3 255.8l0.8 2.0M217.5 255.5l1.3 -0.4M237.4 255.3l0.8 -1.2M242.9 254.5l-1.2 1.1M252.7 254.3l-1.0 1.4M271.9 254.7l0.8 -1.8M306.2 253.7l1.3 -0.8M213.2 261.4l-0.3 -1.7M237.7 261.0l-0.0 -2.2M242.7 260.7l-0.3 -1.7M248.1 260.4l-1.8 -0.9M257.7 259.6l-0.8 1.2M271.7 259.9l1.7 -1.2M193.5 267.1l0.1 -1.6M237.9 266.2l-0.2 -1.8M242.8 266.0l0.0 -1.4M248.1 265.6l-1.5 -0.5M257.3 264.9l0.8 1.4M291.8 265.0l0.9 -1.5M311.7 264.6l0.1 -1.8M178.6 272.6l1.1 -0.7M198.4 272.5l0.6 -2.0M218.3 272.0l0.1 -1.8M238.0 271.6l-0.1 -1.6M252.5 271.1l0.8 -1.2M262.5 270.0l0.3 2.0M276.9 269.9l1.5 1.1M296.8 270.1l1.0 -0.9M159.1 277.9l1.1 1.0M168.9 277.6l1.2 1.2M193.5 277.9l1.0 -1.8M218.5 277.5l-0.3 -2.1M253.1 275.7l-0.8 1.6M263.1 275.8l-1.4 0.4M292.0 275.6l0.8 -1.2M311.7 275.3l0.8 -1.5" fill="none" stroke="#74a8d8" stroke-width="1.25" stroke-linecap="round" stroke-opacity=".88"/>
<path d="M218.9 78.4l-2.0 -1.7M272.9 76.3l1.4 2.2M277.7 76.1l1.6 2.1M282.4 76.3l2.2 0.7M292.3 76.1l2.5 0.7M169.1 85.4l-0.1 -2.6M174.2 85.2l-0.5 -2.3M204.0 84.5l-0.8 -2.5M228.9 83.1l-2.4 1.1M233.4 82.4l0.5 2.5M248.7 82.8l-2.5 -0.6M263.3 82.3l1.0 2.4M282.7 81.4l1.7 1.9M292.6 81.3l2.2 1.4M163.9 90.7l1.2 -2.0M169.2 90.2l0.4 -2.6M203.7 88.6l1.1 2.4M214.4 88.7l-2.3 1.2M219.3 89.1l-2.1 -1.5M253.7 88.7l-0.5 -2.5M268.3 87.5l1.7 1.9M292.7 87.4l1.9 -1.2M219.3 94.3l-2.5 -0.8M263.6 93.8l-0.0 -2.6M229.2 99.7l-1.1 -2.4M243.9 99.6l-0.0 -2.3M258.5 98.9l1.4 -2.2M269.2 98.9l-1.9 -1.7M273.8 98.9l-0.7 -2.2M209.2 105.4l0.6 -2.5M224.3 104.8l-2.5 -0.6M229.2 105.0l-0.6 -2.5M244.1 104.4l-2.5 -0.8M253.4 104.5l1.7 -1.5M263.4 104.5l1.3 -2.1M268.6 104.4l0.8 -2.5M274.3 104.1l-1.9 -1.5M323.6 103.1l-1.0 -2.3M214.5 110.8l-1.0 -2.4M249.1 109.9l-0.5 -2.6M253.9 110.1l0.5 -2.2M328.5 108.0l-0.7 -2.5M338.4 108.1l-0.4 -2.6M175.0 116.1l-0.6 2.2M189.6 117.0l0.5 -2.4M195.4 116.2l-2.4 0.3M209.4 116.6l0.4 -2.4M234.8 115.6l-2.2 -1.4M239.5 115.3l-2.0 -1.6M279.4 114.8l-1.6 -2.0M328.7 113.8l-0.8 -2.5M343.7 113.3l-1.4 -2.2M223.9 120.6l2.1 1.3M239.7 120.6l-2.6 -0.1M170.1 127.4l0.6 2.5M190.0 127.0l1.4 2.2M200.0 132.1l0.1 2.6M210.0 131.7l-0.6 2.5M219.4 131.2l1.6 2.1M224.8 131.5l0.8 2.5M240.3 131.0l-2.4 1.0M244.8 131.9l-0.8 -2.5M260.0 130.7l-2.5 0.6M319.0 128.8l-0.4 2.2M170.5 138.2l-0.8 2.5M200.1 137.0l0.4 2.3M205.1 136.9l-0.0 2.6M229.8 136.7l1.2 2.3M245.1 137.1l-1.3 -1.8M255.0 136.9l-1.5 -2.1M155.4 143.4l1.4 2.2M166.3 143.9l-2.3 -0.3M171.0 143.3l-1.9 1.8M204.8 142.5l2.1 1.6M230.0 141.6l-0.1 2.6M244.8 142.3l0.6 -2.5M254.8 142.0l-0.5 -2.5M180.6 148.1l0.3 2.5M190.1 148.1l1.8 1.9M204.7 148.1l2.3 0.4M209.8 148.0l2.5 0.6M245.4 147.9l-1.4 -2.2M259.8 147.3l0.2 -2.6M294.3 145.5l0.5 2.3M299.5 145.3l-0.3 2.5M314.2 145.0l0.1 2.6M363.4 145.1l1.5 -2.0M185.6 153.3l0.6 2.5M225.9 152.7l-1.9 1.6M279.2 151.5l1.9 1.3M165.9 160.3l0.9 -2.4M180.4 160.0l2.0 -1.7M190.6 158.6l0.9 2.4M195.1 158.9l2.4 1.0M210.1 158.4l1.9 1.5M235.8 157.8l-1.7 1.5M289.7 156.8l0.8 2.5M358.7 156.0l1.2 -2.3M195.7 164.4l2.0 1.7M210.3 164.1l2.5 0.6M236.1 163.4l-2.1 0.9M180.8 170.9l1.3 -2.1M200.7 169.3l1.1 2.0M206.1 169.4l-1.0 2.4M210.8 169.5l1.4 2.2M241.2 169.0l-2.3 -0.3M270.1 168.4l1.0 -2.4M289.6 168.0l2.3 -1.3M359.0 166.8l0.8 -2.1M190.8 175.0l1.6 1.6M196.8 175.2l-2.3 0.4M210.4 174.6l2.3 1.3M265.2 174.3l0.6 -2.2M221.6 179.7l-1.9 1.6M260.2 179.5l2.1 -1.6M196.8 186.7l-1.2 -2.2M196.8 192.0l-0.9 -2.4M201.6 191.9l-0.3 -2.3M280.5 189.7l0.4 -2.6M284.9 189.7l2.1 -0.9M181.8 197.5l0.6 -2.5M191.9 197.3l-0.8 -2.5M196.4 197.4l1.0 -2.2M201.6 196.8l0.3 -2.6M217.0 195.9l-1.7 1.5M241.4 195.7l-2.4 0.9M251.3 194.9l-1.0 2.4M304.7 194.3l2.6 0.2M177.2 202.8l-1.2 -2.3M192.0 202.9l-0.1 -2.3M197.1 202.8l-0.8 -2.5M226.6 200.9l-0.5 2.5M191.6 207.0l1.4 2.2M246.7 205.8l-1.3 2.1M256.4 205.6l-0.8 2.5M261.2 205.9l-1.1 2.3M187.0 212.4l0.9 2.3M241.6 211.2l-0.4 2.5M256.8 211.0l-1.5 1.8M290.6 211.1l1.9 -1.8M364.9 208.4l0.2 2.4M201.8 217.8l2.1 1.6M206.8 217.8l2.2 1.4M222.2 217.0l-0.9 2.4M227.1 216.9l-0.9 2.4M231.8 216.8l-0.1 2.6M241.7 216.5l-0.1 2.6M246.8 216.5l-0.9 2.1M178.0 224.7l-1.2 -2.3M201.7 223.7l2.3 -0.8M236.9 222.2l-0.1 2.6M295.4 221.6l2.5 -0.6M182.8 230.0l-0.2 -2.6M212.3 228.4l0.1 2.6M257.0 227.0l-0.9 2.4M266.7 227.2l-1.2 2.3M296.8 227.0l-2.1 -0.7M178.2 235.1l-1.7 -2.0M183.1 235.4l-0.7 -2.4M197.3 234.7l2.0 -1.6M212.0 234.5l1.6 -1.7M232.5 232.9l-1.1 2.3M173.5 240.5l-2.2 -1.3M183.0 240.5l-0.2 -2.6M202.2 239.2l1.8 1.4M252.0 238.1l0.4 2.6M261.8 238.1l0.8 2.5M272.3 238.0l-2.6 0.3M183.2 246.0l-0.3 -2.6M266.8 242.8l0.5 2.6M271.7 244.0l0.6 -2.5M276.9 244.1l-0.3 -2.6M207.4 250.4l2.5 -0.6M256.7 248.7l1.7 1.6M276.9 248.9l-0.3 -2.6M291.7 248.8l-0.2 -2.6M306.5 248.6l-0.1 -2.6M212.6 255.9l1.8 -1.9M222.6 255.8l1.1 -2.4M227.4 255.8l1.2 -2.3M232.3 255.5l1.8 -1.9M256.7 254.3l2.1 1.0M277.3 254.7l-1.1 -2.3M282.2 254.6l-0.8 -2.3M296.8 253.8l-0.5 -2.6M311.3 253.4l2.6 -0.4M208.2 261.2l0.1 -2.6M227.4 261.0l1.9 -1.8M233.0 261.1l-0.5 -2.4M276.9 260.1l0.7 -2.1M187.9 266.8l2.6 -0.1M203.4 267.1l-0.1 -2.4M208.1 267.1l0.6 -2.5M213.2 266.9l0.0 -2.4M281.9 265.0l2.0 -1.7M183.1 272.4l2.6 -0.4M188.3 272.6l1.5 -1.7M213.7 272.2l-1.0 -2.1M222.6 271.7l2.3 -1.2M232.6 271.7l1.5 -2.0M257.9 270.0l-0.7 2.2M267.4 270.1l0.8 2.5M287.1 270.0l2.6 0.4M292.0 270.5l0.6 -2.2M301.9 269.8l1.6 -2.1M307.0 270.3l-0.4 -2.6M208.6 277.8l0.0 -2.6M213.8 277.5l-1.2 -1.9M258.4 275.8l-2.5 0.8M272.5 275.5l1.1 2.4M307.2 275.6l-0.5 -2.3" fill="none" stroke="#8dbde5" stroke-width="1.25" stroke-linecap="round" stroke-opacity=".88"/>
<path d="M268.4 77.2l1.1 2.4M164.1 84.4l-0.1 -2.6M213.7 83.6l-1.2 -2.3M218.6 83.4l-2.1 -1.5M278.6 82.5l1.5 2.1M174.4 89.4l1.3 -2.2M179.4 88.9l0.7 -2.5M184.1 89.7l0.3 -2.6M233.6 88.5l-2.2 1.3M278.4 87.5l1.0 2.4M347.8 85.6l0.4 -2.6M228.8 93.9l-2.5 -0.8M223.8 98.9l-1.0 -2.4M233.6 98.9l-2.1 -1.6M250.1 98.1l2.2 -1.3M318.3 97.3l-0.7 -2.5M234.1 104.2l0.3 -2.6M238.8 103.7l-0.7 -2.5M258.8 104.0l1.0 -2.4M199.9 110.0l1.1 -2.4M219.3 110.2l-1.8 -1.9M229.1 109.8l-0.9 -2.4M234.1 109.7l-1.1 -2.4M239.1 109.7l-1.3 -2.2M332.6 106.3l-1.3 -2.2M204.9 116.1l2.6 0.4M229.1 113.1l-0.3 -2.6M323.6 113.2l-1.2 -2.3M163.7 127.1l-2.5 -0.9M175.1 127.4l1.5 2.1M186.0 127.8l2.2 1.3M175.3 133.1l0.1 2.6M180.3 132.9l0.5 2.6M191.0 134.5l0.9 2.4M195.3 132.7l1.3 2.2M205.2 133.3l0.4 2.6M214.7 132.8l-0.5 2.5M249.5 131.0l-1.8 -1.9M175.2 138.9l-0.6 2.5M180.8 141.3l0.3 2.6M185.6 139.8l0.4 2.6M190.3 138.0l0.7 2.5M195.4 138.0l1.3 2.2M175.4 144.7l-0.4 2.6M181.3 145.8l0.8 2.5M186.6 145.0l1.4 2.2M190.6 143.6l1.0 2.4M196.0 144.0l1.5 2.1M200.6 143.3l1.6 2.1M215.2 142.7l-0.3 2.6M224.6 143.1l-1.3 2.3M259.6 141.1l-0.4 -2.6M318.9 141.3l-0.4 2.6M165.5 149.5l-1.5 2.1M187.9 151.5l1.6 2.0M195.7 148.7l1.5 2.1M200.7 148.4l2.4 0.9M254.7 146.2l-0.5 -2.5M324.2 145.6l0.5 2.5M191.1 154.0l2.6 0.2M195.6 153.8l2.0 1.7M202.1 154.3l2.4 0.9M271.2 151.3l2.3 -1.2M202.4 160.5l2.0 1.7M206.2 159.2l2.3 1.2M225.4 158.5l-2.6 0.1M166.4 165.2l2.1 -1.5M186.1 164.8l1.9 1.7M239.4 163.4l-2.6 -0.3M260.4 162.8l1.6 -2.1M265.1 163.0l0.0 -2.6M176.2 170.4l2.1 -1.6M265.3 168.0l0.7 -2.5M177.8 174.4l1.8 -1.9M230.8 179.8l-1.5 -2.1M235.8 179.6l-0.3 -2.6M250.3 177.8l-0.5 -2.5M181.7 186.1l1.0 -2.4M186.3 183.4l-0.3 -2.6M206.2 185.8l-2.5 0.7M245.7 184.5l-0.8 -2.5M181.8 191.5l0.8 -2.5M191.4 190.6l-0.6 -2.5M245.9 190.0l-0.3 -2.6M305.3 189.0l2.0 1.6M186.8 196.3l-0.2 -2.6M221.4 196.2l0.5 2.6M227.1 198.6l0.7 2.5M182.1 202.3l1.1 -2.3M221.5 201.5l-0.8 2.5M231.5 202.0l0.3 2.6M236.3 203.1l-0.0 2.6M241.3 203.6l-0.0 2.6M216.6 207.8l-0.3 2.6M221.3 207.7l-1.3 2.2M226.5 207.0l-1.2 2.3M231.3 208.3l-0.4 2.6M236.3 207.6l-0.4 2.6M241.4 206.6l-0.1 2.6M291.4 203.0l0.7 -2.5M295.7 204.6l-0.2 -2.6M192.1 212.9l1.7 2.0M211.9 213.7l-0.2 2.6M226.5 212.8l-0.8 2.5M231.8 212.7l0.5 2.5M236.4 212.5l-0.9 2.4M246.5 211.9l0.4 2.6M281.2 210.2l0.7 -2.5M172.6 218.8l-2.5 0.7M216.3 223.8l-2.1 1.5M221.4 223.3l-2.4 0.9M203.7 228.6l2.5 -0.6M188.1 233.7l0.8 -2.5M192.9 234.1l1.3 -2.3M207.7 234.1l2.6 0.0M178.1 240.2l0.5 -2.5M192.9 239.8l2.4 -1.1M237.2 238.9l1.2 2.3M247.1 238.7l0.0 2.6M256.9 238.9l-0.2 2.6M252.8 245.7l0.9 2.4M212.9 250.1l2.5 -0.5M282.0 247.2l0.2 -2.6M203.0 255.4l-0.7 -2.5M286.9 253.9l-0.8 -2.5M291.6 250.9l-0.2 -2.6M198.3 261.0l-0.3 -2.6M203.3 261.1l-0.3 -2.6M219.1 259.6l1.7 -1.9M223.6 260.4l2.4 -1.0M265.5 261.7l2.2 1.4M283.5 258.5l2.2 -1.4M287.0 259.0l0.5 -2.6M291.9 259.2l-0.1 -2.6M296.1 256.8l-0.9 -2.5M218.4 265.3l0.7 -2.5M234.4 263.6l1.4 -2.2M267.6 265.3l1.7 2.0M277.8 264.6l2.3 -1.2M289.0 261.5l1.4 -2.2M193.7 272.1l0.1 -2.6M203.5 271.6l0.2 -2.6M209.0 270.6l1.0 -2.4M274.8 272.1l2.1 1.6M198.7 276.1l-0.2 -2.6M277.4 275.6l1.7 1.9M282.8 275.7l2.3 1.2M302.5 273.1l0.5 -2.6" fill="none" stroke="#b4d8f1" stroke-width="1.25" stroke-linecap="round" stroke-opacity=".88"/>
<path d="M220.2 79.5l-2.3 -2.0M267.0 74.2l1.9 4.2M272.0 75.0l1.6 2.4M276.9 75.1l1.6 2.0M291.2 75.8l2.3 0.7M164.2 87.7l-0.1 -4.7M169.2 86.5l-0.1 -2.4M204.4 85.6l-0.8 -2.3M214.9 85.8l-1.8 -3.4M220.9 85.1l-3.4 -2.5M230.7 82.2l-3.0 1.4M233.2 81.2l0.5 2.4M250.8 83.2l-3.4 -0.8M262.4 80.1l1.4 3.4M276.4 79.4l2.9 4.2M282.0 80.6l1.6 1.7M291.5 80.6l2.2 1.4M168.8 92.3l0.6 -3.4M172.6 92.6l2.5 -4.2M178.2 93.1l1.5 -5.5M183.8 92.2l0.4 -3.7M203.1 87.4l1.1 2.4M215.7 88.0l-2.4 1.3M220.5 90.0l-2.3 -1.6M236.0 87.0l-3.5 2.1M253.9 89.7l-0.5 -2.3M266.9 85.8l2.3 2.6M277.3 84.9l1.6 3.7M347.4 88.5l0.6 -4.1M221.1 94.9l-3.0 -1.0M231.4 94.7l-3.9 -1.2M263.6 95.1l-0.0 -2.6M225.3 102.3l-2.0 -4.6M229.9 101.3l-1.3 -2.8M236.4 101.0l-3.9 -2.9M257.6 100.5l1.6 -2.6M270.0 99.6l-1.8 -1.6M318.9 99.6l-1.0 -3.6M208.8 107.5l0.8 -3.4M226.5 105.4l-3.5 -0.8M229.6 106.9l-0.7 -3.2M233.7 107.5l0.6 -4.7M239.9 107.7l-1.4 -5.2M246.3 105.1l-3.4 -1.1M257.9 106.3l1.4 -3.5M262.9 105.4l1.2 -1.9M268.2 105.6l0.8 -2.5M324.0 104.1l-0.9 -2.1M198.1 113.9l2.3 -5.1M215.3 112.4l-1.2 -2.8M221.2 112.2l-2.8 -2.9M230.3 112.8l-1.6 -4.2M235.4 112.5l-1.8 -4.0M240.5 112.2l-2.1 -3.5M249.5 111.8l-0.6 -3.2M329.0 110.0l-0.9 -3.3M338.6 109.4l-0.5 -2.6M201.8 115.5l4.4 0.8M236.1 116.4l-2.4 -1.5M241.2 116.7l-2.7 -2.1M280.1 115.7l-1.5 -1.9M324.7 115.5l-1.8 -3.4M329.1 114.9l-0.8 -2.4M344.4 114.4l-1.4 -2.3M223.0 120.0l2.0 1.2M241.7 120.7l-3.3 -0.2M169.6 125.2l0.9 3.4M173.7 125.4l2.2 3.0M181.9 125.3l5.3 3.1M188.6 125.0l2.0 3.1M175.2 129.9l0.1 4.6M179.7 129.9l0.9 4.3M193.5 129.7l2.4 4.1M200.0 129.8l0.1 3.6M210.5 129.8l-0.8 3.1M215.6 128.4l-1.2 5.7M218.7 130.2l1.5 2.0M224.0 129.4l1.1 3.4M241.4 130.6l-2.3 0.9M245.2 133.0l-0.8 -2.4M251.4 133.0l-2.8 -2.9M261.5 130.4l-2.8 0.7M171.2 135.9l-1.1 3.5M176.3 134.9l-1.3 5.2M189.6 135.2l1.1 4.0M193.7 135.2l2.3 3.9M205.1 135.4l-0.0 2.8M228.8 134.8l1.5 3.0M255.8 137.9l-1.5 -2.1M154.8 142.4l1.3 2.1M172.1 142.2l-2.0 1.9M189.3 140.4l1.7 4.4M193.3 140.0l3.4 5.0M198.5 140.5l2.9 3.9M203.7 141.7l2.0 1.6M215.5 140.0l-0.5 4.0M226.8 139.4l-2.8 4.8M230.1 140.5l-0.1 2.4M244.3 144.1l0.8 -3.1M255.2 143.9l-0.7 -3.2M260.2 144.7l-0.8 -4.9M319.7 136.6l-1.0 6.0M167.6 146.7l-2.8 3.9M180.4 147.0l0.3 2.3M189.2 147.1l1.8 1.9M193.8 146.0l2.6 3.8M197.8 147.3l4.2 1.6M208.4 147.7l2.7 0.6M246.0 148.9l-1.3 -2.1M255.6 150.5l-1.2 -5.6M259.7 149.2l0.2 -3.2M299.6 144.3l-0.2 2.3M314.2 143.8l0.1 2.4M323.6 142.8l0.8 4.1M362.7 146.0l1.4 -1.8M185.3 152.3l0.6 2.3M187.7 153.7l4.8 0.4M193.7 152.2l2.8 2.4M226.7 152.0l-1.8 1.5M165.3 161.9l1.1 -2.8M179.5 160.7l1.8 -1.5M190.2 157.6l0.8 2.2M194.0 158.4l2.3 1.0M202.8 157.5l4.6 2.3M228.1 158.4l-3.9 0.2M289.1 154.8l1.0 3.3M358.1 157.2l1.2 -2.4M164.0 166.8l3.4 -2.4M184.0 163.0l3.0 2.7M194.1 163.1l2.6 2.2M208.7 163.8l2.9 0.6M244.0 163.9l-5.8 -0.6M258.4 165.4l2.8 -3.7M265.1 165.6l0.1 -3.9M174.2 171.9l3.0 -2.3M180.3 171.8l1.2 -2.0M206.8 167.6l-1.3 3.0M209.5 167.6l1.9 3.0M264.5 171.2l1.2 -4.4M269.3 170.5l1.3 -3.2M288.1 168.8l2.6 -1.5M209.4 174.1l2.1 1.2M222.4 179.0l-1.8 1.5M232.5 182.1l-2.4 -3.4M236.1 182.6l-0.4 -4.3M258.9 180.5l2.3 -1.8M180.5 189.0l1.7 -4.1M197.3 187.6l-1.1 -2.0M208.9 185.1l-3.9 1.1M246.8 187.9l-1.5 -4.6M180.9 194.4l1.4 -4.1M192.4 195.0l-1.3 -5.7M197.3 193.3l-0.9 -2.5M246.3 193.2l-0.6 -4.5M280.2 191.9l0.6 -3.5M303.2 187.3l3.1 2.5M181.4 199.3l0.7 -3.1M187.1 200.3l-0.4 -5.2M192.4 198.9l-0.9 -2.9M201.3 199.1l0.5 -3.6M220.9 193.6l0.7 3.9M243.3 194.9l-3.1 1.2M251.8 193.8l-1.0 2.3M303.4 194.2l2.5 0.2M178.2 204.7l-1.6 -3.1M180.8 205.1l1.9 -4.0M197.4 204.0l-0.7 -2.4M222.3 199.1l-1.1 3.6M226.9 199.5l-0.6 2.6M231.0 198.2l0.7 5.1M191.0 206.1l1.3 2.0M217.1 203.8l-0.7 5.3M223.4 204.0l-2.8 4.8M227.9 204.4l-1.9 3.8M237.0 203.1l-0.8 5.8M241.5 203.9l-0.2 4.0M247.2 204.9l-1.2 2.0M256.9 204.3l-0.9 2.6M262.2 203.9l-1.5 3.2M295.9 208.6l-0.4 -5.3M186.6 211.4l0.9 2.2M190.5 211.1l2.5 2.8M212.1 208.9l-0.4 6.1M227.7 209.1l-1.5 4.9M231.0 209.0l1.0 5.0M237.7 209.1l-1.7 4.6M241.8 210.1l-0.4 2.3M246.0 209.1l0.7 4.1M280.2 214.3l1.4 -5.4M289.3 212.3l2.2 -2.1M175.0 218.1l-3.6 1.0M200.5 216.9l2.3 1.7M205.2 216.8l2.7 1.7M222.5 216.0l-0.8 2.2M227.5 215.9l-0.9 2.2M231.9 215.6l-0.1 2.5M241.7 215.4l-0.1 2.4M178.5 225.7l-1.1 -2.2M220.1 221.1l-4.9 3.4M225.1 221.9l-4.9 1.9M236.9 220.7l-0.1 2.7M294.2 221.8l2.5 -0.6M182.9 231.3l-0.2 -2.6M212.2 226.3l0.1 3.3M257.4 225.9l-0.8 2.3M267.7 225.4l-1.6 3.0M179.3 236.5l-2.0 -2.3M183.4 236.4l-0.7 -2.3M186.7 238.0l1.8 -5.6M191.2 237.1l2.3 -4.2M196.0 235.7l2.3 -1.8M204.8 234.1l4.2 0.1M233.0 232.0l-1.0 2.1M175.0 241.4l-2.6 -1.5M177.5 242.6l0.8 -3.7M183.2 242.2l-0.3 -3.1M190.5 240.9l3.6 -1.6M236.1 236.5l1.8 3.5M247.0 236.0l0.1 4.0M251.7 236.4l0.4 3.1M257.1 235.4l-0.3 4.8M261.1 236.0l1.1 3.3M273.8 237.8l-2.8 0.4M183.3 247.4l-0.3 -2.6M266.6 241.7l0.4 2.4M271.4 245.4l0.6 -2.6M277.0 245.2l-0.3 -2.4M205.9 250.7l2.7 -0.6M210.2 250.7l3.9 -0.8M277.2 251.1l-0.4 -3.5M291.9 250.6l-0.2 -3.0M306.5 250.1l-0.1 -2.8M203.9 258.6l-1.2 -4.5M211.6 257.0l1.9 -2.0M222.0 257.1l1.1 -2.4M226.9 256.8l1.1 -2.1M231.3 256.6l2.0 -2.1M277.9 255.8l-1.1 -2.3M287.7 256.3l-1.3 -3.6M297.2 256.1l-0.6 -3.5M309.2 253.7l3.4 -0.5M198.6 264.0l-0.4 -4.2M203.6 263.7l-0.5 -3.9M208.1 263.3l0.1 -3.4M219.9 261.9l4.9 -1.9M226.4 261.9l1.9 -1.8M286.5 262.1l0.8 -4.4M292.0 261.7l-0.2 -3.9M186.7 266.9l2.5 -0.1M207.9 268.2l0.6 -2.4M217.2 269.5l1.6 -5.4M265.5 262.8l3.0 3.5M274.4 266.3l4.5 -2.3M280.5 266.2l2.3 -2.0M182.0 272.5l2.4 -0.4M193.6 274.6l0.1 -3.8M203.3 274.7l0.4 -4.3M221.6 272.3l2.1 -1.1M232.0 272.6l1.4 -1.8M266.8 268.3l1.0 3.0M284.8 269.6l3.6 0.6M300.5 271.6l2.2 -2.9M307.2 271.4l-0.4 -2.4M208.6 279.0l0.0 -2.6M259.7 275.4l-2.5 0.8M271.6 273.6l1.4 3.1M275.8 273.7l2.5 2.8M279.7 274.0l4.2 2.3" fill="none" stroke="#f2f8fb" stroke-width=".75" stroke-opacity=".85"/>
<path d="M245.3 100.9l5.9 -3.5M335.4 111.2l-3.5 -6.1M230.0 120.3l-1.1 -8.5M169.2 129.1l-6.7 -2.3M188.4 128.0l3.0 7.7M204.5 128.3l0.9 6.3M179.7 132.2l1.3 10.3M184.7 133.5l1.1 7.6M176.2 139.8l-1.1 6.2M178.9 138.7l2.8 8.3M183.0 139.5l4.3 6.6M181.7 143.8l6.9 8.8M196.6 152.3l6.8 2.5M266.2 154.1l6.2 -3.4M197.1 155.9l6.3 5.5M173.3 179.0l5.4 -5.6M251.5 183.6l-1.5 -7.0M187.1 191.7l-1.0 -9.6M224.9 191.1l2.5 8.7M236.4 196.8l-0.0 7.6M241.3 196.1l-0.0 8.9M232.2 202.6l-1.1 6.9M289.4 210.3l2.4 -8.5M198.7 229.8l6.2 -1.5M250.5 239.7l2.8 7.1M281.5 252.6l0.6 -6.6M292.2 259.3l-0.8 -9.7M215.3 263.9l4.7 -5.3M257.1 256.5l9.5 5.9M278.5 261.6l6.1 -3.9M298.5 263.7l-2.8 -8.2M230.1 270.3l4.9 -7.8M283.8 269.9l5.9 -9.5M206.9 275.3l2.6 -5.9M268.1 267.0l7.7 5.9M199.0 281.1l-0.4 -6.4M301.3 279.6l1.4 -7.8" fill="none" stroke="#fffce0" stroke-width=".85" stroke-opacity=".95"/>
<use href="#grid"/>
</g>
<rect x="150.5" y="73.5" width="219" height="207.8" fill="none" stroke="#000" stroke-width="1.1"/>
<text x="150.9" y="62.6" font-size="13.89" text-anchor="middle">112.5°E</text>
<text x="157.1" y="298.7" font-size="13.89" text-anchor="middle">112.5°E</text>
<text x="213.5" y="62.6" font-size="13.89" text-anchor="middle">113°E</text>
<text x="219.2" y="298.7" font-size="13.89" text-anchor="middle">113°E</text>
<text x="276.1" y="62.6" font-size="13.89" text-anchor="middle">113.5°E</text>
<text x="281.2" y="298.7" font-size="13.89" text-anchor="middle">113.5°E</text>
<text x="338.7" y="62.6" font-size="13.89" text-anchor="middle">114°E</text>
<text x="343.3" y="298.7" font-size="13.89" text-anchor="middle">114°E</text>
<text x="142.9" y="97.1" font-size="13.89" text-anchor="end">21.6°S</text>
<text x="142.9" y="123.8" font-size="13.89" text-anchor="end">21.8°S</text>
<text x="142.9" y="150.4" font-size="13.89" text-anchor="end">22°S</text>
<text x="142.9" y="177.1" font-size="13.89" text-anchor="end">22.2°S</text>
<text x="142.9" y="203.7" font-size="13.89" text-anchor="end">22.4°S</text>
<text x="142.9" y="230.4" font-size="13.89" text-anchor="end">22.6°S</text>
<text x="142.9" y="257.1" font-size="13.89" text-anchor="end">22.8°S</text>
<text x="142.9" y="283.7" font-size="13.89" text-anchor="end">23°S</text>
<rect x="383.5" y="125.5" width="5.1" height="103.9" fill="url(#cb)" stroke="#000" stroke-width="1.1"/>
<path d="M389.1 125.50h4.8" stroke="#000" stroke-width="1.1"/>
<text x="398.4" y="130.0" font-size="13.89" letter-spacing="-.55">1.0</text>
<path d="M389.1 177.45h4.8" stroke="#000" stroke-width="1.1"/>
<text x="398.4" y="182.4" font-size="13.89" letter-spacing="-.55">0.5</text>
<path d="M389.1 229.40h4.8" stroke="#000" stroke-width="1.1"/>
<text x="398.4" y="234.9" font-size="13.89" letter-spacing="-.55">0.0</text>
</g>
<g transform="translate(328 252)">
<g clip-path="url(#cp)">
<rect x="150" y="73" width="220" height="209" fill="#97b6e1"/>
<use href="#heat"/>
<path d="M181 279.8H214.5V278.75H249V277.7H295V276.8H325V283H181z" fill="#97b6e1"/>
<use href="#land"/>
<path d="M154.3 79.4l-0.5 0.4M159.2 79.4l-0.4 0.1M193.8 79.0l-0.2 -0.8M199.1 78.6l-0.7 -0.1M233.3 77.5l0.2 0.3M238.7 77.9l-0.7 -0.6M258.3 77.3l-0.1 -0.4M263.4 76.9l-0.4 0.2M268.1 76.6l0.2 0.5M277.9 76.3l0.5 0.6M283.0 76.3l0.2 0.4M287.9 76.4l0.4 0.1M298.3 76.3l-0.6 -0.3M303.2 75.8l-0.6 0.4M308.0 76.1l-0.3 -0.3M323.0 75.2l-0.3 0.7M327.8 75.3l-0.0 0.4M332.5 75.2l0.4 0.3M347.6 74.8l0.1 0.4M352.5 75.0l0.1 -0.4M357.5 74.9l0.1 -0.4M362.6 74.8l-0.2 -0.3M159.0 84.6l0.3 0.6M183.6 84.6l0.7 -0.6M189.3 84.3l-0.8 -0.3M194.2 84.1l-0.6 -0.2M204.2 83.8l-0.8 -0.1M209.1 83.7l-0.7 0.0M213.6 83.2l0.2 0.7M218.6 83.2l0.2 0.5M223.3 83.1l0.7 0.3M228.4 83.2l0.4 0.1M233.4 83.3l0.4 -0.4M238.7 83.0l-0.4 -0.2M258.3 82.3l0.1 0.4M263.6 82.1l-0.4 0.5M287.9 81.5l0.4 0.5M293.1 81.5l0.1 0.4M298.5 81.8l-0.8 -0.5M303.5 81.5l-0.8 -0.1M308.2 81.4l-0.4 -0.1M313.3 81.2l-0.7 0.1M328.0 80.4l-0.2 0.9M332.8 80.4l0.0 0.6M342.6 80.4l0.3 0.2M347.5 80.4l0.4 -0.0M352.6 80.5l0.2 -0.6M357.6 80.3l0.2 -0.4M362.8 80.1l-0.3 -0.3M163.8 89.9l0.8 0.4M189.2 89.9l-0.4 -0.8M204.2 89.4l-0.5 -0.4M209.1 89.2l-0.3 -0.2M213.8 88.7l0.1 0.4M223.8 88.5l0.0 0.4M233.9 88.4l-0.4 0.2M243.5 88.5l0.3 -0.6M253.7 88.1l-0.3 -0.3M263.9 87.7l-0.8 0.2M273.4 87.1l-0.0 0.9M288.2 86.7l0.2 0.9M298.5 87.1l-0.6 -0.3M303.0 87.1l0.3 -0.6M308.5 86.9l-0.7 -0.4M323.3 86.3l-0.5 0.0M332.9 85.7l0.1 0.8M337.7 86.0l0.5 0.0M347.5 85.8l0.6 -0.2M352.5 85.7l0.5 -0.2M357.6 85.7l0.2 -0.3M363.0 85.8l-0.6 -0.8M154.7 95.7l-0.4 0.1M159.2 95.6l0.4 0.0M169.0 95.1l0.7 0.4M189.1 95.3l0.1 -0.9M214.0 94.1l0.0 0.4M219.4 94.2l-0.9 -0.1M223.6 93.9l0.7 0.3M228.6 94.1l0.6 -0.4M239.0 93.8l-0.4 -0.1M263.5 93.3l0.2 -0.4M283.4 92.4l0.1 0.5M298.4 91.8l-0.1 0.9M323.4 91.7l-0.6 0.0M328.3 91.7l-0.4 -0.1M333.0 91.3l0.1 0.4M338.1 91.2l-0.2 0.3M342.8 91.2l0.4 0.0M347.7 91.1l0.4 -0.1M352.8 91.2l0.2 -0.4M362.7 91.0l0.2 -0.5M154.8 101.0l-0.4 0.2M159.6 100.8l-0.0 0.4M164.1 100.6l0.8 0.5M169.2 100.4l0.7 0.6M174.1 100.5l0.8 0.3M184.0 100.2l0.7 0.4M189.3 100.7l0.0 -0.8M219.4 99.6l-0.6 -0.2M229.1 99.1l-0.2 0.4M233.6 99.0l0.7 0.3M238.9 98.9l0.1 0.4M243.6 99.0l0.6 -0.1M249.2 98.8l-0.8 0.2M258.7 98.2l0.0 0.9M278.9 98.0l-0.7 0.3M288.6 97.7l-0.1 0.5M293.6 98.2l-0.3 -0.8M298.4 97.9l0.1 -0.4M313.5 97.6l-0.3 -0.6M318.6 97.3l-0.6 -0.1M323.3 97.3l-0.2 -0.5M328.3 96.8l-0.2 0.4M333.2 96.7l-0.1 0.4M337.9 96.5l0.4 0.5M342.9 96.5l0.3 0.2M347.7 96.6l0.6 -0.2M352.8 96.7l0.3 -0.6M357.8 96.1l0.3 0.3M363.2 96.2l-0.6 -0.1M155.0 106.2l-0.4 0.5M159.5 106.3l0.4 -0.0M169.7 105.6l-0.2 0.9M174.2 105.7l0.8 0.5M179.2 105.8l0.6 0.1M219.1 105.3l0.2 -0.7M248.8 103.9l0.4 0.6M254.0 104.3l-0.1 -0.4M259.1 104.1l-0.4 -0.2M263.6 103.5l0.5 0.7M269.1 103.6l-0.6 0.3M274.0 103.4l-0.4 0.5M283.9 103.1l-0.4 0.7M288.8 103.2l-0.4 0.3M293.3 102.8l0.5 0.8M298.6 102.9l-0.1 0.4M303.5 102.5l0.1 0.9M308.3 102.9l0.4 -0.1M313.5 102.9l-0.1 -0.4M328.2 102.5l0.3 -0.3M333.2 102.0l0.1 0.4M343.1 101.8l0.2 0.4M348.0 101.6l0.2 0.5M352.9 101.6l0.3 0.2M358.0 101.4l0.1 0.4M362.9 101.9l0.3 -0.8M154.9 111.6l0.1 0.4M159.8 111.9l0.2 -0.3M164.6 111.4l0.4 0.3M184.3 111.2l0.7 -0.2M219.5 110.2l-0.4 0.1M248.9 109.3l0.4 0.5M253.8 109.0l0.4 0.9M258.8 109.2l0.3 0.3M263.8 109.3l0.4 -0.1M269.2 109.2l-0.5 -0.2M279.2 108.9l-0.8 -0.1M288.5 108.5l0.5 0.3M293.5 108.5l0.4 0.2M298.3 108.5l0.6 -0.1M303.4 108.3l0.4 0.1M308.8 108.4l-0.4 -0.4M313.3 107.9l0.4 0.3M318.6 108.1l-0.2 -0.3M323.8 107.8l-0.7 0.1M328.3 107.5l0.2 0.4M333.2 107.3l0.2 0.7M338.2 107.3l0.2 0.4M348.0 107.3l0.4 -0.1M353.2 106.9l0.0 0.5M358.1 106.8l0.1 0.4M155.3 117.2l-0.5 -0.1M159.7 116.8l0.6 0.5M164.8 116.7l0.3 0.4M169.7 116.6l0.4 0.5M194.5 116.6l0.3 -0.7M199.4 116.3l0.6 -0.4M214.6 115.3l-0.2 0.9M258.9 114.8l0.4 -0.2M264.5 114.5l-0.9 0.2M268.9 114.6l0.3 -0.3M278.9 114.1l0.1 0.4M283.8 114.0l0.2 0.3M288.7 113.8l0.2 0.5M293.4 114.1l0.8 -0.4M298.6 113.9l0.4 -0.2M303.7 113.9l0.1 -0.4M308.8 113.7l-0.3 -0.3M313.4 113.5l0.4 -0.2M318.4 113.3l0.4 0.1M323.7 113.3l-0.4 -0.2M328.4 112.9l0.2 0.3M333.2 113.0l0.5 -0.1M338.3 112.6l0.2 0.6M342.9 112.7l0.9 0.1M348.3 112.3l0.0 0.6M353.3 112.3l0.0 0.4M363.1 112.5l0.2 -0.3M155.2 122.3l-0.0 0.4M160.2 122.6l-0.1 -0.4M164.8 122.4l0.7 -0.1M169.6 122.3l0.8 -0.2M204.8 121.6l-0.1 -0.4M209.7 121.7l0.0 -0.9M219.8 121.0l-0.4 0.1M224.6 120.6l-0.2 0.7M229.5 120.4l-0.0 0.9M244.5 120.6l-0.2 -0.4M249.3 120.1l0.1 0.4M259.5 120.1l-0.5 0.0M264.2 120.4l-0.1 -0.9M279.1 119.4l-0.1 0.4M283.9 119.4l0.3 0.3M288.7 119.3l0.6 0.2M294.1 119.3l-0.4 -0.1M298.9 119.5l-0.1 -0.6M303.9 118.9l-0.2 0.4M308.8 119.2l-0.0 -0.5M313.8 118.6l-0.1 0.4M318.7 118.5l-0.1 0.4M323.4 118.3l0.4 0.6M328.5 118.3l0.2 0.4M333.4 118.3l0.4 0.0M338.2 118.1l0.6 0.3M343.6 117.8l-0.2 0.6M160.1 127.8l0.4 0.1M195.1 126.8l-0.3 0.4M200.4 126.9l-0.9 0.0M209.9 126.8l-0.1 -0.4M219.9 126.2l-0.3 0.5M229.4 126.1l0.5 0.1M239.2 125.8l0.6 0.2M249.6 125.4l-0.3 0.6M259.2 125.8l0.4 -0.7M264.4 125.5l-0.3 -0.3M269.3 125.4l-0.1 -0.4M274.2 125.4l0.1 -0.5M278.7 125.1l0.8 -0.2M288.8 125.0l0.5 -0.4M294.1 124.8l-0.1 -0.4M298.9 124.9l0.1 -0.6M314.0 124.3l-0.4 -0.1M318.9 123.9l-0.2 0.5M323.9 123.9l-0.4 0.1M328.9 123.7l-0.3 0.3M333.5 123.8l0.4 -0.2M338.4 123.5l0.3 0.2M363.8 123.3l-0.8 -0.4M155.2 133.2l0.5 0.2M160.4 133.5l0.1 -0.8M170.2 133.2l0.3 -0.5M190.3 132.7l-0.4 -0.5M200.4 132.4l-0.7 -0.3M215.0 132.0l-0.3 -0.3M220.2 131.5l-0.7 0.5M225.0 131.3l-0.4 0.8M230.0 131.3l-0.4 0.5M244.8 131.1l-0.4 0.2M249.9 130.9l-0.6 0.4M254.6 131.3l-0.2 -0.7M269.7 130.6l-0.6 0.0M274.3 130.9l0.0 -0.8M279.3 130.6l0.0 -0.4M284.2 130.5l0.1 -0.4M294.0 130.4l0.3 -0.8M303.9 130.0l0.2 -0.4M308.9 129.9l0.1 -0.4M319.1 129.6l-0.4 -0.2M328.7 129.0l0.1 0.4M333.9 129.3l-0.3 -0.3M363.7 128.8l-0.3 -0.7M165.3 138.6l0.4 -0.3M185.5 138.3l-0.3 -0.7M190.5 138.0l-0.4 -0.4M225.4 137.2l-0.8 -0.3M235.0 136.7l-0.4 0.2M239.5 136.3l0.5 0.8M244.5 136.4l0.5 0.3M249.3 136.4l0.7 0.0M264.8 136.3l-0.4 -0.5M274.6 136.0l-0.3 -0.3M279.3 135.9l0.1 -0.4M284.1 135.8l0.6 -0.4M288.9 135.7l0.8 -0.4M299.0 135.7l0.4 -0.7M304.2 135.4l-0.2 -0.5M308.9 135.3l0.3 -0.5M314.1 135.3l-0.2 -0.7M319.2 135.2l-0.4 -0.7M324.3 134.6l-0.7 0.3M329.1 134.5l-0.3 0.3M358.5 134.2l0.3 -0.6M363.7 133.9l-0.3 -0.3M155.8 144.2l0.0 -0.4M165.3 143.7l0.7 0.1M180.5 143.7l0.0 -0.5M185.4 143.5l0.1 -0.4M190.3 143.4l0.2 -0.3M195.6 143.1l-0.4 -0.0M215.2 143.0l-0.1 -0.8M244.6 141.9l0.5 0.1M270.0 141.4l-0.7 -0.1M274.7 141.4l-0.3 -0.3M279.3 141.0l0.4 0.2M284.2 141.0l0.5 0.1M289.1 140.9l0.7 0.0M294.0 140.7l0.8 0.1M299.1 140.5l0.4 0.3M304.0 140.9l0.5 -0.6M309.2 140.6l0.0 -0.4M314.3 140.5l-0.2 -0.3M319.2 140.4l-0.2 -0.3M324.4 140.1l-0.7 0.1M329.2 139.9l-0.4 0.2M358.4 139.4l0.7 -0.3M363.4 139.6l0.4 -0.8M155.9 149.6l-0.0 -0.4M161.0 149.5l-0.2 -0.5M165.7 148.7l0.2 0.9M170.9 148.9l-0.3 0.2M180.8 149.0l-0.2 -0.4M195.3 148.7l0.4 -0.5M205.6 148.2l-0.4 0.1M210.5 147.8l-0.2 0.6M239.6 147.4l0.9 0.0M259.6 147.4l0.4 -0.8M264.7 147.3l0.2 -0.9M269.9 146.8l-0.3 -0.2M274.8 146.8l-0.3 -0.3M279.4 146.5l0.5 -0.1M284.4 146.3l0.4 0.1M299.2 145.8l0.5 0.5M304.3 145.7l0.1 0.4M309.0 145.8l0.7 0.1M319.4 145.7l-0.4 -0.3M324.4 145.6l-0.5 -0.2M358.6 144.6l0.4 0.1M155.9 154.9l0.4 -0.4M161.2 154.7l-0.4 -0.2M171.1 154.1l-0.4 0.7M176.0 154.0l-0.2 0.5M180.4 154.0l0.9 0.3M200.6 153.5l-0.0 0.4M205.7 153.7l-0.4 -0.1M259.7 152.6l0.6 -0.6M264.8 152.6l0.2 -0.7M269.7 152.0l0.3 0.2M275.0 151.8l-0.4 0.5M279.6 151.7l0.3 0.3M284.7 151.4l-0.0 0.8M294.4 151.3l0.3 0.5M299.3 151.3l0.5 0.2M304.3 151.0l0.3 0.6M309.2 151.3l0.5 -0.2M319.7 151.1l-0.8 -0.3M363.6 149.8l0.6 0.3M155.9 160.0l0.5 0.2M161.4 159.9l-0.5 0.2M165.8 159.7l0.7 0.4M195.7 159.0l0.2 0.4M200.7 159.3l0.0 -0.4M205.9 159.3l-0.4 -0.7M269.7 157.5l0.5 0.0M275.1 157.5l-0.5 -0.2M279.9 157.1l-0.1 0.4M285.0 157.1l-0.4 0.1M289.7 156.9l0.2 0.3M294.5 156.8l0.4 0.3M299.8 156.7l-0.3 0.3M304.7 156.5l-0.2 0.3M309.7 156.7l-0.2 -0.3M314.5 156.7l-0.1 -0.4M319.5 156.5l-0.2 -0.3M324.6 156.2l-0.5 0.0M156.5 165.5l-0.4 -0.1M166.5 165.5l-0.5 -0.5M185.7 164.7l0.7 0.2M191.0 164.5l-0.1 0.4M205.6 164.5l0.3 -0.2M260.0 162.8l0.4 0.5M265.0 163.4l0.3 -0.9M270.3 163.1l-0.4 -0.5M275.2 162.9l-0.4 -0.4M280.2 162.6l-0.4 0.1M285.2 162.3l-0.6 0.4M290.1 162.4l-0.4 -0.1M294.9 162.1l-0.1 0.4M299.7 162.0l0.2 0.4M304.8 161.9l-0.3 0.3M309.4 162.2l0.4 -0.6M314.5 162.1l0.1 -0.4M363.8 160.6l0.6 0.2M156.3 170.6l0.4 0.6M200.6 169.9l0.9 -0.1M211.2 169.6l-0.6 0.1M235.2 168.8l0.8 0.5M240.5 168.6l0.2 0.6M260.0 168.5l0.6 0.0M265.0 168.4l0.5 -0.1M285.2 168.0l-0.4 -0.2M295.1 167.8l-0.3 -0.2M300.0 167.2l-0.3 0.7M305.0 167.3l-0.3 0.3M309.8 167.1l-0.1 0.4M314.9 167.3l-0.3 -0.3M320.0 167.3l-0.6 -0.4M359.3 166.0l-0.2 0.4M364.0 165.8l0.3 0.4M161.7 176.4l-0.3 -0.6M166.8 176.1l-0.6 -0.2M176.8 175.5l-0.8 0.5M196.3 175.1l-0.2 0.5M201.2 175.5l-0.1 -0.7M216.2 175.1l-0.5 -0.5M235.9 174.4l-0.4 -0.0M245.4 174.0l0.4 0.3M255.1 173.9l0.9 0.1M260.2 174.0l0.4 -0.2M270.3 173.8l0.0 -0.4M275.3 173.9l-0.0 -0.9M285.3 173.4l-0.3 -0.3M290.3 173.2l-0.4 -0.0M300.2 173.0l-0.4 -0.2M305.1 172.8l-0.4 0.1M310.1 172.7l-0.4 -0.1M314.9 172.8l-0.2 -0.4M320.0 172.5l-0.4 -0.1M359.5 171.4l-0.4 0.3M364.4 171.4l-0.4 0.2M156.9 181.3l-0.3 0.5M162.0 181.4l-0.6 0.2M166.9 181.4l-0.4 -0.0M172.1 181.3l-0.9 -0.1M201.2 180.1l0.1 0.9M206.4 180.4l-0.5 0.1M226.3 180.2l-0.6 -0.4M260.7 179.1l-0.3 0.2M265.3 179.0l0.3 0.2M270.7 179.1l-0.5 -0.2M275.6 178.9l-0.4 -0.1M285.2 178.9l0.0 -0.6M290.4 178.8l-0.4 -0.5M295.3 178.5l-0.4 -0.2M310.2 177.9l-0.5 0.3M364.2 176.7l0.2 0.3M157.3 186.9l-0.7 0.1M162.0 186.7l-0.2 0.3M167.0 186.6l-0.3 0.3M172.0 186.7l-0.4 -0.1M177.0 186.7l-0.7 -0.4M186.7 186.4l-0.4 -0.2M191.7 185.8l-0.4 0.8M196.5 185.8l-0.1 0.4M206.5 185.7l-0.4 0.2M211.2 185.5l0.1 0.4M221.1 185.7l-0.0 -0.5M230.9 184.9l0.2 0.7M236.0 185.3l-0.1 -0.4M245.6 184.8l0.5 0.3M250.6 184.5l0.4 0.6M255.6 184.4l0.4 0.5M265.6 184.1l0.1 0.7M270.8 184.5l-0.4 -0.4M280.7 184.3l-0.6 -0.3M290.5 184.0l-0.4 -0.2M295.5 183.8l-0.5 -0.1M300.4 183.6l-0.4 0.1M305.3 183.6l-0.4 -0.1M310.3 183.1l-0.5 0.7M315.1 183.2l-0.2 0.3M162.2 192.3l-0.4 -0.2M167.1 192.0l-0.3 0.2M172.1 191.9l-0.4 0.2M176.8 192.1l-0.0 -0.5M181.8 192.1l-0.0 -0.7M186.5 191.8l0.5 -0.3M191.7 191.7l-0.1 -0.4M201.6 191.4l-0.3 -0.3M206.6 191.1l-0.4 0.1M216.5 190.9l-0.4 0.2M221.1 191.1l0.3 -0.5M231.0 190.5l0.3 0.2M240.8 190.3l0.5 0.3M246.0 189.8l-0.1 0.9M255.7 190.0l0.4 0.1M260.6 189.9l0.4 0.1M265.8 190.0l-0.1 -0.4M275.5 189.8l0.2 -0.3M280.7 189.6l-0.3 -0.3M290.5 189.5l-0.1 -0.4M295.6 189.2l-0.4 -0.1M300.3 188.9l-0.0 0.4M305.0 189.1l0.4 -0.4M310.2 188.6l0.1 0.4M157.4 197.5l-0.3 0.4M162.3 197.4l-0.3 0.3M167.4 197.7l-0.5 -0.5M172.0 197.5l-0.0 -0.4M191.5 196.9l0.6 -0.1M202.0 196.8l-0.7 -0.3M206.8 196.4l-0.3 0.2M211.8 196.7l-0.6 -0.5M216.5 196.6l0.0 -0.6M226.0 196.0l0.6 0.1M231.2 195.7l0.1 0.6M235.9 195.7l0.6 0.3M240.7 195.7l0.9 0.2M250.7 195.8l0.7 -0.6M255.8 195.5l0.4 -0.1M265.8 195.4l0.1 -0.5M270.9 195.3l-0.1 -0.4M276.1 195.3l-0.7 -0.6M280.8 195.1l-0.3 -0.4M285.8 194.8l-0.4 -0.1M290.6 194.8l-0.2 -0.4M295.5 194.9l-0.1 -0.7M300.5 194.6l-0.2 -0.3M305.2 194.3l0.4 0.1M310.0 194.0l0.7 0.4M157.5 203.2l-0.3 -0.3M162.5 203.0l-0.3 -0.2M167.3 203.0l-0.2 -0.3M172.4 202.7l-0.5 -0.0M177.3 202.4l-0.5 0.4M181.9 202.3l0.2 0.3M186.9 202.6l0.2 -0.5M206.5 201.9l0.4 0.1M211.9 201.9l-0.4 -0.1M216.7 201.9l-0.3 -0.4M221.5 201.3l0.1 0.7M231.4 201.1l0.0 0.6M236.5 201.4l-0.3 -0.3M285.9 200.3l-0.4 -0.3M290.9 200.0l-0.4 0.1M300.3 200.0l0.4 -0.3M157.4 208.6l0.3 -0.4M162.8 208.5l-0.8 -0.4M167.5 208.3l-0.3 -0.2M172.4 207.9l-0.2 0.3M177.2 208.2l0.2 -0.4M181.8 208.1l0.7 -0.5M186.9 207.9l0.3 -0.4M207.1 207.3l-0.5 -0.1M211.6 207.1l0.4 0.1M221.9 207.3l-0.4 -0.7M226.5 206.7l0.1 0.4M231.4 207.0l0.3 -0.5M256.2 206.4l0.1 -0.5M286.0 205.4l-0.4 0.2M291.0 205.3l-0.4 0.1M300.5 205.2l0.4 -0.1M305.3 204.7l0.5 0.8M157.5 213.9l0.2 -0.3M162.6 213.9l-0.0 -0.4M177.6 213.0l-0.5 0.6M192.1 212.6l0.2 0.7M211.8 212.7l0.2 -0.4M227.0 212.2l-0.4 0.1M232.0 212.1l-0.7 -0.0M236.4 212.1l0.5 -0.2M241.2 211.8l0.7 0.1M246.3 211.9l0.3 -0.4M251.0 211.8l0.8 -0.2M261.0 211.7l0.6 -0.4M271.3 211.5l-0.3 -0.6M359.9 208.9l0.1 0.6M157.6 219.2l0.4 -0.0M163.2 219.0l-0.9 -0.0M167.9 219.1l-0.4 -0.3M177.6 218.3l-0.2 0.8M182.4 218.4l0.0 0.4M202.1 217.7l0.2 0.8M206.9 217.6l0.5 0.8M211.8 218.2l0.5 -0.6M217.2 218.2l-0.3 -0.7M227.1 217.6l-0.4 -0.1M231.7 217.6l0.2 -0.3M236.9 217.2l-0.4 0.4M246.1 217.1l0.9 0.1M251.4 216.9l0.3 0.3M256.2 217.0l0.4 -0.1M266.2 216.9l0.2 -0.4M271.6 216.9l-0.6 -0.6M276.0 216.6l0.4 -0.2M281.5 216.4l-0.7 0.0M157.6 224.7l0.6 -0.3M162.9 224.6l-0.0 -0.4M168.0 224.4l-0.3 -0.2M173.1 224.5l-0.7 -0.6M177.9 224.0l-0.5 0.2M192.4 223.6l0.2 0.4M197.2 223.5l0.3 0.2M212.1 223.6l0.2 -0.7M227.0 223.2l0.0 -0.5M232.2 223.2l-0.5 -0.8M236.6 222.8l0.4 -0.1M241.9 222.8l-0.2 -0.4M246.5 222.6l0.4 -0.2M256.4 222.2l0.3 0.3M261.4 221.7l0.3 0.9M266.6 221.9l-0.3 0.4M271.2 221.9l0.4 0.2M276.5 222.1l-0.3 -0.4M286.5 221.7l-0.7 -0.2M157.8 229.7l0.6 0.4M162.9 229.9l0.2 -0.3M167.8 229.8l0.3 -0.3M173.3 229.6l-0.9 -0.2M192.9 229.1l-0.5 0.0M211.9 228.9l0.8 -0.4M217.1 228.3l0.3 0.5M222.2 228.7l-0.1 -0.5M227.0 228.5l0.1 -0.4M237.3 228.2l-0.6 -0.2M242.2 228.2l-0.6 -0.5M246.9 227.7l-0.1 0.4M257.0 227.5l-0.6 0.3M266.3 227.4l0.5 0.1M276.5 227.4l-0.2 -0.4M163.3 235.3l-0.2 -0.3M168.1 235.4l-0.1 -0.7M173.1 235.3l-0.2 -0.8M177.6 235.2l0.6 -0.7M188.1 234.8l-0.5 -0.5M192.6 234.9l0.2 -0.8M207.4 234.2l0.3 -0.2M222.4 234.0l-0.1 -0.4M227.2 234.0l0.0 -0.5M232.1 233.3l0.1 0.5M237.4 233.7l-0.6 -0.5M247.2 233.4l-0.5 -0.2M261.7 232.6l0.0 0.6M266.4 232.6l0.6 0.4M271.7 232.5l-0.2 0.3M296.6 232.4l-0.6 -0.5M158.2 240.5l0.4 0.1M168.2 240.6l-0.1 -0.4M178.3 240.2l-0.4 -0.1M202.3 239.7l0.8 -0.1M207.5 239.4l0.3 0.2M227.3 239.3l0.1 -0.4M242.3 238.6l-0.3 0.3M247.3 238.8l-0.5 -0.3M257.0 238.2l-0.2 0.4M262.0 238.0l-0.2 0.6M276.3 238.1l0.7 -0.2M281.3 237.9l0.5 -0.2M291.4 238.1l0.0 -0.9M158.2 245.9l0.5 0.1M163.2 246.0l0.4 -0.2M168.0 245.9l0.6 -0.2M173.4 245.8l-0.2 -0.4M188.1 245.5l0.0 -0.5M192.8 245.5l0.4 -0.7M202.9 245.3l-0.1 -0.7M207.7 245.1l0.1 -0.4M222.3 244.8l0.6 -0.4M227.3 244.8l0.3 -0.8M232.1 244.5l0.7 -0.3M237.5 244.3l-0.4 -0.2M242.5 244.1l-0.4 0.0M247.4 243.8l-0.4 0.5M252.5 243.7l-0.6 0.3M257.3 243.5l-0.4 0.5M267.0 243.2l-0.1 0.6M271.6 243.6l0.5 -0.2M276.4 243.5l0.7 -0.3M281.4 243.3l0.6 -0.1M286.5 243.3l0.3 -0.3M291.8 243.4l-0.5 -0.8M306.7 242.7l-0.7 0.0M158.6 251.5l0.0 -0.4M163.6 251.4l-0.1 -0.4M168.5 251.3l0.1 -0.4M173.2 251.2l0.5 -0.4M188.1 250.9l0.3 -0.4M198.2 250.3l-0.2 0.3M202.8 250.4l0.4 -0.2M207.9 249.8l-0.0 0.8M237.4 249.8l0.2 -0.3M247.4 249.1l-0.1 0.6M252.5 249.0l-0.4 0.5M267.2 248.9l-0.4 0.2M272.2 249.1l-0.4 -0.5M281.5 248.7l0.6 -0.2M286.9 248.8l-0.3 -0.6M296.8 248.3l-0.4 -0.0M306.3 248.0l0.4 0.1M158.7 256.5l0.1 0.4M164.0 256.4l-0.6 0.5M168.4 256.5l0.4 -0.1M173.6 256.6l0.0 -0.4M183.5 256.0l-0.1 0.4M188.1 256.0l0.5 0.0M193.3 256.4l-0.0 -0.9M198.0 255.6l0.5 0.4M247.5 255.0l0.0 -0.4M262.1 254.2l0.4 0.4M266.9 254.3l0.5 0.1M272.3 254.1l-0.4 0.2M282.2 254.3l-0.5 -0.5M291.9 254.0l-0.1 -0.4M297.1 253.4l-0.7 0.5M311.4 253.2l0.1 0.4M159.1 262.0l-0.4 0.1M163.9 262.2l-0.0 -0.4M169.0 261.7l-0.4 0.3M173.7 261.9l0.1 -0.4M178.8 261.7l-0.4 -0.1M183.2 261.6l0.7 -0.1M188.4 261.6l0.3 -0.3M193.2 261.1l0.4 0.4M247.8 260.2l-0.4 -0.1M252.5 259.8l0.0 0.4M257.2 259.5l0.4 0.8M267.2 259.5l0.3 0.3M272.0 259.5l0.4 0.3M282.2 259.4l-0.4 -0.2M297.0 259.1l-0.3 -0.2M302.0 258.6l-0.5 0.6M306.8 258.6l-0.2 0.4M159.3 267.7l-0.4 -0.5M164.2 267.5l-0.3 -0.3M173.7 267.0l0.3 0.3M178.6 267.1l0.3 -0.3M183.3 266.9l0.9 0.0M188.5 266.6l0.2 0.5M198.2 266.5l0.6 0.1M228.2 265.9l-0.4 0.1M233.2 265.8l-0.6 0.1M242.9 265.8l-0.2 -0.3M248.2 265.5l-0.9 0.0M257.4 265.2l0.4 0.3M267.3 265.2l0.2 -0.3M272.4 265.3l-0.2 -0.8M277.1 264.8l0.4 0.0M282.2 265.0l-0.1 -0.5M287.3 264.8l-0.4 -0.4M302.1 264.0l-0.5 0.6M306.7 264.0l0.1 0.5M311.7 263.9l0.1 0.5M164.1 273.0l0.1 -0.6M169.0 272.8l0.1 -0.4M178.9 272.6l0.1 -0.4M183.7 272.4l0.3 -0.2M188.9 272.0l-0.3 0.2M198.7 271.8l-0.3 0.3M203.3 271.8l0.4 0.1M208.2 271.8l0.6 -0.1M213.2 271.5l0.3 0.2M218.6 271.6l-0.7 -0.2M228.3 271.3l-0.4 0.1M243.1 271.0l-0.4 -0.1M248.1 271.0l-0.5 -0.2M253.1 270.6l-0.6 0.3M262.4 270.7l0.3 -0.3M267.2 270.7l0.7 -0.6M282.3 270.3l-0.0 -0.4M287.3 270.3l-0.2 -0.6M297.3 269.7l-0.5 0.2M302.3 269.8l-0.6 -0.1M307.0 269.7l-0.2 -0.3M169.3 278.2l-0.2 -0.6M174.3 277.8l-0.4 0.0M179.4 277.6l-0.8 0.2M184.3 277.7l-0.6 -0.1M208.4 276.8l0.4 0.6M213.5 277.3l-0.0 -0.5M223.4 277.0l-0.1 -0.4M238.4 276.8l-0.5 -0.7M253.2 276.3l-0.6 -0.4M257.7 276.4l0.1 -0.7M262.5 275.9l0.5 -0.0M282.4 275.9l0.0 -0.9M287.4 275.7l-0.0 -0.6M307.3 274.7l-0.7 0.4M316.7 274.6l0.3 0.4" fill="none" stroke="#5f8fc6" stroke-width="1.05" stroke-linecap="round" stroke-opacity=".85"/>
<path d="M173.4 79.1l1.9 0.0M178.7 79.5l0.5 -1.7M189.1 79.1l-1.1 -1.3M228.2 77.5l1.0 1.0M243.9 77.4l-1.9 0.1M248.6 76.9l-0.7 1.6M253.7 77.5l-1.5 -0.8M272.8 76.9l1.4 -0.5M292.6 76.4l1.6 -0.5M313.3 75.7l-1.5 0.3M318.2 75.2l-1.2 1.6M337.7 74.6l-0.1 2.2M342.1 74.8l1.9 1.0M154.6 84.7l-1.5 1.0M168.7 84.7l1.4 -0.2M173.7 84.4l1.3 0.2M178.6 84.8l1.2 -1.3M243.7 83.3l-0.7 -1.7M248.8 83.1l-1.3 -1.1M253.8 82.5l-1.4 0.3M278.0 81.4l0.7 2.1M337.7 80.2l0.4 1.5M159.7 90.0l-1.5 0.9M168.7 89.9l1.8 0.2M173.7 89.5l1.8 1.2M199.2 89.8l-0.6 -1.8M218.7 88.4l0.5 1.6M249.0 88.2l-1.3 -0.3M259.1 87.9l-2.2 -0.3M268.8 87.4l-1.3 0.7M292.7 87.2l1.8 -0.7M313.4 86.8l-1.2 -0.9M318.6 86.4l-1.8 0.0M327.8 85.8l0.5 1.3M342.4 85.6l1.6 0.7M164.0 95.3l1.4 0.6M173.9 95.6l1.3 -1.4M199.4 95.0l-0.9 -1.2M233.4 93.8l1.6 -0.0M243.7 94.2l0.1 -2.0M248.8 93.9l-0.3 -1.4M258.9 93.7l-1.0 -1.5M274.0 93.0l-1.7 -0.4M278.9 92.5l-1.5 1.0M292.9 92.2l1.6 0.6M303.4 92.6l-0.4 -1.5M307.9 92.5l1.2 -1.6M313.6 92.0l-1.6 -0.3M318.7 92.1l-1.8 -1.0M357.6 91.3l0.8 -1.5M179.0 100.4l1.5 0.2M204.5 100.2l-1.2 -0.9M209.5 100.2l-1.4 -1.5M224.4 99.0l-1.3 1.4M253.3 98.8l1.7 -0.2M264.3 98.6l-1.9 -0.4M269.0 98.6l-1.2 -0.8M303.4 98.0l-0.1 -1.5M164.5 105.7l0.5 1.7M184.5 105.3l0.1 1.4M194.4 106.0l0.2 -1.6M204.5 105.8l-0.7 -1.7M213.9 105.5l1.3 -1.7M229.6 104.7l-1.6 -0.0M233.9 104.0l0.8 1.9M238.8 103.9l0.8 1.8M243.5 104.0l1.8 1.2M278.4 103.1l0.9 1.5M318.3 103.1l0.2 -1.7M323.4 102.9l-0.2 -1.5M338.1 101.7l0.4 1.4M169.4 111.3l1.5 0.4M189.5 111.4l0.3 -1.3M199.0 110.8l1.8 -0.2M209.6 110.9l-0.5 -1.3M214.3 110.8l0.4 -1.3M229.6 109.6l-1.3 1.5M239.0 109.3l0.4 1.9M274.2 108.8l-1.3 0.9M284.2 108.5l-1.3 0.8M342.9 107.2l1.2 0.6M185.0 116.0l-0.9 1.7M204.9 116.3l-1.2 -0.9M209.4 116.3l0.6 -1.4M219.2 115.3l0.9 1.4M234.1 114.8l0.6 1.8M243.9 114.7l1.2 1.2M248.8 114.5l1.3 1.7M274.3 114.0l-1.2 1.5M174.6 122.1l1.6 -0.2M179.6 122.2l1.2 -0.8M184.8 122.3l0.4 -1.5M190.4 121.9l-1.7 -0.5M195.0 122.1l-0.7 -1.9M199.8 121.0l0.1 1.6M214.8 121.6l-0.6 -1.4M268.8 119.9l1.3 -0.0M273.8 120.1l1.0 -1.3M155.0 128.4l1.1 -1.9M170.1 128.0l0.3 -1.6M174.9 127.9l1.0 -1.7M179.9 127.9l0.8 -1.9M185.3 127.7l-0.8 -1.6M190.3 127.4l-0.9 -1.0M204.7 127.1l0.5 -1.4M224.3 125.8l1.4 1.7M234.6 125.6l-0.1 1.5M244.2 125.4l1.1 1.3M283.7 125.0l1.4 -0.4M303.6 124.8l1.3 -1.1M309.4 124.5l-1.6 -0.5M165.3 133.5l0.1 -1.7M174.9 133.2l1.4 -1.2M234.4 131.0l0.9 1.5M259.4 131.4l0.4 -1.9M298.9 130.3l0.7 -1.2M314.4 129.7l-1.7 -0.3M324.3 129.4l-1.4 -0.1M156.1 138.9l-1.7 -0.8M170.2 138.6l1.0 -1.1M195.4 138.1l-0.5 -1.3M200.6 137.8l-1.4 -0.8M210.4 137.6l-1.2 -0.9M215.4 137.0l-1.3 0.8M220.4 137.0l-1.5 0.6M229.7 136.5l0.7 1.5M254.6 136.8l0.1 -1.6M293.8 135.4l1.5 -0.0M175.0 143.7l2.0 -0.5M205.7 143.2l-1.5 -1.1M225.1 141.8l-0.0 2.1M239.3 142.1l2.0 -0.1M259.6 142.1l0.4 -1.9M175.3 148.9l1.6 0.1M185.4 149.1l0.7 -1.3M190.3 149.1l1.0 -1.7M200.8 148.9l-1.1 -1.9M289.2 146.0l1.1 1.0M294.0 146.1l1.6 0.3M314.7 145.7l-1.4 0.0M363.4 144.4l1.4 0.5M186.0 153.8l-1.0 1.1M211.0 153.7l-1.8 -0.9M230.5 152.6l-0.9 1.3M249.7 152.7l1.3 -0.6M289.5 151.2l0.6 1.4M314.9 151.4l-1.7 -1.0M324.7 150.9l-1.5 -0.1M181.1 159.0l-0.6 2.0M190.7 159.0l0.6 1.2M216.0 158.8l-1.7 -0.4M240.0 157.9l1.1 0.9M244.7 158.1l2.0 -0.2M264.7 157.9l1.1 -1.0M358.6 155.2l1.6 0.7M176.4 164.6l-1.0 1.6M196.2 165.1l-1.0 -1.9M221.0 164.2l-1.3 -0.6M226.0 163.6l-1.4 1.1M230.5 163.3l0.1 1.5M240.4 163.1l0.1 1.6M244.9 163.7l1.5 -0.8M249.9 163.4l1.4 -0.2M254.8 163.3l1.5 -0.2M354.0 160.5l0.7 1.4M358.9 160.3l0.9 1.6M161.7 170.4l-0.8 1.3M181.7 170.2l-1.8 0.3M186.4 169.8l-0.8 1.4M195.5 169.8l1.8 0.4M205.6 170.2l1.1 -1.6M250.0 168.5l1.3 0.7M280.6 168.1l-1.6 -0.4M290.4 167.6l-1.3 0.6M156.3 175.9l1.0 1.0M172.1 175.8l-2.1 0.3M181.8 175.6l-1.8 0.2M186.6 175.1l-1.0 1.5M191.6 175.0l-1.2 1.3M226.3 174.3l-1.6 1.1M231.1 174.7l-1.2 -0.7M240.4 173.9l0.8 1.2M250.0 173.9l1.8 0.4M265.4 174.2l-0.1 -1.7M280.7 173.8l-1.8 -1.3M295.5 172.9l-1.5 0.4M186.9 180.8l-1.7 0.3M191.9 181.1l-1.7 -1.1M196.3 180.2l-0.0 1.5M211.4 180.9l-0.8 -1.9M240.7 179.2l0.3 1.5M245.7 179.1l0.2 1.6M250.6 179.0l0.4 1.5M255.3 179.0l1.0 1.0M280.5 179.1l-0.7 -1.2M315.3 178.0l-1.4 -0.2M182.1 186.3l-1.7 0.4M201.7 185.5l-1.2 1.6M226.4 185.0l-0.9 1.2M240.5 184.8l1.4 0.9M260.1 184.6l1.8 -0.2M275.9 184.6l-1.4 -1.1M157.5 192.2l-1.4 0.2M212.0 191.1l-2.1 -0.2M225.7 190.6l1.8 0.5M235.7 190.4l1.4 0.5M250.4 190.2l1.9 -0.2M270.7 190.3l-0.1 -1.9M285.9 189.7l-1.4 -1.0M182.0 197.6l-0.4 -1.9M186.6 197.4l0.7 -1.3M196.4 197.0l1.1 -0.9M222.0 196.1l-2.0 0.4M245.6 195.5l1.9 0.4M191.5 202.4l1.3 -0.6M201.6 201.5l0.7 1.8M226.9 201.7l-1.5 -0.8M245.9 201.4l1.3 -1.2M250.8 201.2l1.3 -0.8M276.1 200.7l-1.0 -1.1M281.1 200.6l-1.2 -1.1M295.7 199.4l-0.4 1.9M305.2 199.4l1.1 0.8M359.2 198.6l2.0 -0.3M191.8 208.0l0.9 -1.4M201.5 207.5l1.5 -0.4M217.2 207.4l-1.8 -1.2M236.0 206.8l1.8 -0.6M261.0 206.5l0.5 -1.5M271.0 206.4l0.1 -2.1M276.4 206.1l-1.7 -1.3M281.3 206.0l-1.4 -1.3M296.0 204.9l-1.0 1.3M364.5 204.2l1.0 -1.6M167.9 213.5l-1.4 0.2M172.8 213.1l-1.3 1.0M182.6 212.9l-1.1 1.3M187.1 212.5l0.6 2.0M196.8 212.7l1.2 0.5M206.7 212.9l1.1 -0.9M266.3 211.9l-0.3 -1.9M276.5 211.1l-1.6 0.0M281.4 211.1l-1.5 -0.4M291.2 210.4l-0.9 1.3M296.0 210.1l-0.5 2.1M300.7 210.1l0.1 1.6M173.2 218.6l-2.1 0.9M187.2 218.0l0.6 1.8M196.7 218.0l1.9 1.0M222.0 218.3l-0.4 -2.1M241.7 216.8l-0.0 1.5M261.5 217.4l-0.2 -2.0M286.3 215.9l-0.9 1.2M291.5 215.8l-1.8 1.1M182.9 224.3l-1.0 -1.1M201.8 223.5l2.0 0.1M206.7 223.7l2.0 -1.0M252.1 222.0l-1.7 1.4M281.7 221.6l-1.5 0.5M291.7 221.4l-2.2 0.4M296.3 221.0l-0.8 1.3M178.2 229.7l-1.5 -1.1M188.2 229.2l-1.7 0.1M197.6 229.4l-0.1 -1.4M202.1 229.2l1.1 -1.1M232.4 228.6l-1.1 -1.5M261.6 227.1l0.2 1.7M271.2 227.5l1.2 -0.7M281.6 227.5l-0.9 -1.2M296.7 227.0l-1.8 -0.7M157.7 235.4l1.9 -0.6M183.2 234.8l-1.3 -0.4M197.3 234.7l1.3 -1.1M242.4 233.7l-1.2 -1.1M256.6 232.6l0.7 1.4M276.4 233.0l0.7 -1.4M281.4 233.0l0.4 -1.7M286.6 232.8l-0.5 -1.4M291.7 232.6l-1.3 -1.1M163.3 240.9l-0.1 -1.6M173.1 240.7l0.1 -1.4M182.9 240.6l0.4 -1.7M188.3 240.4l-1.4 -1.7M197.6 240.2l0.5 -1.8M212.1 239.8l1.6 -1.5M217.1 239.4l1.4 -0.3M231.9 238.9l1.5 0.2M252.6 238.2l-1.9 1.1M266.9 237.7l-0.2 1.6M286.8 238.2l-0.8 -1.6M296.7 237.8l-1.2 -0.8M301.9 237.6l-2.2 -0.4M178.0 245.9l0.6 -1.2M217.2 244.6l1.4 0.1M262.3 243.2l-1.0 1.6M296.9 243.3l-1.2 -1.5M301.9 242.5l-1.7 0.9M178.1 251.2l0.8 -1.2M183.0 251.1l1.0 -1.1M217.9 249.5l-0.4 1.9M227.9 249.5l-0.8 1.2M232.7 249.3l-0.4 1.4M242.8 249.1l-1.5 1.2M257.2 248.7l-0.0 1.5M261.9 248.5l0.7 1.8M276.7 248.4l0.8 1.2M311.3 247.5l0.2 1.7M178.0 256.3l1.6 -0.1M222.7 254.8l0.6 1.8M228.1 254.8l-1.3 1.2M232.5 254.6l0.7 1.7M242.3 254.3l0.7 1.8M277.4 254.4l-1.2 -1.0M306.6 253.0l0.1 1.5M203.6 260.7l-1.4 1.4M208.5 260.5l-1.0 1.7M218.3 260.5l-1.0 1.0M228.0 260.1l-0.5 1.8M233.3 260.0l-1.7 1.4M261.9 259.9l1.5 -0.4M287.4 259.0l-1.4 0.8M311.6 258.2l-0.1 1.6M169.2 267.5l-0.9 -1.0M218.3 265.6l-0.5 2.0M223.3 265.7l-0.7 1.2M238.5 265.7l-2.1 -0.1M262.9 265.4l-1.5 -1.0M316.1 264.2l2.0 -0.8M193.4 271.7l1.1 1.1M223.6 271.3l-1.4 0.2M233.4 271.5l-1.2 -0.9M238.3 271.3l-1.1 -0.8M272.0 270.6l1.7 -0.8M312.1 269.7l-1.0 -0.9M316.5 268.8l0.9 1.9M164.0 278.6l0.8 -1.9M194.2 277.1l-1.2 1.3M199.2 277.4l-1.6 -0.2M227.9 276.5l1.3 0.6M292.8 275.4l-1.8 -0.4M297.7 275.2l-1.8 0.0M302.5 275.3l-1.5 -1.0" fill="none" stroke="#74a8d8" stroke-width="1.25" stroke-linecap="round" stroke-opacity=".88"/>
<path d="M203.9 78.1l-1.4 2.2M208.1 77.9l2.0 1.6M218.6 77.4l-0.1 2.4M163.4 84.8l2.4 -0.2M199.5 84.0l-2.5 -0.2M268.5 81.6l-0.7 2.2M273.1 81.4l0.5 2.6M283.2 81.3l-0.2 2.6M318.7 81.0l-2.6 0.2M323.0 80.7l-0.8 2.5M154.8 89.9l-1.8 1.9M178.7 89.7l2.6 0.3M183.9 90.1l1.2 -2.3M239.1 88.9l-1.5 -2.0M278.2 86.9l0.9 2.5M282.9 86.9l1.9 1.7M183.7 95.0l2.6 0.1M253.8 94.0l-0.5 -2.4M268.9 93.4l-1.7 -2.0M199.5 100.2l-2.0 -1.7M214.3 99.7l-2.3 -1.3M274.2 98.0l-2.0 1.0M283.4 97.7l1.1 2.4M308.3 98.1l0.2 -2.3M188.8 105.4l2.4 0.6M174.1 111.5l2.5 -0.7M179.4 110.6l0.9 2.1M194.3 111.5l0.7 -2.2M244.2 109.4l-0.4 2.6M174.9 116.3l-0.4 2.6M179.7 115.9l0.5 2.4M189.7 115.6l0.2 2.5M239.2 114.5l0.4 2.6M234.2 120.1l1.1 2.4M239.4 119.9l0.2 2.6M164.7 128.2l1.8 -1.9M254.5 126.2l-0.4 -2.6M180.2 133.1l0.1 -2.6M185.3 133.3l-0.5 -2.6M195.5 133.0l-1.4 -2.2M205.6 131.9l-2.5 0.7M239.1 130.9l2.1 1.3M264.6 131.1l-1.2 -2.3M288.8 130.5l1.9 -1.8M160.1 138.8l2.2 -1.3M175.4 138.3l0.1 -2.6M180.1 138.7l0.9 -2.1M205.8 137.7l-2.3 -0.8M259.7 136.4l-1.0 -2.4M269.7 136.7l-0.6 -2.4M160.8 144.3l-0.7 -2.5M200.5 142.9l-2.2 1.4M220.4 142.3l-2.1 1.5M230.2 141.6l-0.6 2.2M235.1 141.5l-0.5 2.5M249.6 142.2l1.0 -2.4M264.6 142.2l0.3 -2.5M215.5 148.0l-2.6 0.4M225.5 147.6l-2.1 1.5M230.3 147.0l-0.6 2.4M234.4 147.3l2.3 0.9M249.3 147.6l2.1 -1.3M166.1 154.7l-1.6 -2.1M190.0 153.8l2.6 0.5M195.4 153.6l1.8 1.9M225.8 152.9l-2.3 1.2M244.5 152.5l2.5 0.8M254.5 152.7l2.4 -1.0M358.6 149.9l2.5 0.9M171.1 160.1l-0.5 -2.6M185.6 158.9l1.1 2.0M225.5 158.5l-2.5 0.9M230.7 157.7l-1.1 2.4M234.8 158.0l2.3 1.2M249.5 158.0l2.3 -0.3M255.0 157.9l2.5 -0.5M259.4 157.9l2.3 -0.7M363.8 155.3l2.6 -0.1M161.6 166.0l-1.0 -2.1M181.6 164.7l-2.4 0.9M200.2 164.6l2.4 -0.6M211.2 164.8l-1.7 -1.9M216.4 164.2l-2.4 -0.4M234.9 163.2l2.0 1.7M319.8 162.3l-0.8 -2.2M167.0 170.3l-2.2 1.1M176.6 170.5l-2.5 -0.7M191.0 169.4l0.5 2.4M216.4 169.7l-2.4 -1.0M226.3 169.7l-2.0 -1.6M231.3 168.9l-2.2 0.8M244.9 168.7l2.5 0.6M254.9 168.5l2.5 0.5M269.8 168.4l2.4 -0.9M211.3 175.2l-2.1 -1.5M177.2 181.3l-2.1 -0.7M221.3 180.1l-2.5 0.6M231.0 179.2l-0.3 2.2M300.7 178.2l-2.3 0.2M305.6 177.9l-2.0 1.2M285.9 184.5l-1.8 -1.8M196.4 192.1l0.6 -2.4M177.1 197.9l-0.5 -2.6M359.0 193.1l2.6 -0.2M364.0 193.2l2.2 -0.7M196.2 202.4l2.4 -0.7M260.9 201.2l0.7 -2.5M266.0 200.8l0.3 -2.6M271.0 200.6l-1.2 -2.3M364.4 198.5l2.3 -1.2M245.7 206.6l2.2 -0.6M250.6 206.5l2.4 -0.9M265.9 206.6l0.6 -2.4M359.2 204.1l2.4 -0.9M201.9 212.7l2.5 0.6M286.5 210.6l-2.3 1.2M364.2 209.2l2.4 -0.3M192.6 217.7l-0.9 2.3M188.2 223.7l-2.3 0.4M217.0 223.4l1.3 -2.3M183.4 229.0l-2.4 1.0M207.1 229.1l1.7 -2.0M252.3 227.6l-2.5 0.8M286.7 227.6l-1.2 -1.9M291.8 226.9l-2.6 0.2M211.8 234.4l2.2 -1.5M217.0 234.3l1.8 -1.9M252.4 233.0l-2.5 0.8M236.7 239.3l2.0 -1.6M271.1 238.4l2.2 -0.9M183.0 245.8l1.2 -2.3M192.9 251.3l0.8 -2.4M212.9 249.5l-0.2 2.6M292.0 248.9l-1.3 -1.8M203.1 255.1l0.0 2.3M208.3 255.1l-0.9 2.4M238.1 254.5l-1.6 1.6M252.8 254.1l-1.5 1.8M257.2 253.8l0.3 2.5M287.1 254.6l-0.9 -2.4M301.7 253.5l-0.9 2.4M197.8 260.9l2.3 1.2M213.4 260.6l-2.1 1.6M238.3 260.0l-2.0 1.2M242.7 259.6l-0.2 2.6M277.1 260.2l0.0 -2.6M193.5 267.4l0.2 -2.4M204.0 266.2l-2.2 0.9M208.9 266.0l-2.2 1.2M213.3 266.1l-0.3 2.6M251.9 265.5l2.5 -0.2M292.7 264.8l-2.4 -1.0M297.5 264.8l-1.9 -1.4M159.3 273.4l-0.1 -2.2M174.4 273.0l-1.6 -2.1M257.5 271.0l1.1 -2.4M277.7 270.5l-2.1 -1.5M292.3 269.9l-2.6 -0.4M159.0 278.7l1.4 -2.2M189.5 277.8l-2.0 -1.0M218.5 277.6l-0.1 -2.6M233.2 276.7l-0.7 -2.5M242.7 276.9l1.3 -1.9M248.5 276.7l-1.8 -1.5M267.4 276.5l1.0 -2.4M272.1 276.3l1.6 -1.9M311.9 274.3l-0.0 2.6" fill="none" stroke="#8dbde5" stroke-width="1.25" stroke-linecap="round" stroke-opacity=".88"/>
<path d="M164.3 79.6l2.2 1.4M169.6 79.2l2.6 -0.2M183.5 77.7l-0.6 -2.5M213.6 78.2l2.1 1.5M223.5 78.0l2.4 1.0M193.7 89.3l-2.4 -0.9M228.9 89.1l0.6 2.5M179.5 95.0l2.3 -1.1M194.1 94.6l-0.2 -2.6M204.0 94.5l-2.4 -0.9M208.7 94.5l-2.6 0.4M288.4 92.5l1.8 1.9M194.4 99.8l1.0 -2.4M198.5 104.4l-1.7 -1.9M209.0 104.6l-1.3 -2.3M223.9 104.9l-2.3 1.2M206.0 108.7l1.6 -2.1M224.1 110.4l-2.0 1.7M234.2 109.8l-0.0 2.6M363.1 107.0l-0.4 2.6M224.3 116.3l-0.4 2.6M229.3 115.6l-0.6 2.5M255.1 115.7l1.9 1.8M254.6 120.4l2.2 1.4M214.7 126.6l-1.7 1.9M208.6 131.9l-2.6 -0.2M172.0 143.5l2.6 -0.3M209.4 142.8l-2.6 0.0M254.7 141.6l-0.7 -2.5M219.5 148.1l-2.5 0.6M245.0 147.3l2.4 -1.0M255.2 146.5l1.3 -2.2M214.5 153.4l-2.6 0.1M219.1 153.9l-2.3 1.2M235.3 153.1l0.8 2.5M241.9 154.2l2.0 1.6M176.0 159.6l0.5 2.5M210.6 158.3l0.0 -2.6M220.2 158.6l-2.6 0.1M169.5 165.2l-2.6 0.1M170.6 170.5l-2.6 -0.1M220.2 168.6l-1.5 -2.1M274.9 167.8l-1.5 -2.1M205.6 175.3l-2.2 1.3M220.8 174.7l-2.2 -1.3M180.9 181.0l-2.6 -0.1M215.2 180.1l-2.6 -0.4M235.2 180.2l-2.1 1.5M215.2 186.0l-2.4 1.0M261.3 194.4l1.0 -2.4M242.6 200.8l2.5 -0.6M256.3 200.7l2.3 -1.2M198.0 207.7l2.6 0.5M241.6 206.5l2.6 0.1M216.8 212.4l-2.3 -1.3M221.5 212.4l-2.6 0.3M256.5 211.3l1.7 -2.0M295.5 216.7l-1.5 2.2M222.1 223.1l-0.2 -2.6M202.7 233.8l0.8 -2.5M192.8 239.4l-0.7 -2.5M222.5 239.2l2.6 -0.2M197.9 245.1l-1.3 -2.2M213.1 246.2l0.7 2.5M222.8 250.2l0.6 2.5M301.5 248.2l-2.5 0.6M213.0 255.7l0.2 2.6M217.5 256.3l-1.2 2.3M221.1 262.5l-1.9 1.8M291.9 259.1l-2.6 0.3M203.3 277.4l-2.4 1.1M277.5 275.6l2.1 -1.5" fill="none" stroke="#b4d8f1" stroke-width="1.25" stroke-linecap="round" stroke-opacity=".88"/>
<path d="M161.5 77.7l3.9 2.6M165.7 79.4l5.3 -0.3M204.8 76.6l-1.6 2.6M207.1 77.1l2.1 1.7M211.5 76.6l3.2 2.4M221.1 77.0l3.6 1.5M162.4 84.9l2.3 -0.1M200.6 84.1l-2.3 -0.2M272.9 80.3l0.5 2.4M283.3 79.9l-0.2 2.7M319.8 80.9l-2.5 0.2M323.6 78.7l-1.0 3.2M155.7 88.9l-1.8 1.9M177.0 89.5l3.0 0.3M183.1 91.5l1.3 -2.6M196.8 90.4l-4.3 -1.6M228.1 85.5l1.1 4.9M239.7 89.8l-1.4 -1.9M277.7 85.4l0.9 2.7M281.8 85.9l2.1 1.9M176.7 96.4l4.0 -2.0M182.1 94.9l2.9 0.2M194.3 97.5l-0.3 -4.2M206.5 95.5l-3.7 -1.4M211.9 94.0l-4.4 0.7M254.0 95.1l-0.5 -2.2M269.9 94.5l-1.8 -2.1M286.6 90.6l2.7 2.9M193.2 102.9l1.7 -4.3M201.0 101.5l-2.5 -2.2M216.2 100.9l-3.1 -1.7M282.6 95.9l1.3 3.0M187.7 105.2l2.3 0.6M210.9 108.0l-2.5 -4.5M226.7 103.5l-4.0 2.0M172.9 111.9l2.5 -0.7M226.5 108.3l-3.5 2.8M234.2 107.4l-0.0 3.7M244.5 107.4l-0.5 3.3M363.5 104.2l-0.6 4.0M175.2 114.5l-0.5 3.1M189.6 114.6l0.2 2.3M224.9 112.2l-0.8 5.3M230.0 112.7l-0.9 4.2M239.0 113.3l0.4 2.5M233.6 118.9l1.1 2.3M239.2 118.6l0.2 2.6M251.8 118.6l3.9 2.5M164.0 129.0l1.6 -1.7M216.6 124.5l-2.7 3.1M254.7 127.5l-0.4 -2.6M180.2 134.9l0.1 -3.0M185.5 134.4l-0.4 -2.4M196.1 133.9l-1.3 -2.0M206.9 131.6l-2.5 0.7M265.5 132.6l-1.4 -2.7M287.7 131.5l2.0 -1.8M158.8 139.6l2.4 -1.4M175.3 140.6l0.2 -3.6M260.5 138.4l-1.3 -3.1M270.0 137.7l-0.6 -2.2M161.3 146.0l-0.8 -2.9M202.4 141.7l-3.0 1.9M213.6 142.7l-5.4 0.1M221.9 141.2l-2.6 1.8M235.3 140.3l-0.5 2.4M249.0 143.8l1.2 -2.8M255.5 144.3l-1.1 -3.9M264.4 143.3l0.3 -2.4M217.6 147.6l-3.4 0.5M223.6 147.1l-5.4 1.2M227.0 146.5l-2.6 1.8M233.5 146.9l2.1 0.8M242.6 148.3l3.6 -1.5M248.4 148.1l2.0 -1.2M253.2 149.9l2.7 -4.5M167.4 156.4l-2.1 -2.8M188.8 153.6l2.6 0.5M194.1 152.2l2.1 2.3M218.9 153.2l-5.7 0.2M227.1 152.2l-2.5 1.3M234.4 150.3l1.3 4.0M243.3 152.1l2.5 0.8M253.2 153.2l2.5 -1.1M356.8 149.3l3.0 1.1M171.5 162.0l-0.6 -3.3M175.5 157.2l0.8 3.6M210.6 162.0l0.1 -4.9M223.4 158.5l-4.4 0.2M227.8 157.7l-3.5 1.2M231.1 156.7l-1.0 2.2M233.6 157.4l2.3 1.2M252.7 158.3l3.5 -0.7M361.6 155.4l3.5 -0.2M183.0 164.2l-2.6 1.0M199.2 164.9l2.2 -0.6M212.0 165.5l-1.6 -1.7M234.0 162.4l1.9 1.6M174.7 170.7l-5.4 -0.3M178.4 171.0l-3.0 -0.9M217.6 170.2l-2.4 -1.0M222.8 172.3l-3.3 -4.8M227.2 170.4l-1.9 -1.5M243.5 168.3l2.7 0.7M253.3 168.2l2.9 0.6M268.2 168.9l2.8 -1.0M276.9 170.5l-2.8 -3.8M208.7 173.5l-4.2 2.5M212.9 176.3l-2.7 -1.8M223.3 176.1l-3.6 -2.1M184.7 181.1l-5.1 -0.2M219.5 180.8l-5.6 -0.9M223.3 179.6l-3.3 0.8M238.6 177.8l-4.5 3.1M219.7 184.2l-5.7 2.3M286.7 185.3l-1.7 -1.6M177.3 199.1l-0.5 -2.5M259.5 198.7l2.4 -5.5M357.9 193.2l2.4 -0.2M195.1 202.7l2.3 -0.7M253.6 202.1l3.9 -2.0M260.5 202.7l0.7 -2.8M265.7 203.0l0.4 -3.5M272.1 202.7l-1.7 -3.3M362.8 199.3l2.8 -1.4M193.5 206.8l5.8 1.1M238.6 206.4l4.3 0.1M249.6 206.9l2.2 -0.8M358.1 204.5l2.3 -0.8M199.7 212.2l3.5 0.9M219.2 213.8l-3.6 -2.0M224.7 212.0l-4.5 0.5M254.5 213.8l2.8 -3.4M287.7 209.9l-2.4 1.3M193.0 216.7l-0.9 2.1M297.8 213.2l-3.1 4.5M216.0 225.3l1.7 -3.0M222.2 225.7l-0.3 -3.9M184.4 228.6l-2.2 0.9M206.0 230.4l1.9 -2.2M253.7 227.1l-2.7 0.9M293.3 226.8l-2.8 0.2M201.7 237.2l1.5 -4.6M210.9 235.1l2.0 -1.4M215.9 235.4l2.0 -2.1M253.9 232.5l-2.7 0.9M193.7 242.7l-1.3 -4.5M219.8 239.3l3.9 -0.2M235.8 240.0l1.9 -1.5M182.1 247.4l1.4 -2.8M199.2 247.3l-1.9 -3.3M192.6 252.3l0.7 -2.3M213.0 248.2l-0.2 2.5M222.1 247.1l1.0 4.3M304.1 247.6l-3.8 0.9M208.8 253.7l-1.0 2.6M212.8 252.7l0.3 4.3M219.5 252.2l-2.6 5.2M257.1 252.8l0.3 2.3M287.5 255.6l-0.9 -2.2M302.5 251.2l-1.3 3.5M196.6 260.3l2.3 1.2M214.9 259.6l-2.5 1.8M242.8 258.3l-0.2 2.6M277.1 261.3l0.0 -2.4M294.5 258.8l-3.8 0.4M209.9 265.5l-2.0 1.2M213.5 263.8l-0.4 3.6M250.8 265.6l2.4 -0.2M293.7 265.3l-2.3 -1.0M175.2 274.0l-1.5 -2.0M256.8 272.6l1.3 -2.8M279.1 271.5l-2.5 -1.8M294.6 270.2l-3.6 -0.5M158.3 279.8l1.4 -2.1M206.3 275.9l-4.2 2.0M218.5 278.8l-0.1 -2.5M233.8 279.0l-1.0 -3.5M266.9 277.5l0.9 -2.2M271.4 277.1l1.5 -1.8M275.3 277.1l3.2 -2.3M312.0 272.8l-0.0 2.9" fill="none" stroke="#f2f8fb" stroke-width=".75" stroke-opacity=".85"/>
<path d="M184.7 82.6l-1.5 -6.2M202.0 108.3l-4.3 -4.8M201.4 114.7l5.4 -7.1M251.3 112.2l4.7 4.4M213.9 132.4l-6.5 -0.6M166.6 144.2l6.7 -0.9M224.0 151.4l-6.0 3.1M236.4 149.7l6.5 5.4M175.4 164.9l-7.2 0.4M237.5 202.1l6.4 -1.6M211.7 240.9l1.7 6.5M226.7 257.0l-6.6 6.4" fill="none" stroke="#fffce0" stroke-width=".85" stroke-opacity=".95"/>
<use href="#grid"/>
</g>
<rect x="150.5" y="73.5" width="219" height="207.8" fill="none" stroke="#000" stroke-width="1.1"/>
<text x="150.9" y="62.6" font-size="13.89" text-anchor="middle">112.5°E</text>
<text x="157.1" y="298.7" font-size="13.89" text-anchor="middle">112.5°E</text>
<text x="213.5" y="62.6" font-size="13.89" text-anchor="middle">113°E</text>
<text x="219.2" y="298.7" font-size="13.89" text-anchor="middle">113°E</text>
<text x="276.1" y="62.6" font-size="13.89" text-anchor="middle">113.5°E</text>
<text x="281.2" y="298.7" font-size="13.89" text-anchor="middle">113.5°E</text>
<text x="338.7" y="62.6" font-size="13.89" text-anchor="middle">114°E</text>
<text x="343.3" y="298.7" font-size="13.89" text-anchor="middle">114°E</text>
<text x="142.9" y="97.1" font-size="13.89" text-anchor="end">21.6°S</text>
<text x="142.9" y="123.8" font-size="13.89" text-anchor="end">21.8°S</text>
<text x="142.9" y="150.4" font-size="13.89" text-anchor="end">22°S</text>
<text x="142.9" y="177.1" font-size="13.89" text-anchor="end">22.2°S</text>
<text x="142.9" y="203.7" font-size="13.89" text-anchor="end">22.4°S</text>
<text x="142.9" y="230.4" font-size="13.89" text-anchor="end">22.6°S</text>
<text x="142.9" y="257.1" font-size="13.89" text-anchor="end">22.8°S</text>
<text x="142.9" y="283.7" font-size="13.89" text-anchor="end">23°S</text>
<rect x="383.5" y="125.5" width="5.1" height="103.9" fill="url(#cb)" stroke="#000" stroke-width="1.1"/>
<path d="M389.1 125.50h4.8" stroke="#000" stroke-width="1.1"/>
<text x="398.4" y="130.0" font-size="13.89" letter-spacing="-.55">1.0</text>
<path d="M389.1 177.45h4.8" stroke="#000" stroke-width="1.1"/>
<text x="398.4" y="182.4" font-size="13.89" letter-spacing="-.55">0.5</text>
<path d="M389.1 229.40h4.8" stroke="#000" stroke-width="1.1"/>
<text x="398.4" y="234.9" font-size="13.89" letter-spacing="-.55">0.0</text>
</g>
<g transform="translate(656 252)">
<g clip-path="url(#cp)">
<rect x="150" y="73" width="220" height="209" fill="#97b6e1"/>
<use href="#heat"/>
<path d="M181 279.8H214.5V278.75H249V277.7H295V276.8H325V283H181z" fill="#97b6e1"/>
<use href="#land"/>
<path d="M164.4 79.3l-0.8 0.2M169.1 79.5l-0.3 -0.5M179.0 78.8l-0.2 0.4M183.5 78.7l0.7 0.4M193.6 78.4l0.3 0.5M198.6 78.4l0.2 0.3M203.9 78.4l-0.4 0.1M208.5 78.4l0.3 -0.3M214.0 78.2l-0.7 -0.1M218.7 78.0l-0.4 0.2M228.9 77.8l-0.9 0.1M233.7 77.4l-0.5 0.5M253.5 77.5l-0.5 -0.6M273.5 76.8l-0.7 -0.2M278.4 76.5l-0.6 0.3M298.1 76.0l-0.2 0.4M307.7 76.0l0.3 -0.2M312.8 76.0l0.1 -0.4M317.8 75.9l0.0 -0.4M322.6 75.6l0.4 -0.1M327.5 75.4l0.5 0.2M332.7 75.0l0.1 0.6M337.5 74.8l0.5 0.8M342.5 74.9l0.4 0.4M347.4 75.0l0.4 0.0M352.4 74.7l0.3 0.2M357.3 74.7l0.6 0.0M154.5 84.8l-0.6 0.3M163.7 84.8l0.9 -0.1M193.7 83.8l0.4 0.5M198.7 84.2l0.4 -0.6M203.6 83.9l0.3 -0.2M208.4 83.9l0.6 -0.5M213.8 83.8l-0.1 -0.4M228.8 83.4l-0.4 -0.3M238.7 83.3l-0.3 -0.7M263.7 82.7l-0.6 -0.6M273.4 81.9l-0.2 0.5M288.3 81.5l-0.2 0.7M293.3 81.2l-0.3 0.9M302.9 81.4l0.4 0.1M312.6 81.0l0.8 0.4M317.7 81.1l0.4 -0.1M322.7 81.0l0.4 -0.0M327.7 80.8l0.4 0.1M332.7 80.5l0.2 0.3M337.6 80.2l0.5 0.7M342.7 80.1l0.1 0.7M347.5 80.1l0.5 0.4M357.6 79.9l0.2 0.4M362.4 80.2l0.5 -0.4M174.4 90.2l-0.4 -0.7M193.9 89.3l0.3 0.3M198.9 89.1l0.2 0.3M203.7 89.5l0.4 -0.7M213.8 89.2l0.1 -0.5M218.8 89.2l0.1 -0.8M223.9 88.9l-0.1 -0.4M244.1 88.2l-0.9 0.1M258.4 88.0l0.2 -0.3M293.2 86.6l0.1 0.8M303.0 86.7l0.4 0.1M307.9 86.7l0.4 -0.1M323.1 86.0l-0.2 0.6M333.0 85.9l-0.1 0.4M337.9 85.8l-0.1 0.4M342.7 85.7l0.3 0.3M347.8 85.5l0.1 0.4M352.6 85.6l0.4 0.0M357.3 85.3l0.8 0.3M362.5 85.4l0.4 -0.1M179.2 94.9l0.2 0.5M194.1 94.6l0.1 0.4M198.9 94.5l0.5 0.2M203.8 94.6l0.5 -0.2M208.7 94.5l0.7 -0.1M229.1 93.9l-0.5 0.1M233.8 94.3l0.0 -0.9M238.7 93.9l0.3 -0.3M258.8 93.2l-0.4 0.1M273.9 92.8l-0.8 0.2M283.5 92.4l-0.2 0.5M288.5 92.4l-0.3 0.3M293.6 92.3l-0.5 0.3M298.4 92.1l-0.3 0.3M303.1 92.1l0.4 0.2M308.0 92.2l0.5 -0.2M313.0 91.8l0.3 0.3M318.0 91.7l0.2 0.3M322.9 91.7l0.4 0.1M327.9 91.6l0.4 -0.1M332.6 91.3l0.8 0.3M338.0 91.0l0.0 0.6M348.0 90.9l-0.1 0.4M353.2 90.9l-0.6 0.3M357.8 91.1l-0.0 -0.4M362.6 90.9l0.4 -0.3M169.6 100.9l-0.2 -0.4M184.2 100.4l0.4 -0.1M189.2 100.0l0.3 0.5M198.8 100.2l0.8 -0.4M203.9 100.0l0.6 -0.1M208.9 100.1l0.6 -0.6M213.9 99.8l0.3 -0.2M219.0 100.0l0.2 -0.8M229.0 99.5l0.0 -0.4M243.7 98.8l0.4 0.3M248.4 98.7l0.8 0.3M258.6 98.8l0.2 -0.3M273.8 98.0l-0.3 0.5M278.8 97.7l-0.3 0.8M288.7 97.7l-0.4 0.5M298.2 97.6l0.4 0.1M303.2 97.7l0.4 -0.2M308.4 97.6l-0.0 -0.4M313.1 97.4l0.4 -0.1M318.1 97.1l0.3 0.3M323.0 96.9l0.5 0.3M328.0 96.8l0.3 0.3M333.1 96.6l0.0 0.5M338.3 96.7l-0.4 -0.0M353.2 96.5l-0.3 -0.2M358.1 96.4l-0.2 -0.3M363.1 96.0l-0.3 0.2M154.6 106.9l0.3 -0.8M169.8 106.4l-0.4 -0.7M184.1 106.0l0.7 -0.4M189.4 105.5l0.2 0.3M194.4 105.7l0.1 -0.4M199.0 105.6l0.7 -0.3M204.3 105.5l0.1 -0.4M209.4 105.0l-0.2 0.3M224.1 105.0l0.2 -0.4M228.7 104.8l0.8 -0.3M278.9 103.5l-0.4 0.1M284.1 103.2l-0.9 0.4M288.9 103.2l-0.6 0.1M293.6 102.9l-0.1 0.5M298.7 103.0l-0.4 0.1M303.5 103.1l-0.1 -0.4M308.2 102.8l0.4 0.0M313.2 102.7l0.4 -0.1M317.9 102.6l0.8 0.0M323.1 102.4l0.4 0.1M328.2 102.1l0.1 0.4M333.3 101.9l-0.0 0.7M338.2 101.7l-0.1 0.9M343.4 101.8l-0.5 0.3M363.3 101.7l-0.5 -0.4M154.9 112.0l0.0 -0.4M160.1 112.0l-0.5 -0.7M174.7 111.5l0.1 -0.4M194.6 110.6l-0.1 0.5M204.2 110.6l0.5 0.1M224.2 110.4l0.1 -0.4M283.6 108.6l0.4 0.3M288.9 108.2l-0.4 0.8M293.6 108.4l0.2 0.4M298.4 108.4l0.4 0.0M303.6 108.6l0.0 -0.5M308.5 108.6l0.2 -0.8M318.4 108.1l0.1 -0.4M323.2 107.8l0.4 0.0M328.2 107.3l0.3 0.9M333.4 107.3l-0.1 0.6M348.6 107.1l-0.7 0.2M353.3 107.2l-0.3 -0.2M358.4 107.2l-0.5 -0.4M155.2 117.3l-0.3 -0.3M160.1 117.3l-0.2 -0.4M169.8 117.0l0.3 -0.3M175.0 117.1l-0.3 -0.8M184.7 116.3l0.2 0.3M190.1 116.3l-0.7 0.1M194.7 116.5l-0.1 -0.5M204.8 115.7l-0.3 0.5M214.7 115.7l-0.3 0.2M219.7 115.9l-0.4 -0.6M224.4 115.2l0.1 0.6M283.5 114.1l0.8 0.2M288.7 113.7l0.3 0.7M293.6 113.8l0.3 0.2M298.6 114.0l0.3 -0.3M303.7 113.9l0.1 -0.4M308.4 113.7l0.6 -0.3M313.4 113.7l0.4 -0.6M318.2 113.4l0.7 -0.1M323.2 113.4l0.8 -0.3M328.8 112.9l-0.5 0.4M343.4 112.5l-0.1 0.6M353.6 112.8l-0.6 -0.7M363.4 112.6l-0.5 -0.6M155.3 122.7l-0.3 -0.3M160.1 122.6l0.0 -0.4M165.0 122.5l0.2 -0.4M170.1 122.4l-0.0 -0.4M174.8 121.9l0.5 0.4M190.2 121.9l-0.6 -0.4M195.0 121.3l-0.4 0.6M205.2 121.4l-0.8 -0.1M209.8 121.7l-0.1 -0.9M219.6 120.8l0.1 0.4M239.1 120.3l0.7 0.6M258.8 120.2l0.9 -0.1M274.0 119.3l0.3 0.9M283.8 119.3l0.5 0.5M288.9 119.2l0.1 0.4M298.5 119.0l0.7 0.3M303.6 119.3l0.4 -0.6M308.5 119.1l0.6 -0.4M313.6 119.0l0.2 -0.3M318.7 118.9l0.1 -0.4M323.6 118.4l0.1 0.4M328.2 118.4l0.7 0.2M333.3 118.2l0.4 0.4M338.7 117.9l-0.4 0.8M343.7 117.9l-0.4 0.5M160.1 127.8l0.4 0.1M165.1 127.8l0.3 -0.3M170.0 127.5l0.4 0.1M180.1 127.1l0.1 0.4M215.1 126.4l-0.6 0.1M249.1 125.5l0.7 0.5M259.2 125.6l0.4 -0.2M264.1 125.4l0.4 -0.1M269.1 125.1l0.3 0.2M274.2 124.8l-0.0 0.7M279.0 124.9l0.3 0.3M289.1 124.6l-0.0 0.4M293.6 124.7l0.8 -0.1M298.9 124.4l0.1 0.4M303.6 124.2l0.6 0.4M308.7 124.5l0.3 -0.4M313.6 124.3l0.5 -0.2M318.6 124.2l0.4 -0.3M323.6 123.9l0.4 0.1M328.5 123.8l0.4 0.1M333.6 123.6l0.2 0.4M338.8 123.3l-0.4 0.6M363.3 123.3l0.1 -0.6M155.6 133.4l-0.3 -0.3M175.1 132.7l0.3 0.2M180.5 132.6l-0.6 0.2M185.0 132.5l0.4 0.2M249.3 130.8l0.6 0.5M254.1 131.1l0.9 -0.2M264.5 130.9l-0.3 -0.3M269.6 130.4l-0.5 0.5M279.5 130.5l-0.5 -0.1M289.1 129.8l0.1 0.7M294.3 129.9l-0.3 0.2M299.2 130.1l-0.1 -0.4M304.3 129.8l-0.5 0.0M308.9 129.8l0.3 -0.3M313.8 129.7l0.2 -0.3M318.8 129.7l0.3 -0.4M323.9 129.0l-0.1 0.7M328.8 129.4l-0.1 -0.4M333.6 128.8l0.2 0.6M155.6 138.8l-0.0 -0.4M160.7 138.8l-0.3 -0.5M165.3 138.7l0.5 -0.5M170.2 138.5l0.6 -0.4M239.8 136.3l0.0 0.7M254.9 136.0l-0.5 0.7M259.9 135.9l-0.6 0.7M264.9 135.9l-0.7 0.5M274.4 136.2l0.1 -0.6M279.8 135.8l-0.9 -0.1M284.5 135.6l-0.4 0.0M289.5 135.5l-0.4 -0.0M294.4 135.3l-0.2 0.3M299.4 135.4l-0.4 -0.1M304.4 135.5l-0.6 -0.6M308.8 135.1l0.5 0.0M314.3 134.9l-0.4 0.1M319.0 134.6l-0.0 0.4M324.1 134.5l-0.2 0.3M328.9 134.4l-0.0 0.4M363.2 134.0l0.7 -0.5M156.0 144.2l-0.4 -0.4M170.2 143.9l0.8 -0.4M180.3 143.4l0.4 -0.0M185.3 143.0l0.3 0.6M215.1 142.8l0.1 -0.4M234.8 142.1l0.4 0.1M244.7 141.7l0.3 0.4M259.9 141.4l-0.3 0.4M264.9 141.5l-0.5 -0.1M274.9 141.4l-0.6 -0.3M279.9 141.2l-0.8 -0.2M284.7 141.0l-0.4 0.1M289.6 140.9l-0.4 -0.1M299.1 140.7l0.4 -0.0M304.5 140.6l-0.5 -0.0M309.0 140.4l0.4 0.1M314.4 140.3l-0.4 0.1M319.3 140.2l-0.4 0.1M324.4 140.0l-0.6 0.1M329.2 139.9l-0.3 0.2M363.3 139.2l0.8 0.0M160.6 149.5l0.4 -0.5M170.4 148.9l0.6 0.2M175.5 148.6l0.4 0.6M220.1 148.1l0.3 -0.5M250.0 146.8l-0.1 0.7M270.0 146.8l-0.5 -0.2M284.7 146.5l-0.3 -0.3M289.8 146.4l-0.5 -0.2M309.5 145.8l-0.4 -0.0M314.4 145.6l-0.3 0.2M358.5 144.8l0.7 -0.2M165.8 154.8l0.4 -0.5M175.6 154.5l0.5 -0.4M180.7 153.8l0.2 0.8M210.3 153.6l0.3 -0.3M220.5 153.6l-0.2 -0.8M230.5 153.1l-0.4 -0.2M240.2 152.4l-0.0 0.8M265.2 152.0l-0.5 0.4M279.9 151.9l-0.4 -0.1M284.8 152.0l-0.1 -0.4M299.8 151.4l-0.4 0.1M304.7 151.4l-0.5 -0.2M314.8 151.2l-0.8 -0.2M319.6 151.0l-0.6 -0.0M358.5 150.1l0.8 -0.0M363.9 149.7l-0.0 0.4M156.4 160.4l-0.4 -0.6M160.9 159.9l0.5 0.2M165.8 160.2l0.6 -0.6M180.5 159.7l0.8 -0.4M200.6 158.9l0.2 0.4M205.8 159.1l-0.3 -0.3M210.4 159.0l0.5 -0.4M240.2 158.4l0.2 -0.5M245.3 157.6l-0.1 0.9M255.2 157.5l-0.2 0.6M260.5 157.5l-0.8 0.3M265.1 157.4l-0.2 0.3M269.8 157.9l0.2 -0.8M279.7 157.4l0.2 -0.3M285.0 157.2l-0.3 -0.2M289.9 157.1l-0.3 -0.2M294.9 157.1l-0.3 -0.4M299.7 157.0l-0.0 -0.4M304.8 156.7l-0.4 -0.1M309.4 156.4l0.3 0.3M319.9 156.4l-0.8 -0.2M324.8 156.3l-0.9 -0.1M358.9 155.6l0.2 -0.3M363.7 155.5l0.4 -0.5M156.5 165.4l-0.4 0.1M161.3 165.6l0.1 -0.4M176.0 165.3l0.3 -0.6M181.3 165.1l-0.5 -0.3M185.9 164.6l0.1 0.4M190.9 164.3l0.1 0.7M195.6 164.4l0.6 0.4M200.7 164.3l0.3 0.3M205.6 164.3l0.4 0.1M210.6 163.9l0.4 0.6M225.3 164.2l0.5 -0.7M235.1 163.3l0.7 0.7M240.3 163.3l0.2 0.5M250.0 163.3l0.6 0.1M255.2 162.8l0.0 0.9M260.3 162.9l-0.3 0.3M265.0 163.1l0.4 -0.2M270.2 163.2l-0.2 -0.7M274.9 163.0l0.2 -0.5M279.8 163.0l0.3 -0.8M289.8 162.6l0.1 -0.4M299.6 162.4l0.2 -0.5M304.7 162.3l-0.1 -0.4M309.9 162.0l-0.5 -0.2M315.0 162.0l-0.9 -0.2M319.8 162.0l-0.6 -0.5M156.7 171.2l-0.3 -0.7M161.6 170.9l-0.3 -0.3M166.4 170.8l0.0 -0.4M171.7 170.3l-0.7 0.4M176.6 170.5l-0.8 -0.2M181.5 170.1l-0.6 0.4M186.0 169.8l0.2 0.7M191.2 169.9l-0.3 0.3M195.8 169.8l0.4 0.3M200.9 169.7l0.2 0.3M205.6 169.7l0.7 -0.0M215.5 169.3l0.7 0.4M220.6 169.7l0.4 -0.8M230.8 169.0l-0.3 0.2M235.1 169.1l0.9 -0.1M240.5 168.6l0.0 0.5M245.3 168.5l0.3 0.6M255.2 168.5l0.3 0.2M259.9 168.5l0.9 -0.1M279.8 168.2l0.5 -0.4M289.8 168.0l0.3 -0.4M294.6 167.9l0.7 -0.4M299.7 167.7l0.3 -0.3M304.7 167.7l0.2 -0.6M309.8 167.5l-0.1 -0.4M314.5 167.5l0.5 -0.6M319.8 167.3l-0.3 -0.4M364.4 166.0l-0.4 0.1M156.4 176.4l0.4 -0.4M161.2 176.2l0.7 -0.2M166.4 176.1l0.3 -0.3M171.6 175.7l-0.3 0.3M176.3 175.9l0.2 -0.4M186.4 175.3l-0.2 0.5M210.9 174.8l0.3 0.3M220.7 175.2l0.4 -0.8M230.7 174.7l0.2 -0.4M235.6 174.2l0.3 0.3M240.6 174.5l0.2 -0.4M245.7 174.0l-0.2 0.3M250.4 174.0l0.4 0.1M255.6 174.2l-0.2 -0.4M260.6 173.7l-0.3 0.3M270.2 173.8l0.2 -0.4M279.9 173.6l0.6 -0.4M294.6 173.0l0.9 0.0M309.6 172.8l0.5 -0.3M314.6 172.9l0.5 -0.6M319.9 172.9l-0.3 -0.8M359.2 171.4l0.2 0.4M156.7 181.4l0.1 0.4M161.5 181.5l0.5 -0.2M166.5 181.4l0.4 -0.0M171.8 181.3l-0.4 -0.1M176.5 180.9l0.2 0.4M181.5 180.6l-0.1 0.9M191.5 180.4l-0.2 0.7M196.3 180.3l-0.0 0.7M205.8 180.5l0.9 -0.1M225.9 180.3l0.1 -0.7M230.7 179.8l0.4 0.1M235.7 179.6l0.3 0.3M241.0 179.4l-0.4 0.4M245.8 179.8l-0.2 -0.4M255.4 179.5l0.5 -0.3M280.0 178.9l0.7 -0.3M309.6 178.2l0.9 -0.2M314.7 178.1l0.5 -0.3M156.9 186.7l0.1 0.6M161.7 186.6l0.3 0.4M166.6 186.7l0.4 0.1M171.7 186.4l0.1 0.4M176.6 186.1l0.1 0.8M206.4 185.6l-0.1 0.4M216.2 185.8l0.1 -0.4M221.1 185.7l0.0 -0.5M225.9 185.8l0.4 -0.8M240.8 184.7l0.3 0.6M251.1 184.6l-0.5 0.4M260.9 184.9l-0.5 -0.7M285.0 184.2l0.8 -0.4M290.1 183.9l0.5 0.0M304.7 183.4l0.8 0.4M157.1 192.1l-0.1 0.5M161.8 192.1l0.4 0.2M166.9 191.6l0.1 0.9M206.7 191.2l-0.4 -0.0M225.9 190.8l0.6 -0.1M275.7 190.1l-0.2 -0.9M280.4 189.7l0.3 -0.4M285.2 189.4l0.6 0.0M290.1 189.4l0.7 -0.3M295.2 189.1l0.4 0.0M156.9 197.5l0.6 0.3M162.3 197.5l-0.4 0.1M167.1 197.2l-0.0 0.4M172.1 197.2l-0.2 0.4M177.1 197.1l-0.2 0.3M201.9 196.5l-0.5 0.4M216.6 196.7l-0.3 -0.7M221.2 196.5l0.4 -0.5M231.1 196.1l0.4 -0.2M236.3 195.7l-0.2 0.4M256.4 195.5l-0.9 -0.2M266.0 195.5l-0.4 -0.6M280.7 195.1l-0.1 -0.6M285.3 194.8l0.5 -0.1M157.2 203.1l0.3 -0.2M162.1 202.8l0.3 0.2M167.2 202.6l0.1 0.4M177.3 202.5l-0.4 0.2M202.1 202.0l-0.6 0.1M207.0 202.2l-0.6 -0.5M211.5 201.7l0.2 0.3M216.3 202.0l0.5 -0.6M226.4 201.3l0.2 0.4M231.0 201.4l0.8 -0.1M236.3 201.4l0.1 -0.4M251.4 200.7l-0.5 0.4M276.0 200.4l-0.4 -0.0M285.9 199.9l-0.3 0.4M364.5 198.6l0.4 -0.5M157.4 208.2l0.2 0.3M162.6 208.2l-0.4 0.2M167.6 208.3l-0.4 -0.1M172.4 208.3l-0.2 -0.4M177.5 207.9l-0.5 0.1M206.7 207.4l0.4 -0.2M211.9 207.0l-0.3 0.3M216.4 207.1l0.7 -0.1M226.4 206.8l0.4 0.1M231.7 206.7l-0.4 0.0M236.5 206.8l-0.1 -0.4M359.9 203.6l0.0 0.5M365.1 203.9l-0.5 -0.3M157.5 213.6l0.2 0.3M162.4 213.8l0.3 -0.3M167.4 213.7l0.2 -0.3M172.5 213.8l-0.0 -0.6M187.3 213.3l-0.0 -0.5M192.1 213.4l0.1 -0.8M212.2 212.7l-0.5 -0.2M216.4 212.4l0.9 -0.0M236.3 212.2l0.7 -0.3M241.9 211.6l-0.7 0.6M246.3 211.7l0.4 0.1M261.1 211.5l0.4 -0.1M276.3 210.9l-0.4 0.4M157.9 219.3l-0.3 -0.3M162.5 218.9l0.4 0.2M167.5 218.9l0.4 0.1M172.5 219.1l0.2 -0.6M187.1 218.7l0.5 -0.5M192.3 218.8l0.1 -0.8M202.0 218.3l0.3 -0.3M221.7 217.6l0.5 0.1M226.7 217.2l0.4 0.7M237.0 217.2l-0.6 0.3M241.6 217.1l0.1 0.4M251.4 216.9l0.3 0.2M256.4 216.7l0.1 0.4M271.5 216.6l-0.4 0.1M281.2 215.9l-0.1 0.9M157.7 224.4l0.4 0.1M162.7 224.5l0.4 -0.3M167.7 224.5l0.2 -0.4M211.9 223.6l0.5 -0.5M221.8 222.8l0.4 0.5M226.8 222.7l0.4 0.5M231.7 222.5l0.5 0.6M236.6 222.7l0.5 0.2M241.9 222.9l-0.2 -0.6M251.3 222.4l0.8 -0.1M271.3 222.1l0.2 -0.3M276.2 221.7l0.3 0.3M281.0 221.7l0.5 0.0M157.8 230.1l0.5 -0.5M162.8 229.8l0.5 0.0M172.9 229.9l-0.1 -0.8M202.7 228.9l-0.4 -0.0M207.3 229.0l0.2 -0.5M217.0 228.6l0.5 -0.0M222.0 228.3l0.5 0.3M231.8 228.2l0.6 0.0M252.0 227.4l-0.5 0.7M281.2 227.0l0.2 0.3M291.0 226.6l0.4 0.7M296.3 226.6l-0.2 0.4M157.8 235.3l0.8 -0.1M163.1 234.9l0.1 0.4M167.9 235.4l0.4 -0.8M173.3 235.1l-0.5 -0.4M217.2 234.0l0.3 -0.2M222.5 233.6l-0.4 0.4M241.8 233.4l0.5 -0.1M251.6 233.4l0.6 -0.4M256.4 233.2l0.9 -0.3M266.5 233.0l0.4 -0.3M281.2 232.6l0.6 -0.2M291.0 232.4l0.7 -0.2M158.3 240.4l0.2 0.4M163.2 240.6l0.3 -0.3M168.1 240.6l0.3 -0.4M173.0 240.3l0.4 0.1M188.0 240.3l-0.1 -0.6M207.8 239.6l-0.3 -0.3M212.8 239.5l-0.4 -0.1M217.4 239.0l0.3 0.6M222.6 239.1l-0.4 0.2M227.5 239.3l-0.3 -0.5M232.7 239.2l-0.9 -0.4M237.7 238.8l-0.9 0.0M242.1 239.0l0.2 -0.4M247.2 238.8l-0.3 -0.3M261.5 238.4l0.8 -0.1M271.8 238.3l-0.1 -0.5M296.1 237.9l0.5 -0.6M158.5 245.8l0.1 0.4M163.3 246.0l0.3 -0.2M168.6 245.8l-0.5 -0.0M173.2 245.9l0.2 -0.4M178.0 245.9l0.5 -0.6M183.2 245.7l-0.1 -0.5M187.9 245.7l0.4 -0.7M192.9 245.5l0.2 -0.6M198.1 245.2l-0.3 -0.2M202.7 244.9l0.3 0.2M207.8 244.6l0.0 0.5M257.1 244.1l-0.1 -0.5M271.5 243.5l0.6 -0.1M276.5 243.7l0.5 -0.6M281.5 243.3l0.4 -0.2M291.6 243.3l0.0 -0.5M296.6 242.7l-0.2 0.4M306.6 242.7l-0.4 0.1M158.7 250.9l-0.2 0.8M163.6 251.0l-0.1 0.4M168.5 250.9l-0.1 0.4M173.3 250.9l0.3 0.3M178.5 251.0l-0.3 -0.2M188.1 250.5l0.1 0.4M203.3 250.0l-0.5 0.8M252.5 249.0l-0.5 0.5M257.5 249.3l-0.6 -0.3M262.0 248.8l0.2 0.6M266.6 249.0l0.8 -0.2M277.1 249.0l-0.5 -0.5M281.6 248.9l0.4 -0.6M291.8 248.2l-0.2 0.3M296.6 248.5l-0.0 -0.4M301.6 247.9l-0.0 0.5M158.9 256.3l-0.3 0.8M163.8 256.2l-0.1 0.8M168.5 256.5l0.4 -0.1M173.8 256.3l-0.4 0.1M178.7 256.3l-0.4 -0.0M183.5 256.3l-0.2 -0.3M188.2 255.9l0.2 0.3M193.1 255.8l0.3 0.3M197.8 255.6l0.8 0.4M218.1 255.2l-0.4 0.3M262.3 254.2l-0.2 0.5M267.4 254.1l-0.5 0.4M282.1 254.2l-0.4 -0.4M159.1 261.8l-0.4 0.6M164.1 261.9l-0.4 0.1M168.9 262.0l-0.3 -0.3M173.5 261.7l0.4 0.0M178.4 261.7l0.4 -0.2M183.4 261.5l0.4 -0.0M188.1 261.4l0.7 0.1M311.7 258.5l-0.3 0.4M159.2 267.3l-0.2 0.4M164.3 267.1l-0.5 0.4M169.1 267.6l-0.4 -0.8M173.7 266.9l0.3 0.5M178.6 267.0l0.4 -0.1M183.4 266.9l0.6 0.0M188.5 267.2l0.2 -0.8M222.8 265.8l0.6 0.5M306.5 263.9l0.6 0.6M316.9 264.1l-0.6 -0.2M159.4 272.8l-0.4 -0.0M164.4 272.7l-0.5 0.0M169.4 272.9l-0.6 -0.7M174.2 272.6l-0.3 -0.2M178.7 272.8l0.3 -0.8M213.2 271.3l0.4 0.6M222.8 271.4l0.7 0.0M232.9 271.6l0.3 -0.8M243.0 270.8l-0.2 0.4M317.1 269.4l-0.6 -0.0M159.7 277.9l-0.6 0.6M179.0 277.9l0.1 -0.4M183.8 278.0l0.4 -0.8M193.4 277.4l0.8 0.1M223.2 276.7l0.3 0.2M257.8 275.7l-0.0 0.6M277.3 275.5l0.5 0.2M287.1 275.7l0.5 -0.5M292.3 274.9l-0.2 0.8M297.0 274.8l0.3 0.7M307.0 274.8l0.0 0.4M311.9 275.0l0.1 -0.4M317.0 274.6l-0.4 0.2" fill="none" stroke="#5f8fc6" stroke-width="1.05" stroke-linecap="round" stroke-opacity=".85"/>
<path d="M154.5 79.5l-1.5 0.5M158.7 79.9l1.0 -1.3M238.8 77.5l-1.5 0.4M263.7 77.2l-1.5 -0.8M283.1 76.1l-0.2 1.4M288.0 76.0l0.1 1.5M293.4 76.0l-1.2 1.0M302.4 76.2l2.0 -0.5M362.1 74.7l1.3 -0.3M218.6 83.8l0.3 -1.3M224.3 83.4l-2.2 -0.2M233.9 83.6l-1.2 -1.9M254.1 82.5l-2.2 0.2M258.6 83.0l-0.6 -1.8M268.8 82.2l-1.6 0.2M278.6 81.9l-1.4 0.3M283.1 81.3l0.2 2.0M297.8 81.2l1.0 1.1M307.8 81.6l0.9 -1.1M352.4 80.0l1.1 0.9M178.8 89.7l1.3 0.2M188.7 89.2l1.4 1.3M209.0 89.5l-0.3 -1.6M228.8 89.2l-0.3 -2.1M233.7 88.9l0.0 -1.7M248.5 87.7l0.4 1.4M273.8 87.5l-1.3 0.0M278.6 87.0l-0.8 1.4M288.5 86.7l-0.9 1.5M298.2 86.5l0.1 1.5M312.5 86.6l1.9 -0.3M317.7 86.2l1.3 1.0M154.8 96.3l-1.2 -1.9M183.8 94.9l1.6 0.3M249.1 93.1l-1.5 1.5M253.4 93.8l1.0 -1.6M278.6 92.3l-0.6 1.5M155.1 101.5l-1.6 -1.4M159.9 101.1l-1.2 -0.7M179.1 100.9l1.2 -1.3M193.8 100.2l1.8 -0.3M233.4 99.4l1.8 -0.7M263.4 98.1l1.0 1.2M269.1 98.1l-1.5 1.0M283.8 97.7l-0.9 1.2M293.9 98.0l-1.4 -0.9M348.2 96.9l-0.7 -1.5M174.7 106.4l-0.5 -1.5M179.5 106.3l0.2 -1.7M213.9 105.5l1.2 -1.5M219.3 105.5l-0.3 -2.1M238.5 104.7l1.8 -0.7M268.6 103.4l0.6 1.4M273.6 103.2l0.5 1.6M348.5 101.9l-1.4 -0.2M358.4 101.9l-1.1 -1.1M165.2 111.9l-1.2 -1.0M170.0 111.8l-0.6 -1.2M180.0 111.6l-1.0 -1.3M184.6 111.5l0.2 -1.5M189.5 111.4l0.5 -1.4M209.1 110.8l1.3 -1.1M233.8 109.8l1.6 0.4M243.6 109.8l2.0 -0.4M268.4 108.8l1.9 1.2M273.6 108.6l1.0 1.3M338.3 107.0l0.0 1.6M343.6 107.1l-1.1 0.9M363.4 107.2l-1.1 -1.2M180.1 116.9l-1.0 -1.0M200.1 116.4l-1.5 -0.8M209.8 115.4l-0.7 1.8M278.9 113.6l0.2 2.2M333.4 112.5l0.3 1.8M338.6 112.5l-0.6 1.2M348.8 112.4l-1.8 0.8M185.4 122.1l-1.6 -0.9M200.4 121.4l-2.0 0.4M215.0 120.9l-1.2 1.0M234.0 120.6l1.7 0.4M248.9 120.5l1.4 -0.5M253.8 120.6l1.7 -1.2M278.9 119.3l0.5 1.3M293.4 119.1l1.7 0.5M155.4 128.4l-0.4 -1.9M175.0 127.1l0.5 1.3M210.3 126.5l-1.8 0.6M229.4 125.8l0.9 1.1M239.0 125.8l1.9 0.6M283.9 124.5l0.8 1.2M160.2 133.5l0.8 -1.3M164.9 133.0l1.7 0.3M190.4 132.1l-0.9 1.2M195.4 131.9l-1.0 1.6M219.9 131.4l-0.3 1.3M229.3 131.7l1.7 -0.4M259.0 130.9l1.6 -0.3M273.9 130.4l1.4 0.3M180.3 137.6l0.3 1.6M205.5 137.1l-1.3 1.2M230.0 136.4l-0.3 2.0M234.7 136.2l0.5 2.0M269.5 135.6l-0.1 1.4M160.9 144.4l-0.8 -1.7M165.4 144.1l0.9 -1.1M175.4 142.9l0.5 2.2M190.3 142.8l0.6 1.4M195.7 142.7l-1.1 1.3M205.5 142.5l-0.9 1.3M220.5 142.5l-1.4 0.1M224.7 142.4l1.3 -0.2M254.7 141.1l0.4 2.0M270.1 141.4l-1.9 -0.1M294.7 141.1l-1.3 -1.2M180.3 148.6l1.4 0.7M190.5 148.1l0.3 1.6M200.5 147.9l-0.0 1.6M205.8 148.6l-1.3 -1.2M210.7 147.9l-1.4 0.7M215.7 148.2l-1.3 -0.8M225.6 148.1l-1.5 -1.1M229.9 147.2l0.7 1.5M240.4 147.0l-1.2 1.3M255.2 146.8l-1.1 1.1M275.0 146.8l-1.2 -0.6M280.2 146.7l-2.0 -0.5M299.8 146.0l-1.5 0.2M304.8 145.7l-1.3 0.9M319.7 145.4l-1.7 0.7M324.7 145.4l-1.7 0.3M363.5 144.9l0.9 -1.0M156.1 155.2l-0.2 -1.5M161.0 155.1l-0.0 -1.8M170.5 154.8l1.3 -1.4M185.6 153.6l0.5 1.7M200.8 153.4l-0.9 1.2M205.7 153.2l-0.5 1.3M225.5 153.5l-0.6 -1.4M234.8 152.8l1.6 0.3M250.3 152.2l-0.8 1.4M255.3 152.1l-1.0 1.2M260.0 151.8l-0.0 1.8M275.0 152.3l-0.6 -1.2M294.9 151.7l-1.3 -0.5M309.9 151.3l-1.7 -0.4M170.7 160.0l1.1 -0.8M176.1 160.0l-0.5 -1.4M220.6 159.1l-0.3 -1.6M229.9 158.6l1.8 -0.7M275.0 157.8l-0.4 -1.5M314.9 156.5l-1.5 -0.3M166.1 165.8l0.5 -2.0M170.8 165.5l1.2 -1.2M230.8 164.1l-1.0 -1.0M244.9 163.3l1.6 0.4M284.6 162.9l1.1 -1.2M294.7 162.7l0.5 -1.3M354.4 160.5l-0.7 1.5M359.7 160.9l-1.9 -0.4M364.3 160.4l-1.0 1.0M210.6 170.1l0.9 -1.8M250.2 168.1l0.9 2.0M264.9 168.5l1.4 -0.7M270.0 168.6l0.7 -1.3M284.6 168.3l1.6 -1.4M359.8 165.9l-1.9 0.9M196.2 174.8l-0.0 1.7M201.5 174.9l-1.3 1.0M206.3 175.5l-0.9 -1.4M225.6 175.1l0.7 -1.6M289.5 173.4l2.0 -0.8M299.5 172.8l1.6 0.4M304.7 173.3l0.7 -1.7M364.0 171.0l0.7 1.7M186.7 180.6l-1.1 1.0M201.8 180.6l-1.9 -0.1M210.7 180.1l1.5 0.7M220.9 180.5l0.3 -1.4M250.4 178.9l0.8 2.0M260.5 179.6l0.2 -1.4M284.8 179.0l1.6 -1.1M294.5 178.3l2.1 0.3M299.6 178.3l1.8 -0.2M363.9 176.6l1.5 0.7M181.9 186.0l-1.0 1.3M186.9 185.8l-1.2 1.7M196.9 185.8l-1.6 1.0M201.8 185.5l-1.3 1.3M211.7 186.0l-1.6 -1.1M230.5 185.2l1.7 0.2M235.6 184.9l1.2 0.9M246.4 184.8l-2.1 0.4M256.2 185.1l-1.6 -1.5M270.5 184.9l0.1 -1.9M275.2 184.4l1.2 -0.6M280.1 184.4l1.2 -1.0M294.8 183.5l1.6 1.0M299.7 183.5l1.7 0.7M172.2 191.6l-1.0 1.3M177.0 191.4l-0.7 1.5M201.9 191.4l-1.5 -0.4M216.6 191.4l-0.8 -1.5M221.3 191.3l-0.2 -1.7M230.7 190.8l1.5 -0.7M235.7 190.2l1.3 1.0M246.3 190.0l-1.1 1.0M251.5 190.3l-2.0 -0.5M266.0 190.2l-1.1 -1.3M270.8 190.2l-0.5 -1.6M300.0 188.8l1.1 0.8M304.9 188.6l1.1 1.3M309.8 188.7l1.3 0.6M182.0 196.7l-0.5 1.4M207.0 196.8l-1.4 -0.8M211.8 196.9l-1.1 -1.7M241.4 195.4l-0.8 1.5M251.5 195.5l-1.7 0.2M271.1 195.5l-1.1 -1.3M275.7 195.4l0.1 -1.6M290.4 194.2l0.4 1.6M300.2 194.1l0.9 1.1M309.9 194.0l1.3 0.6M364.2 192.8l1.4 0.6M197.2 201.9l-1.3 1.0M221.2 202.1l1.1 -1.7M241.5 200.8l-0.6 1.2M256.7 200.6l-2.1 0.7M261.5 200.9l-1.6 -0.7M266.5 200.7l-2.0 -0.5M271.4 200.7l-1.7 -0.7M281.2 200.7l-1.5 -1.5M295.6 199.4l-0.1 2.0M300.6 199.4l-0.3 1.4M305.4 199.2l0.2 1.7M359.6 198.1l0.8 1.3M202.3 207.5l-1.3 -0.3M221.3 207.4l1.4 -1.4M241.5 206.0l-0.4 1.7M246.2 205.9l0.7 1.7M251.6 205.9l-0.9 1.4M266.4 206.3l-1.2 -1.2M271.0 205.4l0.0 1.4M281.5 205.7l-1.9 -0.3M286.3 205.3l-1.6 0.9M291.2 205.0l-1.4 1.5M296.0 204.8l-1.0 1.7M177.7 213.7l-1.0 -1.2M196.8 213.3l1.2 -1.5M201.6 212.4l1.6 1.2M206.7 213.0l0.9 -1.1M221.5 212.7l1.0 -1.1M226.3 212.3l1.4 -0.2M231.3 212.0l1.4 0.4M251.7 211.3l-1.1 1.2M256.8 211.4l-1.5 0.4M266.6 211.1l-1.3 0.8M271.6 210.8l-1.7 1.4M286.1 210.4l-0.5 1.7M301.1 210.2l-1.1 1.4M360.5 209.4l-1.7 -0.7M182.7 219.1l-0.9 -1.9M196.9 218.3l1.4 -0.0M206.7 217.8l1.4 1.0M216.6 217.7l1.4 0.3M231.4 217.1l1.5 1.3M266.2 217.1l0.4 -1.3M276.5 216.0l-1.0 1.6M202.0 224.0l1.0 -1.9M216.5 223.4l2.0 -0.9M246.1 222.4l2.0 0.3M256.2 222.3l1.3 -0.2M286.1 221.2l0.5 1.7M291.3 221.2l-0.6 1.2M167.8 230.1l0.4 -1.6M182.7 229.8l0.1 -1.5M226.7 228.3l1.5 0.2M236.9 228.5l0.3 -1.5M241.6 228.2l1.2 -0.7M247.2 227.9l-1.4 -0.2M285.8 226.6l1.6 1.3M178.1 235.3l-0.7 -1.8M183.0 235.1l-0.4 -1.5M187.6 235.1l0.7 -1.9M197.7 234.7l-0.3 -1.3M207.0 234.3l1.8 -0.7M227.5 233.4l-1.0 1.0M231.8 233.4l1.3 0.6M237.2 233.9l-0.4 -1.4M261.5 233.4l1.1 -1.6M286.1 232.8l1.2 -1.3M296.2 231.7l0.4 1.5M192.8 240.3l0.1 -1.6M197.7 240.3l0.4 -1.9M203.2 239.5l-1.7 0.6M256.7 238.7l0.8 -1.1M213.1 244.6l-1.3 0.6M218.1 244.4l-1.7 0.9M223.1 244.5l-1.7 0.0M228.1 244.6l-2.0 -0.7M232.8 244.7l-1.4 -1.2M252.7 243.9l-1.8 0.1M262.4 243.5l-1.5 0.5M266.8 243.9l0.5 -1.3M301.8 242.9l-1.3 -0.3M183.0 250.5l1.0 1.0M193.2 250.1l-0.3 1.6M198.2 250.0l-0.4 1.6M213.2 249.8l-1.4 1.4M218.1 249.6l-1.1 1.7M223.3 249.8l-1.9 0.4M286.9 249.1l-0.4 -2.0M306.5 247.7l0.0 1.5M207.7 255.2l1.1 1.3M213.1 254.9l-0.4 2.0M223.2 255.6l-1.4 -1.2M272.5 253.9l-1.3 0.9M302.2 253.4l-1.8 0.4M311.9 253.4l-1.3 -0.1M193.0 260.9l1.3 1.5M198.1 260.7l0.9 1.8M203.0 260.8l1.0 1.2M212.9 260.4l0.8 1.7M218.2 260.3l-0.7 1.6M238.1 260.3l-1.4 -0.0M277.3 259.0l-0.7 1.7M282.2 259.7l-0.6 -1.2M307.3 258.9l-2.1 -0.1M193.2 266.3l1.3 1.4M242.9 265.2l-0.5 1.4M282.6 264.5l-1.6 1.0M312.2 263.8l-1.5 1.1M183.3 272.4l2.0 -0.5M188.3 272.0l1.6 0.5M228.0 271.7l0.6 -1.5M238.3 271.4l-1.2 -1.2M277.8 270.1l-1.6 0.5M307.4 269.3l-1.8 1.1M312.4 269.3l-1.8 0.7M164.5 277.5l-0.8 1.8M169.4 278.3l-0.5 -1.3M174.4 278.2l-0.9 -1.4M188.6 277.7l1.2 -0.7M203.3 276.9l1.3 1.2M208.1 276.9l1.8 0.8M227.9 277.2l1.3 -1.8M233.3 277.2l-0.4 -2.1M302.1 274.7l-0.0 1.3" fill="none" stroke="#74a8d8" stroke-width="1.25" stroke-linecap="round" stroke-opacity=".88"/>
<path d="M188.5 78.5l1.8 1.8M224.1 77.9l-2.6 0.2M248.5 77.4l-2.5 -0.6M258.5 77.3l-1.8 -1.9M268.6 77.4l-1.6 -2.1M173.6 84.0l1.5 1.7M178.3 84.1l2.3 1.1M183.5 83.8l1.8 1.9M188.3 83.8l2.2 1.1M243.6 83.1l-0.6 -2.5M248.7 83.0l-1.6 -2.1M159.7 90.7l-1.5 -2.1M164.6 90.7l-1.3 -2.2M184.2 88.9l-0.5 2.5M239.3 88.2l-2.5 0.7M253.7 87.9l-2.5 0.7M263.9 88.0l-2.3 -1.2M268.8 87.6l-2.6 0.3M283.9 87.0l-2.1 1.0M327.6 85.6l1.1 2.2M159.8 95.9l-2.0 -1.6M164.4 95.8l0.3 -2.6M188.5 95.1l2.3 -0.6M213.7 94.9l1.0 -2.1M218.8 94.8l0.7 -2.3M223.5 94.6l1.4 -2.0M243.4 93.8l2.2 -1.4M343.5 90.7l-1.8 1.8M253.6 99.1l1.0 -2.4M159.7 107.0l0.2 -2.4M164.7 106.4l-1.0 -2.4M233.9 104.6l2.5 -0.7M353.7 102.0l-2.2 -0.7M199.9 111.3l-1.2 -2.0M263.4 108.7l1.8 1.8M313.1 108.2l2.4 -1.0M228.8 115.5l2.6 -0.5M233.8 115.0l2.0 1.0M253.9 114.9l2.5 -0.7M258.7 115.2l1.6 -1.6M263.4 114.8l2.3 -0.7M268.3 114.5l2.6 0.0M273.9 113.9l0.3 2.6M180.6 122.3l-2.2 -1.3M224.4 120.4l0.5 2.5M229.2 120.2l1.1 2.4M185.2 127.2l-2.6 0.1M189.8 127.7l0.9 -2.4M195.5 126.6l-1.9 1.3M200.1 126.9l-2.6 -0.1M205.3 126.4l-1.9 1.8M220.4 126.2l-2.4 0.6M234.2 125.4l1.4 2.2M244.3 125.5l1.0 2.4M215.4 131.7l-2.4 0.9M234.3 130.9l1.3 1.9M244.6 130.5l0.1 2.4M284.8 129.9l-2.1 1.6M363.4 128.6l1.4 -2.2M174.8 138.0l2.3 0.7M185.4 137.7l-0.7 2.5M190.6 137.2l-1.1 2.1M195.4 137.6l-1.6 2.0M210.8 137.2l-2.5 0.6M220.5 136.8l-2.1 1.5M225.1 136.6l-1.0 2.4M244.9 135.9l-0.7 2.2M249.7 136.3l-0.6 2.5M230.0 142.0l0.0 2.6M240.2 141.4l-0.9 2.4M358.4 139.9l1.0 -2.1M156.0 150.0l-0.4 -2.3M185.1 148.8l2.6 -0.4M195.8 147.9l-1.1 2.4M235.1 147.4l-0.4 2.6M245.1 147.1l-1.2 2.3M260.0 146.6l-1.0 2.4M265.0 146.6l-1.6 2.1M295.2 146.1l-2.5 0.2M190.6 153.3l0.6 2.5M195.2 153.2l1.5 2.1M215.4 154.1l0.1 -2.6M244.9 152.3l1.0 2.4M270.2 152.2l-2.5 -0.9M290.3 151.8l-2.4 -0.4M325.0 150.8l-2.4 0.3M195.4 158.6l1.4 1.9M215.5 159.5l0.2 -2.6M225.4 158.9l0.5 -2.5M236.0 158.4l-2.4 -0.4M250.2 157.2l0.0 2.5M220.3 164.6l1.4 -2.2M225.4 169.8l1.3 -2.3M182.0 175.7l-2.6 -0.3M191.9 175.2l-2.5 0.6M215.6 175.3l1.6 -2.1M265.0 174.3l1.4 -2.0M274.8 173.9l1.7 -1.6M284.7 173.3l2.6 -0.2M215.7 180.8l1.1 -1.9M270.2 179.3l1.3 -2.2M304.5 178.3l2.5 -0.6M265.6 184.7l0.4 -2.6M309.4 183.4l2.4 0.1M197.1 190.9l-2.0 1.7M211.4 191.7l0.1 -2.6M241.4 189.8l-1.2 2.2M256.5 189.8l-2.4 1.1M261.2 190.4l-1.8 -1.8M191.9 196.6l-0.9 2.4M226.0 196.4l2.0 -1.7M246.5 195.3l-1.9 1.7M261.3 195.6l-2.1 -1.5M295.5 194.2l-0.1 2.6M172.3 202.1l-0.5 2.3M182.2 202.4l-2.5 0.7M187.5 201.8l-1.7 2.0M246.5 200.3l-1.0 2.4M290.9 199.6l-1.2 2.3M187.2 207.7l-2.4 1.0M192.4 207.2l-1.5 2.1M261.7 205.6l-1.8 1.6M276.7 205.6l-2.5 0.3M301.1 204.7l-1.7 1.9M305.9 204.8l-2.0 1.7M182.4 213.9l-0.1 -2.3M281.3 210.5l-1.4 2.2M365.1 208.6l-0.9 2.4M177.6 219.3l-0.5 -2.5M246.0 216.8l2.0 1.3M291.2 215.8l-1.1 2.4M296.3 215.4l-1.4 2.1M172.9 224.8l-0.8 -2.5M177.8 224.7l-0.7 -2.5M187.7 224.6l-0.5 -2.6M197.1 224.0l1.8 -1.9M207.0 223.5l2.5 -0.8M261.2 222.2l2.6 -0.3M265.8 222.0l2.2 0.2M296.0 220.9l0.0 2.6M177.9 229.9l-0.3 -2.6M212.0 229.2l1.1 -2.0M256.3 228.2l1.4 -2.2M261.0 227.8l2.2 -1.0M265.9 227.7l2.2 -0.9M275.9 226.8l2.1 1.6M202.7 234.6l-1.1 -2.4M211.9 234.3l2.4 -1.1M247.1 234.0l-0.3 -2.6M271.1 233.2l1.8 -1.6M178.1 240.8l-0.2 -2.6M182.9 240.7l0.5 -2.3M266.4 238.2l2.6 -0.1M276.1 238.5l1.9 -1.7M281.2 238.2l2.1 -1.6M286.1 237.5l2.3 1.2M301.8 236.9l-1.5 1.7M237.9 244.4l-2.5 -0.6M242.9 243.7l-2.2 1.5M247.4 244.0l-2.5 -0.5M286.7 243.8l-0.3 -2.3M247.8 249.3l-2.5 0.6M272.2 249.2l-1.5 -2.1M203.0 255.3l0.9 2.4M247.6 254.4l-1.2 2.3M277.1 254.6l-0.2 -2.6M287.4 254.2l-2.0 -1.1M297.0 254.2l-1.4 -2.2M307.0 252.9l-1.3 1.9M207.9 260.3l1.1 2.3M223.6 260.4l-2.2 1.0M233.2 260.9l-1.7 -1.9M247.9 259.7l-1.8 1.9M262.6 259.2l-1.0 2.4M272.5 259.3l-1.8 1.9M297.6 259.1l-2.5 -0.3M301.9 258.9l-2.5 0.7M198.1 265.9l1.2 2.2M203.3 266.4l2.5 0.8M212.7 265.8l1.8 1.7M218.3 265.5l-0.4 2.6M228.7 266.0l-2.6 -0.2M233.4 265.8l-2.6 0.1M257.5 265.1l0.6 2.5M267.6 264.4l-0.7 2.5M292.4 265.0l-1.8 -1.9M297.5 264.4l-2.6 0.2M302.0 264.3l-2.5 0.7M193.2 272.0l2.6 0.3M203.0 271.4l2.0 1.6M217.8 271.2l2.1 1.5M257.9 270.0l-0.8 2.5M272.3 269.7l0.7 2.3M287.8 270.2l-2.5 -0.8M297.3 269.5l-1.7 2.0M198.2 277.3l2.6 0.2M217.8 276.7l2.3 0.6M242.8 276.4l2.5 -0.7M247.8 276.2l2.6 0.3M267.6 275.5l0.7 2.5M272.5 275.5l0.7 2.5M281.7 275.4l2.6 0.2" fill="none" stroke="#8dbde5" stroke-width="1.25" stroke-linecap="round" stroke-opacity=".88"/>
<path d="M174.7 80.1l1.7 2.0M243.3 77.4l-2.2 -1.4M159.3 84.6l1.5 -2.1M169.3 84.6l2.6 0.0M155.3 89.4l1.9 -1.8M168.5 89.9l-2.6 -0.2M169.3 95.3l-0.8 -2.5M174.8 93.8l0.9 -2.4M263.2 93.0l-2.6 -0.5M267.2 94.5l-1.7 1.9M164.4 100.5l-1.0 -2.4M173.5 98.5l-1.1 -2.4M224.2 99.2l1.1 -2.4M238.9 99.1l-0.2 -2.6M343.1 96.6l-1.3 2.3M244.5 104.4l2.5 0.5M250.1 104.3l2.6 0.2M255.3 103.6l2.5 -0.9M260.2 104.9l2.1 1.5M264.6 104.7l1.7 1.9M215.1 111.1l1.9 1.8M220.3 110.4l2.6 0.2M229.8 110.6l2.0 1.7M240.8 110.3l2.5 0.7M250.2 108.9l2.2 -1.4M254.4 109.0l1.7 -2.0M258.9 109.3l2.3 1.2M278.6 110.4l-0.4 2.6M165.0 117.0l0.3 -2.6M241.3 114.9l2.6 -0.3M244.6 114.9l2.3 -1.1M251.0 113.3l1.9 -1.8M245.2 120.8l2.3 1.1M265.1 120.0l2.6 0.0M270.1 120.5l2.2 1.4M224.5 127.4l-0.3 2.6M255.7 125.6l2.6 0.0M171.1 132.4l2.1 -1.5M199.8 132.2l-2.6 0.1M204.4 132.0l-2.5 -0.7M209.2 132.0l-2.6 0.1M225.2 131.8l2.5 0.8M241.3 133.0l1.8 1.9M199.4 137.7l-2.6 0.3M215.0 137.3l-2.6 -0.1M358.6 134.0l1.4 -2.2M198.4 143.5l-2.5 0.7M206.8 144.0l-2.4 0.9M249.6 142.6l-0.9 2.5M166.0 148.7l1.1 -2.4M185.8 159.4l2.3 1.2M191.0 159.4l2.2 1.4M215.7 164.1l0.0 -2.6M275.1 168.2l2.0 -1.7M265.5 178.9l0.7 -2.5M275.7 178.5l1.7 -2.0M290.5 178.5l2.6 -0.4M191.5 186.1l-2.1 1.5M315.1 183.3l2.6 -0.1M181.6 192.3l-0.7 2.5M186.6 191.8l-1.7 2.0M190.5 192.1l-2.3 1.2M186.8 197.1l-1.5 2.1M196.7 196.8l-1.6 2.1M306.6 195.2l2.1 1.6M360.0 193.2l2.4 0.9M191.3 203.1l-1.6 2.1M180.8 208.4l-2.4 1.0M197.0 207.5l-2.4 1.0M256.2 206.2l-2.6 -0.4M289.9 211.7l-1.9 1.8M295.4 211.2l-1.6 2.1M212.0 217.9l2.2 -1.4M261.8 217.0l2.3 1.3M286.0 216.3l-1.8 1.8M182.2 222.8l-0.9 -2.4M192.4 223.7l-0.6 -2.5M187.3 227.8l-0.7 -2.5M192.5 225.6l-0.1 -2.6M198.2 228.4l1.9 -1.7M272.4 227.1l2.5 -0.5M192.6 234.2l-1.2 -2.3M276.6 232.6l2.1 -1.6M252.0 238.4l-0.6 -2.5M291.7 237.7l2.5 0.8M207.9 250.6l0.2 2.6M227.6 249.8l-2.6 0.1M231.8 249.6l-2.6 -0.4M237.4 249.6l-2.3 -1.2M241.1 250.1l-2.3 1.1M311.2 247.4l-0.8 -2.5M225.2 254.8l-2.6 -0.4M232.5 255.0l-2.4 -1.1M237.5 254.6l-1.0 -2.4M240.0 255.9l-2.4 1.0M252.2 255.1l-1.1 2.4M256.4 255.2l-2.1 1.5M291.2 252.5l-1.1 -2.4M224.3 259.9l-2.6 -0.5M241.8 261.1l-1.9 1.8M248.9 260.1l-2.6 0.0M257.2 260.4l-0.9 2.4M266.1 261.6l-1.4 2.2M284.6 259.2l-2.6 -0.1M288.5 260.4l-2.4 0.9M208.9 267.4l1.2 2.3M234.3 264.8l-2.5 -0.6M245.2 267.9l-1.9 1.8M251.4 268.8l-0.9 2.5M262.5 266.0l0.2 2.6M271.1 267.0l-1.4 2.2M275.6 266.0l-2.1 1.6M286.2 264.4l-2.5 -0.8M200.7 273.7l2.0 1.7M210.1 274.7l1.3 2.3M247.8 271.1l-0.7 2.5M251.7 273.3l-1.0 2.4M262.4 271.1l-0.9 2.5M267.5 270.5l-0.2 2.6M282.3 270.1l-2.5 -0.8M289.9 270.8l-2.4 0.9M299.6 270.2l-2.6 0.5M213.6 277.1l1.0 2.4M238.5 276.4l2.6 -0.1M253.1 276.5l1.3 2.2M264.4 278.1l1.6 2.0" fill="none" stroke="#b4d8f1" stroke-width="1.25" stroke-linecap="round" stroke-opacity=".88"/>
<path d="M187.2 77.3l2.2 2.1M225.6 77.8l-2.8 0.2M245.7 78.9l-3.4 -2.2M250.7 77.9l-3.4 -0.8M259.8 78.8l-2.2 -2.4M269.4 78.4l-1.6 -2.0M157.5 87.3l2.6 -3.8M166.2 84.6l4.4 0.0M177.4 83.6l2.1 1.0M182.6 82.8l1.8 1.9M187.3 83.3l2.1 1.1M244.1 85.1l-0.8 -3.2M249.8 84.5l-1.9 -2.5M160.5 91.8l-1.6 -2.1M165.2 91.7l-1.2 -2.0M172.5 90.3l-5.3 -0.5M184.4 87.8l-0.4 2.3M240.5 87.8l-2.5 0.7M255.9 87.3l-3.5 1.0M265.4 88.7l-2.7 -1.3M270.7 87.4l-3.2 0.4M327.2 84.6l1.1 2.0M161.1 96.9l-2.3 -1.9M164.1 97.7l0.4 -3.2M170.2 97.9l-1.2 -3.9M222.9 95.5l1.3 -1.9M241.9 94.8l2.7 -1.6M266.5 93.7l-4.6 -0.9M344.2 89.9l-1.7 1.7M165.7 103.6l-1.7 -4.2M222.9 102.1l1.8 -4.1M239.1 101.7l-0.3 -3.9M253.0 100.8l1.2 -2.9M344.3 94.4l-1.9 3.3M165.6 108.5l-1.3 -3.3M231.7 105.3l3.4 -1.0M241.0 103.7l4.7 1.0M211.8 107.9l4.1 4.0M215.8 110.0l5.8 0.5M226.7 107.8l4.1 3.6M252.0 111.9l3.3 -3.9M256.7 108.2l3.3 1.7M262.6 107.9l1.7 1.7M311.5 108.9l2.8 -1.2M164.6 119.4l0.5 -3.7M227.4 115.8l2.7 -0.5M241.6 116.4l4.2 -2.0M251.9 115.5l3.3 -0.9M267.1 114.5l2.5 0.0M273.7 112.3l0.3 3.0M181.5 122.9l-2.0 -1.2M224.1 118.8l0.6 2.9M228.7 119.0l1.1 2.4M241.2 118.9l5.1 2.5M260.7 119.9l5.6 0.1M187.6 127.1l-3.7 0.2M189.3 128.9l0.9 -2.4M202.4 126.9l-3.6 -0.1M206.3 125.3l-2.0 1.9M221.5 125.9l-2.2 0.6M225.2 122.6l-0.8 6.1M233.6 124.5l1.3 2.1M243.7 123.8l1.2 2.9M167.5 135.0l4.6 -3.4M202.9 132.2l-4.3 0.1M208.1 132.9l-4.9 -1.3M213.3 131.9l-5.3 0.2M216.8 131.2l-2.7 1.0M222.0 130.7l4.5 1.5M285.8 129.1l-2.0 1.6M362.1 130.4l1.9 -2.9M186.0 135.7l-0.9 3.3M196.7 135.8l-2.2 2.7M203.6 137.2l-5.5 0.6M211.8 136.9l-2.3 0.6M217.7 137.4l-4.0 -0.2M221.6 136.0l-2.1 1.5M225.7 135.0l-1.1 2.8M250.2 134.1l-0.8 3.4M357.2 136.0l2.1 -3.2M230.0 139.9l0.0 3.4M240.6 140.4l-0.8 2.2M250.9 138.6l-1.8 5.2M164.6 152.0l2.0 -4.4M183.5 149.0l2.9 -0.4M196.3 146.7l-1.1 2.3M235.4 145.1l-0.5 3.6M246.1 145.2l-1.7 3.1M260.7 144.9l-1.2 2.8M266.1 145.1l-1.9 2.5M296.2 146.0l-2.3 0.2M190.3 152.0l0.6 2.6M194.5 152.3l1.4 2.0M215.4 155.2l0.1 -2.4M244.2 150.7l1.2 2.7M272.0 152.8l-3.0 -1.0M183.6 158.3l3.3 1.7M188.5 157.8l3.6 2.3M215.4 160.6l0.1 -2.4M225.0 160.6l0.6 -3.0M250.1 156.1l0.0 2.4M215.7 166.7l0.0 -3.9M219.6 165.6l1.3 -2.1M224.7 170.9l1.3 -2.2M273.2 169.7l2.9 -2.4M183.3 175.8l-2.6 -0.3M193.1 174.9l-2.4 0.6M214.8 176.4l1.6 -2.1M283.0 173.4l2.9 -0.2M264.8 181.8l1.1 -4.1M269.3 180.8l1.6 -2.6M273.3 181.2l3.3 -3.7M287.4 179.0l4.4 -0.7M303.0 178.6l2.8 -0.6M193.6 184.6l-3.1 2.2M265.3 186.8l0.5 -3.4M312.4 183.4l4.0 -0.2M182.6 188.7l-1.3 4.8M188.5 189.5l-2.7 3.3M198.0 190.2l-1.9 1.7M211.3 193.1l0.1 -2.7M241.9 188.8l-1.1 2.0M257.6 189.3l-2.3 1.1M262.2 191.4l-2.0 -1.9M188.4 194.8l-2.4 3.3M192.6 194.7l-1.1 3.2M198.3 194.7l-2.4 3.2M224.7 197.5l2.3 -2.0M247.6 194.3l-2.1 1.9M262.7 196.6l-2.5 -1.7M295.5 192.2l-0.1 3.3M357.0 192.1l4.2 1.5M184.4 201.8l-3.4 1.0M188.2 201.0l-1.6 1.8M194.1 199.4l-3.6 4.7M246.9 199.3l-0.9 2.2M291.6 198.2l-1.3 2.5M189.4 206.8l-3.4 1.4M193.3 206.0l-1.6 2.2M199.3 206.5l-3.5 1.5M258.8 206.6l-3.9 -0.7M277.7 205.5l-2.3 0.3M301.9 203.8l-1.7 1.9M307.3 203.6l-2.4 2.0M282.1 209.3l-1.5 2.3M297.8 208.1l-3.2 4.1M365.6 207.2l-1.0 2.7M177.9 220.7l-0.5 -2.7M209.9 219.3l3.3 -2.1M258.7 215.3l4.2 2.3M287.9 214.4l-2.8 2.9M291.9 214.2l-1.3 2.8M296.9 214.5l-1.3 2.0M173.3 226.0l-0.8 -2.4M178.2 225.9l-0.7 -2.5M187.9 225.7l-0.5 -2.4M193.1 226.3l-0.9 -3.9M195.9 225.1l2.1 -2.1M205.0 224.1l3.3 -1.0M259.2 222.4l3.3 -0.4M296.0 219.4l0.0 2.8M178.1 231.5l-0.4 -2.9M194.9 231.4l4.3 -3.9M255.7 229.3l1.4 -2.2M268.1 228.1l5.6 -1.2M274.9 226.1l2.0 1.5M194.1 237.0l-2.1 -3.9M203.5 236.3l-1.4 -2.9M210.6 234.9l2.4 -1.1M247.2 235.1l-0.3 -2.4M270.3 233.9l1.7 -1.5M274.4 234.2l3.2 -2.5M178.2 242.2l-0.2 -2.7M252.6 241.2l-0.9 -4.1M264.7 238.3l3.0 -0.2M275.3 239.2l1.8 -1.6M279.9 239.1l2.3 -1.7M284.7 236.8l2.6 1.3M288.8 236.8l4.1 1.3M239.3 244.7l-2.7 -0.7M243.9 243.1l-2.1 1.4M249.6 244.5l-3.5 -0.7M207.7 247.3l0.4 4.5M230.3 249.7l-4.0 0.1M235.8 250.2l-5.3 -0.8M239.8 250.8l-3.6 -1.9M249.4 248.9l-2.9 0.7M273.3 250.6l-1.8 -2.5M312.4 251.1l-1.6 -4.9M202.4 253.7l1.0 2.8M235.2 256.3l-3.9 -1.8M238.8 257.7l-1.8 -4.3M248.5 252.8l-1.5 2.8M253.7 251.8l-2.1 4.5M260.3 252.4l-5.0 3.6M277.1 256.2l-0.2 -2.8M297.8 255.3l-1.5 -2.3M207.4 259.4l1.0 2.1M224.6 259.9l-2.1 1.0M234.2 262.0l-1.9 -2.1M249.0 258.6l-1.9 2.1M258.5 256.9l-1.7 4.7M263.1 258.0l-1.0 2.4M273.8 258.0l-2.2 2.2M298.6 259.2l-2.3 -0.3M304.1 258.3l-3.4 1.0M197.6 265.0l1.1 2.1M201.1 265.7l3.4 1.2M212.0 265.0l1.6 1.6M218.5 264.2l-0.5 2.6M229.9 266.1l-2.5 -0.2M235.0 265.8l-2.9 0.1M257.0 262.9l0.8 3.4M262.3 261.8l0.4 5.5M267.9 263.2l-0.7 2.5M290.4 265.7l-5.4 -1.8M293.4 266.0l-1.8 -1.9M299.0 264.2l-2.9 0.2M304.3 263.7l-3.6 1.0M191.6 271.8l2.9 0.3M202.1 270.7l1.9 1.5M216.7 270.4l2.2 1.5M248.6 268.2l-1.2 4.1M258.3 268.8l-0.8 2.5M263.7 267.5l-1.7 4.8M267.8 267.7l-0.4 4.1M284.8 270.9l-3.7 -1.2M289.1 270.6l-2.5 -0.8M298.5 268.1l-2.0 2.4M196.6 277.2l2.9 0.2M212.4 274.5l1.6 3.8M235.1 276.6l4.7 -0.3M240.8 277.0l3.2 -1.0M245.5 276.0l3.6 0.3M251.3 273.5l2.4 4.1M267.0 273.6l0.9 3.1M271.9 273.4l0.9 3.3M280.6 275.4l2.4 0.1" fill="none" stroke="#f2f8fb" stroke-width=".75" stroke-opacity=".85"/>
<path d="M171.4 76.2l4.2 4.8M151.4 93.0l4.8 -4.4M172.9 99.1l2.4 -6.6M271.7 89.5l-5.4 5.9M176.5 105.1l-3.5 -7.8M245.2 104.0l6.3 0.4M250.1 105.5l6.5 -2.3M255.4 101.6l5.8 4.0M261.3 101.1l4.2 4.6M235.1 108.7l7.0 1.9M245.8 111.7l5.5 -3.5M279.4 104.8l-1.0 6.8M234.7 115.8l7.9 -1.0M245.6 118.4l6.3 -6.0M266.0 117.8l5.3 3.3M250.5 125.5l6.6 0.1M236.3 127.7l5.9 6.2M204.7 141.7l-7.6 2.2M216.1 140.6l-10.5 3.9M195.1 189.7l-5.7 3.0M302.0 191.8l5.6 4.2M186.0 206.3l-6.4 2.6M293.8 208.0l-4.9 4.6M183.9 227.5l-2.2 -5.9M188.7 233.1l-1.7 -6.6M192.7 235.2l-0.2 -10.9M246.1 247.8l-6.1 2.9M232.9 256.0l-9.0 -1.3M247.5 252.8l-8.7 3.7M293.5 257.4l-2.9 -6.2M234.0 261.7l-11.0 -2.0M245.4 257.6l-4.6 4.4M258.8 259.9l-11.2 0.2M269.8 255.6l-4.4 7.1M292.0 259.4l-8.8 -0.2M297.8 257.0l-10.5 3.9M206.5 263.1l3.0 5.5M243.9 267.3l-10.8 -2.8M252.1 261.2l-7.8 7.6M254.7 259.5l-3.7 10.6M275.0 260.8l-4.6 7.3M280.9 262.1l-6.3 4.7M194.5 268.5l7.2 6.0M205.5 266.5l5.2 9.3M254.9 265.8l-3.7 8.7M296.8 268.1l-8.2 3.1M306.9 268.7l-8.6 1.7M259.4 271.8l5.9 7.3" fill="none" stroke="#fffce0" stroke-width=".85" stroke-opacity=".95"/>
<use href="#grid"/>
</g>
<rect x="150.5" y="73.5" width="219" height="207.8" fill="none" stroke="#000" stroke-width="1.1"/>
<text x="150.9" y="62.6" font-size="13.89" text-anchor="middle">112.5°E</text>
<text x="157.1" y="298.7" font-size="13.89" text-anchor="middle">112.5°E</text>
<text x="213.5" y="62.6" font-size="13.89" text-anchor="middle">113°E</text>
<text x="219.2" y="298.7" font-size="13.89" text-anchor="middle">113°E</text>
<text x="276.1" y="62.6" font-size="13.89" text-anchor="middle">113.5°E</text>
<text x="281.2" y="298.7" font-size="13.89" text-anchor="middle">113.5°E</text>
<text x="338.7" y="62.6" font-size="13.89" text-anchor="middle">114°E</text>
<text x="343.3" y="298.7" font-size="13.89" text-anchor="middle">114°E</text>
<text x="142.9" y="97.1" font-size="13.89" text-anchor="end">21.6°S</text>
<text x="142.9" y="123.8" font-size="13.89" text-anchor="end">21.8°S</text>
<text x="142.9" y="150.4" font-size="13.89" text-anchor="end">22°S</text>
<text x="142.9" y="177.1" font-size="13.89" text-anchor="end">22.2°S</text>
<text x="142.9" y="203.7" font-size="13.89" text-anchor="end">22.4°S</text>
<text x="142.9" y="230.4" font-size="13.89" text-anchor="end">22.6°S</text>
<text x="142.9" y="257.1" font-size="13.89" text-anchor="end">22.8°S</text>
<text x="142.9" y="283.7" font-size="13.89" text-anchor="end">23°S</text>
<rect x="383.5" y="125.5" width="5.1" height="103.9" fill="url(#cb)" stroke="#000" stroke-width="1.1"/>
<path d="M389.1 125.50h4.8" stroke="#000" stroke-width="1.1"/>
<text x="398.4" y="130.0" font-size="13.89" letter-spacing="-.55">1.0</text>
<path d="M389.1 177.45h4.8" stroke="#000" stroke-width="1.1"/>
<text x="398.4" y="182.4" font-size="13.89" letter-spacing="-.55">0.5</text>
<path d="M389.1 229.40h4.8" stroke="#000" stroke-width="1.1"/>
<text x="398.4" y="234.9" font-size="13.89" letter-spacing="-.55">0.0</text>
</g>
</svg></body></html>
